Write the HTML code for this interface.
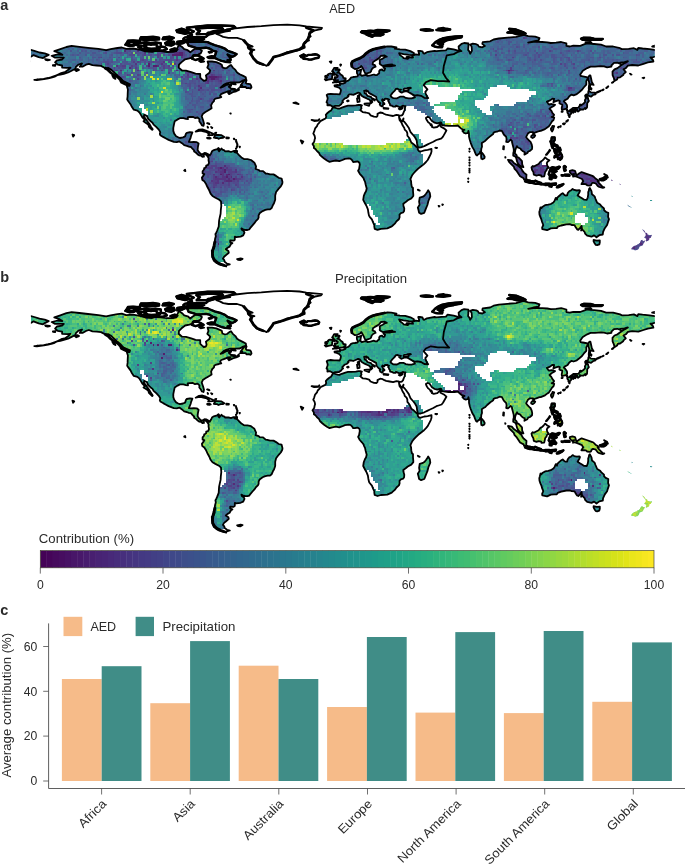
<!DOCTYPE html>
<html><head><meta charset="utf-8"><title>Figure</title>
<style>html,body{margin:0;padding:0;background:#fff}svg{display:block}text{font-family:"Liberation Sans",Arial,sans-serif;fill:#2b2b2b}</style>
</head><body>
<svg width="685" height="865" viewBox="0 0 685 865">
<rect width="685" height="865" fill="#fff"/>
<defs>
<clipPath id="land"><path clip-rule="evenodd" d="M217.2 149.1L218.5 148.0L219.4 149.1L218.4 150.4L219.2 151.3L221.5 148.5L222.4 149.6L224.4 150.4L225.0 151.3L228.4 151.1L231.0 152.0L233.6 151.0L235.4 151.0L234.5 152.2L237.1 153.0L238.8 154.8L241.4 157.4L244.0 159.1L247.5 159.1L251.0 160.0L253.2 161.7L254.4 162.6L256.1 166.4L255.6 169.0L258.7 170.0L259.6 170.9L263.1 171.2L265.7 173.5L267.4 173.7L270.0 174.4L273.5 174.4L276.1 175.9L278.7 177.8L281.6 178.5L282.5 182.0L282.3 183.5L280.8 186.3L278.7 188.6L276.1 192.0L275.2 195.5L275.2 199.8L274.0 203.3L273.0 204.9L271.7 208.0L270.0 209.4L267.8 209.4L265.3 209.9L262.6 211.1L259.6 213.3L258.6 215.4L258.6 217.7L257.9 219.1L256.1 220.8L254.4 223.2L252.5 225.3L250.3 227.9L249.2 229.5L247.5 230.0L245.4 230.0L242.6 229.1L241.4 228.4L241.8 229.8L243.7 231.0L244.5 232.6L243.2 235.4L240.6 236.6L236.2 237.1L234.8 236.7L234.8 239.7L233.6 240.7L230.2 240.4L230.2 242.3L232.4 243.2L231.0 244.0L229.6 246.6L227.6 247.7L225.8 249.2L228.4 251.0L228.8 252.7L225.8 255.3L224.1 256.7L222.9 258.7L224.3 260.1L224.6 261.7L227.0 263.6L229.8 264.3L227.6 265.0L225.0 265.7L226.2 266.5L222.4 265.5L218.9 264.3L216.3 262.7L213.7 260.5L212.3 257.0L212.0 253.6L211.8 250.6L213.7 248.9L214.6 246.6L214.2 244.0L214.6 241.9L215.1 238.8L215.8 236.2L215.4 234.0L216.1 233.1L217.0 231.0L218.7 226.7L218.9 223.2L219.1 220.6L219.8 217.2L220.6 213.7L220.8 210.2L221.3 205.9L221.0 201.4L218.9 199.5L215.4 197.7L212.5 196.0L210.6 193.6L209.2 190.3L207.3 186.8L205.9 183.7L204.3 181.3L202.3 179.9L201.9 177.6L203.6 175.4L204.3 174.0L202.6 173.5L202.6 171.2L204.0 169.5L204.2 168.1L205.0 167.8L206.2 166.9L206.2 165.5L208.1 164.8L209.0 162.9L208.5 160.0L208.7 158.2L207.8 156.8L206.9 155.5L205.0 153.9L203.5 155.3L204.0 156.7L202.4 156.8L201.0 155.6L199.0 155.3L197.7 154.4L195.8 152.5L194.1 151.5L194.1 150.3L192.4 148.7L191.0 147.0L188.9 146.6L186.8 145.8L184.2 145.2L182.0 143.2L179.4 141.4L176.8 142.1L173.8 141.9L171.2 140.9L168.6 139.9L166.0 138.5L163.1 136.9L160.3 135.2L159.8 134.0L160.3 132.1L158.8 129.6L156.2 126.9L153.6 124.6L152.5 122.7L150.4 121.0L148.2 118.9L147.0 116.1L144.2 114.6L143.9 116.5L145.9 119.2L147.7 121.7L149.7 124.4L151.1 126.9L152.7 129.3L152.2 129.8L149.1 127.0L148.2 124.4L145.2 122.4L143.5 121.3L144.9 119.8L142.3 117.3L140.6 114.4L139.5 112.5L137.4 110.6L133.8 109.7L131.5 106.2L130.5 104.2L128.3 101.2L127.2 99.5L127.6 96.7L127.7 93.2L127.9 89.4L126.7 85.6L129.6 85.8L130.0 84.2L127.0 82.8L123.1 81.1L121.0 78.5L117.5 75.6L114.9 73.1L111.4 69.9L108.0 67.9L105.4 68.3L101.0 65.9L96.7 65.5L92.4 65.2L88.9 63.8L86.0 64.7L82.9 66.6L79.7 66.7L82.0 63.4L78.5 64.5L75.9 66.9L75.4 68.8L71.6 70.7L68.1 72.5L63.8 73.8L60.3 74.7L57.2 75.1L61.2 73.0L65.5 71.8L69.0 69.3L70.4 67.6L67.3 67.9L62.1 67.6L62.1 65.5L57.7 64.7L55.1 62.4L56.9 60.3L62.1 59.5L63.8 57.7L60.3 57.7L55.1 57.7L51.7 55.8L57.7 54.3L62.4 54.8L59.5 53.0L54.3 51.1L60.3 49.1L66.4 47.0L71.6 45.9L79.4 46.8L88.0 47.8L98.4 48.9L106.2 50.1L110.6 49.1L117.5 48.0L121.8 47.5L126.2 48.9L133.1 48.5L140.9 49.9L145.2 51.3L152.2 51.8L155.6 50.8L160.8 51.1L166.9 52.0L173.0 51.8L176.4 51.1L176.8 48.9L179.0 44.9L182.5 47.3L184.2 49.2L187.7 50.1L190.3 52.3L192.4 50.6L195.5 48.5L199.8 49.1L201.9 50.8L200.7 53.4L198.1 54.6L193.8 54.8L192.9 57.2L189.4 58.4L185.1 59.3L181.6 62.1L179.0 64.7L178.7 67.6L182.0 70.5L186.0 70.7L191.2 72.1L195.5 73.7L200.2 74.0L200.3 77.7L202.1 79.4L203.8 80.8L205.9 80.3L206.6 78.5L205.9 75.4L209.4 72.8L210.2 70.4L207.3 67.6L208.5 64.7L207.6 61.5L212.0 61.5L216.3 62.1L219.8 63.6L221.8 64.7L222.4 67.3L225.0 68.3L227.0 67.8L229.3 65.9L231.0 65.0L232.8 67.6L235.4 69.9L237.1 72.5L239.7 74.2L243.2 75.9L245.8 77.3L246.1 79.4L243.2 80.4L239.7 82.3L235.4 82.5L230.2 82.5L226.7 83.4L223.6 84.9L220.6 87.7L222.7 87.0L226.7 84.8L231.0 84.4L231.2 85.6L228.8 86.7L230.5 88.0L231.4 89.4L234.5 90.1L237.1 90.1L238.8 88.2L239.0 90.0L236.2 91.3L232.8 92.2L229.1 94.1L228.1 92.9L230.5 91.0L227.6 91.3L225.8 92.2L223.2 93.1L221.0 94.1L220.1 95.7L221.3 97.1L218.9 97.8L215.4 98.6L214.2 99.7L214.0 101.2L212.3 102.8L211.1 105.4L211.6 108.2L209.7 109.5L207.6 110.8L205.4 112.1L202.8 113.9L201.7 116.3L203.1 120.3L204.0 123.6L203.5 125.8L201.9 125.3L200.7 123.1L199.3 121.3L199.5 119.2L197.6 117.5L195.0 118.0L192.9 116.8L189.4 117.0L187.7 117.3L188.0 119.1L186.0 118.9L183.4 118.2L179.9 118.2L177.6 119.4L174.7 121.3L174.0 124.4L173.3 127.9L173.3 130.9L174.2 133.6L176.1 136.2L178.2 137.3L179.9 138.0L183.0 137.3L185.1 136.4L186.0 133.6L186.8 132.8L189.9 132.1L192.4 132.4L191.2 135.4L190.6 137.8L189.8 139.7L188.9 141.9L191.0 142.1L193.8 141.9L196.7 142.1L198.6 143.5L197.9 147.0L197.6 150.1L199.0 152.2L200.7 153.9L202.8 154.1L204.5 153.0L206.2 153.2L208.7 154.6L209.7 155.6L211.1 153.4L212.0 151.3L213.2 150.4L214.6 149.9ZM425.6 209.4L424.3 212.8L421.1 213.9L419.1 212.8L418.5 210.1L417.8 207.6L419.6 204.7L419.1 201.6L419.7 197.6L423.0 196.7L424.6 195.5L426.0 193.8L427.2 192.0L428.2 190.3L429.8 192.9L430.3 196.4L430.0 197.2L428.4 201.0L427.4 205.0ZM522.7 171.2L523.9 172.6L526.5 174.7L526.3 177.3L526.2 179.6L524.1 179.7L523.6 178.2L520.1 176.3L516.8 171.2L514.4 168.6L513.8 166.6L510.9 163.8L509.2 162.2L508.0 159.8L511.8 160.5L513.8 162.9L516.6 164.8L518.7 166.4L521.3 168.6ZM348.0 105.7L351.5 105.7L355.8 105.4L358.4 105.0L360.1 104.9L361.9 105.4L361.0 106.8L361.5 108.3L360.3 110.2L361.7 111.3L362.7 112.1L365.7 112.5L369.1 113.4L370.5 115.3L374.0 116.6L376.6 116.8L377.5 115.8L377.5 113.9L380.1 112.5L382.7 113.0L384.4 114.0L386.1 114.7L389.6 115.3L393.1 116.0L394.8 115.4L396.5 114.9L398.3 115.1L398.9 115.4L399.1 117.7L399.6 120.1L400.9 121.7L401.5 122.7L402.6 125.3L404.3 127.9L404.7 129.6L406.6 131.4L407.3 133.1L407.4 135.7L409.5 138.3L411.3 142.5L413.9 144.4L416.5 147.0L417.8 147.8L417.7 149.4L419.1 151.3L420.8 151.5L424.3 150.3L427.7 149.9L431.5 148.9L431.5 151.5L430.8 153.9L429.5 156.5L427.7 160.0L426.0 162.0L423.4 164.6L421.5 166.0L418.2 168.6L415.6 171.2L413.9 173.0L412.5 174.7L411.6 176.4L410.4 179.0L411.1 181.3L411.3 184.2L411.8 186.8L413.0 188.0L413.0 191.2L413.3 194.6L413.3 196.0L411.3 198.4L407.8 200.3L405.7 202.1L403.3 203.8L403.5 205.9L404.3 208.5L404.1 211.1L403.1 212.5L400.9 213.2L399.5 214.6L399.6 217.2L398.9 219.2L396.5 221.3L394.8 223.7L392.2 226.0L391.2 226.7L387.3 228.4L384.4 228.6L380.9 228.8L377.5 229.8L374.7 228.8L374.3 226.7L374.3 225.0L373.1 222.4L371.9 219.4L369.7 216.8L369.0 215.6L368.4 212.8L367.9 209.4L366.7 206.4L365.0 203.3L363.2 199.8L363.8 195.8L365.0 192.9L366.0 191.3L366.7 188.6L365.7 184.8L365.0 181.6L364.1 179.9L363.6 178.2L363.2 177.8L361.9 176.1L359.8 173.8L358.1 170.7L359.1 168.8L359.4 166.9L359.8 164.6L359.4 162.7L358.2 161.7L357.2 161.5L354.9 161.9L353.2 162.0L352.0 160.1L350.4 158.6L348.7 158.4L347.0 158.6L344.9 158.9L342.5 160.0L339.3 161.2L335.9 160.5L332.4 161.2L329.6 161.9L326.9 160.5L324.1 158.6L322.0 156.8L319.9 154.8L319.1 153.0L316.8 150.8L315.4 149.1L313.9 148.0L313.9 146.3L312.5 144.0L314.2 141.8L314.7 139.2L315.1 138.1L314.6 135.7L313.3 133.5L314.2 131.4L315.1 128.4L317.0 126.2L317.7 124.3L319.6 122.4L320.4 121.1L323.7 119.4L325.5 118.5L326.2 116.8L325.8 114.9L326.9 113.5L329.6 111.3L331.0 110.6L332.1 108.8L332.6 107.5L333.6 107.3L337.6 108.5L339.3 108.7L341.8 107.6L345.4 106.4ZM543.8 159.1L545.2 157.4L547.3 159.3L549.4 160.3L547.3 162.0L546.8 163.4L547.3 165.7L549.0 167.8L547.3 168.1L546.4 170.5L545.2 171.8L544.7 174.4L544.2 176.4L541.4 176.6L541.2 175.4L538.6 175.0L536.5 175.6L533.8 174.7L533.4 172.1L532.0 169.7L531.5 167.4L532.7 166.0L533.9 166.6L535.7 165.5L538.6 164.0L540.4 161.7L542.1 160.8ZM481.4 158.8L481.1 157.0L481.1 155.1L481.3 152.5L481.8 152.5L483.5 154.6L484.7 156.8L484.4 158.2L482.5 159.3ZM220.6 138.0L218.5 138.8L217.2 138.0L215.4 138.0L213.9 137.6L215.4 135.0L218.0 135.0L221.5 135.2L224.3 137.1L223.2 137.8ZM531.2 137.3L531.2 136.1L532.6 134.8L534.3 134.7L535.2 135.5L534.3 136.9L532.6 138.0ZM550.9 128.8L552.0 126.9L552.5 125.8L554.2 126.2L553.5 127.9L553.2 129.6L552.1 131.5L551.1 130.0ZM327.4 99.8L327.7 98.1L326.7 95.0L328.2 94.1L330.7 93.8L334.1 94.1L336.2 94.1L339.7 94.3L340.5 92.4L340.9 90.5L340.7 89.4L339.0 87.7L336.7 86.8L334.7 86.3L334.5 85.4L337.6 84.9L340.0 85.3L339.7 83.4L340.7 83.9L343.0 83.7L345.4 82.7L345.9 81.3L348.3 80.6L349.7 79.4L350.9 77.7L353.2 77.0L354.9 76.8L357.5 76.3L358.1 75.1L357.0 73.3L356.8 70.7L359.3 70.4L361.2 69.5L360.8 71.6L360.5 73.3L359.8 74.5L361.5 75.4L361.9 75.9L364.5 75.2L366.2 75.1L367.6 75.9L370.5 75.4L374.0 74.5L375.4 75.2L377.1 75.1L377.5 74.4L379.2 73.3L379.2 71.1L380.1 69.9L382.0 69.5L383.2 70.7L384.4 70.5L385.1 68.5L383.5 67.6L383.5 66.7L385.8 66.4L389.6 66.4L391.3 66.0L395.1 65.7L393.1 65.2L392.2 64.5L389.6 64.7L386.1 65.2L382.7 65.9L380.9 64.8L379.7 63.8L379.9 62.1L379.7 60.0L382.7 58.6L385.3 56.9L386.8 56.7L384.7 55.5L380.9 55.8L379.5 57.7L378.0 58.9L374.9 60.7L373.0 62.1L372.6 64.3L374.9 65.2L375.6 66.6L373.1 67.8L371.7 69.3L371.0 71.4L370.2 72.3L367.6 73.1L367.4 73.5L365.2 73.3L364.6 72.1L363.4 69.5L362.2 67.3L361.3 65.9L360.1 67.3L357.5 68.6L354.9 69.0L352.5 67.4L351.6 64.8L351.3 62.9L351.8 61.7L353.7 61.0L355.8 60.1L358.4 59.1L361.0 57.7L363.6 56.0L365.3 54.3L367.6 52.9L369.7 51.1L372.3 49.9L375.7 48.5L379.2 47.8L382.7 47.2L387.5 46.3L391.3 46.5L396.5 47.5L394.8 48.7L400.0 49.4L405.2 49.6L410.4 51.1L413.9 53.0L413.9 54.6L412.1 55.1L408.7 54.9L403.5 54.1L399.1 53.2L400.0 55.1L403.1 57.4L403.5 58.2L407.8 58.8L408.7 58.1L406.6 56.9L408.7 56.9L411.3 57.5L413.0 57.5L412.1 55.8L415.6 54.4L419.1 54.9L419.1 53.4L418.2 50.8L419.9 50.8L422.5 51.3L423.4 53.4L424.3 53.6L426.9 52.2L429.5 51.7L434.6 50.8L436.4 51.1L441.6 50.6L445.9 50.4L447.6 48.5L453.7 49.4L458.0 50.6L461.5 51.1L458.9 49.1L458.6 46.5L461.5 43.9L464.1 43.0L468.4 43.5L468.4 46.5L468.1 49.9L469.3 51.3L470.2 53.7L471.9 50.8L471.6 46.5L470.2 44.7L472.8 43.7L476.2 44.2L478.0 45.1L478.8 46.6L482.3 47.3L484.9 45.9L482.3 43.9L482.7 42.1L490.1 41.3L493.6 39.5L498.8 38.5L507.4 37.6L516.1 36.9L523.6 34.8L528.2 36.1L535.2 36.6L539.5 38.1L538.6 40.4L533.4 41.3L528.2 42.6L533.4 41.8L538.6 41.8L542.1 42.0L547.3 42.3L550.8 43.0L556.0 42.6L561.2 42.0L566.4 43.3L566.4 45.9L569.8 46.5L573.3 45.6L580.2 45.8L584.6 44.2L587.2 43.3L594.1 44.0L601.0 44.7L606.2 46.5L613.1 46.5L620.1 48.2L621.8 49.1L628.7 48.9L633.9 48.2L637.4 49.9L638.3 48.0L642.6 48.5L649.5 49.1L654.7 49.9L658.2 50.8L663.4 52.5L668.6 53.4L672.6 54.9L668.6 56.9L666.9 58.1L662.5 57.2L657.3 55.1L655.3 56.5L652.1 57.5L650.4 57.4L653.0 60.0L653.5 61.5L647.8 62.4L643.5 63.8L638.3 65.5L632.2 65.0L627.9 65.7L625.8 68.1L623.5 69.3L625.8 72.1L623.5 74.2L623.2 75.1L620.1 77.3L617.8 77.7L617.1 79.4L614.4 81.1L614.0 78.5L612.6 75.1L612.5 71.6L614.5 69.3L617.5 68.1L620.9 65.5L623.5 63.8L626.1 62.4L627.9 61.2L624.4 62.1L620.1 62.6L620.9 64.1L617.5 62.6L614.0 62.9L611.4 65.5L611.4 66.7L607.1 67.3L604.1 66.4L601.0 66.2L595.0 66.7L590.6 66.7L587.2 68.1L582.8 70.7L582.0 71.9L580.2 74.5L580.7 75.9L582.8 76.3L585.4 76.8L587.7 77.3L587.5 79.0L586.3 81.1L586.3 84.6L583.7 87.5L582.0 89.8L579.4 92.0L576.8 94.1L573.6 95.3L571.6 94.6L569.3 96.2L567.6 98.8L564.6 100.4L563.8 101.4L565.3 102.8L566.9 105.0L567.2 107.1L566.5 108.7L563.8 109.4L561.9 109.9L561.7 108.0L562.2 105.7L562.2 104.5L560.6 104.0L559.4 103.3L559.8 101.0L558.4 100.4L555.1 101.4L553.4 102.3L553.9 99.7L554.2 98.8L552.5 98.6L550.1 100.4L546.9 101.7L548.2 103.6L549.0 104.5L551.6 104.0L555.1 104.9L554.2 105.6L551.5 107.1L549.5 108.8L551.3 110.6L552.3 112.7L554.1 114.9L553.4 116.1L551.6 117.0L554.2 117.7L553.5 120.1L552.1 121.3L550.2 124.4L548.7 126.5L547.5 127.2L545.0 129.1L540.7 130.9L539.5 131.0L536.9 131.9L534.3 132.8L533.9 134.3L533.1 134.1L533.1 132.2L531.7 132.2L530.0 132.1L527.9 133.6L526.3 136.6L526.2 137.3L527.7 139.2L529.4 140.9L530.5 141.8L531.7 144.4L532.2 147.0L532.0 149.1L530.0 150.8L528.2 151.5L527.4 153.0L524.4 154.6L524.8 152.2L523.0 151.3L521.3 149.9L520.4 148.5L517.8 147.5L517.0 146.1L516.1 147.8L515.2 150.4L514.9 153.4L516.6 155.1L517.0 157.0L518.7 157.7L520.4 159.4L522.0 161.2L522.2 164.3L523.4 167.1L522.0 166.9L519.6 165.5L518.4 164.3L517.1 161.7L516.6 159.8L516.3 158.2L515.2 156.5L513.2 155.6L513.3 153.0L513.8 151.3L513.7 148.7L512.8 145.2L512.1 142.6L511.9 140.9L510.6 139.7L509.5 140.9L508.0 142.1L506.2 141.8L506.6 139.2L506.2 136.9L503.8 134.5L501.9 130.9L499.6 130.5L497.0 131.7L495.3 131.9L493.6 132.6L493.2 134.0L491.5 135.2L489.8 136.6L487.2 138.8L485.4 140.7L483.5 141.9L481.8 143.0L482.0 146.8L481.3 148.7L481.1 151.7L480.1 151.7L479.7 153.4L478.3 154.2L477.1 155.5L476.1 154.8L474.9 152.2L474.2 150.1L472.4 147.1L470.7 142.8L469.8 140.0L469.0 136.6L469.0 134.0L468.8 132.8L468.4 131.0L467.9 132.8L465.8 133.5L464.1 132.8L462.4 130.9L464.5 129.8L462.4 129.3L461.0 128.4L458.9 126.5L458.0 125.5L454.6 125.8L450.8 125.8L448.5 125.8L445.0 125.5L442.1 125.0L441.2 122.7L440.4 122.4L437.2 123.4L434.6 122.7L432.0 121.1L430.8 119.4L429.6 117.5L427.7 116.8L426.0 117.7L426.0 118.5L426.9 120.3L428.2 122.2L429.8 123.4L430.8 125.3L431.5 124.3L432.2 126.2L431.9 127.0L433.8 127.6L437.1 127.0L438.6 125.7L440.4 123.9L440.5 126.5L444.4 128.6L446.4 130.5L444.7 133.6L443.0 136.6L441.6 138.3L438.6 139.3L436.4 140.0L433.3 141.8L429.5 143.5L427.7 144.4L424.3 146.1L420.8 147.3L418.2 147.5L417.7 146.1L417.1 143.9L416.8 141.3L416.5 140.0L414.7 136.9L413.0 134.8L410.6 132.2L409.5 129.6L408.7 127.7L407.3 125.8L406.1 124.1L404.3 121.8L403.1 121.0L403.5 118.4L402.4 121.0L402.1 121.5L400.9 120.5L399.3 117.7L398.9 115.4L400.9 115.6L402.2 115.1L403.1 113.9L403.5 112.7L404.3 110.8L404.8 109.7L404.8 108.0L405.5 106.1L404.3 106.1L402.8 105.7L401.0 106.8L399.6 107.1L396.0 105.6L395.5 106.6L393.4 106.6L391.7 105.7L390.1 105.4L389.9 103.8L389.2 103.0L388.7 101.4L388.2 101.0L388.2 100.2L389.1 99.5L388.0 99.0L387.7 98.8L385.1 98.6L384.2 99.7L384.4 100.2L383.4 99.8L382.5 99.3L382.0 100.2L382.7 101.4L383.2 102.4L384.4 103.5L384.4 104.2L383.0 103.8L383.0 104.9L382.7 106.2L381.8 106.4L380.9 105.7L380.4 105.7L379.7 104.2L380.4 103.3L379.2 102.3L378.7 102.1L377.8 101.0L376.4 99.3L376.4 97.9L376.1 96.7L374.2 95.7L371.2 94.1L369.1 93.1L367.9 91.0L366.4 91.7L366.5 90.3L364.1 90.8L364.5 91.7L364.6 93.2L366.2 93.9L367.4 95.8L370.9 96.9L372.1 98.3L374.0 99.1L374.9 100.0L374.7 100.5L372.6 99.3L371.6 100.7L372.4 101.9L371.4 103.0L370.0 103.8L370.4 102.8L370.7 101.9L369.8 100.0L368.4 99.1L367.4 98.8L366.2 98.1L363.9 97.1L362.0 96.0L361.0 95.0L360.6 94.1L359.8 93.1L358.2 92.6L357.0 93.2L355.5 93.8L353.2 94.8L352.0 94.5L350.6 94.3L349.2 94.3L348.0 95.7L348.5 96.2L346.6 97.8L344.9 98.3L344.2 99.0L342.3 101.0L343.1 102.3L341.9 103.1L341.2 104.3L339.0 105.9L335.2 105.9L333.4 106.9L331.9 106.1L330.0 105.0L327.4 105.4L327.5 103.1L326.5 102.3ZM393.1 98.1L397.0 98.3L400.0 96.7L403.8 96.7L405.7 97.9L408.7 98.4L411.6 98.4L414.9 97.4L413.9 95.0L411.6 93.9L408.3 92.0L406.2 91.2L404.1 91.5L401.7 92.6L400.7 92.2L399.1 90.8L401.0 89.6L398.3 89.3L397.7 88.7L396.0 88.9L394.3 91.2L392.5 92.9L391.2 94.6L390.5 95.8L391.3 96.9ZM406.2 90.8L407.8 90.8L408.7 90.0L408.3 89.4L409.2 88.6L410.9 88.0L410.4 87.7L408.0 87.9L406.6 88.6L404.1 88.7L403.5 89.6L404.0 90.8ZM245.8 82.8L246.6 83.7L250.1 84.1L251.0 85.4L251.5 87.2L250.6 88.6L248.9 88.0L246.6 88.2L245.8 87.0L243.2 87.0L240.0 87.0L242.3 85.4L240.6 85.3L243.2 82.0L244.4 80.4L246.6 80.1ZM328.4 79.7L325.8 80.3L324.8 79.2L326.3 78.3L327.2 77.3L325.1 77.0L325.3 75.9L328.1 75.4L327.7 74.9L328.4 74.0L330.0 73.5L332.2 73.8L333.1 74.9L332.1 75.9L332.2 77.1L331.9 79.0ZM337.3 80.4L335.9 80.1L334.0 80.1L333.6 79.6L334.7 79.2L335.7 78.5L334.7 78.0L334.8 77.1L337.4 77.0L337.8 75.7L336.6 75.1L336.6 74.4L334.3 74.9L334.0 74.4L334.7 73.5L334.1 72.8L332.7 73.7L333.3 71.8L332.1 71.2L332.7 70.7L332.7 70.2L333.4 69.2L334.1 67.9L337.6 67.9L337.4 68.3L336.0 69.2L335.5 69.9L339.3 69.5L339.7 69.9L339.3 70.5L338.3 71.9L337.3 72.5L339.3 72.8L340.4 74.2L342.6 75.7L342.6 76.6L343.1 76.8L343.3 77.8L345.7 78.3L345.6 79.4L344.2 80.3L345.2 80.9L341.1 81.5L339.3 81.8L336.6 82.5L335.5 82.2L332.9 82.7L334.1 82.2L335.0 81.1L335.7 80.8L337.6 80.8L338.1 80.1ZM29.6 61.5L29.1 61.6L29.1 60.0ZM43.0 58.1L38.7 57.2L33.5 55.1L31.4 56.5L29.1 57.3L29.1 49.6L30.9 49.9L34.3 50.8L39.5 52.5L44.7 53.4L48.7 54.9L44.7 56.9ZM227.6 60.3L230.2 62.2L225.0 61.7L221.5 60.8L218.0 59.5L214.6 57.9L209.4 58.1L207.6 57.2L211.1 56.3L214.6 56.5L215.4 54.3L216.3 51.7L212.8 50.6L209.4 48.5L205.9 47.7L200.7 48.2L196.4 48.2L193.8 47.2L188.6 45.6L187.0 41.8L195.5 41.6L200.7 41.8L203.3 41.8L207.6 42.1L210.2 43.3L214.6 45.1L220.6 46.8L225.0 48.7L227.6 50.8L232.8 52.5L236.6 54.1L234.5 55.8L231.9 56.9L227.6 54.6L230.2 57.7L230.7 59.8ZM639.7 246.4L639.1 247.7L638.6 249.0L637.1 250.1L634.6 250.3L633.1 249.6L631.5 249.6L631.3 248.4L633.1 246.6L634.5 245.8L635.7 245.6L637.8 244.4L639.1 243.5L640.2 241.8L641.0 240.6L642.1 239.7L643.1 240.9L644.9 240.7L644.7 241.9L643.8 243.0L642.6 245.4ZM595.8 244.9L594.6 243.2L593.6 241.4L593.6 240.0L596.7 240.7L599.8 240.4L599.8 242.6L599.3 244.4L597.2 245.1ZM650.4 235.2L652.1 234.8L651.3 236.6L650.9 237.4L649.5 238.0L649.2 239.7L646.6 241.6L645.7 241.1L646.2 239.3L646.1 238.6L644.0 237.6L644.5 237.1L645.6 235.7L645.7 234.3L644.7 232.6L643.0 230.5L642.1 229.1L644.2 230.5L645.2 231.9L645.7 233.3L646.9 232.8L647.8 234.7ZM600.2 204.5L601.4 206.2L604.0 208.5L604.1 210.2L606.2 212.0L608.3 212.8L608.1 217.0L609.0 219.1L607.9 222.4L607.1 225.0L604.8 228.2L603.1 231.9L602.8 234.5L599.3 235.2L596.5 237.3L594.1 235.4L591.5 236.7L587.2 235.7L585.1 233.6L584.6 231.9L582.8 230.2L582.1 228.8L581.1 230.5L581.8 227.6L581.6 225.8L580.2 227.9L578.3 229.8L577.1 229.3L575.4 226.7L574.5 225.1L571.6 225.0L569.8 224.1L566.4 224.3L561.2 225.5L557.7 226.7L556.8 228.2L554.1 228.2L550.8 228.4L547.1 230.2L542.3 229.1L542.1 227.6L543.3 225.0L542.1 222.0L541.4 219.4L540.4 217.2L539.5 214.6L539.3 212.0L539.8 210.2L540.5 207.3L541.4 208.1L542.3 206.9L545.0 205.2L548.3 204.7L550.8 204.0L553.4 202.4L554.6 200.7L555.8 197.9L557.0 199.5L557.3 197.7L559.1 196.0L561.2 194.1L562.7 193.2L564.6 195.1L565.5 195.5L567.2 195.3L567.7 193.1L569.5 191.0L570.7 190.6L572.6 188.9L574.2 189.9L576.8 190.5L579.4 190.1L580.0 190.8L579.4 192.5L578.3 194.3L577.6 195.5L579.9 197.1L582.0 198.3L584.2 199.7L586.8 199.8L587.8 197.2L588.2 194.6L588.2 192.0L588.7 191.2L589.1 188.9L589.8 188.0L591.5 191.2L592.0 194.3L594.6 196.4L595.5 198.8L597.2 202.8ZM632.2 208.1L628.7 206.4L627.0 204.5L631.3 207.3ZM651.8 201.0L650.2 200.9L650.1 200.0L652.3 200.0ZM631.5 195.5L632.9 196.4L631.9 197.1ZM619.2 183.4L620.9 184.4L620.1 184.9ZM610.9 179.0L613.0 181.1L611.9 180.9ZM579.4 173.3L581.6 172.1L586.6 173.8L591.7 175.6L593.4 176.3L595.5 178.5L597.6 179.9L598.9 181.1L597.6 181.3L599.3 183.4L601.0 185.1L602.8 187.0L604.3 187.3L602.8 187.9L599.3 187.0L597.7 186.0L595.8 183.5L593.7 182.8L592.4 182.8L591.5 183.9L591.1 185.1L589.8 185.6L587.2 185.3L585.9 184.2L583.3 183.9L581.4 184.1L582.5 182.2L583.3 181.3L582.0 179.0L578.5 177.5L575.9 176.4L574.2 176.1L573.1 176.6L572.9 175.2L574.2 174.0L571.9 174.4L571.6 174.5L569.8 172.1L569.8 170.9L572.4 170.2L575.0 170.9L575.4 171.8L575.9 173.8L576.8 175.2ZM562.2 156.8L561.5 158.6L560.1 159.8L560.5 157.7L558.0 159.1L557.7 157.0L556.5 156.5L554.4 157.5L554.7 156.0L556.8 154.6L558.9 154.8L560.3 152.5L561.7 154.8ZM557.5 145.6L557.9 147.7L556.5 146.6L555.3 145.9L553.7 145.4L551.8 145.6L551.3 143.9L550.4 141.3L551.5 140.7L551.5 139.2L551.8 137.4L554.6 137.4L554.7 140.0L553.5 141.8L553.5 143.5L555.1 144.7ZM573.3 112.8L572.4 112.0L571.6 111.8L572.8 110.8L575.0 109.9L576.2 110.2L575.4 112.0L574.2 111.4ZM587.0 107.6L585.4 109.0L585.1 107.8L583.5 109.5L582.3 109.5L580.2 109.5L579.9 108.8L580.0 110.1L578.1 111.6L576.9 110.2L577.3 109.5L575.0 109.7L572.2 110.1L569.8 110.8L571.0 112.0L571.6 112.8L570.7 114.2L569.3 115.8L568.4 115.3L568.4 113.7L567.6 113.0L567.2 111.8L568.6 111.1L569.6 110.6L570.5 109.7L571.6 109.0L573.3 107.8L575.4 107.8L578.1 107.6L578.5 107.6L579.7 105.7L579.9 104.7L580.7 104.5L580.6 105.7L583.7 103.6L585.1 101.9L584.9 100.2L585.4 99.1L585.9 98.1L587.2 97.6L588.0 97.8L588.2 99.3L588.9 100.9L587.2 103.1L587.2 105.4ZM586.1 96.0L587.2 97.2L585.6 97.6L585.1 95.7L586.1 94.5L587.7 94.5L588.2 93.2L588.4 91.2L588.7 90.6L591.0 92.4L594.6 92.7L595.5 94.3L593.0 95.0L591.0 96.7L588.2 95.7ZM591.5 88.4L591.3 89.6L589.8 88.6L588.9 90.0L588.7 88.0L589.1 84.9L589.2 82.8L588.5 79.9L588.4 77.1L589.4 75.4L590.4 75.4L591.1 78.5L591.8 82.0L593.6 84.9L590.6 84.2L589.9 87.2Z"/></clipPath>
<clipPath id="frame"><rect x="30.9" y="22.2" width="623.9" height="247.8"/></clipPath>
<g id="outline" fill="none" stroke="#000" stroke-linejoin="round" stroke-linecap="round">
<path d="M51.7 55.8L57.7 54.3L62.4 54.8L59.5 53.0L54.3 51.1L60.3 49.1L66.4 47.0L71.6 45.9L79.4 46.8L88.0 47.8L98.4 48.9L106.2 50.1L110.6 49.1L117.5 48.0L121.8 47.5L126.2 48.9L133.1 48.5L140.9 49.9L145.2 51.3L152.2 51.8L155.6 50.8L160.8 51.1L166.9 52.0L173.0 51.8L176.4 51.1L176.8 48.9L179.0 44.9L182.5 47.3L184.2 49.2L187.7 50.1L190.3 52.3L192.4 50.6L195.5 48.5L199.8 49.1L201.9 50.8L200.7 53.4L198.1 54.6L193.8 54.8L192.9 57.2L189.4 58.4L185.1 59.3L181.6 62.1L179.0 64.7L178.7 67.6L182.0 70.5L186.0 70.7L191.2 72.1L195.5 73.7L200.2 74.0L200.3 77.7L202.1 79.4L203.8 80.8L205.9 80.3L206.6 78.5L205.9 75.4L209.4 72.8L210.2 70.4L207.3 67.6L208.5 64.7L207.6 61.5L212.0 61.5L216.3 62.1L219.8 63.6L221.8 64.7L222.4 67.3L225.0 68.3L227.0 67.8L229.3 65.9L231.0 65.0L232.8 67.6L235.4 69.9L237.1 72.5L239.7 74.2L243.2 75.9L245.8 77.3L246.1 79.4L243.2 80.4L239.7 82.3L235.4 82.5L230.2 82.5L226.7 83.4L223.6 84.9L220.6 87.7L222.7 87.0L226.7 84.8L231.0 84.4L231.2 85.6L228.8 86.7L230.5 88.0L231.4 89.4L234.5 90.1L237.1 90.1L238.8 88.2L239.0 90.0L236.2 91.3L232.8 92.2L229.1 94.1L228.1 92.9L230.5 91.0L227.6 91.3L225.8 92.2L223.2 93.1L221.0 94.1L220.1 95.7L221.3 97.1L218.9 97.8L215.4 98.6L214.2 99.7L214.0 101.2L212.3 102.8L211.1 105.4L211.6 108.2L209.7 109.5L207.6 110.8L205.4 112.1L202.8 113.9L201.7 116.3L203.1 120.3L204.0 123.6L203.5 125.8L201.9 125.3L200.7 123.1L199.3 121.3L199.5 119.2L197.6 117.5L195.0 118.0L192.9 116.8L189.4 117.0L187.7 117.3L188.0 119.1L186.0 118.9L183.4 118.2L179.9 118.2L177.6 119.4L174.7 121.3L174.0 124.4L173.3 127.9L173.3 130.9L174.2 133.6L176.1 136.2L178.2 137.3L179.9 138.0L183.0 137.3L185.1 136.4L186.0 133.6L186.8 132.8L189.9 132.1L192.4 132.4L191.2 135.4L190.6 137.8L189.8 139.7L188.9 141.9L191.0 142.1L193.8 141.9L196.7 142.1L198.6 143.5L197.9 147.0L197.6 150.1L199.0 152.2L200.7 153.9L202.8 154.1L204.5 153.0L206.2 153.2L208.7 154.6L207.8 156.8L206.9 155.5L205.0 153.9L203.5 155.3L204.0 156.7L202.4 156.8L201.0 155.6L199.0 155.3L197.7 154.4L195.8 152.5L194.1 151.5L194.1 150.3L192.4 148.7L191.0 147.0L188.9 146.6L186.8 145.8L184.2 145.2L182.0 143.2L179.4 141.4L176.8 142.1L173.8 141.9L171.2 140.9L168.6 139.9L166.0 138.5L163.1 136.9L160.3 135.2L159.8 134.0L160.3 132.1L158.8 129.6L156.2 126.9L153.6 124.6L152.5 122.7L150.4 121.0L148.2 118.9L147.0 116.1L144.2 114.6L143.9 116.5L145.9 119.2L147.7 121.7L149.7 124.4L151.1 126.9L152.7 129.3L152.2 129.8L149.1 127.0L148.2 124.4L145.2 122.4L143.5 121.3L144.9 119.8L142.3 117.3L140.6 114.4L139.5 112.5L137.4 110.6L133.8 109.7L131.5 106.2L130.5 104.2L128.3 101.2L127.2 99.5L127.6 96.7L127.7 93.2L127.9 89.4L126.7 85.6L129.6 85.8L130.0 84.2L127.0 82.8L123.1 81.1L121.0 78.5L117.5 75.6L114.9 73.1L111.4 69.9L108.0 67.9L105.4 68.3L101.0 65.9L96.7 65.5L92.4 65.2L88.9 63.8L86.0 64.7L82.9 66.6L79.7 66.7L82.0 63.4L78.5 64.5L75.9 66.9L75.4 68.8L71.6 70.7L68.1 72.5L63.8 73.8L60.3 74.7L57.2 75.1L61.2 73.0L65.5 71.8L69.0 69.3L70.4 67.6L67.3 67.9L62.1 67.6L62.1 65.5L57.7 64.7L55.1 62.4L56.9 60.3L62.1 59.5L63.8 57.7L60.3 57.7L55.1 57.7ZM208.7 154.6L209.7 155.6L211.1 153.4L212.0 151.3L213.2 150.4L214.6 149.9L217.2 149.1L218.5 148.0L219.4 149.1L218.4 150.4L219.2 151.3L221.5 148.5L222.4 149.6L224.4 150.4L225.0 151.3L228.4 151.1L231.0 152.0L233.6 151.0L235.4 151.0L234.5 152.2L237.1 153.0L238.8 154.8L241.4 157.4L244.0 159.1L247.5 159.1L251.0 160.0L253.2 161.7L254.4 162.6L256.1 166.4L255.6 169.0L258.7 170.0L259.6 170.9L263.1 171.2L265.7 173.5L267.4 173.7L270.0 174.4L273.5 174.4L276.1 175.9L278.7 177.8L281.6 178.5L282.5 182.0L282.3 183.5L280.8 186.3L278.7 188.6L276.1 192.0L275.2 195.5L275.2 199.8L274.0 203.3L273.0 204.9L271.7 208.0L270.0 209.4L267.8 209.4L265.3 209.9L262.6 211.1L259.6 213.3L258.6 215.4L258.6 217.7L257.9 219.1L256.1 220.8L254.4 223.2L252.5 225.3L250.3 227.9L249.2 229.5L247.5 230.0L245.4 230.0L242.6 229.1L241.4 228.4L241.8 229.8L243.7 231.0L244.5 232.6L243.2 235.4L240.6 236.6L236.2 237.1L234.8 236.7L234.8 239.7L233.6 240.7L230.2 240.4L230.2 242.3L232.4 243.2L231.0 244.0L229.6 246.6L227.6 247.7L225.8 249.2L228.4 251.0L228.8 252.7L225.8 255.3L224.1 256.7L222.9 258.7L224.3 260.1L224.6 261.7L227.0 263.6L229.8 264.3L227.6 265.0L225.0 265.7L226.2 266.5L222.4 265.5L218.9 264.3L216.3 262.7L213.7 260.5L212.3 257.0L212.0 253.6L211.8 250.6L213.7 248.9L214.6 246.6L214.2 244.0L214.6 241.9L215.1 238.8L215.8 236.2L215.4 234.0L216.1 233.1L217.0 231.0L218.7 226.7L218.9 223.2L219.1 220.6L219.8 217.2L220.6 213.7L220.8 210.2L221.3 205.9L221.0 201.4L218.9 199.5L215.4 197.7L212.5 196.0L210.6 193.6L209.2 190.3L207.3 186.8L205.9 183.7L204.3 181.3L202.3 179.9L201.9 177.6L203.6 175.4L204.3 174.0L202.6 173.5L202.6 171.2L204.0 169.5L204.2 168.1L205.0 167.8L206.2 166.9L206.2 165.5L208.1 164.8L209.0 162.9L208.5 160.0L208.7 158.2L207.8 156.8ZM332.6 107.5L333.6 107.3L337.6 108.5L339.3 108.7L341.8 107.6L345.4 106.4L348.0 105.7L351.5 105.7L355.8 105.4L358.4 105.0L360.1 104.9L361.9 105.4L361.0 106.8L361.5 108.3L360.3 110.2L361.7 111.3L362.7 112.1L365.7 112.5L369.1 113.4L370.5 115.3L374.0 116.6L376.6 116.8L377.5 115.8L377.5 113.9L380.1 112.5L382.7 113.0L384.4 114.0L386.1 114.7L389.6 115.3L393.1 116.0L394.8 115.4L396.5 114.9L398.3 115.1L398.9 115.4L399.1 117.7L399.6 120.1L400.9 121.7L401.5 122.7L402.6 125.3L404.3 127.9L404.7 129.6L406.6 131.4L407.3 133.1L407.4 135.7L409.5 138.3L411.3 142.5L413.9 144.4L416.5 147.0L417.8 147.8L417.7 149.4L419.1 151.3L420.8 151.5L424.3 150.3L427.7 149.9L431.5 148.9L431.5 151.5L430.8 153.9L429.5 156.5L427.7 160.0L426.0 162.0L423.4 164.6L421.5 166.0L418.2 168.6L415.6 171.2L413.9 173.0L412.5 174.7L411.6 176.4L410.4 179.0L411.1 181.3L411.3 184.2L411.8 186.8L413.0 188.0L413.0 191.2L413.3 194.6L413.3 196.0L411.3 198.4L407.8 200.3L405.7 202.1L403.3 203.8L403.5 205.9L404.3 208.5L404.1 211.1L403.1 212.5L400.9 213.2L399.5 214.6L399.6 217.2L398.9 219.2L396.5 221.3L394.8 223.7L392.2 226.0L391.2 226.7L387.3 228.4L384.4 228.6L380.9 228.8L377.5 229.8L374.7 228.8L374.3 226.7L374.3 225.0L373.1 222.4L371.9 219.4L369.7 216.8L369.0 215.6L368.4 212.8L367.9 209.4L366.7 206.4L365.0 203.3L363.2 199.8L363.8 195.8L365.0 192.9L366.0 191.3L366.7 188.6L365.7 184.8L365.0 181.6L364.1 179.9L363.6 178.2L363.2 177.8L361.9 176.1L359.8 173.8L358.1 170.7L359.1 168.8L359.4 166.9L359.8 164.6L359.4 162.7L358.2 161.7L357.2 161.5L354.9 161.9L353.2 162.0L352.0 160.1L350.4 158.6L348.7 158.4L347.0 158.6L344.9 158.9L342.5 160.0L339.3 161.2L335.9 160.5L332.4 161.2L329.6 161.9L326.9 160.5L324.1 158.6L322.0 156.8L319.9 154.8L319.1 153.0L316.8 150.8L315.4 149.1L313.9 148.0L313.9 146.3L312.5 144.0L314.2 141.8L314.7 139.2L315.1 138.1L314.6 135.7L313.3 133.5L314.2 131.4L315.1 128.4L317.0 126.2L317.7 124.3L319.6 122.4L320.4 121.1L323.7 119.4L325.5 118.5L326.2 116.8L325.8 114.9L326.9 113.5L329.6 111.3L331.0 110.6L332.1 108.8ZM333.4 106.9L331.9 106.1L330.0 105.0L327.4 105.4L327.5 103.1L326.5 102.3L327.4 99.8L327.7 98.1L326.7 95.0L328.2 94.1L330.7 93.8L334.1 94.1L336.2 94.1L339.7 94.3L340.5 92.4L340.9 90.5L340.7 89.4L339.0 87.7L336.7 86.8L334.7 86.3L334.5 85.4L337.6 84.9L340.0 85.3L339.7 83.4L340.7 83.9L343.0 83.7L345.4 82.7L345.9 81.3L348.3 80.6L349.7 79.4L350.9 77.7L353.2 77.0L354.9 76.8L357.5 76.3L358.1 75.1L357.0 73.3L356.8 70.7L359.3 70.4L361.2 69.5L360.8 71.6L360.5 73.3L359.8 74.5L361.5 75.4L361.9 75.9L364.5 75.2L366.2 75.1L367.6 75.9L370.5 75.4L374.0 74.5L375.4 75.2L377.1 75.1L377.5 74.4L379.2 73.3L379.2 71.1L380.1 69.9L382.0 69.5L383.2 70.7L384.4 70.5L385.1 68.5L383.5 67.6L383.5 66.7L385.8 66.4L389.6 66.4L391.3 66.0L395.1 65.7L393.1 65.2L392.2 64.5L389.6 64.7L386.1 65.2L382.7 65.9L380.9 64.8L379.7 63.8L379.9 62.1L379.7 60.0L382.7 58.6L385.3 56.9L386.8 56.7L384.7 55.5L380.9 55.8L379.5 57.7L378.0 58.9L374.9 60.7L373.0 62.1L372.6 64.3L374.9 65.2L375.6 66.6L373.1 67.8L371.7 69.3L371.0 71.4L370.2 72.3L367.6 73.1L367.4 73.5L365.2 73.3L364.6 72.1L363.4 69.5L362.2 67.3L361.3 65.9L360.1 67.3L357.5 68.6L354.9 69.0L352.5 67.4L351.6 64.8L351.3 62.9L351.8 61.7L353.7 61.0L355.8 60.1L358.4 59.1L361.0 57.7L363.6 56.0L365.3 54.3L367.6 52.9L369.7 51.1L372.3 49.9L375.7 48.5L379.2 47.8L382.7 47.2L387.5 46.3L391.3 46.5L396.5 47.5L394.8 48.7L400.0 49.4L405.2 49.6L410.4 51.1L413.9 53.0L413.9 54.6L412.1 55.1L408.7 54.9L403.5 54.1L399.1 53.2L400.0 55.1L403.1 57.4L403.5 58.2L407.8 58.8L408.7 58.1L406.6 56.9L408.7 56.9L411.3 57.5L413.0 57.5L412.1 55.8L415.6 54.4L419.1 54.9L419.1 53.4L418.2 50.8L419.9 50.8L422.5 51.3L423.4 53.4L424.3 53.6L426.9 52.2L429.5 51.7L434.6 50.8L436.4 51.1L441.6 50.6L445.9 50.4L447.6 48.5L453.7 49.4L458.0 50.6L461.5 51.1L458.9 49.1L458.6 46.5L461.5 43.9L464.1 43.0L468.4 43.5L468.4 46.5L468.1 49.9L469.3 51.3L470.2 53.7L471.9 50.8L471.6 46.5L470.2 44.7L472.8 43.7L476.2 44.2L478.0 45.1L478.8 46.6L482.3 47.3L484.9 45.9L482.3 43.9L482.7 42.1L490.1 41.3L493.6 39.5L498.8 38.5L507.4 37.6L516.1 36.9L523.6 34.8L528.2 36.1L535.2 36.6L539.5 38.1L538.6 40.4L533.4 41.3L528.2 42.6L533.4 41.8L538.6 41.8L542.1 42.0L547.3 42.3L550.8 43.0L556.0 42.6L561.2 42.0L566.4 43.3L566.4 45.9L569.8 46.5L573.3 45.6L580.2 45.8L584.6 44.2L587.2 43.3L594.1 44.0L601.0 44.7L606.2 46.5L613.1 46.5L620.1 48.2L621.8 49.1L628.7 48.9L633.9 48.2L637.4 49.9L638.3 48.0L642.6 48.5L649.5 49.1L654.7 49.9L658.2 50.8L663.4 52.5L668.6 53.4L672.6 54.9L668.6 56.9L666.9 58.1L662.5 57.2L657.3 55.1L655.3 56.5L652.1 57.5L650.4 57.4L653.0 60.0L653.5 61.5L647.8 62.4L643.5 63.8L638.3 65.5L632.2 65.0L627.9 65.7L625.8 68.1L623.5 69.3L625.8 72.1L623.5 74.2L623.2 75.1L620.1 77.3L617.8 77.7L617.1 79.4L614.4 81.1L614.0 78.5L612.6 75.1L612.5 71.6L614.5 69.3L617.5 68.1L620.9 65.5L623.5 63.8L626.1 62.4L627.9 61.2L624.4 62.1L620.1 62.6L620.9 64.1L617.5 62.6L614.0 62.9L611.4 65.5L611.4 66.7L607.1 67.3L604.1 66.4L601.0 66.2L595.0 66.7L590.6 66.7L587.2 68.1L582.8 70.7L582.0 71.9L580.2 74.5L580.7 75.9L582.8 76.3L585.4 76.8L587.7 77.3L587.5 79.0L586.3 81.1L586.3 84.6L583.7 87.5L582.0 89.8L579.4 92.0L576.8 94.1L573.6 95.3L571.6 94.6L569.3 96.2L567.6 98.8L564.6 100.4L563.8 101.4L565.3 102.8L566.9 105.0L567.2 107.1L566.5 108.7L563.8 109.4L561.9 109.9L561.7 108.0L562.2 105.7L562.2 104.5L560.6 104.0L559.4 103.3L559.8 101.0L558.4 100.4L555.1 101.4L553.4 102.3L553.9 99.7L554.2 98.8L552.5 98.6L550.1 100.4L546.9 101.7L548.2 103.6L549.0 104.5L551.6 104.0L555.1 104.9L554.2 105.6L551.5 107.1L549.5 108.8L551.3 110.6L552.3 112.7L554.1 114.9L553.4 116.1L551.6 117.0L554.2 117.7L553.5 120.1L552.1 121.3L550.2 124.4L548.7 126.5L547.5 127.2L545.0 129.1L540.7 130.9L539.5 131.0L536.9 131.9L534.3 132.8L533.9 134.3L533.1 134.1L533.1 132.2L531.7 132.2L530.0 132.1L527.9 133.6L526.3 136.6L526.2 137.3L527.7 139.2L529.4 140.9L530.5 141.8L531.7 144.4L532.2 147.0L532.0 149.1L530.0 150.8L528.2 151.5L527.4 153.0L524.4 154.6L524.8 152.2L523.0 151.3L521.3 149.9L520.4 148.5L517.8 147.5L517.0 146.1L516.1 147.8L515.2 150.4L514.9 153.4L516.6 155.1L517.0 157.0L518.7 157.7L520.4 159.4L522.0 161.2L522.2 164.3L523.4 167.1L522.0 166.9L519.6 165.5L518.4 164.3L517.1 161.7L516.6 159.8L516.3 158.2L515.2 156.5L513.2 155.6L513.3 153.0L513.8 151.3L513.7 148.7L512.8 145.2L512.1 142.6L511.9 140.9L510.6 139.7L509.5 140.9L508.0 142.1L506.2 141.8L506.6 139.2L506.2 136.9L503.8 134.5L501.9 130.9L499.6 130.5L497.0 131.7L495.3 131.9L493.6 132.6L493.2 134.0L491.5 135.2L489.8 136.6L487.2 138.8L485.4 140.7L483.5 141.9L481.8 143.0L482.0 146.8L481.3 148.7L481.1 151.7L480.1 151.7L479.7 153.4L478.3 154.2L477.1 155.5L476.1 154.8L474.9 152.2L474.2 150.1L472.4 147.1L470.7 142.8L469.8 140.0L469.0 136.6L469.0 134.0L468.8 132.8L468.4 131.0L467.9 132.8L465.8 133.5L464.1 132.8L462.4 130.9L464.5 129.8L462.4 129.3L461.0 128.4L458.9 126.5L458.0 125.5L454.6 125.8L450.8 125.8L448.5 125.8L445.0 125.5L442.1 125.0L441.2 122.7L440.4 122.4L437.2 123.4L434.6 122.7L432.0 121.1L430.8 119.4L429.6 117.5L427.7 116.8L426.0 117.7L426.0 118.5L426.9 120.3L428.2 122.2L429.8 123.4L430.8 125.3L431.5 124.3L432.2 126.2L431.9 127.0L433.8 127.6L437.1 127.0L438.6 125.7L440.4 123.9L440.5 126.5L444.4 128.6L446.4 130.5L444.7 133.6L443.0 136.6L441.6 138.3L438.6 139.3L436.4 140.0L433.3 141.8L429.5 143.5L427.7 144.4L424.3 146.1L420.8 147.3L418.2 147.5L417.7 146.1L417.1 143.9L416.8 141.3L416.5 140.0L414.7 136.9L413.0 134.8L410.6 132.2L409.5 129.6L408.7 127.7L407.3 125.8L406.1 124.1L404.3 121.8L403.1 121.0L403.5 118.4L402.4 121.0L402.1 121.5L400.9 120.5L399.3 117.7L398.9 115.4L400.9 115.6L402.2 115.1L403.1 113.9L403.5 112.7L404.3 110.8L404.8 109.7L404.8 108.0L405.5 106.1L404.3 106.1L402.8 105.7L401.0 106.8L399.6 107.1L396.0 105.6L395.5 106.6L393.4 106.6L391.7 105.7L390.1 105.4L389.9 103.8L389.2 103.0L388.7 101.4L388.2 101.0L388.2 100.2L389.1 99.5L388.0 99.0L387.7 98.8L385.1 98.6L384.2 99.7L384.4 100.2L383.4 99.8L382.5 99.3L382.0 100.2L382.7 101.4L383.2 102.4L384.4 103.5L384.4 104.2L383.0 103.8L383.0 104.9L382.7 106.2L381.8 106.4L380.9 105.7L380.4 105.7L379.7 104.2L380.4 103.3L379.2 102.3L378.7 102.1L377.8 101.0L376.4 99.3L376.4 97.9L376.1 96.7L374.2 95.7L371.2 94.1L369.1 93.1L367.9 91.0L366.4 91.7L366.5 90.3L364.1 90.8L364.5 91.7L364.6 93.2L366.2 93.9L367.4 95.8L370.9 96.9L372.1 98.3L374.0 99.1L374.9 100.0L374.7 100.5L372.6 99.3L371.6 100.7L372.4 101.9L371.4 103.0L370.0 103.8L370.4 102.8L370.7 101.9L369.8 100.0L368.4 99.1L367.4 98.8L366.2 98.1L363.9 97.1L362.0 96.0L361.0 95.0L360.6 94.1L359.8 93.1L358.2 92.6L357.0 93.2L355.5 93.8L353.2 94.8L352.0 94.5L350.6 94.3L349.2 94.3L348.0 95.7L348.5 96.2L346.6 97.8L344.9 98.3L344.2 99.0L342.3 101.0L343.1 102.3L341.9 103.1L341.2 104.3L339.0 105.9L335.2 105.9ZM30.9 49.9L34.3 50.8L39.5 52.5L44.7 53.4L48.7 54.9L44.7 56.9L43.0 58.1L38.7 57.2L33.5 55.1L31.4 56.5L29.1 57.3L29.1 49.6ZM29.6 61.5L29.1 61.6L29.1 60.0ZM391.3 96.9L390.5 95.8L391.2 94.6L392.5 92.9L394.3 91.2L396.0 88.9L397.7 88.7L398.3 89.3L401.0 89.6L399.1 90.8L400.7 92.2L401.7 92.6L404.1 91.5L406.2 91.2L408.3 92.0L411.6 93.9L413.9 95.0L414.9 97.4L411.6 98.4L408.7 98.4L405.7 97.9L403.8 96.7L400.0 96.7L397.0 98.3L393.1 98.1ZM404.0 90.8L403.5 89.6L404.1 88.7L406.6 88.6L408.0 87.9L410.4 87.7L410.9 88.0L409.2 88.6L408.3 89.4L408.7 90.0L407.8 90.8L406.2 90.8ZM332.9 82.7L335.5 82.2L336.6 82.5L339.3 81.8L341.1 81.5L345.2 80.9L344.2 80.3L345.6 79.4L345.7 78.3L343.3 77.8L343.1 76.8L342.6 76.6L342.6 75.7L340.4 74.2L339.3 72.8L337.3 72.5L338.3 71.9L339.3 70.5L339.7 69.9L339.3 69.5L335.5 69.9L336.0 69.2L337.4 68.3L337.6 67.9L334.1 67.9L333.4 69.2L332.7 70.2L332.7 70.7L332.1 71.2L333.3 71.8L332.7 73.7L334.1 72.8L334.7 73.5L334.0 74.4L334.3 74.9L336.6 74.4L336.6 75.1L337.8 75.7L337.4 77.0L334.8 77.1L334.7 78.0L335.7 78.5L334.7 79.2L333.6 79.6L334.0 80.1L335.9 80.1L337.3 80.4L338.1 80.1L337.6 80.8L335.7 80.8L335.0 81.1L334.1 82.2ZM330.0 73.5L332.2 73.8L333.1 74.9L332.1 75.9L332.2 77.1L331.9 79.0L328.4 79.7L325.8 80.3L324.8 79.2L326.3 78.3L327.2 77.3L325.1 77.0L325.3 75.9L328.1 75.4L327.7 74.9L328.4 74.0ZM589.4 75.4L590.4 75.4L591.1 78.5L591.8 82.0L593.6 84.9L590.6 84.2L589.9 87.2L591.5 88.4L591.3 89.6L589.8 88.6L588.9 90.0L588.7 88.0L589.1 84.9L589.2 82.8L588.5 79.9L588.4 77.1ZM588.7 90.6L591.0 92.4L594.6 92.7L595.5 94.3L593.0 95.0L591.0 96.7L588.2 95.7L586.1 96.0L587.2 97.2L585.6 97.6L585.1 95.7L586.1 94.5L587.7 94.5L588.2 93.2L588.4 91.2ZM587.2 97.6L588.0 97.8L588.2 99.3L588.9 100.9L587.2 103.1L587.2 105.4L587.0 107.6L585.4 109.0L585.1 107.8L583.5 109.5L582.3 109.5L580.2 109.5L579.9 108.8L580.0 110.1L578.1 111.6L576.9 110.2L577.3 109.5L575.0 109.7L572.2 110.1L569.8 110.8L571.0 112.0L571.6 112.8L570.7 114.2L569.3 115.8L568.4 115.3L568.4 113.7L567.6 113.0L567.2 111.8L568.6 111.1L569.6 110.6L570.5 109.7L571.6 109.0L573.3 107.8L575.4 107.8L578.1 107.6L578.5 107.6L579.7 105.7L579.9 104.7L580.7 104.5L580.6 105.7L583.7 103.6L585.1 101.9L584.9 100.2L585.4 99.1L585.9 98.1ZM571.6 111.8L572.8 110.8L575.0 109.9L576.2 110.2L575.4 112.0L574.2 111.4L573.3 112.8L572.4 112.0ZM552.5 125.8L554.2 126.2L553.5 127.9L553.2 129.6L552.1 131.5L551.1 130.0L550.9 128.8L552.0 126.9ZM531.2 136.1L532.6 134.8L534.3 134.7L535.2 135.5L534.3 136.9L532.6 138.0L531.2 137.3ZM481.3 152.5L481.8 152.5L483.5 154.6L484.7 156.8L484.4 158.2L482.5 159.3L481.4 158.8L481.1 157.0L481.1 155.1ZM551.8 137.4L554.6 137.4L554.7 140.0L553.5 141.8L553.5 143.5L555.1 144.7L557.5 145.6L557.9 147.7L556.5 146.6L555.3 145.9L553.7 145.4L551.8 145.6L551.3 143.9L550.4 141.3L551.5 140.7L551.5 139.2ZM554.4 157.5L554.7 156.0L556.8 154.6L558.9 154.8L560.3 152.5L561.7 154.8L562.2 156.8L561.5 158.6L560.1 159.8L560.5 157.7L558.0 159.1L557.7 157.0L556.5 156.5ZM532.7 166.0L533.9 166.6L535.7 165.5L538.6 164.0L540.4 161.7L542.1 160.8L543.8 159.1L545.2 157.4L547.3 159.3L549.4 160.3L547.3 162.0L546.8 163.4L547.3 165.7L549.0 167.8L547.3 168.1L546.4 170.5L545.2 171.8L544.7 174.4L544.2 176.4L541.4 176.6L541.2 175.4L538.6 175.0L536.5 175.6L533.8 174.7L533.4 172.1L532.0 169.7L531.5 167.4ZM508.0 159.8L511.8 160.5L513.8 162.9L516.6 164.8L518.7 166.4L521.3 168.6L522.7 171.2L523.9 172.6L526.5 174.7L526.3 177.3L526.2 179.6L524.1 179.7L523.6 178.2L520.1 176.3L516.8 171.2L514.4 168.6L513.8 166.6L510.9 163.8L509.2 162.2ZM569.8 170.9L572.4 170.2L575.0 170.9L575.4 171.8L575.9 173.8L576.8 175.2L579.4 173.3L581.6 172.1L586.6 173.8L591.7 175.6L593.4 176.3L595.5 178.5L597.6 179.9L598.9 181.1L597.6 181.3L599.3 183.4L601.0 185.1L602.8 187.0L604.3 187.3L602.8 187.9L599.3 187.0L597.7 186.0L595.8 183.5L593.7 182.8L592.4 182.8L591.5 183.9L591.1 185.1L589.8 185.6L587.2 185.3L585.9 184.2L583.3 183.9L581.4 184.1L582.5 182.2L583.3 181.3L582.0 179.0L578.5 177.5L575.9 176.4L574.2 176.1L573.1 176.6L572.9 175.2L574.2 174.0L571.9 174.4L571.6 174.5L569.8 172.1ZM589.8 188.0L591.5 191.2L592.0 194.3L594.6 196.4L595.5 198.8L597.2 202.8L600.2 204.5L601.4 206.2L604.0 208.5L604.1 210.2L606.2 212.0L608.3 212.8L608.1 217.0L609.0 219.1L607.9 222.4L607.1 225.0L604.8 228.2L603.1 231.9L602.8 234.5L599.3 235.2L596.5 237.3L594.1 235.4L591.5 236.7L587.2 235.7L585.1 233.6L584.6 231.9L582.8 230.2L582.1 228.8L581.1 230.5L581.8 227.6L581.6 225.8L580.2 227.9L578.3 229.8L577.1 229.3L575.4 226.7L574.5 225.1L571.6 225.0L569.8 224.1L566.4 224.3L561.2 225.5L557.7 226.7L556.8 228.2L554.1 228.2L550.8 228.4L547.1 230.2L542.3 229.1L542.1 227.6L543.3 225.0L542.1 222.0L541.4 219.4L540.4 217.2L539.5 214.6L539.3 212.0L539.8 210.2L540.5 207.3L541.4 208.1L542.3 206.9L545.0 205.2L548.3 204.7L550.8 204.0L553.4 202.4L554.6 200.7L555.8 197.9L557.0 199.5L557.3 197.7L559.1 196.0L561.2 194.1L562.7 193.2L564.6 195.1L565.5 195.5L567.2 195.3L567.7 193.1L569.5 191.0L570.7 190.6L572.6 188.9L574.2 189.9L576.8 190.5L579.4 190.1L580.0 190.8L579.4 192.5L578.3 194.3L577.6 195.5L579.9 197.1L582.0 198.3L584.2 199.7L586.8 199.8L587.8 197.2L588.2 194.6L588.2 192.0L588.7 191.2L589.1 188.9ZM593.6 240.0L596.7 240.7L599.8 240.4L599.8 242.6L599.3 244.4L597.2 245.1L595.8 244.9L594.6 243.2L593.6 241.4ZM428.2 190.3L429.8 192.9L430.3 196.4L430.0 197.2L428.4 201.0L427.4 205.0L425.6 209.4L424.3 212.8L421.1 213.9L419.1 212.8L418.5 210.1L417.8 207.6L419.6 204.7L419.1 201.6L419.7 197.6L423.0 196.7L424.6 195.5L426.0 193.8L427.2 192.0ZM240.0 87.0L242.3 85.4L240.6 85.3L243.2 82.0L244.4 80.4L246.6 80.1L245.8 82.8L246.6 83.7L250.1 84.1L251.0 85.4L251.5 87.2L250.6 88.6L248.9 88.0L246.6 88.2L245.8 87.0L243.2 87.0ZM213.9 137.6L215.4 135.0L218.0 135.0L221.5 135.2L224.3 137.1L223.2 137.8L220.6 138.0L218.5 138.8L217.2 138.0L215.4 138.0ZM236.6 54.1L234.5 55.8L231.9 56.9L227.6 54.6L230.2 57.7L230.7 59.8L227.6 60.3L230.2 62.2L225.0 61.7L221.5 60.8L218.0 59.5L214.6 57.9L209.4 58.1L207.6 57.2L211.1 56.3L214.6 56.5L215.4 54.3L216.3 51.7L212.8 50.6L209.4 48.5L205.9 47.7L200.7 48.2L196.4 48.2L193.8 47.2L188.6 45.6L187.0 41.8L195.5 41.6L200.7 41.8L203.3 41.8L207.6 42.1L210.2 43.3L214.6 45.1L220.6 46.8L225.0 48.7L227.6 50.8L232.8 52.5ZM300.3 56.0L303.8 54.4L306.4 56.0L308.1 54.9L311.6 54.8L315.1 54.3L317.3 54.6L319.2 56.0L318.5 57.7L315.9 58.2L311.6 59.5L309.0 59.6L307.3 59.1L303.5 58.9L304.7 58.2L301.2 57.2L303.8 56.5ZM432.2 45.4L433.8 43.9L435.5 42.1L439.0 39.9L442.4 38.5L448.5 37.3L455.4 36.4L462.0 36.1L461.5 37.3L454.6 38.5L447.6 39.9L444.2 41.6L441.2 43.3L439.5 44.7L442.4 46.1L442.1 47.2L438.1 47.2L435.5 46.8ZM361.0 32.2L361.9 31.2L367.1 31.0L370.5 30.7L374.0 30.9L377.5 30.0L384.4 30.2L389.6 30.7L386.1 31.9L379.2 32.6L375.7 33.3L380.1 33.8L383.5 34.3L380.9 35.5L374.9 35.2L372.3 36.8L368.8 35.7L366.2 34.5L366.2 33.8L362.7 32.9ZM420.8 29.8L426.0 29.3L429.5 29.5L432.9 30.3L426.0 30.7ZM436.4 30.0L441.6 29.1L446.8 28.8L450.2 29.5L443.3 30.5ZM438.1 28.4L443.3 27.7L445.0 28.4ZM507.4 32.6L512.6 30.3L509.2 28.8L516.1 29.5L523.0 32.1L525.6 33.6L521.3 34.3L516.1 34.0L512.6 32.9ZM581.1 38.7L583.7 37.6L590.6 37.8L594.1 38.7L602.8 39.0L601.0 39.9L592.4 39.5L587.2 39.9L582.8 39.9ZM585.4 42.1L590.6 41.8L591.5 42.6L587.2 42.6ZM652.1 46.5L654.7 45.6L658.2 45.9L658.7 46.6L654.7 46.8ZM558.2 147.8L559.9 147.8L560.6 150.1L559.8 152.0L558.9 151.8L558.4 149.9ZM554.2 149.1L556.1 149.4L557.0 151.3L556.5 153.6L555.1 152.9L554.4 151.1ZM545.9 154.9L546.6 154.9L550.2 150.4L549.7 149.7L548.2 152.2ZM551.5 146.3L553.2 146.3L553.4 148.0L552.3 148.4ZM525.1 181.3L526.5 179.7L527.9 180.1L530.8 180.8L534.1 181.5L535.2 180.6L538.1 182.0L541.1 183.0L541.1 184.4L538.6 183.9L535.2 183.7L531.7 182.8L530.0 182.8L527.4 182.2ZM541.2 183.7L543.3 183.7L543.1 184.8L541.4 184.4ZM543.8 183.9L545.0 183.9L544.9 184.9L543.8 184.8ZM545.2 183.7L549.4 183.7L549.0 184.9L545.6 185.1ZM550.6 183.9L556.0 183.5L555.6 184.8L550.8 184.9ZM549.0 186.0L552.1 186.1L551.6 187.2L549.4 186.7ZM556.8 187.3L558.6 185.6L563.4 184.1L562.0 185.4L558.6 187.2ZM549.7 179.0L549.9 175.6L548.7 174.2L549.5 171.6L550.4 169.2L551.1 167.9L552.3 167.2L556.0 167.9L559.1 166.7L559.8 166.9L558.2 168.8L556.0 168.8L552.5 168.8L551.1 171.1L552.1 171.9L553.4 171.1L556.5 171.1L556.7 171.2L554.2 172.4L553.7 173.0L554.7 175.0L556.3 176.8L555.6 177.8L554.7 177.5L553.4 177.6L552.5 174.4L551.5 174.5L551.5 177.8L551.5 179.2ZM563.8 166.4L564.6 165.9L565.8 166.9L565.0 168.5L565.7 170.4L564.5 170.9L563.9 168.6ZM564.6 174.7L569.0 174.7L569.5 175.7L565.1 175.6ZM561.3 175.0L563.2 175.0L563.1 176.1L561.5 175.9ZM599.8 179.2L602.8 178.3L605.3 176.8L606.7 177.0L606.2 178.7L603.6 180.2L601.0 180.2ZM604.1 174.0L607.1 175.6L607.9 177.5L607.3 176.8L605.3 175.0ZM266.7 65.9L263.9 64.7L259.6 63.8L256.7 62.1L253.2 58.2L252.2 56.0L249.7 53.4L251.0 50.8L254.4 49.9L248.4 48.5L247.8 47.3L252.7 46.5L245.8 43.3L242.3 39.5L237.1 37.8L228.4 37.8L223.2 36.9L219.8 35.2L216.3 34.0L225.0 31.7L230.2 30.9L226.7 29.5L235.4 28.3L247.5 27.0L261.3 26.2L273.5 25.1L287.3 24.6L299.5 25.3L306.4 26.5L322.0 27.9L321.1 29.1L315.1 30.3L311.6 32.1L309.0 34.3L310.7 36.4L308.1 38.7L309.0 40.4L304.7 42.1L303.8 44.2L304.7 46.5L304.7 47.7L301.2 49.1L296.9 50.6L290.8 51.5L286.5 52.5L283.9 54.3L280.4 55.3L277.6 55.8L273.5 56.9L272.6 59.5L270.0 62.1L268.6 64.1ZM195.7 131.5L199.0 129.6L202.4 129.3L205.9 130.5L209.4 132.1L212.8 133.6L214.2 134.5L212.8 135.0L208.1 135.2L209.0 133.8L206.8 132.2L203.3 131.4L200.7 130.7L198.1 131.0ZM207.1 137.8L209.4 137.4L210.7 138.3L209.4 138.7L207.3 138.3ZM226.3 137.4L228.9 137.6L228.8 138.3L226.3 138.3ZM120.5 81.5L124.4 82.0L127.0 83.5L128.9 85.4L127.0 85.4L124.4 84.2L121.3 82.8ZM112.3 75.6L114.4 75.9L115.4 78.9L113.5 77.7ZM74.9 69.9L77.7 69.0L79.0 69.9L76.3 71.1ZM45.2 59.1L49.9 59.8L47.7 60.3L45.6 59.8ZM52.9 65.2L55.5 65.0L55.1 65.9L53.0 65.7ZM140.0 47.8L145.2 49.6L150.4 50.6L157.4 50.1L162.6 50.6L166.9 49.1L165.2 47.3L160.8 46.5L160.8 43.3L155.6 42.5L150.4 43.3L144.4 42.5L138.3 43.3L136.6 45.1L141.8 45.8L138.3 47.2ZM125.3 44.7L129.6 46.1L134.0 45.6L136.6 43.9L140.0 40.9L133.1 40.4L127.9 40.7L127.0 42.6ZM140.0 39.2L147.0 40.4L153.9 39.9L159.1 39.4L159.1 37.8L153.0 36.8L147.0 37.3L140.9 37.3ZM166.0 44.7L171.2 45.6L174.7 43.9L173.8 41.6L168.6 41.4L165.2 43.0ZM177.3 44.2L182.5 43.3L186.0 41.6L181.6 41.1L177.3 41.8ZM183.4 40.0L190.3 40.4L200.7 40.2L204.2 38.8L200.7 38.0L190.3 37.1L185.1 37.4L183.4 38.7ZM187.7 37.3L197.2 37.1L205.9 36.9L208.5 34.7L212.8 33.5L218.0 31.7L228.4 29.8L235.4 27.4L233.6 26.0L221.5 25.5L207.6 25.5L195.5 26.7L186.8 27.7L190.3 30.0L193.8 31.4L190.3 33.6L192.0 35.0L187.7 36.1ZM177.3 32.1L185.1 33.8L189.4 32.9L186.8 30.3L181.6 28.6L176.4 30.3ZM162.6 39.2L171.2 39.4L173.8 37.8L169.5 36.6L163.4 37.4ZM192.0 58.6L195.5 60.0L199.0 58.9L201.6 59.5L203.6 58.6L200.7 56.9L197.2 55.3L192.9 55.8ZM170.4 49.9L174.7 50.6L177.3 49.4L174.7 48.4ZM199.0 61.0L202.4 60.7L204.2 61.5L200.7 62.1ZM209.4 53.0L212.0 52.3L211.1 51.5L208.5 52.0ZM231.0 83.0L234.5 83.5L235.7 84.4L232.8 84.1ZM231.4 88.6L234.5 88.9L235.4 89.4L232.4 89.6ZM364.5 103.6L369.8 103.1L369.1 105.9L364.6 104.3ZM357.0 98.4L359.4 98.1L359.6 101.6L357.5 102.1ZM357.7 96.0L359.1 95.0L359.3 97.4L358.1 97.6ZM383.5 107.8L388.4 108.3L388.2 108.8L383.7 108.5ZM398.8 108.8L400.0 108.2L402.8 107.6L401.7 108.8L400.0 109.5ZM347.0 100.9L348.3 100.4L348.7 101.0L347.7 101.4ZM595.0 93.4L597.6 91.9L600.7 90.6L600.3 91.2L597.6 92.4ZM601.9 90.3L603.6 89.4L603.4 89.8L602.2 90.3ZM606.2 88.0L608.3 86.3L608.1 86.7L606.6 88.0ZM611.9 82.8L613.5 81.6L613.3 82.2L612.3 82.8ZM57.2 75.1L54.3 76.1L50.8 77.3L48.2 78.0L43.9 78.9L40.4 79.2L36.9 79.7L34.3 79.9L36.9 80.1L40.4 79.6L43.9 79.2L48.2 78.3L51.1 77.7L54.6 76.6ZM50.8 77.3L54.3 76.1L54.6 76.6L51.3 77.7ZM48.2 78.2L49.9 77.7L49.6 78.2ZM40.4 79.2L43.9 78.9L43.0 79.4ZM35.2 79.9L37.8 79.4L36.9 80.1ZM642.6 77.8L644.3 77.7L643.5 78.3ZM630.0 73.7L631.5 74.5L631.0 74.7ZM435.3 147.7L437.2 147.8L436.4 148.2ZM438.6 205.9L439.5 206.1L439.0 206.6ZM442.3 204.3L443.0 204.5L442.4 205.0ZM417.8 189.6L418.2 190.1L419.7 190.6ZM237.1 259.1L240.6 258.4L242.6 258.9L240.6 260.1L238.0 259.8ZM184.2 170.4L185.1 169.8L185.4 171.1ZM235.5 151.0L237.1 150.8L237.1 152.0L235.7 152.0ZM503.4 146.1L504.0 146.3L503.8 149.4L503.1 149.2ZM505.2 157.0L505.5 157.2L505.4 157.7ZM469.3 172.1L469.7 172.1L469.5 172.5ZM468.1 178.5L468.4 178.5L468.3 178.9ZM468.1 181.6L468.4 181.6L468.3 182.1ZM469.3 148.7L469.7 148.7L469.5 149.1ZM469.3 151.3L469.7 151.3L469.5 151.7ZM469.3 157.4L469.7 157.4L469.5 157.8ZM469.3 160.0L469.7 160.0L469.5 160.4ZM469.3 162.6L469.7 162.6L469.5 163.0ZM469.3 165.2L469.7 165.2L469.5 165.6ZM469.3 168.6L469.7 168.6L469.5 169.1ZM469.3 170.4L469.7 170.4L469.5 170.8ZM561.5 111.8L562.7 111.4L562.5 111.8ZM566.7 110.1L567.2 109.4L567.1 110.2ZM564.1 124.3L565.1 123.1L564.6 123.7ZM311.6 119.9L314.7 120.3L318.5 120.1L319.4 119.1L318.5 120.6L314.2 121.0ZM300.7 140.4L302.1 143.5L303.3 141.6ZM293.4 102.8L296.0 102.4L298.6 104.0ZM329.8 61.7L331.5 61.5L331.0 62.9ZM340.2 64.5L341.1 64.7L340.5 65.7ZM72.5 134.5L74.2 135.2L73.1 136.6ZM207.1 123.2L209.0 123.4L209.4 124.1ZM207.6 126.7L208.1 127.6L207.8 127.7ZM211.1 127.0L212.3 127.7L212.0 128.1ZM215.1 132.9L216.3 132.6L215.9 133.3ZM230.3 113.4L230.8 113.4L230.7 113.7ZM233.8 138.7L234.3 138.7L234.0 139.3ZM235.7 139.9L236.2 139.9L236.0 140.4ZM236.0 141.4L236.6 141.4L236.2 142.1ZM236.6 142.8L237.1 142.8L236.9 143.3ZM237.1 144.2L237.6 144.2L237.3 144.9ZM237.1 145.6L237.6 145.6L237.3 146.1ZM236.7 146.6L237.3 146.6L236.9 147.3ZM235.9 148.5L236.4 148.5L236.0 149.1ZM239.5 146.6L240.0 146.6L239.7 147.3ZM569.0 116.8L569.8 116.3L569.5 117.2ZM567.2 120.5L568.1 119.9L567.7 120.8ZM566.2 121.3L567.1 120.8L566.7 121.7ZM562.9 123.9L563.8 123.4L563.4 124.3ZM559.9 126.5L560.8 126.0L560.5 126.9ZM557.9 127.2L558.7 126.7L558.4 127.6ZM461.2 51.0L457.2 52.2L453.7 54.1L446.8 55.3L445.4 60.3L443.8 65.9L443.0 72.8L445.9 77.7L447.5 79.7L449.2 81.5L443.3 81.1L437.8 81.1L430.8 80.1L425.8 82.3L423.7 85.1L427.4 89.4L425.3 91.9L425.8 93.8L427.0 96.4L428.2 98.1M428.2 98.1L424.3 97.8L421.1 95.8L417.3 95.2L414.0 95.7L412.1 94.3" stroke-width="1.80"/>
<path d="M140.0 47.8L145.2 49.6L150.4 50.6L157.4 50.1L162.6 50.6L166.9 49.1L165.2 47.3L160.8 46.5L160.8 43.3L155.6 42.5L150.4 43.3L144.4 42.5L138.3 43.3L136.6 45.1L141.8 45.8L138.3 47.2ZM125.3 44.7L129.6 46.1L134.0 45.6L136.6 43.9L140.0 40.9L133.1 40.4L127.9 40.7L127.0 42.6ZM140.0 39.2L147.0 40.4L153.9 39.9L159.1 39.4L159.1 37.8L153.0 36.8L147.0 37.3L140.9 37.3ZM166.0 44.7L171.2 45.6L174.7 43.9L173.8 41.6L168.6 41.4L165.2 43.0ZM177.3 44.2L182.5 43.3L186.0 41.6L181.6 41.1L177.3 41.8ZM183.4 40.0L190.3 40.4L200.7 40.2L204.2 38.8L200.7 38.0L190.3 37.1L185.1 37.4L183.4 38.7ZM187.7 37.3L197.2 37.1L205.9 36.9L208.5 34.7L212.8 33.5L218.0 31.7L228.4 29.8L235.4 27.4L233.6 26.0L221.5 25.5L207.6 25.5L195.5 26.7L186.8 27.7L190.3 30.0L193.8 31.4L190.3 33.6L192.0 35.0L187.7 36.1ZM177.3 32.1L185.1 33.8L189.4 32.9L186.8 30.3L181.6 28.6L176.4 30.3ZM162.6 39.2L171.2 39.4L173.8 37.8L169.5 36.6L163.4 37.4ZM192.0 58.6L195.5 60.0L199.0 58.9L201.6 59.5L203.6 58.6L200.7 56.9L197.2 55.3L192.9 55.8ZM170.4 49.9L174.7 50.6L177.3 49.4L174.7 48.4ZM236.6 54.1L234.5 55.8L231.9 56.9L227.6 54.6L230.2 57.7L230.7 59.8L227.6 60.3L230.2 62.2L225.0 61.7L221.5 60.8L218.0 59.5L214.6 57.9L209.4 58.1L207.6 57.2L211.1 56.3L214.6 56.5L215.4 54.3L216.3 51.7L212.8 50.6L209.4 48.5L205.9 47.7L200.7 48.2L196.4 48.2L193.8 47.2L188.6 45.6L187.0 41.8L195.5 41.6L200.7 41.8L203.3 41.8L207.6 42.1L210.2 43.3L214.6 45.1L220.6 46.8L225.0 48.7L227.6 50.8L232.8 52.5ZM361.0 32.2L361.9 31.2L367.1 31.0L370.5 30.7L374.0 30.9L377.5 30.0L384.4 30.2L389.6 30.7L386.1 31.9L379.2 32.6L375.7 33.3L380.1 33.8L383.5 34.3L380.9 35.5L374.9 35.2L372.3 36.8L368.8 35.7L366.2 34.5L366.2 33.8L362.7 32.9ZM432.2 45.4L433.8 43.9L435.5 42.1L439.0 39.9L442.4 38.5L448.5 37.3L455.4 36.4L462.0 36.1L461.5 37.3L454.6 38.5L447.6 39.9L444.2 41.6L441.2 43.3L439.5 44.7L442.4 46.1L442.1 47.2L438.1 47.2L435.5 46.8ZM507.4 32.6L512.6 30.3L509.2 28.8L516.1 29.5L523.0 32.1L525.6 33.6L521.3 34.3L516.1 34.0L512.6 32.9ZM581.1 38.7L583.7 37.6L590.6 37.8L594.1 38.7L602.8 39.0L601.0 39.9L592.4 39.5L587.2 39.9L582.8 39.9ZM420.8 29.8L426.0 29.3L429.5 29.5L432.9 30.3L426.0 30.7ZM436.4 30.0L441.6 29.1L446.8 28.8L450.2 29.5L443.3 30.5ZM525.1 181.3L526.5 179.7L527.9 180.1L530.8 180.8L534.1 181.5L535.2 180.6L538.1 182.0L541.1 183.0L541.1 184.4L538.6 183.9L535.2 183.7L531.7 182.8L530.0 182.8L527.4 182.2ZM549.7 179.0L549.9 175.6L548.7 174.2L549.5 171.6L550.4 169.2L551.1 167.9L552.3 167.2L556.0 167.9L559.1 166.7L559.8 166.9L558.2 168.8L556.0 168.8L552.5 168.8L551.1 171.1L552.1 171.9L553.4 171.1L556.5 171.1L556.7 171.2L554.2 172.4L553.7 173.0L554.7 175.0L556.3 176.8L555.6 177.8L554.7 177.5L553.4 177.6L552.5 174.4L551.5 174.5L551.5 177.8L551.5 179.2ZM551.8 137.4L554.6 137.4L554.7 140.0L553.5 141.8L553.5 143.5L555.1 144.7L557.5 145.6L557.9 147.7L556.5 146.6L555.3 145.9L553.7 145.4L551.8 145.6L551.3 143.9L550.4 141.3L551.5 140.7L551.5 139.2ZM554.4 157.5L554.7 156.0L556.8 154.6L558.9 154.8L560.3 152.5L561.7 154.8L562.2 156.8L561.5 158.6L560.1 159.8L560.5 157.7L558.0 159.1L557.7 157.0L556.5 156.5ZM558.2 147.8L559.9 147.8L560.6 150.1L559.8 152.0L558.9 151.8L558.4 149.9ZM554.2 149.1L556.1 149.4L557.0 151.3L556.5 153.6L555.1 152.9L554.4 151.1ZM300.3 56.0L303.8 54.4L306.4 56.0L308.1 54.9L311.6 54.8L315.1 54.3L317.3 54.6L319.2 56.0L318.5 57.7L315.9 58.2L311.6 59.5L309.0 59.6L307.3 59.1L303.5 58.9L304.7 58.2L301.2 57.2L303.8 56.5ZM556.8 187.3L558.6 185.6L563.4 184.1L562.0 185.4L558.6 187.2ZM550.6 183.9L556.0 183.5L555.6 184.8L550.8 184.9ZM545.2 183.7L549.4 183.7L549.0 184.9L545.6 185.1ZM563.8 166.4L564.6 165.9L565.8 166.9L565.0 168.5L565.7 170.4L564.5 170.9L563.9 168.6ZM564.6 174.7L569.0 174.7L569.5 175.7L565.1 175.6ZM599.8 179.2L602.8 178.3L605.3 176.8L606.7 177.0L606.2 178.7L603.6 180.2L601.0 180.2ZM145.3 47.3L148.1 48.2L151.0 48.8L154.8 48.5L157.7 48.8L160.1 47.9L159.1 47.0L156.7 46.5L156.7 44.8L153.9 44.3L151.0 44.8L147.7 44.3L144.3 44.8L143.4 45.7L146.2 46.1L144.3 46.9ZM128.4 44.0L130.7 44.7L133.1 44.4L134.6 43.5L136.5 41.9L132.7 41.6L129.8 41.8L129.3 42.8ZM144.4 38.9L148.2 39.6L152.0 39.3L154.9 39.0L154.9 38.1L151.5 37.6L148.2 37.8L144.8 37.8ZM167.9 44.1L170.7 44.6L172.6 43.6L172.1 42.4L169.3 42.3L167.4 43.2ZM178.8 43.4L181.7 42.9L183.6 42.0L181.2 41.7L178.8 42.1ZM187.6 39.5L191.4 39.7L197.1 39.6L199.0 38.9L197.1 38.4L191.4 37.9L188.5 38.1L187.6 38.8ZM196.7 34.2L201.9 34.1L206.7 34.0L208.1 32.7L210.5 32.1L213.4 31.1L219.1 30.1L222.9 28.7L222.0 28.0L215.3 27.7L207.7 27.7L201.0 28.4L196.2 28.9L198.1 30.2L200.0 30.9L198.1 32.2L199.1 32.9L196.7 33.5ZM179.8 31.7L184.1 32.7L186.4 32.2L185.0 30.8L182.1 29.8L179.3 30.8ZM165.0 38.7L169.8 38.8L171.2 37.9L168.8 37.3L165.5 37.7ZM366.9 32.5L367.4 31.9L370.3 31.8L372.2 31.6L374.1 31.7L376.0 31.2L379.8 31.3L382.6 31.6L380.7 32.3L376.9 32.7L375.0 33.1L377.4 33.3L379.3 33.6L377.9 34.3L374.5 34.1L373.1 35.0L371.2 34.4L369.8 33.7L369.8 33.3L367.9 32.9ZM437.5 43.5L438.3 42.7L439.3 41.7L441.2 40.5L443.1 39.7L446.4 39.0L450.3 38.6L453.9 38.4L453.6 39.0L449.8 39.7L446.0 40.5L444.1 41.4L442.4 42.4L441.5 43.1L443.1 43.9L442.9 44.5L440.7 44.5L439.3 44.3ZM511.5 32.3L514.4 31.1L512.5 30.2L516.3 30.6L520.1 32.0L521.5 32.9L519.2 33.3L516.3 33.1L514.4 32.5Z" stroke-width="2.4"/>
<path d="M105.4 68.3L108.0 69.9L110.6 72.5L113.2 74.5L116.6 76.3L119.2 78.5L121.3 80.8L124.4 82.8M214.9 241.9L214.0 245.8L212.8 250.1L212.5 253.6L212.8 257.0L214.6 260.1L217.2 262.4L220.6 264.1L224.1 265.3M351.8 66.4L351.5 63.8L352.5 61.5L355.8 59.8L360.1 58.1L363.6 56.0L365.7 53.7L368.8 51.3L373.1 49.4L378.3 48.2L384.4 46.8M306.4 27.7L313.3 30.3L309.9 32.6L309.0 36.1L308.1 38.7L306.4 41.3L303.8 43.9L302.9 46.8L299.5 49.4L292.5 51.3L285.6 53.4L279.5 55.5L273.5 57.2L270.9 61.2L268.3 64.7M263.1 64.5L257.0 62.1L253.6 58.6L251.0 54.3L251.8 50.8L249.2 48.2L247.5 44.7L244.0 40.4" stroke-width="2.8"/>
</g></defs>
<g transform="translate(0,0.0)" clip-path="url(#frame)">
<g clip-path="url(#land)" fill="none" stroke-width="2.47" shape-rendering="crispEdges">
<path stroke="#541f6c" d="M178.2 53.2h4.6M171.7 55.3h11.1M147.8 64h2.5M147.8 66.2h2.5M152.2 66.2h4.6M507.4 70.5h2.5M208.5 77h9M119.7 79.2h2.5M210.7 79.2h4.6M555.1 144.2h2.5M219.3 168h2.5M223.7 170.1h2.5M223.7 172.3h2.5M219.3 174.5h2.5M228 174.5h2.5M544.3 174.5h2.5M225.8 176.6h2.5M232.3 178.8h2.5M206.3 187.5h2.5M217.2 243.8h2.5"/>
<path stroke="#552b77" d="M124 51h2.5M186.8 51h2.5M176 53.2h2.5M156.5 66.2h2.5M128.3 68.3h2.5M119.7 70.5h2.5M176 70.5h2.5M115.3 74.8h2.5M217.2 77h2.5M206.3 81.3h2.5M219.3 81.3h2.5M199.8 87.8h2.5M552.9 146.3h2.5M507.4 159.3h2.5M223.7 165.8h2.5M542.1 165.8h4.6M533.4 172.3h2.5M583.3 172.3h2.5M225.8 174.5h2.5M581.1 174.5h4.6M215 176.6h2.5M230.2 176.6h2.5M591.9 176.6h2.5M228 178.8h2.5M225.8 181h6.8M589.8 181h2.5M611.4 181h2.5M221.5 183.1h2.5M643.9 235.1h2.5M639.6 243.8h2.5M633.1 248.1h2.5"/>
<path stroke="#553581" d="M137 51h2.5M169.5 51h2.5M143.5 53.2h2.5M173.8 53.2h2.5M180.3 57.5h2.5M176 59.7h2.5M163 61.8h2.5M134.8 64h2.5M160.8 64h2.5M173.8 64h2.5M115.3 66.2h2.5M219.3 66.2h2.5M137 70.5h2.5M212.8 70.5h2.5M509.6 70.5h2.5M615.7 72.7h2.5M186.8 74.8h2.5M210.7 74.8h2.5M206.3 77h2.5M219.3 77h2.5M195.5 79.2h2.5M204.2 79.2h6.8M215 79.2h4.6M206.3 83.5h2.5M197.7 85.7h2.5M568.1 87.8h4.6M197.7 90h2.5M563.8 109.5h2.5M542.1 131.2h2.5M509.6 137.7h2.5M557.3 148.5h2.5M555.1 155h2.5M559.4 155h2.5M544.3 157.2h2.5M559.4 157.2h2.5M516.1 159.3h4.6M548.6 159.3h2.5M507.4 161.5h2.5M516.1 161.5h2.5M520.4 161.5h2.5M516.1 163.7h4.6M535.6 163.7h2.5M518.3 165.8h2.5M522.6 165.8h2.5M535.6 165.8h4.6M217.2 168h2.5M221.5 168h2.5M225.8 168h2.5M516.1 168h2.5M539.9 168h2.5M546.4 168h2.5M217.2 170.1h2.5M221.5 170.1h2.5M234.5 170.1h2.5M533.4 170.1h4.6M539.9 170.1h4.6M215 172.3h2.5M219.3 172.3h4.6M234.5 172.3h2.5M539.9 172.3h4.6M570.3 172.3h2.5M212.8 174.5h2.5M221.5 174.5h2.5M236.7 174.5h2.5M516.1 174.5h2.5M576.8 174.5h2.5M585.4 174.5h2.5M221.5 176.6h4.6M241 176.6h2.5M518.3 176.6h2.5M202 178.8h2.5M215 178.8h11.1M234.5 178.8h2.5M581.1 178.8h2.5M585.4 178.8h4.6M594.1 178.8h2.5M210.7 181h2.5M217.2 181h2.5M223.7 181h2.5M591.9 181h4.6M215 183.1h4.6M581.1 183.1h2.5M585.4 183.1h2.5M591.9 183.1h2.5M598.4 183.1h2.5M620.1 183.1h2.5M596.3 185.3h4.6M617.9 185.3h4.6M212.8 187.5h2.5M598.4 187.5h2.5M643.9 230.8h2.5M646.1 233h2.5M646.1 235.1h2.5M646.1 237.3h4.6M646.1 239.5h4.6M643.9 241.6h2.5"/>
<path stroke="#534087" d="M522.6 38h2.5M178.2 48.8h2.5M171.7 51h4.6M548.6 51h2.5M576.8 51h2.5M182.5 53.2h2.5M143.5 55.3h2.5M156.5 55.3h2.5M182.5 55.3h2.5M494.4 55.3h2.5M100.2 57.5h2.5M156.5 57.5h2.5M165.2 57.5h2.5M176 57.5h2.5M368.8 57.5h2.5M375.3 57.5h2.5M511.8 57.5h2.5M141.3 59.7h2.5M154.3 59.7h2.5M371 59.7h2.5M132.7 61.8h2.5M137 61.8h2.5M147.8 61.8h2.5M152.2 61.8h2.5M100.2 64h2.5M106.7 64h2.5M180.3 64h2.5M358 64h2.5M559.4 64h2.5M572.4 64h2.5M121.8 66.2h4.6M130.5 66.2h2.5M145.7 66.2h2.5M163 66.2h2.5M167.3 66.2h2.5M102.3 68.3h2.5M113.2 68.3h2.5M134.8 68.3h2.5M163 68.3h2.5M509.6 68.3h2.5M620.1 68.3h2.5M115.3 70.5h2.5M152.2 70.5h2.5M160.8 70.5h2.5M182.5 70.5h2.5M505.3 70.5h2.5M511.8 70.5h2.5M113.2 72.7h2.5M167.3 72.7h2.5M186.8 72.7h2.5M208.5 72.7h2.5M236.7 72.7h2.5M507.4 72.7h2.5M126.2 74.8h2.5M137 74.8h2.5M204.2 74.8h2.5M212.8 74.8h2.5M180.3 77h2.5M186.8 77h2.5M204.2 77h2.5M611.4 77h2.5M615.7 77h2.5M137 79.2h2.5M191.2 79.2h2.5M199.8 79.2h2.5M204.2 81.3h2.5M210.7 81.3h2.5M217.2 81.3h2.5M232.3 81.3h2.5M184.7 83.5h2.5M204.2 83.5h2.5M219.3 83.5h2.5M243.2 83.5h2.5M568.1 90h2.5M587.6 96.5h2.5M199.8 98.7h2.5M550.8 113.8h2.5M544.3 116h2.5M509.6 133.3h2.5M526.9 133.3h2.5M511.8 135.5h2.5M516.1 137.7h2.5M526.9 142h2.5M550.8 144.2h2.5M550.8 146.3h2.5M557.3 146.3h2.5M197.7 152.8h2.5M524.8 152.8h2.5M204.2 155h2.5M522.6 155h2.5M557.3 155h2.5M513.9 157.2h4.6M552.9 157.2h2.5M557.3 157.2h2.5M561.6 157.2h2.5M509.6 159.3h2.5M520.4 159.3h2.5M557.3 159.3h4.6M210.7 161.5h2.5M509.6 161.5h2.5M507.4 163.7h4.6M520.4 163.7h2.5M537.8 163.7h2.5M210.7 165.8h6.8M520.4 165.8h2.5M533.4 165.8h2.5M202 168h11.1M215 168h2.5M522.6 168h2.5M531.3 168h2.5M542.1 168h2.5M548.6 168h2.5M219.3 170.1h2.5M225.8 170.1h6.8M516.1 170.1h2.5M522.6 170.1h2.5M544.3 170.1h2.5M217.2 172.3h2.5M228 172.3h6.8M520.4 172.3h4.6M572.4 172.3h2.5M578.9 172.3h2.5M230.2 174.5h2.5M238.8 174.5h2.5M537.8 174.5h4.6M572.4 174.5h4.6M578.9 174.5h2.5M587.6 174.5h4.6M212.8 176.6h2.5M217.2 176.6h2.5M228 176.6h2.5M234.5 176.6h2.5M581.1 176.6h6.8M589.8 176.6h2.5M212.8 178.8h2.5M225.8 178.8h2.5M230.2 178.8h2.5M236.7 178.8h4.6M583.3 178.8h2.5M589.8 178.8h4.6M609.2 178.8h4.6M212.8 181h4.6M232.3 181h2.5M236.7 181h2.5M596.3 181h2.5M609.2 181h2.5M212.8 183.1h2.5M228 183.1h2.5M587.6 183.1h2.5M594.1 183.1h4.6M204.2 185.3h2.5M212.8 185.3h4.6M228 185.3h2.5M234.5 185.3h2.5M587.6 185.3h2.5M219.3 187.5h2.5M600.6 187.5h4.6M208.5 189.6h2.5M230.2 189.6h2.5M210.7 196.1h2.5M643.9 233h2.5M650.4 235.1h2.5M650.4 237.3h2.5M217.2 239.5h2.5M643.9 239.5h2.5M639.6 241.6h2.5M646.1 241.6h2.5M641.7 243.8h2.5M633.1 246h4.6M630.9 248.1h2.5"/>
<path stroke="#504b8d" d="M524.8 38h2.5M535.6 42.3h2.5M206.3 44.5h2.5M526.9 44.5h2.5M178.2 46.7h2.5M182.5 46.7h2.5M377.5 46.7h2.5M516.1 46.7h2.5M537.8 46.7h2.5M550.8 46.7h2.5M115.3 48.8h2.5M375.3 48.8h2.5M492.3 48.8h2.5M128.3 51h2.5M152.2 51h2.5M167.3 51h2.5M178.2 51h6.8M193.3 51h2.5M368.8 51h2.5M375.3 51h2.5M494.4 51h2.5M507.4 51h2.5M513.9 51h2.5M568.1 51h2.5M589.8 51h2.5M104.5 53.2h2.5M115.3 53.2h6.8M126.2 53.2h2.5M130.5 53.2h2.5M134.8 53.2h2.5M139.2 53.2h2.5M147.8 53.2h2.5M156.5 53.2h6.8M169.5 53.2h4.6M193.3 53.2h2.5M197.7 53.2h2.5M535.6 53.2h2.5M559.4 53.2h2.5M128.3 55.3h6.8M141.3 55.3h2.5M150 55.3h2.5M158.7 55.3h2.5M163 55.3h2.5M167.3 55.3h2.5M184.7 55.3h2.5M189 55.3h2.5M193.3 55.3h2.5M366.6 55.3h2.5M524.8 55.3h2.5M537.8 55.3h2.5M635.2 55.3h2.5M98 57.5h2.5M117.5 57.5h2.5M169.5 57.5h4.6M182.5 57.5h2.5M186.8 57.5h4.6M208.5 57.5h2.5M360.1 57.5h2.5M537.8 57.5h2.5M565.9 57.5h4.6M598.4 57.5h2.5M130.5 59.7h2.5M139.2 59.7h2.5M158.7 59.7h2.5M165.2 59.7h6.8M182.5 59.7h4.6M353.6 59.7h2.5M368.8 59.7h2.5M375.3 59.7h2.5M507.4 59.7h2.5M533.4 59.7h2.5M539.9 59.7h2.5M568.1 59.7h2.5M635.2 59.7h2.5M104.5 61.8h4.6M111 61.8h2.5M139.2 61.8h2.5M143.5 61.8h2.5M150 61.8h2.5M154.3 61.8h9M167.3 61.8h2.5M570.3 61.8h2.5M119.7 64h2.5M143.5 64h2.5M158.7 64h2.5M169.5 64h2.5M373.1 64h2.5M563.8 64h2.5M624.4 64h4.6M93.7 66.2h2.5M119.7 66.2h2.5M134.8 66.2h2.5M171.7 66.2h2.5M178.2 66.2h2.5M221.5 66.2h2.5M351.5 66.2h2.5M563.8 66.2h2.5M626.6 66.2h2.5M630.9 66.2h2.5M117.5 68.3h2.5M121.8 68.3h4.6M130.5 68.3h2.5M147.8 68.3h2.5M152.2 68.3h2.5M158.7 68.3h2.5M167.3 68.3h2.5M210.7 68.3h2.5M362.3 68.3h4.6M572.4 68.3h2.5M587.6 68.3h2.5M113.2 70.5h2.5M186.8 70.5h2.5M221.5 70.5h2.5M228 70.5h2.5M234.5 70.5h2.5M355.8 70.5h2.5M568.1 70.5h2.5M117.5 72.7h4.6M130.5 72.7h2.5M184.7 72.7h2.5M191.2 72.7h2.5M195.5 72.7h2.5M611.4 72.7h4.6M117.5 74.8h2.5M128.3 74.8h2.5M139.2 74.8h2.5M191.2 74.8h2.5M206.3 74.8h4.6M217.2 74.8h4.6M232.3 74.8h2.5M557.3 74.8h2.5M611.4 74.8h2.5M117.5 77h2.5M121.8 77h2.5M184.7 77h2.5M189 77h2.5M195.5 77h2.5M199.8 77h2.5M613.6 77h2.5M620.1 77h2.5M182.5 79.2h2.5M186.8 79.2h2.5M197.7 79.2h2.5M202 79.2h2.5M219.3 79.2h2.5M191.2 81.3h2.5M197.7 81.3h2.5M208.5 81.3h2.5M215 81.3h2.5M587.6 81.3h2.5M189 83.5h2.5M193.3 83.5h2.5M217.2 83.5h2.5M223.7 83.5h2.5M550.8 83.5h2.5M189 85.7h2.5M199.8 85.7h2.5M215 85.7h2.5M189 87.8h2.5M193.3 87.8h2.5M197.7 87.8h2.5M219.3 87.8h2.5M199.8 90h4.6M206.3 90h2.5M210.7 90h4.6M219.3 90h2.5M570.3 90h2.5M184.7 92.2h2.5M191.2 92.2h2.5M208.5 94.3h2.5M585.4 96.5h2.5M191.2 98.7h2.5M210.7 98.7h2.5M215 98.7h4.6M208.5 100.8h4.6M208.5 105.2h2.5M561.6 107.3h2.5M572.4 107.3h4.6M191.2 109.5h2.5M195.5 111.7h2.5M548.6 111.7h2.5M552.9 113.8h2.5M509.6 122.5h2.5M507.4 124.7h2.5M533.4 124.7h2.5M548.6 124.7h2.5M511.8 126.8h2.5M533.4 126.8h2.5M539.9 126.8h2.5M548.6 126.8h2.5M516.1 129h2.5M531.3 131.2h2.5M539.9 131.2h2.5M503.1 133.3h2.5M516.1 133.3h2.5M535.6 133.3h2.5M503.1 135.5h2.5M518.3 135.5h2.5M511.8 137.7h4.6M550.8 137.7h2.5M509.6 139.8h2.5M518.3 139.8h2.5M524.8 139.8h2.5M184.7 142h2.5M191.2 142h2.5M197.7 142h2.5M524.8 142h2.5M548.6 142h4.6M193.3 144.2h2.5M526.9 144.2h2.5M552.9 144.2h2.5M193.3 146.3h2.5M531.3 146.3h2.5M520.4 148.5h2.5M526.9 148.5h2.5M522.6 150.7h2.5M193.3 152.8h2.5M199.8 152.8h4.6M206.3 152.8h2.5M195.5 155h2.5M511.8 155h2.5M524.8 155h2.5M552.9 155h2.5M561.6 155h2.5M199.8 157.2h4.6M518.3 157.2h2.5M208.5 161.5h2.5M511.8 161.5h2.5M518.3 161.5h2.5M537.8 161.5h2.5M215 163.7h2.5M511.8 163.7h4.6M206.3 165.8h4.6M225.8 165.8h4.6M511.8 165.8h4.6M531.3 165.8h2.5M539.9 165.8h2.5M223.7 168h2.5M228 168h4.6M513.9 168h2.5M520.4 168h2.5M533.4 168h2.5M537.8 168h2.5M204.2 170.1h2.5M208.5 170.1h9M518.3 170.1h2.5M537.8 170.1h2.5M546.4 170.1h2.5M202 172.3h9M516.1 172.3h4.6M535.6 172.3h4.6M544.3 172.3h2.5M568.1 172.3h2.5M206.3 174.5h4.6M217.2 174.5h2.5M223.7 174.5h2.5M232.3 174.5h2.5M241 174.5h2.5M245.3 174.5h2.5M520.4 174.5h2.5M524.8 174.5h2.5M533.4 174.5h2.5M542.1 174.5h2.5M199.8 176.6h4.6M206.3 176.6h2.5M219.3 176.6h2.5M520.4 176.6h4.6M535.6 176.6h2.5M542.1 176.6h4.6M572.4 176.6h2.5M576.8 176.6h4.6M587.6 176.6h2.5M594.1 176.6h2.5M199.8 178.8h2.5M241 178.8h2.5M249.7 178.8h2.5M522.6 178.8h4.6M221.5 181h2.5M234.5 181h2.5M245.3 181h2.5M581.1 181h2.5M585.4 181h2.5M598.4 181h2.5M208.5 183.1h4.6M219.3 183.1h2.5M223.7 183.1h2.5M232.3 183.1h6.8M243.2 183.1h2.5M583.3 183.1h2.5M206.3 185.3h2.5M219.3 185.3h9M236.7 185.3h2.5M589.8 185.3h2.5M208.5 187.5h2.5M215 187.5h2.5M223.7 187.5h2.5M228 187.5h2.5M236.7 187.5h2.5M587.6 187.5h2.5M232.3 189.6h2.5M212.8 191.8h2.5M219.3 191.8h2.5M217.2 194h2.5M215 196.1h2.5M641.7 228.6h2.5M641.7 230.8h2.5M643.9 237.3h2.5M639.6 239.5h4.6M641.7 241.6h2.5M637.4 243.8h2.5M637.4 246h6.8M635.2 248.1h2.5M630.9 250.3h2.5M635.2 250.3h4.6"/>
<path stroke="#4c5490" d="M520.4 35.8h2.5M537.8 38h2.5M498.8 40.2h2.5M505.3 40.2h2.5M537.8 40.2h2.5M191.2 42.3h2.5M496.6 42.3h2.5M507.4 42.3h4.6M542.1 42.3h2.5M561.6 42.3h2.5M178.2 44.5h2.5M204.2 44.5h2.5M215 44.5h2.5M507.4 44.5h2.5M513.9 44.5h2.5M522.6 44.5h2.5M561.6 44.5h2.5M600.6 44.5h2.5M69.9 46.7h2.5M117.5 46.7h2.5M121.8 46.7h2.5M176 46.7h2.5M186.8 46.7h2.5M191.2 46.7h2.5M518.3 46.7h2.5M522.6 46.7h2.5M104.5 48.8h2.5M119.7 48.8h2.5M124 48.8h4.6M134.8 48.8h4.6M176 48.8h2.5M186.8 48.8h2.5M217.2 48.8h2.5M225.8 48.8h2.5M371 48.8h2.5M377.5 48.8h2.5M496.6 48.8h2.5M500.9 48.8h2.5M552.9 48.8h4.6M628.7 48.8h2.5M69.9 51h2.5M80.7 51h2.5M85 51h2.5M98 51h2.5M104.5 51h2.5M115.3 51h2.5M126.2 51h2.5M141.3 51h2.5M156.5 51h4.6M163 51h2.5M176 51h2.5M184.7 51h2.5M189 51h4.6M195.5 51h2.5M215 51h2.5M366.6 51h2.5M371 51h2.5M379.6 51h2.5M533.4 51h2.5M550.8 51h2.5M565.9 51h2.5M578.9 51h2.5M78.5 53.2h2.5M91.5 53.2h4.6M102.3 53.2h2.5M113.2 53.2h2.5M124 53.2h2.5M137 53.2h2.5M141.3 53.2h2.5M152.2 53.2h2.5M163 53.2h2.5M167.3 53.2h2.5M364.5 53.2h4.6M375.3 53.2h2.5M500.9 53.2h2.5M513.9 53.2h2.5M526.9 53.2h2.5M542.1 53.2h2.5M591.9 53.2h2.5M622.2 53.2h2.5M72 55.3h2.5M76.4 55.3h2.5M85 55.3h2.5M111 55.3h2.5M137 55.3h2.5M147.8 55.3h2.5M154.3 55.3h2.5M169.5 55.3h2.5M364.5 55.3h2.5M375.3 55.3h2.5M379.6 55.3h2.5M522.6 55.3h2.5M533.4 55.3h2.5M539.9 55.3h2.5M550.8 55.3h4.6M561.6 55.3h2.5M570.3 55.3h2.5M602.8 55.3h4.6M611.4 55.3h2.5M615.7 55.3h4.6M637.4 55.3h2.5M78.5 57.5h2.5M91.5 57.5h4.6M108.8 57.5h2.5M113.2 57.5h2.5M130.5 57.5h2.5M139.2 57.5h4.6M145.7 57.5h2.5M158.7 57.5h4.6M184.7 57.5h2.5M223.7 57.5h4.6M358 57.5h2.5M373.1 57.5h2.5M377.5 57.5h4.6M505.3 57.5h2.5M526.9 57.5h4.6M533.4 57.5h2.5M550.8 57.5h6.8M559.4 57.5h2.5M563.8 57.5h2.5M589.8 57.5h4.6M622.2 57.5h2.5M95.8 59.7h2.5M102.3 59.7h2.5M106.7 59.7h2.5M111 59.7h2.5M115.3 59.7h2.5M124 59.7h2.5M132.7 59.7h2.5M143.5 59.7h4.6M160.8 59.7h4.6M171.7 59.7h4.6M178.2 59.7h2.5M186.8 59.7h2.5M217.2 59.7h2.5M358 59.7h2.5M362.3 59.7h2.5M373.1 59.7h2.5M377.5 59.7h2.5M496.6 59.7h2.5M509.6 59.7h2.5M529.1 59.7h2.5M552.9 59.7h2.5M559.4 59.7h2.5M587.6 59.7h2.5M611.4 59.7h2.5M615.7 59.7h2.5M648.2 59.7h2.5M102.3 61.8h2.5M108.8 61.8h2.5M121.8 61.8h6.8M130.5 61.8h2.5M169.5 61.8h2.5M173.8 61.8h2.5M178.2 61.8h2.5M215 61.8h2.5M225.8 61.8h2.5M230.2 61.8h2.5M362.3 61.8h4.6M368.8 61.8h4.6M531.3 61.8h2.5M552.9 61.8h2.5M583.3 61.8h2.5M604.9 61.8h2.5M609.2 61.8h2.5M624.4 61.8h2.5M633.1 61.8h6.8M641.7 61.8h2.5M104.5 64h2.5M108.8 64h2.5M124 64h6.8M139.2 64h2.5M150 64h2.5M156.5 64h2.5M163 64h4.6M212.8 64h2.5M221.5 64h2.5M349.3 64h2.5M368.8 64h4.6M522.6 64h2.5M570.3 64h2.5M613.6 64h2.5M620.1 64h2.5M639.6 64h2.5M106.7 66.2h6.8M117.5 66.2h2.5M132.7 66.2h2.5M160.8 66.2h2.5M165.2 66.2h2.5M176 66.2h2.5M215 66.2h4.6M230.2 66.2h2.5M353.6 66.2h2.5M362.3 66.2h2.5M373.1 66.2h2.5M511.8 66.2h2.5M583.3 66.2h2.5M596.3 66.2h4.6M602.8 66.2h2.5M609.2 66.2h2.5M622.2 66.2h2.5M69.9 68.3h2.5M108.8 68.3h2.5M119.7 68.3h2.5M137 68.3h2.5M141.3 68.3h2.5M150 68.3h2.5M154.3 68.3h2.5M165.2 68.3h2.5M169.5 68.3h2.5M215 68.3h2.5M219.3 68.3h4.6M234.5 68.3h2.5M351.5 68.3h4.6M529.1 68.3h2.5M550.8 68.3h2.5M565.9 68.3h2.5M615.7 68.3h2.5M622.2 68.3h2.5M111 70.5h2.5M126.2 70.5h2.5M134.8 70.5h2.5M139.2 70.5h2.5M154.3 70.5h2.5M167.3 70.5h4.6M178.2 70.5h2.5M184.7 70.5h2.5M217.2 70.5h2.5M332 70.5h2.5M524.8 70.5h2.5M611.4 70.5h2.5M124 72.7h2.5M145.7 72.7h2.5M189 72.7h2.5M210.7 72.7h4.6M217.2 72.7h2.5M225.8 72.7h2.5M332 72.7h2.5M368.8 72.7h2.5M568.1 72.7h2.5M178.2 74.8h2.5M182.5 74.8h2.5M197.7 74.8h2.5M215 74.8h2.5M338.5 74.8h2.5M358 74.8h2.5M587.6 74.8h2.5M119.7 77h2.5M124 77h2.5M132.7 77h4.6M191.2 77h2.5M221.5 77h4.6M336.3 77h2.5M342.8 77h2.5M184.7 79.2h2.5M193.3 79.2h2.5M221.5 79.2h2.5M232.3 79.2h2.5M241 79.2h2.5M323.3 79.2h2.5M332 79.2h2.5M574.6 79.2h2.5M585.4 79.2h2.5M613.6 79.2h2.5M128.3 81.3h2.5M180.3 81.3h2.5M189 81.3h2.5M193.3 81.3h2.5M212.8 81.3h2.5M221.5 81.3h2.5M225.8 81.3h4.6M245.3 81.3h2.5M332 81.3h2.5M180.3 83.5h4.6M186.8 83.5h2.5M191.2 83.5h2.5M197.7 83.5h6.8M210.7 83.5h2.5M215 83.5h2.5M225.8 83.5h2.5M234.5 83.5h2.5M249.7 83.5h2.5M546.4 83.5h2.5M591.9 83.5h2.5M186.8 85.7h2.5M193.3 85.7h4.6M202 85.7h4.6M208.5 85.7h6.8M217.2 85.7h6.8M230.2 85.7h2.5M550.8 85.7h2.5M587.6 85.7h2.5M208.5 87.8h6.8M217.2 87.8h2.5M223.7 87.8h2.5M243.2 87.8h2.5M247.5 87.8h2.5M572.4 87.8h2.5M587.6 87.8h2.5M191.2 90h2.5M204.2 90h2.5M215 90h4.6M223.7 90h2.5M228 90h2.5M572.4 90h2.5M589.8 90h2.5M186.8 92.2h2.5M199.8 92.2h2.5M204.2 92.2h2.5M208.5 92.2h4.6M221.5 92.2h2.5M587.6 92.2h4.6M189 94.3h4.6M202 94.3h2.5M212.8 94.3h4.6M221.5 94.3h2.5M191.2 96.5h4.6M197.7 96.5h2.5M204.2 96.5h2.5M583.3 96.5h2.5M197.7 98.7h2.5M202 98.7h2.5M208.5 98.7h2.5M583.3 98.7h4.6M191.2 100.8h2.5M195.5 100.8h4.6M206.3 100.8h2.5M212.8 100.8h2.5M189 103h2.5M195.5 103h2.5M559.4 103h2.5M563.8 103h2.5M191.2 105.2h4.6M425.1 105.2h2.5M561.6 105.2h2.5M581.1 105.2h6.8M193.3 107.3h2.5M199.8 107.3h4.6M550.8 107.3h2.5M565.9 107.3h2.5M570.3 107.3h2.5M576.8 107.3h2.5M581.1 107.3h2.5M585.4 107.3h2.5M186.8 109.5h4.6M539.9 109.5h4.6M561.6 109.5h2.5M568.1 109.5h4.6M574.6 109.5h2.5M189 111.7h2.5M539.9 111.7h2.5M550.8 111.7h2.5M565.9 111.7h2.5M574.6 111.7h2.5M197.7 113.8h4.6M526.9 113.8h2.5M546.4 113.8h2.5M193.3 116h2.5M529.1 116h2.5M535.6 116h4.6M542.1 116h2.5M552.9 116h2.5M520.4 118.2h2.5M544.3 118.2h2.5M548.6 118.2h2.5M552.9 118.2h2.5M513.9 120.3h2.5M520.4 120.3h2.5M531.3 120.3h4.6M550.8 120.3h2.5M516.1 122.5h4.6M531.3 122.5h2.5M544.3 122.5h2.5M199.8 124.7h2.5M509.6 124.7h2.5M535.6 124.7h2.5M550.8 124.7h2.5M522.6 126.8h4.6M544.3 126.8h2.5M552.9 126.8h2.5M500.9 129h2.5M505.3 129h2.5M511.8 129h2.5M520.4 129h2.5M535.6 129h2.5M544.3 129h4.6M550.8 129h2.5M503.1 131.2h2.5M507.4 131.2h4.6M516.1 131.2h2.5M500.9 133.3h2.5M507.4 133.3h2.5M513.9 133.3h2.5M524.8 133.3h2.5M529.1 133.3h4.6M505.3 135.5h2.5M520.4 135.5h2.5M533.4 135.5h2.5M505.3 137.7h2.5M518.3 137.7h6.8M513.9 139.8h2.5M186.8 142h2.5M505.3 142h2.5M511.8 142h2.5M516.1 142h2.5M520.4 142h2.5M191.2 144.2h2.5M197.7 144.2h2.5M520.4 144.2h4.6M529.1 144.2h2.5M182.5 146.3h2.5M189 146.3h2.5M195.5 146.3h2.5M513.9 146.3h2.5M522.6 146.3h2.5M555.1 146.3h2.5M191.2 148.5h4.6M197.7 148.5h2.5M511.8 148.5h2.5M522.6 148.5h2.5M195.5 150.7h4.6M513.9 150.7h2.5M529.1 150.7h2.5M511.8 152.8h2.5M522.6 152.8h2.5M199.8 155h4.6M210.7 155h2.5M513.9 155h4.6M206.3 157.2h4.6M555.1 157.2h2.5M210.7 159.3h4.6M561.6 159.3h2.5M215 161.5h2.5M332 161.5h2.5M539.9 161.5h2.5M206.3 163.7h4.6M217.2 163.7h4.6M217.2 165.8h6.8M516.1 165.8h2.5M232.3 168h4.6M518.3 168h2.5M202 170.1h2.5M232.3 170.1h2.5M238.8 170.1h4.6M513.9 170.1h2.5M520.4 170.1h2.5M531.3 170.1h2.5M568.1 170.1h2.5M572.4 170.1h4.6M210.7 172.3h2.5M225.8 172.3h2.5M236.7 172.3h4.6M524.8 172.3h2.5M531.3 172.3h2.5M574.6 172.3h2.5M581.1 172.3h2.5M204.2 174.5h2.5M210.7 174.5h2.5M215 174.5h2.5M234.5 174.5h2.5M249.7 174.5h2.5M518.3 174.5h2.5M522.6 174.5h2.5M535.6 174.5h2.5M570.3 174.5h2.5M210.7 176.6h2.5M232.3 176.6h2.5M238.8 176.6h2.5M243.2 176.6h2.5M254 176.6h2.5M539.9 176.6h2.5M574.6 176.6h2.5M204.2 178.8h2.5M210.7 178.8h2.5M243.2 178.8h2.5M219.3 181h2.5M241 181h2.5M249.7 181h2.5M583.3 181h2.5M587.6 181h2.5M225.8 183.1h2.5M230.2 183.1h2.5M247.5 183.1h2.5M589.8 183.1h2.5M210.7 185.3h2.5M217.2 185.3h2.5M230.2 185.3h2.5M585.4 185.3h2.5M210.7 187.5h2.5M217.2 187.5h2.5M225.8 187.5h2.5M230.2 187.5h4.6M238.8 187.5h2.5M589.8 187.5h2.5M212.8 189.6h2.5M219.3 189.6h2.5M223.7 189.6h4.6M210.7 191.8h2.5M215 191.8h2.5M221.5 191.8h4.6M238.8 191.8h2.5M243.2 191.8h2.5M215 194h2.5M219.3 194h2.5M217.2 196.1h2.5M215 198.3h2.5M420.8 202.6h2.5M648.2 235.1h2.5M215 237.3h2.5M215 241.6h4.6M635.2 243.8h2.5M643.9 243.8h2.5M637.4 248.1h2.5M633.1 250.3h2.5"/>
<path stroke="#495e93" d="M526.9 35.8h2.5M496.6 38h2.5M500.9 38h2.5M507.4 38h6.8M516.1 38h2.5M529.1 38h2.5M496.6 40.2h2.5M507.4 40.2h2.5M511.8 40.2h2.5M520.4 40.2h2.5M529.1 40.2h2.5M533.4 40.2h2.5M186.8 42.3h4.6M199.8 42.3h4.6M206.3 42.3h2.5M494.4 42.3h2.5M500.9 42.3h2.5M516.1 42.3h2.5M531.3 42.3h2.5M546.4 42.3h2.5M559.4 42.3h2.5M186.8 44.5h9M197.7 44.5h2.5M212.8 44.5h2.5M498.8 44.5h2.5M511.8 44.5h2.5M516.1 44.5h4.6M535.6 44.5h2.5M548.6 44.5h2.5M565.9 44.5h2.5M572.4 44.5h2.5M594.1 44.5h4.6M74.2 46.7h2.5M82.9 46.7h2.5M189 46.7h2.5M193.3 46.7h4.6M199.8 46.7h4.6M219.3 46.7h4.6M381.8 46.7h2.5M392.6 46.7h2.5M496.6 46.7h2.5M500.9 46.7h4.6M509.6 46.7h4.6M531.3 46.7h4.6M542.1 46.7h4.6M557.3 46.7h4.6M563.8 46.7h2.5M570.3 46.7h4.6M598.4 46.7h2.5M604.9 46.7h2.5M67.7 48.8h2.5M72 48.8h2.5M78.5 48.8h6.8M87.2 48.8h9M128.3 48.8h2.5M132.7 48.8h2.5M180.3 48.8h6.8M195.5 48.8h2.5M199.8 48.8h2.5M206.3 48.8h2.5M490.1 48.8h2.5M498.8 48.8h2.5M507.4 48.8h2.5M513.9 48.8h2.5M518.3 48.8h2.5M524.8 48.8h2.5M529.1 48.8h2.5M537.8 48.8h2.5M544.3 48.8h4.6M557.3 48.8h4.6M570.3 48.8h2.5M615.7 48.8h4.6M624.4 48.8h2.5M641.7 48.8h2.5M76.4 51h2.5M82.9 51h2.5M89.3 51h2.5M100.2 51h2.5M106.7 51h2.5M134.8 51h2.5M165.2 51h2.5M197.7 51h4.6M217.2 51h2.5M377.5 51h2.5M487.9 51h2.5M492.3 51h2.5M511.8 51h2.5M520.4 51h2.5M524.8 51h2.5M529.1 51h2.5M542.1 51h4.6M559.4 51h2.5M563.8 51h2.5M570.3 51h6.8M587.6 51h2.5M594.1 51h2.5M602.8 51h2.5M607.1 51h2.5M620.1 51h2.5M624.4 51h9M643.9 51h4.6M652.6 51h2.5M85 53.2h4.6M111 53.2h2.5M121.8 53.2h2.5M128.3 53.2h2.5M184.7 53.2h4.6M199.8 53.2h2.5M221.5 53.2h2.5M232.3 53.2h2.5M368.8 53.2h2.5M373.1 53.2h2.5M379.6 53.2h2.5M386.1 53.2h2.5M490.1 53.2h2.5M496.6 53.2h2.5M503.1 53.2h2.5M507.4 53.2h2.5M511.8 53.2h2.5M516.1 53.2h11.1M539.9 53.2h2.5M544.3 53.2h2.5M561.6 53.2h2.5M565.9 53.2h2.5M572.4 53.2h2.5M576.8 53.2h2.5M581.1 53.2h4.6M587.6 53.2h2.5M596.3 53.2h2.5M602.8 53.2h2.5M607.1 53.2h4.6M624.4 53.2h4.6M637.4 53.2h6.8M35.2 55.3h2.5M69.9 55.3h2.5M74.2 55.3h2.5M89.3 55.3h4.6M95.8 55.3h6.8M108.8 55.3h2.5M119.7 55.3h4.6M126.2 55.3h2.5M139.2 55.3h2.5M152.2 55.3h2.5M195.5 55.3h2.5M215 55.3h2.5M221.5 55.3h2.5M230.2 55.3h2.5M362.3 55.3h2.5M371 55.3h4.6M377.5 55.3h2.5M490.1 55.3h2.5M498.8 55.3h2.5M505.3 55.3h11.1M526.9 55.3h2.5M531.3 55.3h2.5M535.6 55.3h2.5M544.3 55.3h4.6M555.1 55.3h2.5M563.8 55.3h2.5M574.6 55.3h2.5M585.4 55.3h4.6M598.4 55.3h2.5M641.7 55.3h2.5M87.2 57.5h2.5M111 57.5h2.5M126.2 57.5h2.5M150 57.5h2.5M191.2 57.5h2.5M221.5 57.5h2.5M232.3 57.5h2.5M362.3 57.5h2.5M384 57.5h4.6M494.4 57.5h4.6M503.1 57.5h2.5M513.9 57.5h2.5M535.6 57.5h2.5M544.3 57.5h4.6M557.3 57.5h2.5M561.6 57.5h2.5M572.4 57.5h9M585.4 57.5h4.6M596.3 57.5h2.5M600.6 57.5h4.6M607.1 57.5h2.5M624.4 57.5h2.5M635.2 57.5h2.5M641.7 57.5h2.5M72 59.7h4.6M78.5 59.7h4.6M87.2 59.7h2.5M91.5 59.7h2.5M98 59.7h2.5M108.8 59.7h2.5M134.8 59.7h2.5M150 59.7h2.5M180.3 59.7h2.5M225.8 59.7h2.5M360.1 59.7h2.5M364.5 59.7h2.5M498.8 59.7h4.6M505.3 59.7h2.5M511.8 59.7h2.5M518.3 59.7h2.5M526.9 59.7h2.5M531.3 59.7h2.5M535.6 59.7h2.5M542.1 59.7h2.5M555.1 59.7h2.5M561.6 59.7h2.5M565.9 59.7h2.5M570.3 59.7h2.5M574.6 59.7h2.5M581.1 59.7h6.8M591.9 59.7h2.5M596.3 59.7h4.6M602.8 59.7h9M613.6 59.7h2.5M617.9 59.7h2.5M626.6 59.7h2.5M630.9 59.7h4.6M639.6 59.7h2.5M646.1 59.7h2.5M652.6 59.7h2.5M76.4 61.8h2.5M87.2 61.8h2.5M91.5 61.8h2.5M98 61.8h4.6M113.2 61.8h6.8M134.8 61.8h2.5M141.3 61.8h2.5M145.7 61.8h2.5M176 61.8h2.5M180.3 61.8h4.6M210.7 61.8h2.5M219.3 61.8h4.6M358 61.8h4.6M366.6 61.8h2.5M381.8 61.8h2.5M516.1 61.8h2.5M526.9 61.8h2.5M533.4 61.8h2.5M537.8 61.8h4.6M544.3 61.8h6.8M555.1 61.8h4.6M561.6 61.8h2.5M565.9 61.8h4.6M578.9 61.8h4.6M589.8 61.8h4.6M596.3 61.8h2.5M602.8 61.8h2.5M607.1 61.8h2.5M611.4 61.8h2.5M620.1 61.8h2.5M626.6 61.8h2.5M74.2 64h2.5M85 64h2.5M93.7 64h2.5M98 64h2.5M121.8 64h2.5M130.5 64h4.6M176 64h4.6M208.5 64h2.5M215 64h4.6M351.5 64h4.6M360.1 64h4.6M366.6 64h2.5M511.8 64h6.8M531.3 64h9M550.8 64h6.8M561.6 64h2.5M565.9 64h2.5M583.3 64h2.5M598.4 64h2.5M622.2 64h2.5M630.9 64h2.5M646.1 64h2.5M76.4 66.2h2.5M98 66.2h4.6M128.3 66.2h2.5M141.3 66.2h2.5M206.3 66.2h2.5M364.5 66.2h2.5M375.3 66.2h2.5M531.3 66.2h2.5M537.8 66.2h4.6M565.9 66.2h2.5M572.4 66.2h2.5M576.8 66.2h2.5M587.6 66.2h6.8M607.1 66.2h2.5M611.4 66.2h2.5M617.9 66.2h2.5M624.4 66.2h2.5M628.7 66.2h2.5M633.1 66.2h4.6M67.7 68.3h2.5M104.5 68.3h4.6M111 68.3h2.5M115.3 68.3h2.5M160.8 68.3h2.5M171.7 68.3h2.5M217.2 68.3h2.5M223.7 68.3h4.6M230.2 68.3h4.6M332 68.3h2.5M358 68.3h4.6M371 68.3h4.6M542.1 68.3h4.6M548.6 68.3h2.5M552.9 68.3h2.5M559.4 68.3h2.5M574.6 68.3h2.5M583.3 68.3h2.5M607.1 68.3h2.5M613.6 68.3h2.5M108.8 70.5h2.5M163 70.5h2.5M208.5 70.5h2.5M215 70.5h2.5M219.3 70.5h2.5M225.8 70.5h2.5M336.3 70.5h2.5M503.1 70.5h2.5M513.9 70.5h4.6M526.9 70.5h2.5M531.3 70.5h2.5M552.9 70.5h2.5M557.3 70.5h2.5M563.8 70.5h2.5M613.6 70.5h4.6M620.1 70.5h6.8M132.7 72.7h6.8M171.7 72.7h2.5M178.2 72.7h2.5M193.3 72.7h2.5M206.3 72.7h2.5M215 72.7h2.5M219.3 72.7h2.5M228 72.7h2.5M232.3 72.7h2.5M238.8 72.7h2.5M327.6 72.7h2.5M334.1 72.7h2.5M338.5 72.7h2.5M355.8 72.7h2.5M360.1 72.7h2.5M509.6 72.7h2.5M524.8 72.7h2.5M533.4 72.7h2.5M546.4 72.7h4.6M559.4 72.7h2.5M620.1 72.7h2.5M624.4 72.7h2.5M61.2 74.8h2.5M119.7 74.8h2.5M124 74.8h2.5M132.7 74.8h2.5M173.8 74.8h2.5M184.7 74.8h2.5M189 74.8h2.5M193.3 74.8h4.6M199.8 74.8h2.5M228 74.8h4.6M236.7 74.8h2.5M241 74.8h4.6M332 74.8h2.5M355.8 74.8h2.5M360.1 74.8h4.6M546.4 74.8h2.5M550.8 74.8h2.5M565.9 74.8h2.5M617.9 74.8h6.8M137 77h2.5M176 77h2.5M228 77h2.5M232.3 77h2.5M238.8 77h2.5M243.2 77h2.5M578.9 77h2.5M587.6 77h2.5M124 79.2h2.5M139.2 79.2h2.5M223.7 79.2h2.5M228 79.2h2.5M327.6 79.2h4.6M334.1 79.2h4.6M340.6 79.2h2.5M578.9 79.2h2.5M124 81.3h2.5M130.5 81.3h2.5M182.5 81.3h4.6M195.5 81.3h2.5M202 81.3h2.5M223.7 81.3h2.5M234.5 81.3h2.5M591.9 81.3h2.5M615.7 81.3h2.5M126.2 83.5h2.5M195.5 83.5h2.5M208.5 83.5h2.5M212.8 83.5h2.5M228 83.5h2.5M548.6 83.5h2.5M589.8 83.5h2.5M180.3 85.7h2.5M184.7 85.7h2.5M191.2 85.7h2.5M223.7 85.7h2.5M228 85.7h2.5M245.3 85.7h2.5M249.7 85.7h2.5M546.4 85.7h2.5M565.9 85.7h2.5M585.4 85.7h2.5M589.8 85.7h4.6M128.3 87.8h2.5M182.5 87.8h4.6M202 87.8h6.8M241 87.8h2.5M565.9 87.8h2.5M583.3 87.8h2.5M128.3 90h2.5M184.7 90h2.5M189 90h2.5M193.3 90h4.6M208.5 90h2.5M221.5 90h2.5M236.7 90h2.5M565.9 90h2.5M578.9 90h4.6M193.3 92.2h4.6M202 92.2h2.5M212.8 92.2h2.5M217.2 92.2h4.6M225.8 92.2h4.6M234.5 92.2h4.6M591.9 92.2h4.6M186.8 94.3h2.5M193.3 94.3h4.6M199.8 94.3h2.5M204.2 94.3h2.5M583.3 94.3h2.5M591.9 94.3h2.5M184.7 96.5h2.5M199.8 96.5h4.6M210.7 96.5h11.1M563.8 96.5h2.5M126.2 98.7h2.5M184.7 98.7h4.6M195.5 98.7h2.5M212.8 98.7h2.5M565.9 98.7h4.6M193.3 100.8h2.5M202 100.8h4.6M191.2 103h2.5M197.7 103h6.8M206.3 103h4.6M212.8 103h2.5M423 103h2.5M561.6 103h2.5M581.1 103h2.5M585.4 103h2.5M186.8 105.2h2.5M195.5 105.2h4.6M210.7 105.2h2.5M390.5 105.2h2.5M559.4 105.2h2.5M565.9 105.2h2.5M184.7 107.3h2.5M197.7 107.3h2.5M206.3 107.3h6.8M414.3 107.3h2.5M548.6 107.3h2.5M578.9 107.3h2.5M583.3 107.3h2.5M193.3 109.5h2.5M199.8 109.5h4.6M420.8 109.5h6.8M548.6 109.5h4.6M576.8 109.5h2.5M583.3 109.5h2.5M182.5 111.7h2.5M186.8 111.7h2.5M191.2 111.7h2.5M197.7 111.7h11.1M544.3 111.7h4.6M568.1 111.7h2.5M576.8 111.7h2.5M204.2 113.8h2.5M425.1 113.8h2.5M535.6 113.8h2.5M539.9 113.8h4.6M568.1 113.8h2.5M572.4 113.8h2.5M199.8 116h4.6M516.1 116h2.5M533.4 116h2.5M548.6 116h4.6M186.8 118.2h2.5M509.6 118.2h2.5M537.8 118.2h6.8M546.4 118.2h2.5M550.8 118.2h2.5M511.8 120.3h2.5M524.8 120.3h4.6M539.9 120.3h9M199.8 122.5h2.5M505.3 122.5h2.5M511.8 122.5h2.5M524.8 122.5h2.5M539.9 122.5h2.5M546.4 122.5h2.5M550.8 122.5h2.5M492.3 124.7h2.5M500.9 124.7h2.5M511.8 124.7h2.5M516.1 124.7h2.5M522.6 124.7h2.5M539.9 124.7h6.8M505.3 126.8h2.5M526.9 126.8h4.6M537.8 126.8h2.5M542.1 126.8h2.5M503.1 129h2.5M509.6 129h2.5M531.3 129h2.5M537.8 129h2.5M542.1 129h2.5M505.3 131.2h2.5M511.8 131.2h2.5M520.4 131.2h6.8M533.4 131.2h4.6M550.8 131.2h4.6M184.7 133.3h4.6M518.3 133.3h2.5M522.6 133.3h2.5M533.4 133.3h2.5M522.6 135.5h2.5M529.1 135.5h4.6M182.5 137.7h4.6M524.8 137.7h4.6M533.4 137.7h2.5M552.9 137.7h2.5M186.8 139.8h4.6M505.3 139.8h4.6M511.8 139.8h2.5M516.1 139.8h2.5M522.6 139.8h2.5M526.9 139.8h4.6M178.2 142h2.5M522.6 142h2.5M180.3 144.2h9M511.8 144.2h4.6M518.3 144.2h2.5M524.8 144.2h2.5M184.7 146.3h4.6M191.2 146.3h2.5M197.7 146.3h2.5M516.1 146.3h2.5M524.8 146.3h4.6M195.5 148.5h2.5M516.1 148.5h2.5M524.8 148.5h2.5M193.3 150.7h2.5M520.4 150.7h2.5M531.3 150.7h2.5M513.9 152.8h2.5M559.4 152.8h2.5M197.7 155h2.5M206.3 155h4.6M210.7 157.2h2.5M323.3 157.2h2.5M206.3 159.3h4.6M217.2 159.3h2.5M325.5 159.3h2.5M329.8 159.3h4.6M219.3 161.5h4.6M325.5 161.5h4.6M412.1 161.5h2.5M210.7 163.7h4.6M221.5 163.7h13.3M539.9 163.7h2.5M204.2 165.8h2.5M230.2 165.8h4.6M236.7 165.8h2.5M256.1 165.8h2.5M212.8 168h2.5M236.7 168h4.6M249.7 168h2.5M392.6 168h2.5M535.6 168h2.5M243.2 170.1h2.5M251.8 170.1h2.5M570.3 170.1h2.5M212.8 172.3h2.5M247.5 172.3h2.5M251.8 172.3h2.5M256.1 172.3h2.5M247.5 174.5h2.5M204.2 176.6h2.5M208.5 176.6h2.5M236.7 176.6h2.5M245.3 176.6h2.5M249.7 176.6h2.5M524.8 176.6h2.5M208.5 178.8h2.5M245.3 178.8h4.6M578.9 178.8h2.5M596.3 178.8h2.5M206.3 181h4.6M238.8 181h2.5M243.2 181h2.5M247.5 181h2.5M206.3 183.1h2.5M403.5 183.1h2.5M617.9 183.1h2.5M208.5 185.3h2.5M232.3 185.3h2.5M238.8 185.3h11.1M600.6 185.3h2.5M221.5 187.5h2.5M234.5 187.5h2.5M243.2 187.5h2.5M596.3 187.5h2.5M206.3 189.6h2.5M210.7 189.6h2.5M217.2 189.6h2.5M221.5 189.6h2.5M234.5 189.6h2.5M238.8 189.6h4.6M245.3 189.6h2.5M208.5 191.8h2.5M217.2 191.8h2.5M225.8 191.8h2.5M230.2 191.8h2.5M208.5 194h4.6M230.2 194h2.5M219.3 196.1h2.5M225.8 196.1h2.5M423 196.1h2.5M429.5 198.3h2.5M427.3 200.5h2.5M251.8 209.1h2.5M251.8 215.6h2.5M217.2 235.1h2.5M217.2 237.3h2.5M215 239.5h2.5M630.9 246h2.5"/>
<path stroke="#446795" d="M513.9 35.8h2.5M518.3 35.8h2.5M524.8 35.8h2.5M531.3 35.8h6.8M494.4 38h2.5M498.8 38h2.5M505.3 38h2.5M513.9 38h2.5M526.9 38h2.5M531.3 38h4.6M487.9 40.2h2.5M500.9 40.2h4.6M509.6 40.2h2.5M513.9 40.2h6.8M526.9 40.2h2.5M193.3 42.3h6.8M204.2 42.3h2.5M208.5 42.3h2.5M490.1 42.3h2.5M498.8 42.3h2.5M505.3 42.3h2.5M518.3 42.3h6.8M526.9 42.3h4.6M537.8 42.3h4.6M544.3 42.3h2.5M550.8 42.3h2.5M557.3 42.3h2.5M565.9 42.3h2.5M585.4 42.3h2.5M487.9 44.5h2.5M492.3 44.5h6.8M500.9 44.5h6.8M524.8 44.5h2.5M529.1 44.5h2.5M533.4 44.5h2.5M537.8 44.5h2.5M546.4 44.5h2.5M550.8 44.5h11.1M587.6 44.5h2.5M598.4 44.5h2.5M602.8 44.5h2.5M119.7 46.7h2.5M197.7 46.7h2.5M204.2 46.7h9M215 46.7h4.6M379.6 46.7h2.5M384 46.7h2.5M490.1 46.7h6.8M505.3 46.7h4.6M513.9 46.7h2.5M520.4 46.7h2.5M524.8 46.7h4.6M535.6 46.7h2.5M548.6 46.7h2.5M552.9 46.7h2.5M561.6 46.7h2.5M565.9 46.7h4.6M574.6 46.7h4.6M589.8 46.7h2.5M596.3 46.7h2.5M600.6 46.7h4.6M607.1 46.7h4.6M613.6 46.7h4.6M61.2 48.8h2.5M76.4 48.8h2.5M85 48.8h2.5M100.2 48.8h2.5M108.8 48.8h4.6M117.5 48.8h2.5M121.8 48.8h2.5M130.5 48.8h2.5M139.2 48.8h2.5M193.3 48.8h2.5M208.5 48.8h4.6M379.6 48.8h2.5M384 48.8h2.5M511.8 48.8h2.5M516.1 48.8h2.5M520.4 48.8h4.6M531.3 48.8h4.6M542.1 48.8h2.5M548.6 48.8h4.6M568.1 48.8h2.5M572.4 48.8h2.5M581.1 48.8h2.5M585.4 48.8h6.8M596.3 48.8h2.5M602.8 48.8h2.5M609.2 48.8h6.8M620.1 48.8h4.6M626.6 48.8h2.5M630.9 48.8h2.5M635.2 48.8h4.6M643.9 48.8h2.5M91.5 51h6.8M108.8 51h2.5M113.2 51h2.5M117.5 51h2.5M130.5 51h4.6M139.2 51h2.5M143.5 51h2.5M154.3 51h2.5M160.8 51h2.5M212.8 51h2.5M223.7 51h4.6M230.2 51h2.5M381.8 51h2.5M425.1 51h2.5M483.6 51h2.5M496.6 51h2.5M500.9 51h2.5M505.3 51h2.5M509.6 51h2.5M516.1 51h4.6M531.3 51h2.5M537.8 51h2.5M546.4 51h2.5M555.1 51h2.5M561.6 51h2.5M581.1 51h2.5M585.4 51h2.5M600.6 51h2.5M604.9 51h2.5M609.2 51h6.8M639.6 51h4.6M650.4 51h2.5M33 53.2h2.5M41.7 53.2h2.5M63.4 53.2h2.5M72 53.2h4.6M80.7 53.2h4.6M89.3 53.2h2.5M95.8 53.2h4.6M150 53.2h2.5M189 53.2h4.6M195.5 53.2h2.5M223.7 53.2h4.6M371 53.2h2.5M388.3 53.2h4.6M444.6 53.2h2.5M494.4 53.2h2.5M529.1 53.2h6.8M537.8 53.2h2.5M546.4 53.2h6.8M557.3 53.2h2.5M563.8 53.2h2.5M568.1 53.2h4.6M594.1 53.2h2.5M598.4 53.2h4.6M615.7 53.2h4.6M630.9 53.2h2.5M650.4 53.2h4.6M52.5 55.3h2.5M65.5 55.3h2.5M78.5 55.3h6.8M93.7 55.3h2.5M104.5 55.3h2.5M115.3 55.3h2.5M145.7 55.3h2.5M165.2 55.3h2.5M186.8 55.3h2.5M191.2 55.3h2.5M197.7 55.3h2.5M219.3 55.3h2.5M225.8 55.3h2.5M232.3 55.3h2.5M368.8 55.3h2.5M381.8 55.3h2.5M397 55.3h2.5M427.3 55.3h4.6M433.8 55.3h2.5M442.4 55.3h2.5M496.6 55.3h2.5M503.1 55.3h2.5M516.1 55.3h2.5M520.4 55.3h2.5M542.1 55.3h2.5M548.6 55.3h2.5M557.3 55.3h4.6M565.9 55.3h2.5M572.4 55.3h2.5M578.9 55.3h2.5M583.3 55.3h2.5M589.8 55.3h4.6M620.1 55.3h15.5M648.2 55.3h4.6M74.2 57.5h2.5M80.7 57.5h2.5M95.8 57.5h2.5M102.3 57.5h6.8M115.3 57.5h2.5M124 57.5h2.5M132.7 57.5h4.6M152.2 57.5h2.5M212.8 57.5h2.5M219.3 57.5h2.5M230.2 57.5h2.5M364.5 57.5h4.6M371 57.5h2.5M381.8 57.5h2.5M401.3 57.5h2.5M474.9 57.5h2.5M492.3 57.5h2.5M507.4 57.5h4.6M518.3 57.5h6.8M531.3 57.5h2.5M539.9 57.5h4.6M583.3 57.5h2.5M609.2 57.5h4.6M626.6 57.5h2.5M637.4 57.5h2.5M648.2 57.5h2.5M69.9 59.7h2.5M89.3 59.7h2.5M104.5 59.7h2.5M117.5 59.7h4.6M366.6 59.7h2.5M379.6 59.7h4.6M386.1 59.7h2.5M390.5 59.7h2.5M435.9 59.7h2.5M481.4 59.7h2.5M494.4 59.7h2.5M537.8 59.7h2.5M544.3 59.7h2.5M550.8 59.7h2.5M572.4 59.7h2.5M589.8 59.7h2.5M620.1 59.7h6.8M628.7 59.7h2.5M637.4 59.7h2.5M67.7 61.8h4.6M82.9 61.8h2.5M95.8 61.8h2.5M206.3 61.8h4.6M212.8 61.8h2.5M217.2 61.8h2.5M228 61.8h2.5M353.6 61.8h2.5M373.1 61.8h2.5M379.6 61.8h2.5M386.1 61.8h2.5M390.5 61.8h2.5M433.8 61.8h2.5M492.3 61.8h2.5M500.9 61.8h4.6M507.4 61.8h2.5M511.8 61.8h4.6M518.3 61.8h4.6M529.1 61.8h2.5M542.1 61.8h2.5M574.6 61.8h4.6M587.6 61.8h2.5M594.1 61.8h2.5M613.6 61.8h6.8M622.2 61.8h2.5M630.9 61.8h2.5M643.9 61.8h2.5M652.6 61.8h2.5M72 64h2.5M87.2 64h2.5M91.5 64h2.5M95.8 64h2.5M111 64h4.6M154.3 64h2.5M206.3 64h2.5M210.7 64h2.5M230.2 64h2.5M355.8 64h2.5M364.5 64h2.5M386.1 64h4.6M416.5 64h2.5M420.8 64h2.5M496.6 64h4.6M507.4 64h2.5M520.4 64h2.5M524.8 64h6.8M539.9 64h2.5M548.6 64h2.5M578.9 64h2.5M589.8 64h4.6M604.9 64h2.5M609.2 64h4.6M617.9 64h2.5M628.7 64h2.5M633.1 64h6.8M641.7 64h4.6M63.4 66.2h2.5M72 66.2h2.5M80.7 66.2h4.6M95.8 66.2h2.5M104.5 66.2h2.5M137 66.2h2.5M150 66.2h2.5M208.5 66.2h2.5M212.8 66.2h2.5M228 66.2h2.5M232.3 66.2h2.5M355.8 66.2h4.6M368.8 66.2h4.6M386.1 66.2h2.5M392.6 66.2h2.5M503.1 66.2h4.6M518.3 66.2h2.5M522.6 66.2h2.5M526.9 66.2h2.5M533.4 66.2h2.5M542.1 66.2h2.5M550.8 66.2h2.5M557.3 66.2h6.8M568.1 66.2h4.6M578.9 66.2h2.5M585.4 66.2h2.5M594.1 66.2h2.5M600.6 66.2h2.5M604.9 66.2h2.5M620.1 66.2h2.5M143.5 68.3h4.6M206.3 68.3h4.6M212.8 68.3h2.5M228 68.3h2.5M355.8 68.3h2.5M366.6 68.3h2.5M390.5 68.3h2.5M496.6 68.3h4.6M505.3 68.3h4.6M511.8 68.3h2.5M518.3 68.3h2.5M526.9 68.3h2.5M531.3 68.3h2.5M539.9 68.3h2.5M557.3 68.3h2.5M561.6 68.3h4.6M570.3 68.3h2.5M581.1 68.3h2.5M585.4 68.3h2.5M604.9 68.3h2.5M617.9 68.3h2.5M624.4 68.3h2.5M65.5 70.5h2.5M72 70.5h2.5M117.5 70.5h2.5M121.8 70.5h2.5M130.5 70.5h2.5M156.5 70.5h4.6M173.8 70.5h2.5M180.3 70.5h2.5M210.7 70.5h2.5M230.2 70.5h2.5M358 70.5h4.6M364.5 70.5h6.8M529.1 70.5h2.5M537.8 70.5h6.8M550.8 70.5h2.5M555.1 70.5h2.5M559.4 70.5h2.5M572.4 70.5h6.8M581.1 70.5h2.5M61.2 72.7h2.5M67.7 72.7h2.5M126.2 72.7h2.5M169.5 72.7h2.5M221.5 72.7h2.5M362.3 72.7h4.6M516.1 72.7h9M526.9 72.7h2.5M531.3 72.7h2.5M537.8 72.7h2.5M542.1 72.7h4.6M550.8 72.7h6.8M561.6 72.7h2.5M570.3 72.7h2.5M574.6 72.7h2.5M617.9 72.7h2.5M622.2 72.7h2.5M56.9 74.8h2.5M143.5 74.8h2.5M176 74.8h2.5M221.5 74.8h6.8M238.8 74.8h2.5M323.3 74.8h9M334.1 74.8h4.6M340.6 74.8h2.5M366.6 74.8h2.5M522.6 74.8h2.5M529.1 74.8h2.5M544.3 74.8h2.5M559.4 74.8h2.5M568.1 74.8h2.5M572.4 74.8h2.5M576.8 74.8h2.5M589.8 74.8h2.5M613.6 74.8h4.6M139.2 77h2.5M182.5 77h2.5M197.7 77h2.5M245.3 77h2.5M325.5 77h9M338.5 77h2.5M509.6 77h4.6M550.8 77h2.5M570.3 77h2.5M583.3 77h4.6M589.8 77h2.5M617.9 77h2.5M121.8 79.2h2.5M128.3 79.2h2.5M180.3 79.2h2.5M234.5 79.2h2.5M238.8 79.2h2.5M243.2 79.2h2.5M552.9 79.2h2.5M568.1 79.2h2.5M587.6 79.2h4.6M615.7 79.2h2.5M134.8 81.3h2.5M186.8 81.3h2.5M199.8 81.3h2.5M230.2 81.3h2.5M236.7 81.3h4.6M325.5 81.3h2.5M568.1 81.3h2.5M572.4 81.3h2.5M578.9 81.3h2.5M585.4 81.3h2.5M589.8 81.3h2.5M613.6 81.3h2.5M128.3 83.5h2.5M132.7 83.5h6.8M221.5 83.5h2.5M241 83.5h2.5M247.5 83.5h2.5M332 83.5h4.6M552.9 83.5h2.5M570.3 83.5h2.5M576.8 83.5h2.5M583.3 83.5h4.6M182.5 85.7h2.5M225.8 85.7h2.5M238.8 85.7h4.6M247.5 85.7h2.5M334.1 85.7h4.6M542.1 85.7h2.5M555.1 85.7h2.5M559.4 85.7h2.5M568.1 85.7h2.5M574.6 85.7h2.5M195.5 87.8h2.5M221.5 87.8h2.5M228 87.8h2.5M236.7 87.8h2.5M245.3 87.8h2.5M574.6 87.8h6.8M589.8 87.8h2.5M126.2 90h2.5M182.5 90h2.5M230.2 90h2.5M234.5 90h2.5M364.5 90h2.5M563.8 90h2.5M587.6 90h2.5M189 92.2h2.5M197.7 92.2h2.5M206.3 92.2h2.5M230.2 92.2h2.5M574.6 92.2h2.5M128.3 94.3h2.5M184.7 94.3h2.5M206.3 94.3h2.5M219.3 94.3h2.5M353.6 94.3h2.5M368.8 94.3h2.5M561.6 94.3h2.5M572.4 94.3h4.6M585.4 94.3h4.6M594.1 94.3h2.5M186.8 96.5h4.6M195.5 96.5h2.5M206.3 96.5h4.6M340.6 96.5h2.5M414.3 96.5h2.5M570.3 96.5h2.5M589.8 96.5h4.6M189 98.7h2.5M193.3 98.7h2.5M204.2 98.7h4.6M563.8 98.7h2.5M186.8 100.8h4.6M327.6 100.8h2.5M407.8 100.8h2.5M552.9 100.8h2.5M559.4 100.8h2.5M585.4 100.8h4.6M193.3 103h2.5M204.2 103h2.5M210.7 103h2.5M397 103h2.5M401.3 103h2.5M414.3 103h4.6M565.9 103h2.5M583.3 103h2.5M587.6 103h2.5M189 105.2h2.5M199.8 105.2h6.8M407.8 105.2h2.5M416.5 105.2h2.5M427.3 105.2h2.5M496.6 105.2h2.5M531.3 105.2h2.5M542.1 105.2h2.5M546.4 105.2h2.5M552.9 105.2h4.6M578.9 105.2h2.5M186.8 107.3h6.8M204.2 107.3h2.5M403.5 107.3h2.5M418.6 107.3h6.8M563.8 107.3h2.5M184.7 109.5h2.5M197.7 109.5h2.5M204.2 109.5h4.6M210.7 109.5h2.5M418.6 109.5h2.5M544.3 109.5h4.6M572.4 109.5h2.5M578.9 109.5h4.6M585.4 109.5h2.5M193.3 111.7h2.5M423 111.7h2.5M518.3 111.7h2.5M524.8 111.7h2.5M535.6 111.7h4.6M570.3 111.7h4.6M186.8 113.8h2.5M191.2 113.8h6.8M429.5 113.8h2.5M511.8 113.8h4.6M520.4 113.8h2.5M529.1 113.8h2.5M533.4 113.8h2.5M537.8 113.8h2.5M544.3 113.8h2.5M565.9 113.8h2.5M184.7 116h2.5M189 116h4.6M195.5 116h4.6M496.6 116h2.5M503.1 116h2.5M524.8 116h4.6M531.3 116h2.5M568.1 116h2.5M182.5 118.2h4.6M193.3 118.2h2.5M511.8 118.2h2.5M522.6 118.2h2.5M526.9 118.2h2.5M531.3 118.2h6.8M197.7 120.3h4.6M505.3 120.3h4.6M518.3 120.3h2.5M522.6 120.3h2.5M529.1 120.3h2.5M537.8 120.3h2.5M552.9 120.3h2.5M202 122.5h2.5M500.9 122.5h2.5M507.4 122.5h2.5M522.6 122.5h2.5M526.9 122.5h2.5M535.6 122.5h4.6M542.1 122.5h2.5M202 124.7h2.5M505.3 124.7h2.5M518.3 124.7h4.6M524.8 124.7h2.5M531.3 124.7h2.5M546.4 124.7h2.5M202 126.8h2.5M500.9 126.8h4.6M513.9 126.8h4.6M535.6 126.8h2.5M546.4 126.8h2.5M550.8 126.8h2.5M507.4 129h2.5M518.3 129h2.5M522.6 129h4.6M533.4 129h2.5M539.9 129h2.5M552.9 129h2.5M496.6 131.2h2.5M518.3 131.2h2.5M526.9 131.2h2.5M537.8 131.2h2.5M189 133.3h2.5M505.3 133.3h2.5M520.4 133.3h2.5M215 135.5h2.5M509.6 135.5h2.5M516.1 135.5h2.5M524.8 135.5h4.6M178.2 137.7h2.5M186.8 137.7h4.6M529.1 137.7h4.6M171.7 139.8h2.5M176 139.8h2.5M182.5 139.8h4.6M520.4 139.8h2.5M550.8 139.8h4.6M169.5 142h2.5M182.5 142h2.5M507.4 142h2.5M513.9 142h2.5M518.3 142h2.5M529.1 142h2.5M552.9 142h2.5M189 144.2h2.5M195.5 144.2h2.5M516.1 144.2h2.5M531.3 144.2h2.5M511.8 146.3h2.5M518.3 146.3h4.6M529.1 146.3h2.5M217.2 148.5h2.5M477.1 148.5h2.5M531.3 148.5h2.5M511.8 150.7h2.5M524.8 150.7h2.5M204.2 152.8h2.5M210.7 152.8h2.5M481.4 152.8h2.5M526.9 152.8h2.5M215 155h2.5M410 155h2.5M215 157.2h2.5M414.3 157.2h2.5M334.1 159.3h2.5M479.3 159.3h2.5M217.2 161.5h2.5M336.3 161.5h2.5M251.8 163.7h2.5M234.5 165.8h2.5M241 168h2.5M390.5 168h2.5M544.3 168h2.5M206.3 170.1h2.5M236.7 170.1h2.5M247.5 170.1h2.5M256.1 170.1h2.5M262.6 170.1h2.5M241 172.3h2.5M249.7 172.3h2.5M260.5 172.3h2.5M202 174.5h2.5M243.2 174.5h2.5M254 174.5h2.5M206.3 178.8h2.5M368.8 178.8h2.5M202 181h4.6M204.2 183.1h2.5M238.8 183.1h2.5M245.3 183.1h2.5M249.7 183.1h2.5M245.3 187.5h2.5M249.7 187.5h2.5M254 187.5h2.5M215 189.6h2.5M228 189.6h2.5M243.2 189.6h2.5M427.3 189.6h2.5M228 191.8h2.5M234.5 191.8h2.5M260.5 191.8h2.5M429.5 191.8h2.5M212.8 194h2.5M223.7 194h4.6M234.5 194h2.5M238.8 194h6.8M247.5 194h2.5M427.3 194h2.5M221.5 196.1h4.6M262.6 196.1h2.5M425.1 196.1h2.5M212.8 198.3h2.5M245.3 198.3h2.5M264.8 198.3h2.5M423 198.3h6.8M256.1 200.5h2.5M221.5 202.6h2.5M423 202.6h2.5M251.8 204.8h2.5M256.1 204.8h2.5M403.5 204.8h2.5M427.3 204.8h2.5M626.6 207h2.5M258.3 209.1h2.5M425.1 209.1h2.5M256.1 215.6h2.5M256.1 217.8h2.5M247.5 224.3h2.5M251.8 224.3h4.6M215 235.1h2.5M212.8 239.5h2.5M217.2 246h2.5"/>
<path stroke="#407096" d="M516.1 35.8h2.5M522.6 35.8h2.5M529.1 35.8h2.5M503.1 38h2.5M518.3 38h4.6M492.3 40.2h4.6M522.6 40.2h4.6M531.3 40.2h2.5M535.6 40.2h2.5M464.1 42.3h2.5M485.8 42.3h2.5M492.3 42.3h2.5M503.1 42.3h2.5M511.8 42.3h4.6M524.8 42.3h2.5M533.4 42.3h2.5M548.6 42.3h2.5M552.9 42.3h4.6M587.6 42.3h2.5M195.5 44.5h2.5M199.8 44.5h2.5M208.5 44.5h2.5M485.8 44.5h2.5M509.6 44.5h2.5M531.3 44.5h2.5M539.9 44.5h4.6M563.8 44.5h2.5M583.3 44.5h4.6M63.4 46.7h2.5M72 46.7h2.5M78.5 46.7h4.6M180.3 46.7h2.5M212.8 46.7h2.5M390.5 46.7h2.5M474.9 46.7h2.5M481.4 46.7h2.5M498.8 46.7h2.5M529.1 46.7h2.5M546.4 46.7h2.5M555.1 46.7h2.5M581.1 46.7h2.5M585.4 46.7h4.6M591.9 46.7h2.5M617.9 46.7h2.5M30.9 48.8h2.5M59 48.8h2.5M63.4 48.8h4.6M69.9 48.8h2.5M95.8 48.8h4.6M102.3 48.8h2.5M106.7 48.8h2.5M197.7 48.8h2.5M202 48.8h4.6M212.8 48.8h4.6M219.3 48.8h4.6M373.1 48.8h2.5M381.8 48.8h2.5M397 48.8h2.5M470.6 48.8h2.5M479.3 48.8h2.5M494.4 48.8h2.5M503.1 48.8h4.6M509.6 48.8h2.5M526.9 48.8h2.5M561.6 48.8h2.5M565.9 48.8h2.5M583.3 48.8h2.5M591.9 48.8h2.5M607.1 48.8h2.5M633.1 48.8h2.5M639.6 48.8h2.5M646.1 48.8h6.8M65.5 51h2.5M72 51h4.6M87.2 51h2.5M111 51h2.5M119.7 51h2.5M219.3 51h2.5M386.1 51h2.5M401.3 51h4.6M431.6 51h2.5M477.1 51h2.5M490.1 51h2.5M503.1 51h2.5M522.6 51h2.5M526.9 51h2.5M539.9 51h2.5M552.9 51h2.5M557.3 51h2.5M583.3 51h2.5M615.7 51h2.5M622.2 51h2.5M633.1 51h6.8M648.2 51h2.5M37.4 53.2h4.6M59 53.2h4.6M69.9 53.2h2.5M76.4 53.2h2.5M106.7 53.2h4.6M215 53.2h4.6M377.5 53.2h2.5M399.1 53.2h2.5M405.6 53.2h2.5M425.1 53.2h2.5M461.9 53.2h2.5M466.3 53.2h2.5M472.8 53.2h2.5M479.3 53.2h2.5M485.8 53.2h2.5M498.8 53.2h2.5M509.6 53.2h2.5M552.9 53.2h4.6M578.9 53.2h2.5M585.4 53.2h2.5M589.8 53.2h2.5M604.9 53.2h2.5M611.4 53.2h4.6M628.7 53.2h2.5M633.1 53.2h4.6M646.1 53.2h4.6M30.9 55.3h4.6M39.5 55.3h2.5M59 55.3h2.5M102.3 55.3h2.5M106.7 55.3h2.5M117.5 55.3h2.5M212.8 55.3h2.5M223.7 55.3h2.5M228 55.3h2.5M234.5 55.3h2.5M386.1 55.3h2.5M403.5 55.3h2.5M438.1 55.3h2.5M492.3 55.3h2.5M518.3 55.3h2.5M529.1 55.3h2.5M576.8 55.3h2.5M600.6 55.3h2.5M607.1 55.3h4.6M639.6 55.3h2.5M643.9 55.3h2.5M43.9 57.5h2.5M63.4 57.5h2.5M67.7 57.5h6.8M82.9 57.5h4.6M119.7 57.5h2.5M128.3 57.5h2.5M210.7 57.5h2.5M215 57.5h4.6M228 57.5h2.5M388.3 57.5h2.5M392.6 57.5h2.5M405.6 57.5h2.5M416.5 57.5h2.5M483.6 57.5h2.5M498.8 57.5h2.5M524.8 57.5h2.5M548.6 57.5h2.5M570.3 57.5h2.5M581.1 57.5h2.5M594.1 57.5h2.5M604.9 57.5h2.5M613.6 57.5h2.5M620.1 57.5h2.5M630.9 57.5h4.6M639.6 57.5h2.5M643.9 57.5h4.6M650.4 57.5h2.5M61.2 59.7h2.5M65.5 59.7h4.6M76.4 59.7h2.5M85 59.7h2.5M93.7 59.7h2.5M100.2 59.7h2.5M121.8 59.7h2.5M156.5 59.7h2.5M215 59.7h2.5M221.5 59.7h4.6M228 59.7h4.6M355.8 59.7h2.5M388.3 59.7h2.5M403.5 59.7h6.8M487.9 59.7h2.5M492.3 59.7h2.5M503.1 59.7h2.5M513.9 59.7h2.5M520.4 59.7h6.8M546.4 59.7h4.6M557.3 59.7h2.5M563.8 59.7h2.5M576.8 59.7h4.6M594.1 59.7h2.5M643.9 59.7h2.5M74.2 61.8h2.5M85 61.8h2.5M89.3 61.8h2.5M93.7 61.8h2.5M128.3 61.8h2.5M223.7 61.8h2.5M349.3 61.8h4.6M355.8 61.8h2.5M384 61.8h2.5M388.3 61.8h2.5M397 61.8h2.5M487.9 61.8h4.6M494.4 61.8h6.8M509.6 61.8h2.5M522.6 61.8h2.5M535.6 61.8h2.5M559.4 61.8h2.5M563.8 61.8h2.5M572.4 61.8h2.5M585.4 61.8h2.5M600.6 61.8h2.5M628.7 61.8h2.5M648.2 61.8h2.5M63.4 64h6.8M76.4 64h4.6M82.9 64h2.5M89.3 64h2.5M137 64h2.5M219.3 64h2.5M379.6 64h4.6M399.1 64h2.5M407.8 64h2.5M427.3 64h4.6M490.1 64h6.8M509.6 64h2.5M518.3 64h2.5M542.1 64h2.5M557.3 64h2.5M568.1 64h2.5M574.6 64h2.5M581.1 64h2.5M585.4 64h2.5M594.1 64h4.6M600.6 64h4.6M607.1 64h2.5M59 66.2h4.6M65.5 66.2h4.6M74.2 66.2h2.5M85 66.2h2.5M91.5 66.2h2.5M210.7 66.2h2.5M225.8 66.2h2.5M360.1 66.2h2.5M366.6 66.2h2.5M379.6 66.2h6.8M507.4 66.2h4.6M516.1 66.2h2.5M520.4 66.2h2.5M524.8 66.2h2.5M529.1 66.2h2.5M535.6 66.2h2.5M544.3 66.2h6.8M552.9 66.2h2.5M574.6 66.2h2.5M639.6 66.2h2.5M61.2 68.3h2.5M65.5 68.3h2.5M74.2 68.3h2.5M132.7 68.3h2.5M176 68.3h2.5M334.1 68.3h4.6M368.8 68.3h2.5M399.1 68.3h2.5M438.1 68.3h2.5M500.9 68.3h2.5M513.9 68.3h4.6M520.4 68.3h2.5M533.4 68.3h4.6M546.4 68.3h2.5M555.1 68.3h2.5M568.1 68.3h2.5M576.8 68.3h4.6M69.9 70.5h2.5M189 70.5h2.5M223.7 70.5h2.5M338.5 70.5h2.5M362.3 70.5h2.5M371 70.5h2.5M518.3 70.5h6.8M533.4 70.5h2.5M544.3 70.5h4.6M561.6 70.5h2.5M565.9 70.5h2.5M570.3 70.5h2.5M617.9 70.5h2.5M59 72.7h2.5M69.9 72.7h2.5M139.2 72.7h2.5M143.5 72.7h2.5M173.8 72.7h2.5M230.2 72.7h2.5M358 72.7h2.5M496.6 72.7h2.5M505.3 72.7h2.5M511.8 72.7h2.5M535.6 72.7h2.5M557.3 72.7h2.5M563.8 72.7h2.5M572.4 72.7h2.5M576.8 72.7h6.8M63.4 74.8h2.5M121.8 74.8h2.5M169.5 74.8h2.5M234.5 74.8h2.5M364.5 74.8h2.5M533.4 74.8h4.6M542.1 74.8h2.5M548.6 74.8h2.5M574.6 74.8h2.5M578.9 74.8h2.5M130.5 77h2.5M141.3 77h2.5M173.8 77h2.5M178.2 77h2.5M230.2 77h2.5M234.5 77h4.6M323.3 77h2.5M334.1 77h2.5M353.6 77h2.5M358 77h2.5M362.3 77h2.5M366.6 77h2.5M371 77h4.6M544.3 77h6.8M552.9 77h4.6M561.6 77h2.5M568.1 77h2.5M572.4 77h6.8M126.2 79.2h2.5M134.8 79.2h2.5M176 79.2h2.5M245.3 79.2h2.5M325.5 79.2h2.5M342.8 79.2h2.5M561.6 79.2h4.6M570.3 79.2h2.5M126.2 81.3h2.5M132.7 81.3h2.5M137 81.3h2.5M241 81.3h2.5M338.5 81.3h2.5M345 81.3h2.5M364.5 81.3h2.5M552.9 81.3h2.5M561.6 81.3h4.6M574.6 81.3h4.6M130.5 83.5h2.5M230.2 83.5h4.6M340.6 83.5h2.5M572.4 83.5h2.5M581.1 83.5h2.5M126.2 85.7h2.5M130.5 85.7h4.6M139.2 85.7h2.5M243.2 85.7h2.5M342.8 85.7h2.5M360.1 85.7h4.6M539.9 85.7h2.5M544.3 85.7h2.5M548.6 85.7h2.5M572.4 85.7h2.5M576.8 85.7h9M126.2 87.8h2.5M134.8 87.8h2.5M186.8 87.8h2.5M191.2 87.8h2.5M225.8 87.8h2.5M238.8 87.8h2.5M249.7 87.8h2.5M552.9 87.8h2.5M581.1 87.8h2.5M130.5 90h2.5M338.5 90h2.5M576.8 90h2.5M128.3 92.2h2.5M215 92.2h2.5M223.7 92.2h2.5M232.3 92.2h2.5M342.8 92.2h2.5M368.8 92.2h2.5M416.5 92.2h2.5M568.1 92.2h4.6M576.8 92.2h4.6M197.7 94.3h2.5M210.7 94.3h2.5M228 94.3h2.5M334.1 94.3h4.6M340.6 94.3h2.5M355.8 94.3h2.5M384 94.3h2.5M565.9 94.3h6.8M576.8 94.3h2.5M126.2 96.5h2.5M182.5 96.5h2.5M327.6 96.5h2.5M360.1 96.5h2.5M379.6 96.5h2.5M550.8 96.5h2.5M561.6 96.5h2.5M565.9 96.5h2.5M219.3 98.7h2.5M407.8 98.7h2.5M412.1 98.7h2.5M555.1 98.7h2.5M561.6 98.7h2.5M128.3 100.8h2.5M184.7 100.8h2.5M199.8 100.8h2.5M329.8 100.8h2.5M371 100.8h2.5M412.1 100.8h2.5M416.5 100.8h6.8M425.1 100.8h2.5M531.3 100.8h2.5M546.4 100.8h2.5M555.1 100.8h2.5M561.6 100.8h4.6M583.3 100.8h2.5M184.7 103h4.6M327.6 103h2.5M336.3 103h2.5M384 103h2.5M399.1 103h2.5M410 103h2.5M418.6 103h4.6M425.1 103h4.6M544.3 103h2.5M557.3 103h2.5M184.7 105.2h2.5M206.3 105.2h2.5M405.6 105.2h2.5M513.9 105.2h6.8M522.6 105.2h2.5M529.1 105.2h2.5M539.9 105.2h2.5M548.6 105.2h4.6M563.8 105.2h2.5M182.5 107.3h2.5M195.5 107.3h2.5M381.8 107.3h2.5M397 107.3h4.6M416.5 107.3h2.5M516.1 107.3h2.5M520.4 107.3h4.6M542.1 107.3h6.8M552.9 107.3h2.5M195.5 109.5h2.5M208.5 109.5h2.5M403.5 109.5h2.5M427.3 109.5h2.5M492.3 109.5h2.5M518.3 109.5h2.5M526.9 109.5h6.8M184.7 111.7h2.5M401.3 111.7h2.5M420.8 111.7h2.5M505.3 111.7h6.8M522.6 111.7h2.5M531.3 111.7h2.5M578.9 111.7h2.5M184.7 113.8h2.5M189 113.8h2.5M505.3 113.8h4.6M518.3 113.8h2.5M524.8 113.8h2.5M570.3 113.8h2.5M182.5 116h2.5M186.8 116h2.5M429.5 116h2.5M507.4 116h2.5M518.3 116h2.5M539.9 116h2.5M197.7 118.2h6.8M490.1 118.2h2.5M500.9 118.2h9M513.9 118.2h2.5M518.3 118.2h2.5M524.8 118.2h2.5M202 120.3h2.5M490.1 120.3h2.5M494.4 120.3h2.5M498.8 120.3h2.5M509.6 120.3h2.5M516.1 120.3h2.5M535.6 120.3h2.5M197.7 122.5h2.5M513.9 122.5h2.5M533.4 122.5h2.5M548.6 122.5h2.5M498.8 124.7h2.5M503.1 124.7h2.5M513.9 124.7h2.5M529.1 124.7h2.5M492.3 126.8h4.6M507.4 126.8h2.5M531.3 126.8h2.5M498.8 129h2.5M526.9 129h2.5M171.7 131.2h2.5M191.2 131.2h2.5M494.4 131.2h2.5M513.9 131.2h2.5M160.8 135.5h2.5M184.7 135.5h6.8M483.6 135.5h4.6M507.4 135.5h2.5M163 137.7h2.5M171.7 137.7h2.5M180.3 137.7h2.5M178.2 139.8h4.6M171.7 142h2.5M176 142h2.5M180.3 142h2.5M189 142h2.5M195.5 142h2.5M479.3 144.2h2.5M219.3 148.5h2.5M513.9 148.5h2.5M518.3 148.5h2.5M210.7 150.7h4.6M526.9 150.7h2.5M195.5 152.8h2.5M215 152.8h4.6M412.1 152.8h2.5M212.8 155h2.5M323.3 155h2.5M405.6 155h2.5M483.6 155h2.5M212.8 157.2h2.5M217.2 157.2h2.5M321.1 157.2h2.5M325.5 157.2h2.5M329.8 157.2h6.8M410 157.2h2.5M481.4 157.2h4.6M221.5 159.3h4.6M234.5 159.3h2.5M243.2 159.3h2.5M247.5 159.3h2.5M323.3 159.3h2.5M336.3 159.3h2.5M410 159.3h6.8M483.6 159.3h2.5M212.8 161.5h2.5M247.5 161.5h2.5M251.8 161.5h4.6M338.5 161.5h2.5M371 161.5h2.5M405.6 161.5h2.5M410 161.5h2.5M247.5 163.7h2.5M238.8 165.8h4.6M247.5 165.8h2.5M254 165.8h2.5M373.1 165.8h2.5M243.2 168h2.5M254 168h2.5M366.6 168h2.5M245.3 170.1h2.5M260.5 170.1h2.5M360.1 170.1h2.5M390.5 170.1h2.5M243.2 172.3h4.6M256.1 174.5h2.5M269.1 174.5h2.5M386.1 174.5h2.5M247.5 176.6h2.5M251.8 176.6h2.5M256.1 176.6h4.6M277.8 176.6h2.5M251.8 178.8h4.6M251.8 181h2.5M256.1 181h2.5M280 181h2.5M373.1 181h2.5M241 183.1h2.5M256.1 183.1h2.5M254 185.3h2.5M258.3 185.3h2.5M273.5 185.3h2.5M241 187.5h2.5M247.5 187.5h2.5M256.1 187.5h2.5M262.6 187.5h2.5M275.6 187.5h2.5M236.7 189.6h2.5M247.5 189.6h2.5M232.3 191.8h2.5M236.7 191.8h2.5M245.3 191.8h2.5M258.3 191.8h2.5M267 191.8h2.5M401.3 191.8h2.5M425.1 191.8h2.5M221.5 194h2.5M228 194h2.5M251.8 194h2.5M264.8 194h2.5M271.3 194h2.5M423 194h2.5M429.5 194h2.5M212.8 196.1h2.5M236.7 196.1h2.5M245.3 196.1h2.5M269.1 196.1h2.5M273.5 196.1h2.5M420.8 196.1h2.5M427.3 196.1h2.5M223.7 198.3h2.5M258.3 198.3h2.5M420.8 198.3h2.5M217.2 200.5h2.5M221.5 200.5h2.5M254 200.5h2.5M262.6 200.5h2.5M420.8 200.5h2.5M425.1 200.5h2.5M267 202.6h2.5M249.7 204.8h2.5M260.5 204.8h2.5M267 204.8h4.6M626.6 204.8h2.5M251.8 207h2.5M416.5 207h2.5M256.1 209.1h2.5M260.5 209.1h2.5M264.8 209.1h2.5M249.7 211.3h2.5M258.3 211.3h2.5M423 211.3h2.5M254 213.5h2.5M418.6 213.5h2.5M245.3 220h2.5M249.7 220h2.5M254 220h2.5M251.8 222.1h2.5M251.8 226.5h2.5M249.7 228.6h2.5M217.2 233h2.5M212.8 243.8h2.5M217.2 250.3h2.5"/>
<path stroke="#3d7896" d="M535.6 38h2.5M483.6 42.3h2.5M487.9 42.3h2.5M563.8 42.3h2.5M202 44.5h2.5M459.8 44.5h2.5M468.4 44.5h2.5M474.9 44.5h2.5M481.4 44.5h2.5M490.1 44.5h2.5M520.4 44.5h2.5M544.3 44.5h2.5M578.9 44.5h4.6M591.9 44.5h2.5M67.7 46.7h2.5M76.4 46.7h2.5M85 46.7h4.6M386.1 46.7h4.6M394.8 46.7h2.5M459.8 46.7h2.5M464.1 46.7h4.6M479.3 46.7h2.5M485.8 46.7h4.6M578.9 46.7h2.5M583.3 46.7h2.5M611.4 46.7h2.5M113.2 48.8h2.5M386.1 48.8h4.6M392.6 48.8h2.5M399.1 48.8h4.6M444.6 48.8h2.5M457.6 48.8h2.5M464.1 48.8h2.5M472.8 48.8h4.6M535.6 48.8h2.5M539.9 48.8h2.5M563.8 48.8h2.5M574.6 48.8h2.5M578.9 48.8h2.5M598.4 48.8h4.6M604.9 48.8h2.5M30.9 51h2.5M37.4 51h2.5M54.7 51h2.5M61.2 51h4.6M67.7 51h2.5M102.3 51h2.5M210.7 51h2.5M221.5 51h2.5M228 51h2.5M373.1 51h2.5M384 51h2.5M388.3 51h2.5M392.6 51h2.5M399.1 51h2.5M407.8 51h2.5M416.5 51h4.6M427.3 51h2.5M433.8 51h4.6M453.3 51h6.8M468.4 51h4.6M474.9 51h2.5M479.3 51h2.5M485.8 51h2.5M498.8 51h2.5M535.6 51h2.5M596.3 51h4.6M617.9 51h2.5M30.9 53.2h2.5M35.2 53.2h2.5M65.5 53.2h2.5M100.2 53.2h2.5M219.3 53.2h2.5M228 53.2h4.6M381.8 53.2h4.6M392.6 53.2h6.8M407.8 53.2h2.5M412.1 53.2h2.5M416.5 53.2h2.5M431.6 53.2h6.8M487.9 53.2h2.5M492.3 53.2h2.5M505.3 53.2h2.5M574.6 53.2h2.5M620.1 53.2h2.5M37.4 55.3h2.5M41.7 55.3h4.6M54.7 55.3h2.5M61.2 55.3h4.6M67.7 55.3h2.5M113.2 55.3h2.5M217.2 55.3h2.5M384 55.3h2.5M388.3 55.3h4.6M394.8 55.3h2.5M401.3 55.3h2.5M412.1 55.3h2.5M420.8 55.3h2.5M440.3 55.3h2.5M444.6 55.3h2.5M466.3 55.3h2.5M470.6 55.3h2.5M479.3 55.3h2.5M500.9 55.3h2.5M568.1 55.3h2.5M581.1 55.3h2.5M596.3 55.3h2.5M613.6 55.3h2.5M646.1 55.3h2.5M41.7 57.5h2.5M52.5 57.5h2.5M59 57.5h2.5M89.3 57.5h2.5M394.8 57.5h4.6M407.8 57.5h4.6M414.3 57.5h2.5M420.8 57.5h4.6M429.5 57.5h2.5M438.1 57.5h6.8M466.3 57.5h2.5M470.6 57.5h2.5M477.1 57.5h2.5M490.1 57.5h2.5M500.9 57.5h2.5M516.1 57.5h2.5M615.7 57.5h2.5M628.7 57.5h2.5M652.6 57.5h2.5M59 59.7h2.5M63.4 59.7h2.5M82.9 59.7h2.5M219.3 59.7h2.5M384 59.7h2.5M401.3 59.7h2.5M410 59.7h2.5M420.8 59.7h4.6M433.8 59.7h2.5M438.1 59.7h4.6M490.1 59.7h2.5M516.1 59.7h2.5M600.6 59.7h2.5M641.7 59.7h2.5M650.4 59.7h2.5M56.9 61.8h2.5M61.2 61.8h2.5M78.5 61.8h2.5M403.5 61.8h2.5M414.3 61.8h4.6M425.1 61.8h6.8M440.3 61.8h2.5M485.8 61.8h2.5M524.8 61.8h2.5M550.8 61.8h2.5M598.4 61.8h2.5M639.6 61.8h2.5M646.1 61.8h2.5M650.4 61.8h2.5M59 64h4.6M80.7 64h2.5M115.3 64h2.5M384 64h2.5M392.6 64h2.5M423 64h2.5M459.8 64h2.5M485.8 64h4.6M500.9 64h6.8M544.3 64h4.6M576.8 64h2.5M587.6 64h2.5M390.5 66.2h2.5M431.6 66.2h4.6M485.8 66.2h2.5M492.3 66.2h2.5M496.6 66.2h4.6M513.9 66.2h2.5M555.1 66.2h2.5M581.1 66.2h2.5M637.4 66.2h2.5M63.4 68.3h2.5M72 68.3h2.5M388.3 68.3h2.5M405.6 68.3h2.5M416.5 68.3h2.5M492.3 68.3h2.5M503.1 68.3h2.5M522.6 68.3h4.6M150 70.5h2.5M232.3 70.5h2.5M334.1 70.5h2.5M377.5 70.5h2.5M381.8 70.5h2.5M388.3 70.5h4.6M394.8 70.5h4.6M420.8 70.5h2.5M438.1 70.5h2.5M498.8 70.5h4.6M535.6 70.5h2.5M578.9 70.5h2.5M583.3 70.5h2.5M128.3 72.7h2.5M150 72.7h2.5M234.5 72.7h2.5M329.8 72.7h2.5M366.6 72.7h2.5M377.5 72.7h2.5M405.6 72.7h4.6M494.4 72.7h2.5M513.9 72.7h2.5M539.9 72.7h2.5M565.9 72.7h2.5M59 74.8h2.5M134.8 74.8h2.5M152.2 74.8h2.5M158.7 74.8h2.5M368.8 74.8h2.5M377.5 74.8h2.5M386.1 74.8h4.6M507.4 74.8h2.5M516.1 74.8h4.6M524.8 74.8h4.6M537.8 74.8h2.5M555.1 74.8h2.5M561.6 74.8h2.5M570.3 74.8h2.5M241 77h2.5M349.3 77h2.5M355.8 77h2.5M364.5 77h2.5M368.8 77h2.5M377.5 77h2.5M507.4 77h2.5M516.1 77h2.5M531.3 77h9M542.1 77h2.5M130.5 79.2h2.5M230.2 79.2h2.5M236.7 79.2h2.5M338.5 79.2h2.5M347.1 79.2h2.5M351.5 79.2h2.5M362.3 79.2h2.5M366.6 79.2h2.5M555.1 79.2h2.5M559.4 79.2h2.5M572.4 79.2h2.5M576.8 79.2h2.5M581.1 79.2h2.5M173.8 81.3h2.5M243.2 81.3h2.5M336.3 81.3h2.5M557.3 81.3h2.5M570.3 81.3h2.5M581.1 81.3h2.5M236.7 83.5h2.5M245.3 83.5h2.5M336.3 83.5h2.5M342.8 83.5h6.8M542.1 83.5h4.6M555.1 83.5h4.6M561.6 83.5h2.5M565.9 83.5h2.5M587.6 83.5h2.5M128.3 85.7h2.5M206.3 85.7h2.5M345 85.7h2.5M349.3 85.7h2.5M353.6 85.7h2.5M364.5 85.7h2.5M381.8 85.7h2.5M552.9 85.7h2.5M563.8 85.7h2.5M570.3 85.7h2.5M180.3 87.8h2.5M340.6 87.8h6.8M351.5 87.8h4.6M364.5 87.8h4.6M403.5 87.8h2.5M548.6 87.8h2.5M557.3 87.8h2.5M563.8 87.8h2.5M132.7 90h2.5M178.2 90h2.5M225.8 90h2.5M238.8 90h2.5M340.6 90h2.5M345 90h2.5M360.1 90h2.5M375.3 90h2.5M557.3 90h2.5M561.6 90h2.5M126.2 92.2h2.5M132.7 92.2h4.6M182.5 92.2h2.5M345 92.2h4.6M351.5 92.2h2.5M403.5 92.2h2.5M414.3 92.2h2.5M563.8 92.2h2.5M572.4 92.2h2.5M143.5 94.3h2.5M180.3 94.3h4.6M217.2 94.3h2.5M230.2 94.3h2.5M375.3 94.3h2.5M559.4 94.3h2.5M589.8 94.3h2.5M134.8 96.5h2.5M180.3 96.5h2.5M332 96.5h4.6M362.3 96.5h4.6M399.1 96.5h2.5M416.5 96.5h2.5M425.1 96.5h2.5M559.4 96.5h2.5M568.1 96.5h2.5M128.3 98.7h2.5M180.3 98.7h2.5M325.5 98.7h2.5M329.8 98.7h2.5M336.3 98.7h6.8M364.5 98.7h2.5M397 98.7h2.5M401.3 98.7h2.5M416.5 98.7h2.5M423 98.7h4.6M529.1 98.7h2.5M550.8 98.7h4.6M557.3 98.7h4.6M587.6 98.7h2.5M180.3 100.8h4.6M325.5 100.8h2.5M332 100.8h6.8M397 100.8h2.5M403.5 100.8h4.6M414.3 100.8h2.5M526.9 100.8h2.5M557.3 100.8h2.5M182.5 103h2.5M368.8 103h2.5M388.3 103h2.5M405.6 103h2.5M412.1 103h2.5M516.1 103h2.5M526.9 103h2.5M548.6 103h4.6M182.5 105.2h2.5M384 105.2h2.5M388.3 105.2h2.5M394.8 105.2h2.5M401.3 105.2h2.5M412.1 105.2h4.6M418.6 105.2h4.6M520.4 105.2h2.5M345 107.3h2.5M351.5 107.3h2.5M379.6 107.3h2.5M392.6 107.3h2.5M401.3 107.3h2.5M425.1 107.3h6.8M498.8 107.3h2.5M509.6 107.3h6.8M531.3 107.3h4.6M539.9 107.3h2.5M182.5 109.5h2.5M416.5 109.5h2.5M429.5 109.5h2.5M496.6 109.5h2.5M500.9 109.5h4.6M507.4 109.5h4.6M513.9 109.5h4.6M520.4 109.5h6.8M535.6 109.5h2.5M565.9 109.5h2.5M332 111.7h2.5M379.6 111.7h2.5M425.1 111.7h4.6M492.3 111.7h2.5M513.9 111.7h4.6M526.9 111.7h4.6M542.1 111.7h2.5M182.5 113.8h2.5M202 113.8h2.5M427.3 113.8h2.5M431.6 113.8h2.5M494.4 113.8h4.6M500.9 113.8h2.5M509.6 113.8h2.5M516.1 113.8h2.5M522.6 113.8h2.5M531.3 113.8h2.5M548.6 113.8h2.5M427.3 116h2.5M431.6 116h2.5M435.9 116h2.5M492.3 116h2.5M498.8 116h2.5M505.3 116h2.5M511.8 116h4.6M522.6 116h2.5M546.4 116h2.5M180.3 118.2h2.5M195.5 118.2h2.5M487.9 118.2h2.5M492.3 118.2h2.5M498.8 118.2h2.5M529.1 118.2h2.5M169.5 120.3h2.5M431.6 120.3h4.6M492.3 120.3h2.5M496.6 120.3h2.5M500.9 120.3h2.5M548.6 120.3h2.5M494.4 122.5h2.5M498.8 122.5h2.5M503.1 122.5h2.5M520.4 122.5h2.5M529.1 122.5h2.5M481.4 124.7h2.5M490.1 124.7h2.5M494.4 124.7h2.5M537.8 124.7h2.5M496.6 126.8h4.6M520.4 126.8h2.5M487.9 129h2.5M494.4 129h2.5M529.1 129h2.5M189 131.2h2.5M485.8 131.2h2.5M490.1 131.2h4.6M498.8 131.2h4.6M529.1 131.2h2.5M191.2 133.3h2.5M485.8 133.3h2.5M494.4 133.3h2.5M176 135.5h2.5M191.2 135.5h2.5M212.8 135.5h2.5M217.2 135.5h2.5M221.5 135.5h2.5M490.1 135.5h4.6M160.8 137.7h2.5M167.3 137.7h2.5M173.8 137.7h4.6M212.8 137.7h4.6M173.8 139.8h2.5M217.2 139.8h2.5M483.6 139.8h2.5M173.8 142h2.5M193.3 142h2.5M470.6 142h2.5M477.1 142h2.5M481.4 144.2h2.5M215 148.5h2.5M414.3 148.5h2.5M474.9 148.5h2.5M479.3 148.5h2.5M217.2 150.7h2.5M479.3 150.7h2.5M212.8 152.8h2.5M221.5 152.8h2.5M407.8 152.8h4.6M474.9 152.8h4.6M219.3 155h4.6M401.3 155h4.6M407.8 155h2.5M416.5 155h4.6M474.9 155h4.6M481.4 155h2.5M221.5 157.2h2.5M238.8 157.2h2.5M327.6 157.2h2.5M342.8 157.2h2.5M403.5 157.2h4.6M412.1 157.2h2.5M416.5 157.2h2.5M479.3 157.2h2.5M215 159.3h2.5M219.3 159.3h2.5M241 159.3h2.5M327.6 159.3h2.5M340.6 159.3h2.5M407.8 159.3h2.5M416.5 159.3h2.5M225.8 161.5h6.8M234.5 161.5h2.5M238.8 161.5h4.6M245.3 161.5h2.5M249.7 161.5h2.5M329.8 161.5h2.5M334.1 161.5h2.5M388.3 161.5h2.5M392.6 161.5h2.5M407.8 161.5h2.5M234.5 163.7h2.5M243.2 163.7h2.5M249.7 163.7h2.5M254 163.7h2.5M399.1 163.7h2.5M410 163.7h2.5M414.3 163.7h2.5M243.2 165.8h4.6M364.5 165.8h2.5M397 165.8h2.5M401.3 165.8h2.5M247.5 168h2.5M251.8 168h2.5M249.7 170.1h2.5M254 170.1h2.5M364.5 170.1h2.5M392.6 170.1h2.5M258.3 172.3h2.5M262.6 172.3h4.6M251.8 174.5h2.5M260.5 174.5h9M273.5 174.5h2.5M360.1 174.5h2.5M401.3 174.5h2.5M260.5 176.6h9M360.1 176.6h6.8M271.3 178.8h2.5M399.1 178.8h2.5M254 181h2.5M258.3 181h2.5M262.6 181h2.5M269.1 181h4.6M282.1 181h2.5M254 183.1h2.5M277.8 183.1h6.8M364.5 183.1h2.5M394.8 183.1h4.6M249.7 185.3h4.6M256.1 185.3h2.5M262.6 185.3h6.8M277.8 185.3h2.5M403.5 185.3h2.5M271.3 187.5h2.5M364.5 187.5h2.5M258.3 189.6h2.5M264.8 189.6h2.5M410 189.6h2.5M578.9 189.6h2.5M587.6 189.6h2.5M241 191.8h2.5M247.5 191.8h2.5M256.1 191.8h2.5M262.6 191.8h2.5M397 191.8h2.5M412.1 191.8h2.5M427.3 191.8h2.5M232.3 194h2.5M245.3 194h2.5M249.7 194h2.5M260.5 194h2.5M273.5 194h4.6M405.6 194h2.5M425.1 194h2.5M228 196.1h2.5M243.2 196.1h2.5M254 196.1h9M429.5 196.1h2.5M217.2 198.3h2.5M221.5 198.3h2.5M238.8 198.3h6.8M247.5 198.3h2.5M262.6 198.3h2.5M267 198.3h2.5M245.3 200.5h2.5M251.8 200.5h2.5M271.3 200.5h4.6M418.6 200.5h2.5M423 200.5h2.5M249.7 202.6h9M260.5 202.6h2.5M264.8 202.6h2.5M271.3 202.6h2.5M381.8 202.6h2.5M418.6 202.6h2.5M425.1 202.6h4.6M258.3 204.8h2.5M262.6 204.8h4.6M271.3 204.8h2.5M254 207h2.5M262.6 207h2.5M267 207h2.5M271.3 207h2.5M401.3 207h2.5M420.8 207h4.6M628.7 207h2.5M418.6 209.1h2.5M423 209.1h2.5M254 211.3h2.5M260.5 211.3h2.5M394.8 211.3h2.5M401.3 211.3h2.5M418.6 211.3h2.5M537.8 211.3h2.5M249.7 213.5h2.5M256.1 213.5h4.6M401.3 213.5h2.5M539.9 213.5h2.5M247.5 215.6h4.6M254 215.6h2.5M539.9 215.6h2.5M604.9 215.6h2.5M245.3 217.8h2.5M249.7 217.8h4.6M247.5 220h2.5M251.8 220h2.5M397 220h2.5M602.8 220h2.5M249.7 222.1h2.5M544.3 222.1h2.5M243.2 224.3h2.5M607.1 224.3h2.5M245.3 226.5h4.6M600.6 226.5h2.5M212.8 241.6h2.5M215 243.8h2.5"/>
<path stroke="#398096" d="M490.1 40.2h2.5M466.3 42.3h2.5M210.7 44.5h2.5M461.9 44.5h4.6M470.6 44.5h4.6M477.1 44.5h2.5M483.6 44.5h2.5M65.5 46.7h2.5M468.4 46.7h6.8M594.1 46.7h2.5M74.2 48.8h2.5M223.7 48.8h2.5M394.8 48.8h2.5M405.6 48.8h2.5M455.4 48.8h2.5M485.8 48.8h4.6M576.8 48.8h2.5M594.1 48.8h2.5M652.6 48.8h2.5M33 51h4.6M52.5 51h2.5M56.9 51h2.5M78.5 51h2.5M390.5 51h2.5M397 51h2.5M405.6 51h2.5M438.1 51h6.8M446.8 51h2.5M451.1 51h2.5M459.8 51h2.5M466.3 51h2.5M472.8 51h2.5M591.9 51h2.5M43.9 53.2h4.6M56.9 53.2h2.5M67.7 53.2h2.5M401.3 53.2h2.5M410 53.2h2.5M429.5 53.2h2.5M440.3 53.2h4.6M448.9 53.2h4.6M455.4 53.2h2.5M464.1 53.2h2.5M468.4 53.2h2.5M477.1 53.2h2.5M481.4 53.2h2.5M643.9 53.2h2.5M48.2 55.3h2.5M87.2 55.3h2.5M210.7 55.3h2.5M392.6 55.3h2.5M399.1 55.3h2.5M405.6 55.3h6.8M414.3 55.3h4.6M423 55.3h4.6M435.9 55.3h2.5M448.9 55.3h2.5M457.6 55.3h2.5M464.1 55.3h2.5M472.8 55.3h2.5M481.4 55.3h4.6M594.1 55.3h2.5M652.6 55.3h2.5M30.9 57.5h2.5M39.5 57.5h2.5M61.2 57.5h2.5M65.5 57.5h2.5M206.3 57.5h2.5M425.1 57.5h4.6M431.6 57.5h4.6M459.8 57.5h4.6M472.8 57.5h2.5M479.3 57.5h4.6M485.8 57.5h4.6M617.9 57.5h2.5M54.7 59.7h4.6M392.6 59.7h2.5M397 59.7h2.5M412.1 59.7h2.5M425.1 59.7h9M457.6 59.7h2.5M472.8 59.7h2.5M483.6 59.7h4.6M54.7 61.8h2.5M63.4 61.8h4.6M72 61.8h2.5M80.7 61.8h2.5M392.6 61.8h2.5M405.6 61.8h2.5M423 61.8h2.5M431.6 61.8h2.5M438.1 61.8h2.5M444.6 61.8h2.5M464.1 61.8h2.5M470.6 61.8h2.5M477.1 61.8h2.5M54.7 64h2.5M69.9 64h2.5M390.5 64h2.5M397 64h2.5M405.6 64h2.5M412.1 64h2.5M431.6 64h2.5M438.1 64h2.5M468.4 64h2.5M69.9 66.2h2.5M78.5 66.2h2.5M158.7 66.2h2.5M397 66.2h2.5M401.3 66.2h6.8M427.3 66.2h4.6M440.3 66.2h2.5M487.9 66.2h2.5M494.4 66.2h2.5M500.9 66.2h2.5M381.8 68.3h6.8M394.8 68.3h2.5M403.5 68.3h2.5M412.1 68.3h2.5M418.6 68.3h6.8M427.3 68.3h2.5M435.9 68.3h2.5M485.8 68.3h2.5M490.1 68.3h2.5M494.4 68.3h2.5M537.8 68.3h2.5M67.7 70.5h2.5M386.1 70.5h2.5M401.3 70.5h6.8M410 70.5h6.8M427.3 70.5h2.5M448.9 70.5h2.5M483.6 70.5h2.5M490.1 70.5h4.6M496.6 70.5h2.5M548.6 70.5h2.5M63.4 72.7h4.6M158.7 72.7h4.6M223.7 72.7h2.5M336.3 72.7h2.5M379.6 72.7h2.5M384 72.7h2.5M388.3 72.7h4.6M412.1 72.7h2.5M498.8 72.7h6.8M529.1 72.7h2.5M154.3 74.8h2.5M165.2 74.8h2.5M373.1 74.8h4.6M390.5 74.8h2.5M397 74.8h2.5M416.5 74.8h2.5M511.8 74.8h4.6M520.4 74.8h2.5M539.9 74.8h2.5M552.9 74.8h2.5M145.7 77h4.6M340.6 77h2.5M375.3 77h2.5M379.6 77h2.5M390.5 77h4.6M494.4 77h4.6M500.9 77h2.5M513.9 77h2.5M526.9 77h4.6M557.3 77h4.6M563.8 77h4.6M581.1 77h2.5M141.3 79.2h2.5M173.8 79.2h2.5M345 79.2h2.5M355.8 79.2h2.5M360.1 79.2h2.5M364.5 79.2h2.5M368.8 79.2h2.5M375.3 79.2h2.5M399.1 79.2h2.5M403.5 79.2h2.5M407.8 79.2h2.5M507.4 79.2h2.5M544.3 79.2h4.6M583.3 79.2h2.5M139.2 81.3h4.6M334.1 81.3h2.5M340.6 81.3h4.6M353.6 81.3h4.6M371 81.3h2.5M381.8 81.3h2.5M388.3 81.3h4.6M513.9 81.3h2.5M544.3 81.3h2.5M559.4 81.3h2.5M565.9 81.3h2.5M583.3 81.3h2.5M139.2 83.5h2.5M355.8 83.5h2.5M364.5 83.5h2.5M379.6 83.5h2.5M390.5 83.5h2.5M397 83.5h2.5M403.5 83.5h2.5M533.4 83.5h2.5M559.4 83.5h2.5M563.8 83.5h2.5M568.1 83.5h2.5M574.6 83.5h2.5M578.9 83.5h2.5M141.3 85.7h2.5M178.2 85.7h2.5M338.5 85.7h4.6M347.1 85.7h2.5M355.8 85.7h4.6M373.1 85.7h4.6M384 85.7h4.6M132.7 87.8h2.5M137 87.8h4.6M336.3 87.8h4.6M358 87.8h4.6M373.1 87.8h2.5M381.8 87.8h4.6M388.3 87.8h2.5M392.6 87.8h2.5M546.4 87.8h2.5M559.4 87.8h4.6M139.2 90h2.5M232.3 90h2.5M351.5 90h2.5M366.6 90h4.6M377.5 90h2.5M381.8 90h2.5M394.8 90h2.5M574.6 90h2.5M130.5 92.2h2.5M338.5 92.2h4.6M349.3 92.2h2.5M362.3 92.2h2.5M366.6 92.2h2.5M373.1 92.2h2.5M377.5 92.2h2.5M384 92.2h2.5M410 92.2h2.5M550.8 92.2h2.5M565.9 92.2h2.5M126.2 94.3h2.5M132.7 94.3h4.6M150 94.3h2.5M325.5 94.3h9M338.5 94.3h2.5M345 94.3h2.5M351.5 94.3h2.5M358 94.3h2.5M362.3 94.3h2.5M366.6 94.3h2.5M373.1 94.3h2.5M386.1 94.3h2.5M483.6 94.3h2.5M552.9 94.3h2.5M128.3 96.5h4.6M137 96.5h4.6M325.5 96.5h2.5M342.8 96.5h2.5M373.1 96.5h4.6M403.5 96.5h2.5M412.1 96.5h2.5M418.6 96.5h4.6M548.6 96.5h2.5M555.1 96.5h4.6M141.3 98.7h2.5M182.5 98.7h2.5M327.6 98.7h2.5M345 98.7h2.5M368.8 98.7h2.5M379.6 98.7h2.5M388.3 98.7h9M405.6 98.7h2.5M410 98.7h2.5M418.6 98.7h2.5M531.3 98.7h4.6M537.8 98.7h2.5M130.5 100.8h2.5M338.5 100.8h2.5M342.8 100.8h2.5M375.3 100.8h2.5M388.3 100.8h2.5M394.8 100.8h2.5M399.1 100.8h4.6M410 100.8h2.5M548.6 100.8h4.6M130.5 103h2.5M180.3 103h2.5M329.8 103h6.8M338.5 103h4.6M377.5 103h4.6M392.6 103h4.6M407.8 103h2.5M520.4 103h4.6M542.1 103h2.5M546.4 103h2.5M552.9 103h2.5M132.7 105.2h2.5M325.5 105.2h6.8M334.1 105.2h2.5M340.6 105.2h2.5M379.6 105.2h2.5M392.6 105.2h2.5M397 105.2h2.5M403.5 105.2h2.5M410 105.2h2.5M494.4 105.2h2.5M524.8 105.2h4.6M535.6 105.2h4.6M544.3 105.2h2.5M130.5 107.3h4.6M342.8 107.3h2.5M347.1 107.3h4.6M355.8 107.3h2.5M494.4 107.3h4.6M500.9 107.3h2.5M507.4 107.3h2.5M526.9 107.3h4.6M535.6 107.3h2.5M180.3 109.5h2.5M358 109.5h2.5M494.4 109.5h2.5M498.8 109.5h2.5M505.3 109.5h2.5M511.8 109.5h2.5M537.8 109.5h2.5M338.5 111.7h2.5M349.3 111.7h4.6M429.5 111.7h4.6M496.6 111.7h9M511.8 111.7h2.5M533.4 111.7h2.5M180.3 113.8h2.5M340.6 113.8h2.5M394.8 113.8h2.5M498.8 113.8h2.5M503.1 113.8h2.5M483.6 116h4.6M500.9 116h2.5M509.6 116h2.5M520.4 116h2.5M323.3 118.2h2.5M431.6 118.2h4.6M438.1 118.2h2.5M481.4 118.2h2.5M494.4 118.2h2.5M516.1 118.2h2.5M438.1 120.3h2.5M503.1 120.3h2.5M154.3 122.5h2.5M440.3 122.5h2.5M485.8 122.5h4.6M150 124.7h4.6M173.8 124.7h2.5M487.9 124.7h2.5M496.6 124.7h2.5M490.1 126.8h2.5M518.3 126.8h2.5M481.4 129h6.8M490.1 129h2.5M158.7 131.2h2.5M167.3 131.2h2.5M474.9 131.2h2.5M160.8 133.3h4.6M167.3 133.3h4.6M479.3 133.3h2.5M492.3 133.3h2.5M158.7 135.5h2.5M167.3 135.5h2.5M219.3 135.5h2.5M477.1 135.5h2.5M487.9 135.5h2.5M169.5 137.7h2.5M217.2 137.7h2.5M474.9 137.7h2.5M483.6 137.7h2.5M165.2 139.8h4.6M477.1 139.8h2.5M468.4 142h2.5M479.3 142h6.8M420.8 144.2h2.5M470.6 144.2h2.5M470.6 146.3h2.5M477.1 146.3h2.5M481.4 146.3h2.5M529.1 148.5h2.5M215 150.7h2.5M472.8 150.7h6.8M219.3 152.8h2.5M414.3 152.8h2.5M418.6 152.8h2.5M472.8 152.8h2.5M479.3 152.8h2.5M217.2 155h2.5M236.7 155h4.6M327.6 155h2.5M332 155h2.5M336.3 155h2.5M414.3 155h2.5M420.8 155h2.5M479.3 155h2.5M219.3 157.2h2.5M223.7 157.2h2.5M228 157.2h2.5M234.5 157.2h4.6M338.5 157.2h2.5M401.3 157.2h2.5M407.8 157.2h2.5M225.8 159.3h6.8M238.8 159.3h2.5M249.7 159.3h2.5M388.3 159.3h2.5M405.6 159.3h2.5M481.4 159.3h2.5M223.7 161.5h2.5M236.7 161.5h2.5M243.2 161.5h2.5M377.5 161.5h2.5M384 161.5h2.5M394.8 161.5h4.6M403.5 161.5h2.5M238.8 163.7h4.6M245.3 163.7h2.5M358 163.7h2.5M368.8 163.7h4.6M386.1 163.7h9M397 163.7h2.5M405.6 163.7h2.5M412.1 163.7h2.5M386.1 165.8h2.5M394.8 165.8h2.5M399.1 165.8h2.5M405.6 165.8h2.5M245.3 168h2.5M358 168h2.5M371 168h2.5M381.8 168h2.5M394.8 168h2.5M258.3 170.1h2.5M358 170.1h2.5M362.3 170.1h2.5M366.6 170.1h2.5M371 170.1h2.5M394.8 170.1h2.5M407.8 170.1h2.5M358 172.3h2.5M371 172.3h2.5M375.3 172.3h2.5M390.5 172.3h9M358 174.5h2.5M368.8 174.5h2.5M377.5 174.5h4.6M388.3 174.5h2.5M392.6 174.5h6.8M384 176.6h2.5M394.8 176.6h2.5M256.1 178.8h2.5M264.8 178.8h2.5M269.1 178.8h2.5M273.5 178.8h2.5M280 178.8h2.5M364.5 178.8h2.5M384 178.8h2.5M392.6 178.8h2.5M397 178.8h2.5M267 181h2.5M273.5 181h2.5M277.8 181h2.5M375.3 181h2.5M388.3 181h4.6M403.5 181h2.5M407.8 181h2.5M251.8 183.1h2.5M258.3 183.1h6.8M267 183.1h4.6M366.6 183.1h4.6M375.3 183.1h2.5M392.6 183.1h2.5M399.1 183.1h4.6M405.6 183.1h2.5M280 185.3h2.5M364.5 185.3h2.5M394.8 185.3h2.5M399.1 185.3h4.6M251.8 187.5h2.5M258.3 187.5h4.6M269.1 187.5h2.5M366.6 187.5h2.5M390.5 187.5h4.6M397 187.5h2.5M405.6 187.5h4.6M249.7 189.6h6.8M260.5 189.6h4.6M267 189.6h4.6M364.5 189.6h4.6M379.6 189.6h2.5M390.5 189.6h2.5M394.8 189.6h2.5M405.6 189.6h2.5M412.1 189.6h2.5M589.8 189.6h2.5M249.7 191.8h4.6M264.8 191.8h2.5M403.5 191.8h2.5M407.8 191.8h2.5M236.7 194h2.5M258.3 194h2.5M262.6 194h2.5M267 194h2.5M388.3 194h4.6M407.8 194h4.6M589.8 194h2.5M232.3 196.1h2.5M238.8 196.1h2.5M247.5 196.1h2.5M267 196.1h2.5M405.6 196.1h2.5M412.1 196.1h2.5M594.1 196.1h2.5M219.3 198.3h2.5M225.8 198.3h2.5M249.7 198.3h9M269.1 198.3h2.5M273.5 198.3h2.5M392.6 198.3h2.5M401.3 198.3h4.6M412.1 198.3h2.5M418.6 198.3h2.5M587.6 198.3h2.5M219.3 200.5h2.5M223.7 200.5h4.6M243.2 200.5h2.5M264.8 200.5h4.6M392.6 200.5h2.5M405.6 200.5h2.5M219.3 202.6h2.5M247.5 202.6h2.5M258.3 202.6h2.5M269.1 202.6h2.5M390.5 202.6h2.5M394.8 202.6h4.6M403.5 202.6h2.5M399.1 204.8h2.5M418.6 204.8h4.6M628.7 204.8h2.5M256.1 207h4.6M264.8 207h2.5M269.1 207h2.5M394.8 207h2.5M602.8 207h2.5M254 209.1h2.5M267 209.1h4.6M386.1 209.1h2.5M394.8 209.1h11.1M416.5 209.1h2.5M537.8 209.1h2.5M542.1 209.1h2.5M251.8 211.3h2.5M388.3 211.3h6.8M416.5 211.3h2.5M420.8 211.3h2.5M607.1 211.3h2.5M247.5 213.5h2.5M251.8 213.5h2.5M260.5 213.5h2.5M386.1 213.5h2.5M390.5 213.5h2.5M607.1 213.5h2.5M258.3 215.6h2.5M537.8 215.6h2.5M607.1 215.6h2.5M247.5 217.8h2.5M254 217.8h2.5M388.3 217.8h4.6M397 217.8h2.5M607.1 217.8h2.5M243.2 220h2.5M256.1 220h2.5M539.9 220h2.5M544.3 220h2.5M604.9 220h4.6M243.2 222.1h6.8M254 222.1h2.5M390.5 222.1h2.5M602.8 222.1h2.5M245.3 224.3h2.5M249.7 224.3h2.5M394.8 224.3h2.5M243.2 226.5h2.5M249.7 226.5h2.5M245.3 228.6h4.6M386.1 228.6h2.5M245.3 230.8h4.6M219.3 235.1h2.5M596.3 235.1h2.5M219.3 237.3h2.5M219.3 241.6h2.5M217.2 248.1h2.5M217.2 256.8h2.5"/>
<path stroke="#368896" d="M461.9 42.3h2.5M481.4 42.3h2.5M457.6 44.5h2.5M466.3 44.5h2.5M589.8 44.5h2.5M457.6 46.7h2.5M461.9 46.7h2.5M483.6 46.7h2.5M539.9 46.7h2.5M56.9 48.8h2.5M390.5 48.8h2.5M403.5 48.8h2.5M446.8 48.8h9M459.8 48.8h4.6M466.3 48.8h2.5M481.4 48.8h4.6M59 51h2.5M394.8 51h2.5M429.5 51h2.5M444.6 51h2.5M464.1 51h2.5M481.4 51h2.5M403.5 53.2h2.5M420.8 53.2h4.6M470.6 53.2h2.5M483.6 53.2h2.5M46 55.3h2.5M474.9 55.3h4.6M485.8 55.3h2.5M35.2 57.5h4.6M54.7 57.5h4.6M76.4 57.5h2.5M137 57.5h2.5M390.5 57.5h2.5M403.5 57.5h2.5M435.9 57.5h2.5M446.8 57.5h2.5M464.1 57.5h2.5M414.3 59.7h6.8M444.6 59.7h2.5M453.3 59.7h4.6M474.9 59.7h4.6M394.8 61.8h2.5M399.1 61.8h4.6M410 61.8h2.5M418.6 61.8h4.6M448.9 61.8h2.5M457.6 61.8h4.6M505.3 61.8h2.5M394.8 64h2.5M401.3 64h2.5M410 64h2.5M414.3 64h2.5M418.6 64h2.5M425.1 64h2.5M448.9 64h2.5M461.9 64h2.5M126.2 66.2h2.5M388.3 66.2h2.5M394.8 66.2h2.5M399.1 66.2h2.5M407.8 66.2h9M418.6 66.2h4.6M425.1 66.2h2.5M438.1 66.2h2.5M474.9 66.2h2.5M490.1 66.2h2.5M401.3 68.3h2.5M414.3 68.3h2.5M433.8 68.3h2.5M440.3 68.3h4.6M446.8 68.3h2.5M461.9 68.3h2.5M470.6 68.3h2.5M483.6 68.3h2.5M487.9 68.3h2.5M145.7 70.5h2.5M379.6 70.5h2.5M384 70.5h2.5M416.5 70.5h2.5M435.9 70.5h2.5M468.4 70.5h2.5M479.3 70.5h2.5M485.8 70.5h2.5M154.3 72.7h2.5M163 72.7h2.5M386.1 72.7h2.5M394.8 72.7h2.5M414.3 72.7h6.8M433.8 72.7h2.5M147.8 74.8h2.5M167.3 74.8h2.5M171.7 74.8h2.5M371 74.8h2.5M379.6 74.8h6.8M392.6 74.8h2.5M399.1 74.8h4.6M405.6 74.8h4.6M412.1 74.8h2.5M464.1 74.8h2.5M487.9 74.8h6.8M498.8 74.8h4.6M505.3 74.8h2.5M509.6 74.8h2.5M531.3 74.8h2.5M563.8 74.8h2.5M128.3 77h2.5M169.5 77h4.6M351.5 77h2.5M360.1 77h2.5M381.8 77h4.6M399.1 77h2.5M403.5 77h2.5M479.3 77h2.5M518.3 77h4.6M539.9 77h2.5M349.3 79.2h2.5M353.6 79.2h2.5M371 79.2h2.5M377.5 79.2h4.6M386.1 79.2h2.5M392.6 79.2h2.5M500.9 79.2h4.6M511.8 79.2h2.5M518.3 79.2h2.5M535.6 79.2h2.5M539.9 79.2h4.6M548.6 79.2h4.6M557.3 79.2h2.5M565.9 79.2h2.5M143.5 81.3h2.5M347.1 81.3h2.5M351.5 81.3h2.5M360.1 81.3h4.6M366.6 81.3h4.6M375.3 81.3h2.5M379.6 81.3h2.5M384 81.3h2.5M392.6 81.3h2.5M397 81.3h2.5M403.5 81.3h2.5M500.9 81.3h2.5M518.3 81.3h4.6M542.1 81.3h2.5M546.4 81.3h6.8M141.3 83.5h2.5M173.8 83.5h2.5M338.5 83.5h2.5M349.3 83.5h2.5M353.6 83.5h2.5M358 83.5h6.8M366.6 83.5h2.5M371 83.5h2.5M375.3 83.5h4.6M392.6 83.5h2.5M399.1 83.5h2.5M539.9 83.5h2.5M351.5 85.7h2.5M368.8 85.7h4.6M377.5 85.7h4.6M390.5 85.7h4.6M397 85.7h2.5M401.3 85.7h2.5M494.4 85.7h2.5M561.6 85.7h2.5M178.2 87.8h2.5M349.3 87.8h2.5M355.8 87.8h2.5M362.3 87.8h2.5M371 87.8h2.5M375.3 87.8h2.5M379.6 87.8h2.5M394.8 87.8h2.5M407.8 87.8h2.5M550.8 87.8h2.5M555.1 87.8h2.5M141.3 90h9M349.3 90h2.5M353.6 90h2.5M358 90h2.5M362.3 90h2.5M379.6 90h2.5M390.5 90h2.5M397 90h2.5M546.4 90h4.6M559.4 90h2.5M137 92.2h11.1M180.3 92.2h2.5M355.8 92.2h2.5M360.1 92.2h2.5M364.5 92.2h2.5M371 92.2h2.5M379.6 92.2h4.6M386.1 92.2h4.6M399.1 92.2h4.6M412.1 92.2h2.5M548.6 92.2h2.5M552.9 92.2h9M130.5 94.3h2.5M139.2 94.3h2.5M342.8 94.3h2.5M347.1 94.3h4.6M364.5 94.3h2.5M371 94.3h2.5M379.6 94.3h2.5M388.3 94.3h4.6M416.5 94.3h4.6M544.3 94.3h4.6M555.1 94.3h4.6M563.8 94.3h2.5M141.3 96.5h2.5M147.8 96.5h2.5M152.2 96.5h2.5M329.8 96.5h2.5M336.3 96.5h4.6M345 96.5h4.6M366.6 96.5h6.8M381.8 96.5h11.1M397 96.5h2.5M401.3 96.5h2.5M531.3 96.5h2.5M535.6 96.5h2.5M542.1 96.5h2.5M552.9 96.5h2.5M139.2 98.7h2.5M332 98.7h4.6M342.8 98.7h2.5M371 98.7h2.5M375.3 98.7h2.5M381.8 98.7h2.5M386.1 98.7h2.5M399.1 98.7h2.5M403.5 98.7h2.5M548.6 98.7h2.5M126.2 100.8h2.5M132.7 100.8h2.5M152.2 100.8h2.5M340.6 100.8h2.5M377.5 100.8h2.5M381.8 100.8h4.6M390.5 100.8h4.6M423 100.8h2.5M533.4 100.8h2.5M128.3 103h2.5M132.7 103h2.5M141.3 103h2.5M342.8 103h2.5M381.8 103h2.5M390.5 103h2.5M403.5 103h2.5M518.3 103h2.5M529.1 103h2.5M533.4 103h2.5M130.5 105.2h2.5M134.8 105.2h2.5M145.7 105.2h2.5M180.3 105.2h2.5M332 105.2h2.5M351.5 105.2h2.5M355.8 105.2h4.6M399.1 105.2h2.5M423 105.2h2.5M336.3 107.3h4.6M353.6 107.3h2.5M358 107.3h2.5M394.8 107.3h2.5M490.1 107.3h2.5M503.1 107.3h4.6M524.8 107.3h2.5M329.8 109.5h2.5M340.6 109.5h4.6M347.1 109.5h2.5M533.4 109.5h2.5M345 111.7h2.5M494.4 111.7h2.5M520.4 111.7h2.5M325.5 113.8h2.5M492.3 113.8h2.5M141.3 116h2.5M154.3 116h4.6M178.2 116h4.6M325.5 116h2.5M332 116h6.8M433.8 116h2.5M490.1 116h2.5M329.8 118.2h2.5M435.9 118.2h2.5M496.6 118.2h2.5M176 120.3h2.5M435.9 120.3h2.5M440.3 120.3h2.5M483.6 120.3h2.5M487.9 120.3h2.5M143.5 122.5h2.5M152.2 122.5h2.5M435.9 122.5h2.5M490.1 122.5h2.5M496.6 122.5h2.5M171.7 124.7h2.5M479.3 124.7h2.5M485.8 124.7h2.5M150 126.8h2.5M163 126.8h4.6M479.3 126.8h2.5M483.6 126.8h2.5M487.9 126.8h2.5M156.5 129h4.6M167.3 129h6.8M477.1 129h2.5M492.3 129h2.5M496.6 129h2.5M163 131.2h4.6M169.5 131.2h2.5M477.1 131.2h4.6M487.9 131.2h2.5M158.7 133.3h2.5M165.2 133.3h2.5M171.7 133.3h4.6M477.1 133.3h2.5M487.9 133.3h4.6M163 135.5h2.5M173.8 135.5h2.5M474.9 135.5h2.5M481.4 135.5h2.5M165.2 137.7h2.5M470.6 137.7h2.5M481.4 137.7h2.5M487.9 137.7h2.5M169.5 139.8h2.5M468.4 139.8h2.5M485.8 139.8h2.5M472.8 144.2h2.5M477.1 144.2h2.5M472.8 146.3h4.6M412.1 148.5h2.5M416.5 148.5h2.5M470.6 148.5h4.6M481.4 148.5h2.5M219.3 150.7h4.6M232.3 150.7h2.5M412.1 150.7h6.8M401.3 152.8h2.5M405.6 152.8h2.5M230.2 155h2.5M321.1 155h2.5M325.5 155h2.5M334.1 155h2.5M394.8 155h2.5M232.3 157.2h2.5M241 157.2h2.5M336.3 157.2h2.5M345 157.2h4.6M379.6 157.2h2.5M384 157.2h2.5M388.3 157.2h2.5M397 157.2h4.6M418.6 157.2h4.6M232.3 159.3h2.5M236.7 159.3h2.5M338.5 159.3h2.5M345 159.3h2.5M351.5 159.3h2.5M362.3 159.3h9M379.6 159.3h2.5M386.1 159.3h2.5M390.5 159.3h2.5M394.8 159.3h11.1M418.6 159.3h2.5M232.3 161.5h2.5M340.6 161.5h2.5M381.8 161.5h2.5M386.1 161.5h2.5M401.3 161.5h2.5M414.3 161.5h2.5M418.6 161.5h2.5M394.8 163.7h2.5M401.3 163.7h4.6M416.5 163.7h2.5M249.7 165.8h4.6M371 165.8h2.5M377.5 165.8h4.6M388.3 165.8h6.8M412.1 165.8h2.5M418.6 165.8h2.5M373.1 168h2.5M386.1 168h2.5M397 168h2.5M403.5 168h2.5M414.3 168h6.8M377.5 170.1h6.8M397 170.1h2.5M405.6 170.1h2.5M416.5 170.1h2.5M254 172.3h2.5M364.5 172.3h2.5M373.1 172.3h2.5M377.5 172.3h4.6M405.6 172.3h2.5M271.3 174.5h2.5M364.5 174.5h4.6M405.6 174.5h2.5M269.1 176.6h2.5M273.5 176.6h4.6M368.8 176.6h4.6M375.3 176.6h2.5M381.8 176.6h2.5M386.1 176.6h2.5M390.5 176.6h4.6M399.1 176.6h4.6M405.6 176.6h2.5M258.3 178.8h6.8M277.8 178.8h2.5M362.3 178.8h2.5M373.1 178.8h4.6M388.3 178.8h2.5M407.8 178.8h2.5M260.5 181h2.5M264.8 181h2.5M275.6 181h2.5M366.6 181h4.6M384 181h2.5M392.6 181h4.6M401.3 181h2.5M405.6 181h2.5M264.8 183.1h2.5M271.3 183.1h4.6M379.6 183.1h4.6M388.3 183.1h2.5M260.5 185.3h2.5M269.1 185.3h4.6M371 185.3h2.5M405.6 185.3h6.8M264.8 187.5h4.6M273.5 187.5h2.5M277.8 187.5h4.6M368.8 187.5h2.5M384 187.5h2.5M401.3 187.5h4.6M412.1 187.5h2.5M256.1 189.6h2.5M273.5 189.6h4.6M384 189.6h2.5M392.6 189.6h2.5M399.1 189.6h2.5M407.8 189.6h2.5M269.1 191.8h2.5M273.5 191.8h4.6M364.5 191.8h2.5M375.3 191.8h2.5M379.6 191.8h2.5M384 191.8h4.6M390.5 191.8h6.8M405.6 191.8h2.5M410 191.8h2.5M587.6 191.8h4.6M256.1 194h2.5M377.5 194h2.5M392.6 194h4.6M399.1 194h2.5M403.5 194h2.5M587.6 194h2.5M241 196.1h2.5M249.7 196.1h4.6M264.8 196.1h2.5M271.3 196.1h2.5M368.8 196.1h2.5M375.3 196.1h2.5M379.6 196.1h2.5M390.5 196.1h2.5M397 196.1h2.5M401.3 196.1h2.5M410 196.1h2.5M591.9 196.1h2.5M228 198.3h4.6M260.5 198.3h2.5M271.3 198.3h2.5M364.5 198.3h2.5M368.8 198.3h4.6M386.1 198.3h6.8M394.8 198.3h2.5M399.1 198.3h2.5M405.6 198.3h2.5M410 198.3h2.5M591.9 198.3h2.5M258.3 200.5h4.6M269.1 200.5h2.5M364.5 200.5h2.5M384 200.5h9M397 200.5h4.6M225.8 202.6h2.5M262.6 202.6h2.5M273.5 202.6h2.5M379.6 202.6h2.5M392.6 202.6h2.5M399.1 202.6h2.5M598.4 202.6h2.5M247.5 204.8h2.5M254 204.8h2.5M384 204.8h2.5M388.3 204.8h9M425.1 204.8h2.5M542.1 204.8h4.6M249.7 207h2.5M260.5 207h2.5M384 207h2.5M388.3 207h2.5M397 207h2.5M418.6 207h2.5M425.1 207h2.5M542.1 207h2.5M546.4 207h2.5M598.4 207h2.5M249.7 209.1h2.5M384 209.1h2.5M390.5 209.1h2.5M420.8 209.1h2.5M539.9 209.1h2.5M245.3 211.3h4.6M256.1 211.3h2.5M262.6 211.3h2.5M381.8 211.3h2.5M386.1 211.3h2.5M397 211.3h2.5M403.5 211.3h2.5M425.1 211.3h2.5M539.9 211.3h6.8M600.6 211.3h2.5M423 213.5h2.5M537.8 213.5h2.5M596.3 213.5h4.6M602.8 213.5h2.5M245.3 215.6h2.5M381.8 215.6h2.5M386.1 215.6h15.5M544.3 215.6h2.5M386.1 217.8h2.5M392.6 217.8h4.6M600.6 217.8h4.6M384 222.1h6.8M394.8 222.1h2.5M600.6 222.1h2.5M386.1 224.3h6.8M542.1 224.3h2.5M375.3 226.5h2.5M384 226.5h2.5M392.6 226.5h2.5M604.9 226.5h2.5M598.4 230.8h2.5M602.8 230.8h2.5M215 233h2.5M243.2 233h2.5M598.4 235.1h2.5M602.8 235.1h2.5M212.8 246h4.6M212.8 248.1h4.6M217.2 252.5h2.5"/>
<path stroke="#338f96" d="M477.1 46.7h2.5M477.1 48.8h2.5M145.7 51h2.5M412.1 51h2.5M420.8 51h2.5M448.9 51h2.5M461.9 51h2.5M54.7 53.2h2.5M165.2 53.2h2.5M234.5 53.2h2.5M418.6 53.2h2.5M427.3 53.2h2.5M438.1 53.2h2.5M446.8 53.2h2.5M453.3 53.2h2.5M457.6 53.2h4.6M474.9 53.2h2.5M50.4 55.3h2.5M56.9 55.3h2.5M124 55.3h2.5M418.6 55.3h2.5M431.6 55.3h2.5M446.8 55.3h2.5M451.1 55.3h4.6M459.8 55.3h4.6M468.4 55.3h2.5M487.9 55.3h2.5M154.3 57.5h2.5M418.6 57.5h2.5M444.6 57.5h2.5M448.9 57.5h4.6M455.4 57.5h4.6M468.4 57.5h2.5M394.8 59.7h2.5M399.1 59.7h2.5M446.8 59.7h2.5M451.1 59.7h2.5M459.8 59.7h2.5M464.1 59.7h6.8M479.3 59.7h2.5M59 61.8h2.5M407.8 61.8h2.5M412.1 61.8h2.5M435.9 61.8h2.5M442.4 61.8h2.5M446.8 61.8h2.5M461.9 61.8h2.5M468.4 61.8h2.5M479.3 61.8h6.8M152.2 64h2.5M403.5 64h2.5M440.3 64h9M466.3 64h2.5M470.6 64h9M483.6 64h2.5M416.5 66.2h2.5M423 66.2h2.5M446.8 66.2h2.5M451.1 66.2h4.6M459.8 66.2h2.5M466.3 66.2h4.6M472.8 66.2h2.5M126.2 68.3h2.5M178.2 68.3h2.5M392.6 68.3h2.5M397 68.3h2.5M407.8 68.3h4.6M425.1 68.3h2.5M429.5 68.3h2.5M444.6 68.3h2.5M448.9 68.3h6.8M468.4 68.3h2.5M477.1 68.3h6.8M128.3 70.5h2.5M141.3 70.5h2.5M392.6 70.5h2.5M399.1 70.5h2.5M418.6 70.5h2.5M423 70.5h2.5M433.8 70.5h2.5M442.4 70.5h4.6M470.6 70.5h2.5M474.9 70.5h4.6M481.4 70.5h2.5M487.9 70.5h2.5M494.4 70.5h2.5M147.8 72.7h2.5M156.5 72.7h2.5M381.8 72.7h2.5M392.6 72.7h2.5M399.1 72.7h2.5M403.5 72.7h2.5M410 72.7h2.5M429.5 72.7h2.5M438.1 72.7h4.6M470.6 72.7h2.5M479.3 72.7h2.5M490.1 72.7h4.6M150 74.8h2.5M466.3 74.8h2.5M477.1 74.8h2.5M481.4 74.8h2.5M485.8 74.8h2.5M503.1 74.8h2.5M165.2 77h2.5M225.8 77h2.5M397 77h2.5M407.8 77h2.5M468.4 77h2.5M490.1 77h4.6M165.2 79.2h2.5M373.1 79.2h2.5M381.8 79.2h4.6M388.3 79.2h2.5M397 79.2h2.5M401.3 79.2h2.5M405.6 79.2h2.5M412.1 79.2h2.5M479.3 79.2h2.5M485.8 79.2h2.5M496.6 79.2h2.5M513.9 79.2h4.6M520.4 79.2h2.5M531.3 79.2h2.5M537.8 79.2h2.5M154.3 81.3h2.5M349.3 81.3h2.5M373.1 81.3h2.5M377.5 81.3h2.5M399.1 81.3h2.5M416.5 81.3h2.5M498.8 81.3h2.5M509.6 81.3h2.5M516.1 81.3h2.5M531.3 81.3h2.5M535.6 81.3h2.5M555.1 81.3h2.5M143.5 83.5h2.5M147.8 83.5h2.5M351.5 83.5h2.5M373.1 83.5h2.5M394.8 83.5h2.5M405.6 83.5h2.5M418.6 83.5h2.5M481.4 83.5h4.6M487.9 83.5h2.5M498.8 83.5h4.6M516.1 83.5h2.5M524.8 83.5h2.5M535.6 83.5h4.6M137 85.7h2.5M145.7 85.7h2.5M150 85.7h2.5M366.6 85.7h2.5M474.9 85.7h2.5M479.3 85.7h2.5M483.6 85.7h2.5M492.3 85.7h2.5M507.4 85.7h2.5M513.9 85.7h2.5M531.3 85.7h2.5M535.6 85.7h2.5M141.3 87.8h6.8M152.2 87.8h2.5M215 87.8h2.5M368.8 87.8h2.5M377.5 87.8h2.5M386.1 87.8h2.5M401.3 87.8h2.5M513.9 87.8h2.5M520.4 87.8h2.5M539.9 87.8h2.5M544.3 87.8h2.5M134.8 90h4.6M342.8 90h2.5M347.1 90h2.5M355.8 90h2.5M371 90h4.6M384 90h6.8M416.5 90h2.5M531.3 90h2.5M537.8 90h2.5M542.1 90h2.5M555.1 90h2.5M178.2 92.2h2.5M358 92.2h2.5M375.3 92.2h2.5M390.5 92.2h4.6M418.6 92.2h2.5M481.4 92.2h2.5M544.3 92.2h2.5M561.6 92.2h2.5M137 94.3h2.5M141.3 94.3h2.5M145.7 94.3h2.5M152.2 94.3h2.5M176 94.3h4.6M377.5 94.3h2.5M410 94.3h6.8M420.8 94.3h2.5M535.6 94.3h2.5M542.1 94.3h2.5M550.8 94.3h2.5M132.7 96.5h2.5M145.7 96.5h2.5M178.2 96.5h2.5M377.5 96.5h2.5M423 96.5h2.5M546.4 96.5h2.5M130.5 98.7h6.8M178.2 98.7h2.5M366.6 98.7h2.5M373.1 98.7h2.5M377.5 98.7h2.5M384 98.7h2.5M420.8 98.7h2.5M479.3 98.7h2.5M535.6 98.7h2.5M539.9 98.7h2.5M544.3 98.7h2.5M134.8 100.8h15.5M178.2 100.8h2.5M368.8 100.8h2.5M373.1 100.8h2.5M386.1 100.8h2.5M529.1 100.8h2.5M535.6 100.8h4.6M542.1 100.8h2.5M134.8 103h2.5M139.2 103h2.5M178.2 103h2.5M371 103h2.5M524.8 103h2.5M531.3 103h2.5M535.6 103h2.5M539.9 103h2.5M128.3 105.2h2.5M143.5 105.2h2.5M345 105.2h6.8M353.6 105.2h2.5M360.1 105.2h2.5M381.8 105.2h2.5M533.4 105.2h2.5M134.8 107.3h4.6M360.1 107.3h2.5M431.6 107.3h2.5M474.9 107.3h2.5M492.3 107.3h2.5M518.3 107.3h2.5M537.8 107.3h2.5M137 109.5h2.5M178.2 109.5h2.5M332 109.5h2.5M336.3 109.5h2.5M345 109.5h2.5M349.3 109.5h6.8M178.2 111.7h4.6M327.6 111.7h2.5M334.1 111.7h2.5M347.1 111.7h2.5M477.1 111.7h4.6M156.5 113.8h2.5M178.2 113.8h2.5M332 113.8h2.5M336.3 113.8h4.6M345 113.8h2.5M433.8 113.8h2.5M483.6 113.8h2.5M139.2 116h2.5M145.7 116h4.6M152.2 116h2.5M176 116h2.5M329.8 116h2.5M338.5 116h2.5M487.9 116h2.5M494.4 116h2.5M163 118.2h2.5M178.2 118.2h2.5M327.6 118.2h2.5M483.6 118.2h2.5M147.8 120.3h4.6M173.8 120.3h2.5M479.3 120.3h4.6M485.8 120.3h2.5M150 122.5h2.5M158.7 122.5h2.5M165.2 122.5h2.5M171.7 122.5h4.6M477.1 122.5h2.5M483.6 122.5h2.5M492.3 122.5h2.5M145.7 124.7h2.5M160.8 124.7h4.6M167.3 124.7h4.6M477.1 124.7h2.5M154.3 126.8h2.5M158.7 126.8h4.6M171.7 126.8h2.5M477.1 126.8h2.5M160.8 129h4.6M160.8 131.2h2.5M472.8 131.2h2.5M481.4 131.2h4.6M481.4 133.3h2.5M165.2 135.5h2.5M169.5 135.5h4.6M414.3 135.5h2.5M470.6 135.5h2.5M479.3 135.5h2.5M513.9 135.5h2.5M219.3 137.7h4.6M414.3 137.7h2.5M472.8 137.7h2.5M477.1 137.7h2.5M485.8 137.7h2.5M507.4 137.7h2.5M410 139.8h2.5M418.6 139.8h2.5M470.6 139.8h2.5M474.9 139.8h2.5M481.4 139.8h2.5M472.8 142h4.6M412.1 144.2h2.5M474.9 144.2h2.5M420.8 146.3h2.5M479.3 146.3h2.5M221.5 148.5h2.5M225.8 150.7h2.5M407.8 150.7h2.5M418.6 150.7h2.5M223.7 152.8h2.5M232.3 152.8h6.8M399.1 152.8h2.5M403.5 152.8h2.5M416.5 152.8h2.5M232.3 155h4.6M319 155h2.5M340.6 155h2.5M355.8 155h2.5M386.1 155h2.5M397 155h4.6M412.1 155h2.5M225.8 157.2h2.5M340.6 157.2h2.5M349.3 157.2h2.5M353.6 157.2h2.5M362.3 157.2h2.5M381.8 157.2h2.5M390.5 157.2h2.5M394.8 157.2h2.5M245.3 159.3h2.5M349.3 159.3h2.5M353.6 159.3h2.5M371 159.3h2.5M377.5 159.3h2.5M381.8 159.3h2.5M392.6 159.3h2.5M420.8 159.3h2.5M351.5 161.5h4.6M362.3 161.5h6.8M373.1 161.5h4.6M379.6 161.5h2.5M390.5 161.5h2.5M420.8 161.5h2.5M362.3 163.7h6.8M375.3 163.7h4.6M381.8 163.7h2.5M407.8 163.7h2.5M418.6 163.7h4.6M362.3 165.8h2.5M381.8 165.8h4.6M403.5 165.8h2.5M420.8 165.8h2.5M360.1 168h4.6M368.8 168h2.5M375.3 168h2.5M379.6 168h2.5M384 168h2.5M388.3 168h2.5M401.3 168h2.5M405.6 168h2.5M410 168h2.5M373.1 170.1h4.6M386.1 170.1h4.6M399.1 170.1h2.5M410 170.1h4.6M360.1 172.3h4.6M366.6 172.3h2.5M381.8 172.3h4.6M388.3 172.3h2.5M401.3 172.3h2.5M258.3 174.5h2.5M362.3 174.5h2.5M371 174.5h6.8M381.8 174.5h4.6M412.1 174.5h2.5M271.3 176.6h2.5M366.6 176.6h2.5M379.6 176.6h2.5M388.3 176.6h2.5M397 176.6h2.5M403.5 176.6h2.5M267 178.8h2.5M275.6 178.8h2.5M366.6 178.8h2.5M371 178.8h2.5M379.6 178.8h2.5M390.5 178.8h2.5M394.8 178.8h2.5M401.3 178.8h2.5M405.6 178.8h2.5M362.3 181h4.6M397 181h2.5M377.5 183.1h2.5M384 183.1h4.6M407.8 183.1h4.6M275.6 185.3h2.5M375.3 185.3h2.5M381.8 185.3h2.5M386.1 185.3h4.6M392.6 185.3h2.5M397 185.3h2.5M371 187.5h2.5M375.3 187.5h2.5M381.8 187.5h2.5M394.8 187.5h2.5M399.1 187.5h2.5M410 187.5h2.5M271.3 189.6h2.5M277.8 189.6h2.5M368.8 189.6h2.5M381.8 189.6h2.5M401.3 189.6h4.6M572.4 189.6h2.5M576.8 189.6h2.5M254 191.8h2.5M271.3 191.8h2.5M371 191.8h4.6M388.3 191.8h2.5M399.1 191.8h2.5M565.9 191.8h2.5M254 194h2.5M269.1 194h2.5M364.5 194h2.5M373.1 194h2.5M379.6 194h2.5M384 194h2.5M397 194h2.5M401.3 194h2.5M591.9 194h2.5M230.2 196.1h2.5M234.5 196.1h2.5M371 196.1h2.5M384 196.1h2.5M388.3 196.1h2.5M392.6 196.1h4.6M399.1 196.1h2.5M403.5 196.1h2.5M407.8 196.1h2.5M559.4 196.1h2.5M587.6 196.1h4.6M630.9 196.1h2.5M234.5 198.3h4.6M366.6 198.3h2.5M375.3 198.3h2.5M230.2 200.5h2.5M241 200.5h2.5M249.7 200.5h2.5M362.3 200.5h2.5M368.8 200.5h2.5M375.3 200.5h6.8M394.8 200.5h2.5M401.3 200.5h4.6M407.8 200.5h2.5M594.1 200.5h2.5M648.2 200.5h2.5M373.1 202.6h2.5M377.5 202.6h2.5M388.3 202.6h2.5M401.3 202.6h2.5M405.6 202.6h2.5M594.1 202.6h2.5M245.3 204.8h2.5M375.3 204.8h2.5M381.8 204.8h2.5M397 204.8h2.5M401.3 204.8h2.5M423 204.8h2.5M594.1 204.8h2.5M600.6 204.8h2.5M375.3 207h2.5M390.5 207h4.6M399.1 207h2.5M403.5 207h2.5M539.9 207h2.5M544.3 207h2.5M630.9 207h2.5M245.3 209.1h2.5M262.6 209.1h2.5M392.6 209.1h2.5M544.3 209.1h2.5M600.6 209.1h4.6M379.6 211.3h2.5M384 211.3h2.5M399.1 211.3h2.5M602.8 211.3h4.6M375.3 213.5h2.5M384 213.5h2.5M392.6 213.5h2.5M397 213.5h2.5M420.8 213.5h2.5M542.1 213.5h6.8M604.9 213.5h2.5M377.5 215.6h2.5M384 215.6h2.5M600.6 215.6h4.6M243.2 217.8h2.5M399.1 217.8h2.5M539.9 217.8h4.6M589.8 217.8h2.5M381.8 220h2.5M386.1 220h9M548.6 220h2.5M392.6 222.1h2.5M542.1 222.1h2.5M604.9 222.1h2.5M392.6 224.3h2.5M598.4 224.3h2.5M604.9 224.3h2.5M241 226.5h2.5M377.5 226.5h2.5M390.5 226.5h2.5M542.1 226.5h2.5M241 228.6h2.5M373.1 228.6h2.5M377.5 228.6h4.6M384 228.6h2.5M388.3 228.6h2.5M602.8 228.6h2.5M215 230.8h4.6M243.2 230.8h2.5M375.3 230.8h2.5M600.6 230.8h2.5M221.5 233h2.5M241 233h2.5M598.4 233h2.5M221.5 235.1h2.5M600.6 235.1h2.5M219.3 243.8h2.5M596.3 243.8h2.5M594.1 246h2.5M215 250.3h2.5M219.3 254.6h2.5M219.3 256.8h2.5"/>
<path stroke="#319994" d="M410 51h2.5M163 57.5h2.5M173.8 57.5h2.5M178.2 57.5h2.5M399.1 57.5h2.5M147.8 59.7h2.5M442.4 59.7h2.5M448.9 59.7h2.5M461.9 59.7h2.5M451.1 61.8h6.8M466.3 61.8h2.5M472.8 61.8h4.6M56.9 64h2.5M117.5 64h2.5M141.3 64h2.5M145.7 64h2.5M433.8 64h4.6M451.1 64h4.6M457.6 64h2.5M464.1 64h2.5M479.3 64h4.6M143.5 66.2h2.5M435.9 66.2h2.5M442.4 66.2h4.6M448.9 66.2h2.5M461.9 66.2h2.5M477.1 66.2h2.5M481.4 66.2h4.6M431.6 68.3h2.5M455.4 68.3h4.6M464.1 68.3h4.6M474.9 68.3h2.5M147.8 70.5h2.5M429.5 70.5h4.6M440.3 70.5h2.5M451.1 70.5h2.5M461.9 70.5h2.5M401.3 72.7h2.5M425.1 72.7h2.5M446.8 72.7h2.5M464.1 72.7h4.6M485.8 72.7h2.5M156.5 74.8h2.5M180.3 74.8h2.5M394.8 74.8h2.5M410 74.8h2.5M414.3 74.8h2.5M420.8 74.8h2.5M425.1 74.8h2.5M431.6 74.8h2.5M435.9 74.8h2.5M453.3 74.8h2.5M459.8 74.8h4.6M468.4 74.8h2.5M472.8 74.8h4.6M483.6 74.8h2.5M494.4 74.8h2.5M152.2 77h6.8M160.8 77h2.5M167.3 77h2.5M386.1 77h4.6M401.3 77h2.5M405.6 77h2.5M412.1 77h2.5M420.8 77h2.5M470.6 77h2.5M474.9 77h2.5M481.4 77h2.5M485.8 77h4.6M498.8 77h2.5M505.3 77h2.5M522.6 77h4.6M145.7 79.2h2.5M171.7 79.2h2.5M358 79.2h2.5M416.5 79.2h2.5M420.8 79.2h2.5M472.8 79.2h2.5M492.3 79.2h4.6M505.3 79.2h2.5M522.6 79.2h4.6M533.4 79.2h2.5M150 81.3h2.5M169.5 81.3h4.6M178.2 81.3h2.5M358 81.3h2.5M386.1 81.3h2.5M394.8 81.3h2.5M401.3 81.3h2.5M407.8 81.3h4.6M461.9 81.3h2.5M474.9 81.3h4.6M483.6 81.3h6.8M494.4 81.3h2.5M505.3 81.3h4.6M511.8 81.3h2.5M524.8 81.3h2.5M537.8 81.3h2.5M368.8 83.5h2.5M384 83.5h6.8M401.3 83.5h2.5M407.8 83.5h4.6M414.3 83.5h2.5M470.6 83.5h2.5M474.9 83.5h4.6M490.1 83.5h9M503.1 83.5h2.5M509.6 83.5h2.5M531.3 83.5h2.5M147.8 85.7h2.5M173.8 85.7h4.6M388.3 85.7h2.5M394.8 85.7h2.5M399.1 85.7h2.5M405.6 85.7h2.5M410 85.7h2.5M420.8 85.7h2.5M487.9 85.7h2.5M516.1 85.7h2.5M533.4 85.7h2.5M537.8 85.7h2.5M557.3 85.7h2.5M173.8 87.8h4.6M347.1 87.8h2.5M397 87.8h2.5M405.6 87.8h2.5M410 87.8h2.5M483.6 87.8h6.8M511.8 87.8h2.5M526.9 87.8h6.8M535.6 87.8h2.5M542.1 87.8h2.5M176 90h2.5M180.3 90h2.5M401.3 90h2.5M407.8 90h4.6M418.6 90h2.5M477.1 90h2.5M481.4 90h2.5M535.6 90h2.5M550.8 90h2.5M147.8 92.2h2.5M353.6 92.2h2.5M407.8 92.2h2.5M472.8 92.2h4.6M479.3 92.2h2.5M537.8 92.2h6.8M546.4 92.2h2.5M147.8 94.3h2.5M173.8 94.3h2.5M360.1 94.3h2.5M423 94.3h2.5M461.9 94.3h2.5M481.4 94.3h2.5M539.9 94.3h2.5M548.6 94.3h2.5M143.5 96.5h2.5M468.4 96.5h2.5M483.6 96.5h2.5M539.9 96.5h2.5M544.3 96.5h2.5M145.7 98.7h2.5M152.2 98.7h2.5M414.3 98.7h2.5M477.1 98.7h2.5M546.4 98.7h2.5M379.6 100.8h2.5M472.8 100.8h2.5M539.9 100.8h2.5M544.3 100.8h2.5M145.7 103h2.5M156.5 103h2.5M325.5 103h2.5M537.8 103h2.5M137 105.2h2.5M147.8 105.2h6.8M178.2 105.2h2.5M336.3 105.2h4.6M470.6 105.2h4.6M150 107.3h2.5M154.3 107.3h2.5M178.2 107.3h2.5M334.1 107.3h2.5M340.6 107.3h2.5M132.7 109.5h4.6M150 109.5h2.5M355.8 109.5h2.5M468.4 109.5h2.5M472.8 109.5h4.6M490.1 109.5h2.5M152.2 111.7h2.5M336.3 111.7h2.5M340.6 111.7h4.6M468.4 111.7h2.5M474.9 111.7h2.5M147.8 113.8h2.5M158.7 113.8h2.5M173.8 113.8h2.5M472.8 113.8h2.5M477.1 113.8h6.8M143.5 116h2.5M150 116h2.5M160.8 116h2.5M173.8 116h2.5M477.1 116h2.5M481.4 116h2.5M141.3 118.2h6.8M150 118.2h4.6M158.7 118.2h2.5M169.5 118.2h2.5M325.5 118.2h2.5M485.8 118.2h2.5M143.5 120.3h2.5M152.2 120.3h6.8M165.2 120.3h2.5M145.7 122.5h2.5M160.8 122.5h2.5M167.3 122.5h2.5M438.1 122.5h2.5M147.8 124.7h2.5M156.5 124.7h4.6M165.2 124.7h2.5M483.6 124.7h2.5M169.5 126.8h2.5M481.4 126.8h2.5M485.8 126.8h2.5M165.2 129h2.5M472.8 129h4.6M479.3 129h2.5M472.8 133.3h4.6M483.6 133.3h2.5M472.8 135.5h2.5M223.7 137.7h2.5M479.3 137.7h2.5M407.8 139.8h2.5M414.3 139.8h2.5M479.3 139.8h2.5M416.5 144.2h2.5M412.1 146.3h2.5M416.5 146.3h4.6M223.7 150.7h2.5M228 150.7h2.5M410 150.7h2.5M225.8 152.8h4.6M319 152.8h2.5M325.5 152.8h6.8M334.1 152.8h2.5M340.6 152.8h2.5M223.7 155h6.8M329.8 155h2.5M338.5 155h2.5M342.8 155h2.5M349.3 155h6.8M362.3 155h4.6M371 155h2.5M377.5 155h2.5M390.5 155h2.5M230.2 157.2h2.5M351.5 157.2h2.5M355.8 157.2h2.5M360.1 157.2h2.5M366.6 157.2h2.5M375.3 157.2h4.6M386.1 157.2h2.5M392.6 157.2h2.5M342.8 159.3h2.5M347.1 159.3h2.5M355.8 159.3h4.6M373.1 159.3h2.5M358 161.5h4.6M416.5 161.5h2.5M236.7 163.7h2.5M360.1 163.7h2.5M373.1 163.7h2.5M384 163.7h2.5M360.1 165.8h2.5M366.6 165.8h4.6M375.3 165.8h2.5M410 165.8h2.5M414.3 165.8h4.6M364.5 168h2.5M377.5 168h2.5M399.1 168h2.5M407.8 168h2.5M403.5 170.1h2.5M414.3 170.1h2.5M368.8 172.3h2.5M407.8 172.3h2.5M399.1 174.5h2.5M403.5 174.5h2.5M377.5 176.6h2.5M407.8 176.6h2.5M377.5 178.8h2.5M403.5 178.8h2.5M410 178.8h2.5M379.6 181h4.6M386.1 181h2.5M399.1 181h2.5M275.6 183.1h2.5M371 183.1h4.6M390.5 183.1h2.5M366.6 185.3h2.5M373.1 185.3h2.5M379.6 185.3h2.5M390.5 185.3h2.5M379.6 187.5h2.5M386.1 187.5h4.6M371 189.6h9M386.1 189.6h4.6M397 189.6h2.5M570.3 189.6h2.5M366.6 191.8h2.5M377.5 191.8h2.5M381.8 191.8h2.5M568.1 191.8h2.5M362.3 194h2.5M366.6 194h2.5M371 194h2.5M381.8 194h2.5M412.1 194h2.5M561.6 194h4.6M362.3 196.1h4.6M373.1 196.1h2.5M377.5 196.1h2.5M381.8 196.1h2.5M386.1 196.1h2.5M561.6 196.1h2.5M570.3 196.1h2.5M232.3 198.3h2.5M381.8 198.3h4.6M397 198.3h2.5M407.8 198.3h2.5M561.6 198.3h2.5M585.4 198.3h2.5M589.8 198.3h2.5M228 200.5h2.5M247.5 200.5h2.5M373.1 200.5h2.5M555.1 200.5h2.5M585.4 200.5h2.5M589.8 200.5h2.5M596.3 200.5h2.5M650.4 200.5h2.5M223.7 202.6h2.5M243.2 202.6h2.5M364.5 202.6h2.5M368.8 202.6h4.6M589.8 202.6h2.5M596.3 202.6h2.5M273.5 204.8h2.5M368.8 204.8h2.5M377.5 204.8h4.6M386.1 204.8h2.5M546.4 204.8h4.6M587.6 204.8h2.5M596.3 204.8h4.6M247.5 207h2.5M371 207h2.5M379.6 207h2.5M591.9 207h2.5M600.6 207h2.5M271.3 209.1h2.5M373.1 209.1h2.5M379.6 209.1h2.5M388.3 209.1h2.5M548.6 209.1h2.5M591.9 209.1h2.5M596.3 209.1h2.5M630.9 209.1h2.5M546.4 211.3h2.5M245.3 213.5h2.5M381.8 213.5h2.5M388.3 213.5h2.5M394.8 213.5h2.5M399.1 213.5h2.5M548.6 213.5h2.5M600.6 213.5h2.5M375.3 215.6h2.5M598.4 215.6h2.5M258.3 217.8h2.5M381.8 217.8h2.5M604.9 217.8h2.5M379.6 220h2.5M394.8 220h2.5M546.4 220h2.5M596.3 220h6.8M241 222.1h2.5M371 222.1h2.5M379.6 222.1h4.6M607.1 222.1h2.5M373.1 224.3h2.5M379.6 224.3h2.5M384 224.3h2.5M594.1 224.3h4.6M602.8 224.3h2.5M381.8 226.5h2.5M386.1 226.5h4.6M544.3 226.5h2.5M598.4 226.5h2.5M243.2 228.6h2.5M375.3 228.6h2.5M381.8 228.6h2.5M539.9 228.6h4.6M546.4 228.6h2.5M596.3 228.6h2.5M241 230.8h2.5M377.5 230.8h2.5M546.4 230.8h2.5M594.1 230.8h2.5M219.3 233h2.5M600.6 233h4.6M596.3 237.3h2.5M596.3 239.5h2.5M596.3 241.6h4.6M221.5 243.8h2.5M596.3 246h2.5M219.3 248.1h2.5M219.3 252.5h2.5M217.2 254.6h2.5M212.8 259h2.5M217.2 259h2.5M217.2 261.1h2.5"/>
<path stroke="#2fa092" d="M121.8 51h2.5M145.7 53.2h2.5M455.4 55.3h2.5M167.3 57.5h2.5M412.1 57.5h2.5M453.3 57.5h2.5M470.6 59.7h2.5M119.7 61.8h2.5M102.3 64h2.5M173.8 66.2h2.5M455.4 66.2h4.6M464.1 66.2h2.5M156.5 68.3h2.5M180.3 68.3h2.5M459.8 68.3h2.5M472.8 68.3h2.5M124 70.5h2.5M407.8 70.5h2.5M425.1 70.5h2.5M453.3 70.5h6.8M464.1 70.5h4.6M176 72.7h2.5M420.8 72.7h4.6M427.3 72.7h2.5M431.6 72.7h2.5M435.9 72.7h2.5M451.1 72.7h4.6M457.6 72.7h6.8M483.6 72.7h2.5M403.5 74.8h2.5M423 74.8h2.5M427.3 74.8h4.6M438.1 74.8h4.6M444.6 74.8h2.5M457.6 74.8h2.5M479.3 74.8h2.5M163 77h2.5M394.8 77h2.5M410 77h2.5M414.3 77h2.5M425.1 77h4.6M435.9 77h2.5M446.8 77h2.5M459.8 77h6.8M477.1 77h2.5M483.6 77h2.5M503.1 77h2.5M150 79.2h2.5M158.7 79.2h2.5M163 79.2h2.5M390.5 79.2h2.5M394.8 79.2h2.5M410 79.2h2.5M418.6 79.2h2.5M461.9 79.2h6.8M474.9 79.2h4.6M481.4 79.2h2.5M487.9 79.2h4.6M498.8 79.2h2.5M509.6 79.2h2.5M529.1 79.2h2.5M121.8 81.3h2.5M145.7 81.3h2.5M156.5 81.3h2.5M405.6 81.3h2.5M414.3 81.3h2.5M440.3 81.3h2.5M466.3 81.3h2.5M472.8 81.3h2.5M481.4 81.3h2.5M490.1 81.3h4.6M496.6 81.3h2.5M503.1 81.3h2.5M522.6 81.3h2.5M526.9 81.3h4.6M533.4 81.3h2.5M539.9 81.3h2.5M145.7 83.5h2.5M412.1 83.5h2.5M464.1 83.5h2.5M472.8 83.5h2.5M479.3 83.5h2.5M485.8 83.5h2.5M507.4 83.5h2.5M511.8 83.5h4.6M522.6 83.5h2.5M529.1 83.5h2.5M134.8 85.7h2.5M143.5 85.7h2.5M171.7 85.7h2.5M407.8 85.7h2.5M412.1 85.7h6.8M466.3 85.7h2.5M472.8 85.7h2.5M477.1 85.7h2.5M481.4 85.7h2.5M485.8 85.7h2.5M509.6 85.7h2.5M524.8 85.7h6.8M130.5 87.8h2.5M150 87.8h2.5M156.5 87.8h2.5M171.7 87.8h2.5M390.5 87.8h2.5M399.1 87.8h2.5M412.1 87.8h6.8M509.6 87.8h2.5M524.8 87.8h2.5M152.2 90h2.5M156.5 90h2.5M399.1 90h2.5M403.5 90h2.5M412.1 90h2.5M420.8 90h2.5M485.8 90h2.5M533.4 90h2.5M539.9 90h2.5M544.3 90h2.5M552.9 90h2.5M150 92.2h2.5M405.6 92.2h2.5M485.8 92.2h2.5M381.8 94.3h2.5M470.6 94.3h2.5M474.9 94.3h2.5M485.8 94.3h2.5M537.8 94.3h2.5M154.3 96.5h2.5M176 96.5h2.5M466.3 96.5h2.5M470.6 96.5h4.6M533.4 96.5h2.5M537.8 96.5h2.5M143.5 98.7h2.5M147.8 98.7h4.6M461.9 98.7h2.5M472.8 98.7h4.6M481.4 98.7h2.5M176 100.8h2.5M459.8 100.8h4.6M143.5 103h2.5M176 103h2.5M468.4 103h4.6M154.3 105.2h2.5M176 105.2h2.5M461.9 105.2h2.5M158.7 107.3h2.5M176 107.3h2.5M332 107.3h2.5M468.4 107.3h6.8M139.2 109.5h2.5M147.8 109.5h2.5M158.7 109.5h2.5M334.1 109.5h2.5M338.5 109.5h2.5M461.9 109.5h4.6M477.1 109.5h2.5M139.2 111.7h2.5M329.8 111.7h2.5M472.8 111.7h2.5M139.2 113.8h2.5M152.2 113.8h4.6M327.6 113.8h4.6M334.1 113.8h2.5M342.8 113.8h2.5M470.6 113.8h2.5M158.7 116h2.5M169.5 116h4.6M327.6 116h2.5M479.3 116h2.5M147.8 118.2h2.5M154.3 118.2h4.6M160.8 118.2h2.5M167.3 118.2h2.5M176 118.2h2.5M141.3 120.3h2.5M145.7 120.3h2.5M158.7 120.3h4.6M171.7 120.3h2.5M477.1 120.3h2.5M147.8 122.5h2.5M156.5 122.5h2.5M163 122.5h2.5M442.4 122.5h2.5M479.3 122.5h4.6M154.3 124.7h2.5M442.4 124.7h2.5M147.8 126.8h2.5M156.5 126.8h2.5M167.3 126.8h2.5M509.6 126.8h2.5M150 129h2.5M470.6 133.3h2.5M416.5 135.5h2.5M407.8 137.7h2.5M468.4 137.7h2.5M416.5 139.8h2.5M416.5 142h4.6M414.3 146.3h2.5M230.2 150.7h2.5M234.5 150.7h2.5M345 150.7h2.5M230.2 152.8h2.5M321.1 152.8h4.6M338.5 152.8h2.5M347.1 152.8h2.5M355.8 152.8h2.5M345 155h2.5M366.6 155h2.5M379.6 155h2.5M388.3 155h2.5M358 157.2h2.5M368.8 157.2h2.5M373.1 157.2h2.5M384 159.3h2.5M355.8 161.5h2.5M368.8 161.5h2.5M399.1 161.5h2.5M379.6 163.7h2.5M358 165.8h2.5M423 165.8h2.5M412.1 168h2.5M368.8 170.1h2.5M384 170.1h2.5M401.3 170.1h2.5M386.1 172.3h2.5M403.5 172.3h2.5M412.1 172.3h2.5M407.8 174.5h4.6M373.1 176.6h2.5M410 176.6h2.5M381.8 178.8h2.5M371 181h2.5M377.5 181h2.5M368.8 185.3h2.5M384 185.3h2.5M373.1 187.5h2.5M377.5 187.5h2.5M574.6 189.6h2.5M368.8 191.8h2.5M574.6 191.8h6.8M368.8 194h2.5M375.3 194h2.5M386.1 194h2.5M572.4 194h2.5M578.9 194h2.5M366.6 196.1h2.5M572.4 196.1h2.5M578.9 196.1h2.5M362.3 198.3h2.5M373.1 198.3h2.5M377.5 198.3h4.6M568.1 198.3h4.6M594.1 198.3h2.5M232.3 200.5h6.8M366.6 200.5h2.5M559.4 200.5h2.5M565.9 200.5h2.5M587.6 200.5h2.5M591.9 200.5h2.5M230.2 202.6h2.5M236.7 202.6h4.6M245.3 202.6h2.5M362.3 202.6h2.5M366.6 202.6h2.5M384 202.6h4.6M587.6 202.6h2.5M225.8 204.8h2.5M243.2 204.8h2.5M572.4 204.8h4.6M245.3 207h2.5M373.1 207h2.5M377.5 207h2.5M587.6 207h4.6M594.1 207h4.6M247.5 209.1h2.5M381.8 209.1h2.5M589.8 209.1h2.5M594.1 209.1h2.5M375.3 211.3h4.6M591.9 211.3h2.5M598.4 211.3h2.5M594.1 213.5h2.5M366.6 215.6h2.5M379.6 215.6h2.5M546.4 215.6h2.5M585.4 215.6h2.5M377.5 217.8h4.6M384 217.8h2.5M544.3 217.8h6.8M384 220h2.5M542.1 220h2.5M594.1 220h2.5M377.5 222.1h2.5M548.6 222.1h2.5M238.8 224.3h4.6M544.3 224.3h4.6M238.8 226.5h2.5M546.4 226.5h2.5M596.3 226.5h2.5M602.8 226.5h2.5M219.3 228.6h2.5M238.8 228.6h2.5M544.3 228.6h2.5M594.1 228.6h2.5M598.4 228.6h4.6M236.7 230.8h4.6M596.3 230.8h2.5M223.7 233h2.5M596.3 233h2.5M241 235.1h4.6M594.1 235.1h2.5M221.5 237.3h4.6M594.1 237.3h2.5M591.9 239.5h4.6M598.4 239.5h2.5M594.1 241.6h2.5M594.1 243.8h2.5M598.4 243.8h2.5M219.3 250.3h2.5M215 254.6h2.5M212.8 256.8h2.5M210.7 259h2.5M215 259h2.5M219.3 259h6.8"/>
<path stroke="#2fa88f" d="M121.8 57.5h2.5M113.2 59.7h2.5M126.2 59.7h2.5M137 59.7h2.5M455.4 64h2.5M470.6 66.2h2.5M479.3 66.2h2.5M446.8 70.5h2.5M459.8 70.5h2.5M472.8 70.5h2.5M121.8 72.7h2.5M165.2 72.7h2.5M397 72.7h2.5M442.4 72.7h4.6M448.9 72.7h2.5M455.4 72.7h2.5M468.4 72.7h2.5M472.8 72.7h6.8M481.4 72.7h2.5M433.8 74.8h2.5M446.8 74.8h4.6M470.6 74.8h2.5M126.2 77h2.5M416.5 77h2.5M423 77h2.5M429.5 77h4.6M440.3 77h2.5M444.6 77h2.5M455.4 77h2.5M466.3 77h2.5M472.8 77h2.5M147.8 79.2h2.5M189 79.2h2.5M414.3 79.2h2.5M442.4 79.2h2.5M468.4 79.2h4.6M483.6 79.2h2.5M526.9 79.2h2.5M147.8 81.3h2.5M152.2 81.3h2.5M158.7 81.3h2.5M412.1 81.3h2.5M418.6 81.3h4.6M431.6 81.3h2.5M448.9 81.3h2.5M457.6 81.3h2.5M468.4 81.3h2.5M124 83.5h2.5M150 83.5h2.5M154.3 83.5h6.8M169.5 83.5h4.6M381.8 83.5h2.5M416.5 83.5h2.5M423 83.5h2.5M448.9 83.5h2.5M457.6 83.5h2.5M468.4 83.5h2.5M505.3 83.5h2.5M518.3 83.5h2.5M169.5 85.7h2.5M403.5 85.7h2.5M459.8 85.7h2.5M468.4 85.7h4.6M490.1 85.7h2.5M520.4 85.7h4.6M147.8 87.8h2.5M169.5 87.8h2.5M230.2 87.8h2.5M418.6 87.8h2.5M470.6 87.8h9M481.4 87.8h2.5M516.1 87.8h2.5M522.6 87.8h2.5M537.8 87.8h2.5M150 90h2.5M154.3 90h2.5M171.7 90h4.6M186.8 90h2.5M405.6 90h2.5M414.3 90h2.5M474.9 90h2.5M479.3 90h2.5M483.6 90h2.5M152.2 92.2h2.5M156.5 92.2h2.5M171.7 92.2h2.5M176 92.2h2.5M420.8 92.2h2.5M466.3 92.2h2.5M470.6 92.2h2.5M477.1 92.2h2.5M483.6 92.2h2.5M535.6 92.2h2.5M466.3 94.3h2.5M156.5 96.5h2.5M173.8 96.5h2.5M464.1 96.5h2.5M474.9 96.5h9M154.3 98.7h4.6M176 98.7h2.5M457.6 98.7h2.5M468.4 98.7h2.5M542.1 98.7h2.5M150 100.8h2.5M154.3 100.8h2.5M464.1 100.8h9M137 103h2.5M154.3 103h2.5M160.8 103h2.5M173.8 103h2.5M459.8 103h9M472.8 103h2.5M173.8 105.2h2.5M457.6 105.2h2.5M466.3 105.2h4.6M143.5 107.3h6.8M152.2 107.3h2.5M173.8 107.3h2.5M180.3 107.3h2.5M464.1 107.3h2.5M152.2 109.5h2.5M169.5 109.5h2.5M466.3 109.5h2.5M470.6 109.5h2.5M137 111.7h2.5M147.8 111.7h2.5M160.8 111.7h2.5M169.5 111.7h2.5M176 111.7h2.5M470.6 111.7h2.5M141.3 113.8h2.5M160.8 113.8h2.5M165.2 113.8h2.5M176 113.8h2.5M468.4 113.8h2.5M474.9 113.8h2.5M167.3 116h2.5M474.9 116h2.5M165.2 118.2h2.5M171.7 118.2h2.5M474.9 118.2h2.5M479.3 118.2h2.5M163 120.3h2.5M167.3 120.3h2.5M169.5 122.5h2.5M472.8 124.7h2.5M152.2 129h2.5M470.6 131.2h2.5M511.8 133.3h2.5M468.4 135.5h2.5M416.5 137.7h2.5M405.6 139.8h2.5M472.8 139.8h2.5M405.6 150.7h2.5M316.8 152.8h2.5M332 152.8h2.5M345 152.8h2.5M349.3 152.8h4.6M358 152.8h2.5M392.6 152.8h6.8M347.1 155h2.5M360.1 155h2.5M373.1 155h4.6M384 155h2.5M392.6 155h2.5M364.5 157.2h2.5M371 157.2h2.5M360.1 159.3h2.5M375.3 159.3h2.5M399.1 172.3h2.5M410 172.3h2.5M386.1 178.8h2.5M377.5 185.3h2.5M572.4 191.8h2.5M559.4 194h2.5M565.9 194h4.6M557.3 196.1h2.5M563.8 196.1h6.8M574.6 196.1h2.5M559.4 198.3h2.5M576.8 198.3h2.5M583.3 198.3h2.5M371 200.5h2.5M381.8 200.5h2.5M570.3 200.5h2.5M574.6 200.5h2.5M583.3 200.5h2.5M228 202.6h2.5M557.3 202.6h2.5M565.9 202.6h2.5M583.3 202.6h4.6M591.9 202.6h2.5M223.7 204.8h2.5M364.5 204.8h2.5M371 204.8h4.6M552.9 204.8h2.5M583.3 204.8h2.5M589.8 204.8h2.5M386.1 207h2.5M550.8 207h2.5M559.4 207h4.6M585.4 207h2.5M371 209.1h2.5M375.3 209.1h4.6M546.4 209.1h2.5M550.8 209.1h2.5M578.9 209.1h2.5M243.2 211.3h2.5M373.1 211.3h2.5M548.6 211.3h2.5M585.4 211.3h2.5M596.3 211.3h2.5M366.6 213.5h2.5M373.1 213.5h2.5M377.5 213.5h2.5M589.8 213.5h2.5M243.2 215.6h2.5M596.3 215.6h2.5M368.8 217.8h2.5M594.1 217.8h4.6M241 220h2.5M377.5 220h2.5M589.8 220h2.5M217.2 222.1h2.5M591.9 222.1h4.6M381.8 224.3h2.5M548.6 224.3h4.6M591.9 224.3h2.5M373.1 226.5h2.5M379.6 226.5h2.5M594.1 226.5h2.5M221.5 228.6h4.6M228 228.6h4.6M604.9 228.6h2.5M544.3 230.8h2.5M234.5 233h2.5M238.8 233h2.5M594.1 233h2.5M236.7 235.1h2.5M589.8 235.1h4.6M238.8 237.3h4.6M587.6 237.3h2.5M591.9 237.3h2.5M219.3 239.5h4.6M221.5 241.6h6.8M232.3 243.8h2.5M219.3 246h2.5M225.8 246h2.5M210.7 250.3h2.5M210.7 252.5h2.5M215 252.5h2.5M223.7 252.5h2.5M215 261.1h2.5M219.3 261.1h2.5"/>
<path stroke="#33b08c" d="M150 51h2.5M154.3 53.2h2.5M134.8 55.3h2.5M128.3 59.7h2.5M167.3 64h2.5M169.5 66.2h2.5M143.5 70.5h2.5M165.2 70.5h2.5M180.3 72.7h2.5M487.9 72.7h2.5M418.6 74.8h2.5M442.4 74.8h2.5M451.1 74.8h2.5M455.4 74.8h2.5M496.6 74.8h2.5M158.7 77h2.5M193.3 77h2.5M418.6 77h2.5M433.8 77h2.5M442.4 77h2.5M451.1 77h2.5M457.6 77h2.5M154.3 79.2h2.5M225.8 79.2h2.5M423 79.2h2.5M435.9 79.2h6.8M446.8 79.2h2.5M451.1 79.2h2.5M457.6 79.2h4.6M160.8 81.3h2.5M165.2 81.3h4.6M442.4 81.3h4.6M451.1 81.3h2.5M459.8 81.3h2.5M479.3 81.3h2.5M152.2 83.5h2.5M433.8 83.5h2.5M455.4 83.5h2.5M461.9 83.5h2.5M466.3 83.5h2.5M526.9 83.5h2.5M152.2 85.7h4.6M158.7 85.7h2.5M163 85.7h2.5M438.1 85.7h2.5M451.1 85.7h2.5M464.1 85.7h2.5M518.3 85.7h2.5M154.3 87.8h2.5M165.2 87.8h4.6M420.8 87.8h2.5M459.8 87.8h4.6M466.3 87.8h2.5M479.3 87.8h2.5M518.3 87.8h2.5M533.4 87.8h2.5M158.7 90h2.5M392.6 90h2.5M529.1 90h2.5M154.3 92.2h2.5M158.7 92.2h2.5M173.8 92.2h2.5M461.9 92.2h4.6M468.4 92.2h2.5M154.3 94.3h4.6M163 94.3h4.6M169.5 94.3h2.5M459.8 94.3h2.5M468.4 94.3h2.5M472.8 94.3h2.5M477.1 94.3h4.6M461.9 96.5h2.5M160.8 98.7h2.5M466.3 98.7h2.5M470.6 98.7h2.5M156.5 100.8h2.5M455.4 100.8h4.6M147.8 103h4.6M158.7 103h2.5M455.4 103h4.6M455.4 105.2h2.5M459.8 105.2h2.5M464.1 105.2h2.5M171.7 107.3h2.5M457.6 107.3h4.6M466.3 107.3h2.5M154.3 109.5h4.6M176 109.5h2.5M154.3 111.7h2.5M158.7 111.7h2.5M163 111.7h2.5M171.7 111.7h4.6M457.6 111.7h2.5M461.9 111.7h2.5M167.3 113.8h2.5M171.7 113.8h2.5M466.3 113.8h2.5M163 116h2.5M470.6 116h2.5M173.8 118.2h2.5M470.6 118.2h2.5M472.8 120.3h2.5M472.8 122.5h2.5M470.6 126.8h6.8M513.9 129h2.5M468.4 131.2h2.5M418.6 144.2h2.5M351.5 148.5h2.5M323.3 150.7h2.5M336.3 150.7h2.5M342.8 150.7h2.5M349.3 150.7h2.5M336.3 152.8h2.5M342.8 152.8h2.5M353.6 152.8h2.5M373.1 152.8h2.5M358 155h2.5M381.8 155h2.5M410 181h2.5M570.3 191.8h2.5M570.3 194h2.5M574.6 194h4.6M576.8 196.1h2.5M555.1 198.3h2.5M563.8 198.3h4.6M572.4 198.3h2.5M238.8 200.5h2.5M552.9 200.5h2.5M557.3 200.5h2.5M561.6 200.5h4.6M572.4 200.5h2.5M581.1 200.5h2.5M375.3 202.6h2.5M559.4 202.6h2.5M568.1 202.6h6.8M578.9 202.6h4.6M550.8 204.8h2.5M557.3 204.8h4.6M563.8 204.8h4.6M570.3 204.8h2.5M581.1 204.8h2.5M585.4 204.8h2.5M591.9 204.8h2.5M364.5 207h2.5M381.8 207h2.5M563.8 207h4.6M581.1 207h2.5M581.1 209.1h2.5M561.6 211.3h2.5M570.3 211.3h2.5M581.1 211.3h4.6M587.6 211.3h2.5M587.6 213.5h2.5M591.9 213.5h2.5M542.1 215.6h2.5M552.9 215.6h2.5M568.1 215.6h2.5M587.6 215.6h2.5M594.1 215.6h2.5M241 217.8h2.5M570.3 217.8h2.5M550.8 220h2.5M217.2 224.3h2.5M217.2 226.5h2.5M548.6 226.5h2.5M552.9 226.5h2.5M589.8 226.5h2.5M234.5 228.6h4.6M548.6 228.6h4.6M555.1 228.6h2.5M219.3 230.8h4.6M225.8 230.8h2.5M232.3 230.8h4.6M587.6 230.8h2.5M232.3 233h2.5M236.7 233h2.5M589.8 233h4.6M234.5 235.1h2.5M238.8 235.1h2.5M230.2 237.3h4.6M236.7 237.3h2.5M589.8 237.3h2.5M591.9 241.6h2.5M223.7 243.8h2.5M228 243.8h2.5M221.5 246h4.6M228 246h2.5M212.8 250.3h2.5M212.8 252.5h2.5M212.8 254.6h2.5M221.5 254.6h2.5M225.8 254.6h2.5M210.7 256.8h2.5M215 256.8h2.5M221.5 256.8h4.6M212.8 261.1h2.5M221.5 261.1h2.5"/>
<path stroke="#3cb786" d="M165.2 61.8h2.5M102.3 66.2h2.5M113.2 66.2h2.5M139.2 66.2h2.5M115.3 72.7h2.5M182.5 72.7h2.5M438.1 77h2.5M453.3 77h2.5M425.1 79.2h4.6M433.8 79.2h2.5M444.6 79.2h2.5M448.9 79.2h2.5M453.3 79.2h2.5M423 81.3h6.8M433.8 81.3h6.8M453.3 81.3h4.6M464.1 81.3h2.5M163 83.5h2.5M420.8 83.5h2.5M425.1 83.5h2.5M431.6 83.5h2.5M438.1 83.5h4.6M446.8 83.5h2.5M451.1 83.5h4.6M459.8 83.5h2.5M520.4 83.5h2.5M160.8 85.7h2.5M165.2 85.7h4.6M418.6 85.7h2.5M440.3 85.7h4.6M448.9 85.7h2.5M464.1 87.8h2.5M468.4 87.8h2.5M160.8 90h4.6M167.3 90h2.5M160.8 94.3h2.5M171.7 94.3h2.5M167.3 96.5h2.5M459.8 96.5h2.5M158.7 98.7h2.5M163 98.7h2.5M169.5 98.7h2.5M173.8 98.7h2.5M459.8 98.7h2.5M464.1 98.7h2.5M158.7 100.8h4.6M167.3 100.8h2.5M173.8 100.8h2.5M171.7 103h2.5M440.3 103h2.5M156.5 105.2h6.8M167.3 105.2h2.5M433.8 105.2h2.5M165.2 107.3h4.6M453.3 107.3h4.6M461.9 107.3h2.5M165.2 109.5h4.6M171.7 109.5h2.5M455.4 109.5h2.5M167.3 111.7h2.5M464.1 111.7h2.5M163 113.8h2.5M457.6 113.8h2.5M464.1 113.8h2.5M165.2 116h2.5M461.9 116h2.5M472.8 116h2.5M470.6 120.3h2.5M474.9 122.5h2.5M474.9 124.7h2.5M470.6 129h2.5M466.3 131.2h2.5M468.4 133.3h2.5M347.1 148.5h2.5M355.8 148.5h2.5M384 148.5h2.5M401.3 148.5h2.5M405.6 148.5h2.5M410 148.5h2.5M316.8 150.7h2.5M325.5 150.7h2.5M334.1 150.7h2.5M340.6 150.7h2.5M347.1 150.7h2.5M351.5 150.7h6.8M397 150.7h4.6M403.5 150.7h2.5M362.3 152.8h4.6M368.8 152.8h2.5M375.3 152.8h4.6M381.8 152.8h11.1M368.8 155h2.5M414.3 172.3h2.5M557.3 198.3h2.5M581.1 198.3h2.5M568.1 200.5h2.5M576.8 200.5h2.5M232.3 202.6h2.5M550.8 202.6h2.5M555.1 202.6h2.5M561.6 202.6h2.5M574.6 202.6h2.5M228 204.8h2.5M241 204.8h2.5M561.6 204.8h2.5M568.1 204.8h2.5M578.9 204.8h2.5M225.8 207h2.5M243.2 207h2.5M548.6 207h2.5M552.9 207h2.5M557.3 207h2.5M568.1 207h2.5M578.9 207h2.5M243.2 209.1h2.5M552.9 209.1h2.5M565.9 209.1h2.5M574.6 209.1h4.6M585.4 209.1h4.6M225.8 211.3h2.5M555.1 211.3h2.5M563.8 211.3h2.5M576.8 211.3h4.6M243.2 213.5h2.5M550.8 213.5h4.6M550.8 215.6h2.5M559.4 215.6h2.5M589.8 215.6h4.6M238.8 217.8h2.5M552.9 217.8h2.5M238.8 222.1h2.5M561.6 222.1h2.5M587.6 222.1h4.6M219.3 224.3h6.8M555.1 224.3h2.5M589.8 224.3h2.5M600.6 224.3h2.5M587.6 226.5h2.5M591.9 226.5h2.5M217.2 228.6h2.5M232.3 228.6h2.5M223.7 230.8h2.5M228 230.8h4.6M589.8 230.8h2.5M225.8 233h6.8M223.7 235.1h2.5M587.6 235.1h2.5M234.5 237.3h2.5M223.7 239.5h2.5M228 239.5h2.5M234.5 239.5h2.5M228 241.6h4.6M230.2 243.8h2.5M230.2 246h2.5M221.5 248.1h2.5M221.5 250.3h2.5M225.8 250.3h4.6M221.5 252.5h2.5M228 252.5h2.5M210.7 254.6h2.5M223.7 261.1h2.5"/>
<path stroke="#48bf80" d="M160.8 55.3h2.5M143.5 57.5h2.5M171.7 61.8h2.5M139.2 68.3h2.5M173.8 68.3h2.5M171.7 70.5h2.5M448.9 77h2.5M431.6 79.2h2.5M163 81.3h2.5M176 81.3h2.5M470.6 81.3h2.5M160.8 83.5h2.5M165.2 83.5h2.5M427.3 83.5h2.5M442.4 83.5h4.6M156.5 85.7h2.5M446.8 85.7h2.5M455.4 85.7h2.5M461.9 85.7h2.5M511.8 85.7h2.5M158.7 87.8h4.6M169.5 90h2.5M163 92.2h2.5M167.3 92.2h2.5M464.1 94.3h2.5M160.8 96.5h2.5M165.2 96.5h2.5M457.6 96.5h2.5M169.5 100.8h4.6M163 103h9M442.4 103h6.8M435.9 105.2h9M451.1 105.2h2.5M160.8 107.3h2.5M446.8 107.3h6.8M160.8 109.5h4.6M173.8 109.5h2.5M451.1 109.5h4.6M457.6 109.5h4.6M156.5 111.7h2.5M165.2 111.7h2.5M455.4 111.7h2.5M150 113.8h2.5M459.8 113.8h2.5M464.1 116h2.5M468.4 118.2h2.5M470.6 122.5h2.5M526.9 124.7h2.5M468.4 126.8h2.5M466.3 129h4.6M464.1 131.2h2.5M466.3 133.3h2.5M325.5 144.2h2.5M334.1 144.2h2.5M349.3 146.3h2.5M355.8 146.3h2.5M345 148.5h2.5M349.3 148.5h2.5M399.1 148.5h2.5M407.8 148.5h2.5M319 150.7h4.6M329.8 150.7h4.6M394.8 150.7h2.5M401.3 150.7h2.5M360.1 152.8h2.5M574.6 198.3h2.5M578.9 198.3h2.5M578.9 200.5h2.5M234.5 202.6h2.5M241 202.6h2.5M552.9 202.6h2.5M576.8 202.6h2.5M230.2 204.8h2.5M234.5 204.8h4.6M555.1 204.8h2.5M232.3 207h2.5M241 207h2.5M555.1 207h2.5M570.3 207h4.6M555.1 209.1h2.5M561.6 209.1h2.5M568.1 209.1h2.5M572.4 209.1h2.5M583.3 209.1h2.5M234.5 211.3h2.5M550.8 211.3h2.5M557.3 211.3h4.6M565.9 211.3h2.5M589.8 211.3h2.5M241 213.5h2.5M379.6 213.5h2.5M555.1 213.5h2.5M572.4 213.5h2.5M585.4 213.5h2.5M565.9 215.6h2.5M570.3 215.6h4.6M557.3 217.8h2.5M561.6 217.8h2.5M587.6 217.8h2.5M591.9 217.8h2.5M217.2 220h2.5M223.7 220h2.5M552.9 220h4.6M563.8 220h2.5M221.5 222.1h2.5M225.8 222.1h2.5M234.5 222.1h2.5M546.4 222.1h2.5M225.8 224.3h2.5M232.3 224.3h2.5M236.7 224.3h2.5M570.3 224.3h2.5M219.3 226.5h2.5M225.8 226.5h2.5M230.2 226.5h2.5M236.7 226.5h2.5M550.8 226.5h2.5M555.1 226.5h2.5M225.8 228.6h2.5M574.6 228.6h2.5M587.6 228.6h2.5M591.9 228.6h2.5M591.9 230.8h2.5M583.3 233h4.6M228 235.1h6.8M585.4 235.1h2.5M228 237.3h2.5M230.2 239.5h4.6M223.7 248.1h6.8M223.7 254.6h2.5"/>
<path stroke="#57c577" d="M152.2 59.7h2.5M141.3 74.8h2.5M163 74.8h2.5M160.8 79.2h2.5M178.2 79.2h2.5M455.4 79.2h2.5M429.5 81.3h2.5M446.8 81.3h2.5M167.3 83.5h2.5M435.9 83.5h2.5M444.6 85.7h2.5M165.2 92.2h2.5M169.5 92.2h2.5M158.7 94.3h2.5M167.3 94.3h2.5M163 96.5h2.5M169.5 96.5h4.6M171.7 98.7h2.5M165.2 100.8h2.5M448.9 103h6.8M163 105.2h4.6M169.5 105.2h4.6M448.9 105.2h2.5M163 107.3h2.5M169.5 107.3h2.5M459.8 111.7h2.5M169.5 113.8h2.5M459.8 116h2.5M466.3 116h4.6M468.4 120.3h2.5M474.9 120.3h2.5M468.4 122.5h2.5M466.3 124.7h6.8M464.1 129h2.5M461.9 133.3h4.6M319 144.2h2.5M329.8 144.2h2.5M329.8 146.3h2.5M347.1 146.3h2.5M403.5 146.3h2.5M321.1 148.5h6.8M332 148.5h6.8M342.8 148.5h2.5M353.6 148.5h2.5M314.6 150.7h2.5M327.6 150.7h2.5M338.5 150.7h2.5M358 150.7h2.5M362.3 150.7h2.5M366.6 150.7h2.5M379.6 150.7h2.5M386.1 150.7h4.6M392.6 150.7h2.5M366.6 152.8h2.5M379.6 152.8h2.5M407.8 165.8h2.5M232.3 204.8h2.5M238.8 204.8h2.5M576.8 204.8h2.5M230.2 207h2.5M574.6 207h4.6M225.8 209.1h2.5M236.7 209.1h6.8M557.3 209.1h4.6M570.3 209.1h2.5M228 211.3h4.6M241 211.3h2.5M552.9 211.3h2.5M568.1 211.3h2.5M572.4 211.3h4.6M594.1 211.3h2.5M225.8 213.5h2.5M234.5 213.5h2.5M238.8 213.5h2.5M559.4 213.5h9M574.6 213.5h2.5M555.1 215.6h4.6M563.8 215.6h2.5M559.4 217.8h2.5M563.8 217.8h2.5M568.1 217.8h2.5M221.5 220h2.5M225.8 220h2.5M238.8 220h2.5M568.1 220h4.6M587.6 220h2.5M219.3 222.1h2.5M236.7 222.1h2.5M559.4 222.1h2.5M563.8 222.1h4.6M228 224.3h2.5M552.9 224.3h2.5M574.6 224.3h4.6M585.4 224.3h4.6M223.7 226.5h2.5M228 226.5h2.5M232.3 226.5h4.6M557.3 226.5h2.5M581.1 226.5h6.8M578.9 228.6h2.5M587.6 233h2.5M225.8 237.3h2.5M225.8 239.5h2.5M232.3 241.6h2.5M225.8 252.5h2.5"/>
<path stroke="#69cd6d" d="M147.8 51h2.5M147.8 57.5h2.5M141.3 72.7h2.5M160.8 74.8h2.5M132.7 79.2h2.5M429.5 79.2h2.5M178.2 83.5h2.5M429.5 83.5h2.5M453.3 85.7h2.5M457.6 85.7h2.5M165.2 90h2.5M158.7 96.5h2.5M165.2 98.7h4.6M163 100.8h2.5M446.8 105.2h2.5M453.3 105.2h2.5M444.6 107.3h2.5M466.3 111.7h2.5M455.4 113.8h2.5M466.3 118.2h2.5M472.8 118.2h2.5M477.1 118.2h2.5M466.3 122.5h2.5M461.9 126.8h2.5M399.1 144.2h4.6M312.5 146.3h2.5M323.3 146.3h2.5M334.1 146.3h2.5M351.5 146.3h2.5M314.6 148.5h2.5M319 148.5h2.5M340.6 148.5h2.5M358 148.5h2.5M364.5 148.5h2.5M360.1 150.7h2.5M364.5 150.7h2.5M371 150.7h9M381.8 150.7h4.6M371 152.8h2.5M390.5 174.5h2.5M563.8 202.6h2.5M234.5 207h4.6M228 209.1h2.5M563.8 209.1h2.5M236.7 211.3h4.6M232.3 215.6h6.8M241 215.6h2.5M548.6 215.6h2.5M223.7 217.8h2.5M228 217.8h2.5M234.5 217.8h4.6M555.1 217.8h2.5M565.9 217.8h2.5M572.4 217.8h2.5M234.5 220h2.5M557.3 220h6.8M565.9 220h2.5M572.4 220h2.5M228 222.1h2.5M557.3 222.1h2.5M568.1 222.1h6.8M596.3 222.1h4.6M230.2 224.3h2.5M557.3 224.3h2.5M563.8 224.3h2.5M568.1 224.3h2.5M221.5 226.5h2.5M539.9 226.5h2.5M583.3 228.6h4.6M589.8 228.6h2.5M578.9 230.8h2.5M585.4 230.8h2.5M225.8 235.1h2.5M225.8 243.8h2.5M223.7 250.3h2.5"/>
<path stroke="#7dd362" d="M132.7 53.2h2.5M132.7 70.5h2.5M152.2 72.7h2.5M130.5 74.8h2.5M444.6 105.2h2.5M156.5 107.3h2.5M461.9 113.8h2.5M461.9 118.2h2.5M466.3 126.8h2.5M405.6 142h2.5M310.3 144.2h2.5M321.1 144.2h2.5M390.5 144.2h2.5M403.5 144.2h2.5M410 144.2h2.5M319 146.3h2.5M327.6 146.3h2.5M345 146.3h2.5M353.6 146.3h2.5M388.3 146.3h2.5M405.6 146.3h2.5M312.5 148.5h2.5M338.5 148.5h2.5M360.1 148.5h4.6M368.8 148.5h2.5M368.8 150.7h2.5M390.5 150.7h2.5M238.8 207h2.5M230.2 209.1h2.5M234.5 209.1h2.5M232.3 211.3h2.5M228 213.5h4.6M236.7 213.5h2.5M568.1 213.5h2.5M225.8 215.6h4.6M561.6 215.6h2.5M230.2 217.8h2.5M550.8 217.8h2.5M232.3 220h2.5M230.2 222.1h4.6M539.9 222.1h2.5M555.1 222.1h2.5M559.4 224.3h4.6M565.9 224.3h2.5M578.9 224.3h2.5M559.4 226.5h2.5M576.8 228.6h2.5M581.1 228.6h2.5M576.8 230.8h2.5M581.1 230.8h4.6"/>
<path stroke="#91d855" d="M143.5 77h2.5M143.5 79.2h2.5M137 98.7h2.5M457.6 116h2.5M464.1 118.2h2.5M464.1 124.7h2.5M457.6 126.8h2.5M464.1 126.8h2.5M459.8 129h2.5M461.9 131.2h2.5M312.5 144.2h4.6M323.3 144.2h2.5M327.6 144.2h2.5M336.3 144.2h2.5M394.8 144.2h2.5M314.6 146.3h2.5M321.1 146.3h2.5M325.5 146.3h2.5M332 146.3h2.5M338.5 146.3h2.5M342.8 146.3h2.5M358 146.3h4.6M371 146.3h4.6M379.6 146.3h2.5M394.8 146.3h2.5M399.1 146.3h4.6M316.8 148.5h2.5M327.6 148.5h4.6M366.6 148.5h2.5M371 148.5h4.6M388.3 148.5h4.6M394.8 148.5h4.6M557.3 213.5h2.5M230.2 215.6h2.5M238.8 215.6h2.5M225.8 217.8h2.5M598.4 217.8h2.5M228 220h4.6M223.7 222.1h2.5M550.8 222.1h2.5M572.4 224.3h2.5M578.9 226.5h2.5"/>
<path stroke="#a7dd47" d="M145.7 74.8h2.5M150 96.5h2.5M152.2 103h2.5M150 111.7h2.5M459.8 118.2h2.5M446.8 124.7h2.5M457.6 124.7h2.5M451.1 126.8h2.5M461.9 129h2.5M407.8 142h2.5M332 144.2h2.5M340.6 144.2h2.5M386.1 144.2h4.6M405.6 144.2h2.5M316.8 146.3h2.5M336.3 146.3h2.5M364.5 146.3h2.5M375.3 146.3h2.5M381.8 146.3h2.5M392.6 146.3h2.5M375.3 148.5h4.6M381.8 148.5h2.5M386.1 148.5h2.5M392.6 148.5h2.5M403.5 148.5h2.5M232.3 209.1h2.5M598.4 209.1h2.5M232.3 213.5h2.5M234.5 224.3h2.5M574.6 226.5h4.6M552.9 228.6h2.5"/>
<path stroke="#bde038" d="M176 83.5h2.5M145.7 109.5h2.5M457.6 120.3h2.5M464.1 120.3h2.5M457.6 122.5h2.5M464.1 122.5h2.5M453.3 124.7h2.5M459.8 124.7h4.6M455.4 126.8h2.5M403.5 142h2.5M410 142h2.5M316.8 144.2h2.5M338.5 144.2h2.5M392.6 144.2h2.5M397 144.2h2.5M407.8 144.2h2.5M362.3 146.3h2.5M366.6 146.3h4.6M377.5 146.3h2.5M386.1 146.3h2.5M397 146.3h2.5M407.8 146.3h4.6M379.6 148.5h2.5M228 207h2.5M583.3 207h2.5M232.3 217.8h2.5M591.9 220h2.5"/>
<path stroke="#d3e32c" d="M171.7 64h2.5M152.2 79.2h2.5M163 87.8h2.5M444.6 124.7h2.5M448.9 124.7h2.5M455.4 124.7h2.5M448.9 126.8h2.5M340.6 146.3h2.5M384 146.3h2.5M390.5 146.3h2.5M570.3 213.5h2.5M236.7 220h2.5"/>
<path stroke="#e9e629" d="M150 77h2.5M156.5 79.2h2.5M167.3 79.2h4.6M160.8 92.2h2.5M457.6 118.2h2.5M466.3 120.3h2.5M446.8 126.8h2.5M453.3 126.8h2.5M459.8 126.8h2.5M552.9 222.1h2.5"/>
</g>
<use href="#outline"/>
</g>
<g transform="translate(0,266.2)" clip-path="url(#frame)">
<g clip-path="url(#land)" fill="none" stroke-width="2.47" shape-rendering="crispEdges">
<path stroke="#541f6c" d="M171.7 64h2.5M150 77h2.5M152.2 79.2h2.5M156.5 79.2h2.5M167.3 79.2h4.6M163 87.8h2.5M160.8 92.2h2.5M457.6 118.2h2.5M466.3 120.3h2.5M444.6 124.7h2.5M448.9 124.7h2.5M453.3 124.7h2.5M446.8 126.8h2.5M453.3 126.8h2.5M459.8 126.8h2.5M410 142h2.5M336.3 146.3h2.5M340.6 146.3h2.5M377.5 146.3h2.5M386.1 146.3h2.5M570.3 213.5h2.5M552.9 222.1h2.5"/>
<path stroke="#552b77" d="M176 83.5h2.5M145.7 109.5h2.5M457.6 122.5h2.5M464.1 122.5h2.5M446.8 124.7h2.5M455.4 124.7h2.5M461.9 124.7h2.5M448.9 126.8h2.5M455.4 126.8h2.5M340.6 144.2h2.5M386.1 144.2h4.6M392.6 144.2h2.5M397 144.2h2.5M407.8 144.2h2.5M366.6 146.3h4.6M381.8 146.3h4.6M390.5 146.3h2.5M407.8 146.3h4.6M377.5 148.5h4.6M228 207h2.5M583.3 207h2.5M232.3 209.1h2.5M232.3 217.8h2.5M591.9 220h2.5"/>
<path stroke="#553581" d="M145.7 74.8h2.5M152.2 103h2.5M459.8 118.2h2.5M457.6 120.3h2.5M464.1 120.3h2.5M457.6 124.7h4.6M451.1 126.8h2.5M457.6 126.8h2.5M461.9 129h2.5M403.5 142h2.5M407.8 142h2.5M316.8 144.2h2.5M338.5 144.2h2.5M405.6 144.2h2.5M314.6 146.3h2.5M360.1 146.3h6.8M371 146.3h2.5M392.6 146.3h2.5M397 146.3h2.5M401.3 146.3h2.5M327.6 148.5h2.5M375.3 148.5h2.5M381.8 148.5h2.5M598.4 209.1h2.5M236.7 220h2.5M574.6 226.5h2.5M552.9 228.6h2.5"/>
<path stroke="#534087" d="M143.5 77h2.5M150 96.5h2.5M137 98.7h2.5M150 111.7h2.5M457.6 116h2.5M464.1 118.2h2.5M464.1 124.7h2.5M464.1 126.8h2.5M459.8 129h2.5M461.9 131.2h2.5M312.5 144.2h2.5M323.3 144.2h2.5M332 144.2h2.5M394.8 144.2h2.5M316.8 146.3h2.5M332 146.3h2.5M338.5 146.3h2.5M342.8 146.3h4.6M358 146.3h2.5M373.1 146.3h4.6M394.8 146.3h2.5M405.6 146.3h2.5M360.1 148.5h2.5M371 148.5h4.6M386.1 148.5h9M403.5 148.5h2.5M228 213.5h2.5M232.3 213.5h2.5M236.7 213.5h2.5M238.8 215.6h2.5M225.8 217.8h2.5M550.8 217.8h2.5M598.4 217.8h2.5M228 220h4.6M223.7 222.1h2.5M232.3 222.1h2.5M550.8 222.1h2.5M234.5 224.3h2.5M572.4 224.3h2.5M576.8 226.5h4.6M581.1 228.6h2.5M583.3 230.8h2.5"/>
<path stroke="#504b8d" d="M132.7 53.2h2.5M130.5 74.8h2.5M143.5 79.2h2.5M156.5 107.3h2.5M444.6 107.3h2.5M461.9 113.8h2.5M472.8 118.2h2.5M314.6 144.2h2.5M336.3 144.2h2.5M390.5 144.2h2.5M403.5 144.2h2.5M410 144.2h2.5M319 146.3h4.6M325.5 146.3h4.6M379.6 146.3h2.5M388.3 146.3h2.5M399.1 146.3h2.5M316.8 148.5h2.5M329.8 148.5h2.5M338.5 148.5h2.5M364.5 148.5h4.6M394.8 148.5h4.6M384 150.7h2.5M238.8 207h2.5M230.2 209.1h2.5M234.5 209.1h2.5M230.2 213.5h2.5M557.3 213.5h2.5M225.8 215.6h6.8M236.7 215.6h2.5M548.6 215.6h2.5M230.2 217.8h2.5M561.6 220h2.5M230.2 222.1h2.5M555.1 222.1h2.5M559.4 224.3h2.5M565.9 224.3h2.5M559.4 226.5h2.5M576.8 228.6h2.5M585.4 228.6h2.5M576.8 230.8h2.5M581.1 230.8h2.5M225.8 235.1h2.5"/>
<path stroke="#4c5490" d="M132.7 70.5h2.5M141.3 72.7h2.5M152.2 72.7h2.5M160.8 74.8h2.5M132.7 79.2h2.5M178.2 79.2h2.5M429.5 83.5h2.5M457.6 85.7h2.5M167.3 98.7h2.5M448.9 103h2.5M444.6 105.2h4.6M453.3 105.2h2.5M455.4 113.8h2.5M461.9 118.2h2.5M466.3 118.2h2.5M477.1 118.2h2.5M468.4 122.5h2.5M461.9 126.8h2.5M466.3 126.8h2.5M461.9 133.3h2.5M405.6 142h2.5M310.3 144.2h2.5M321.1 144.2h2.5M327.6 144.2h2.5M399.1 144.2h4.6M323.3 146.3h2.5M334.1 146.3h2.5M353.6 146.3h2.5M312.5 148.5h4.6M340.6 148.5h2.5M358 148.5h2.5M362.3 148.5h2.5M368.8 148.5h2.5M360.1 150.7h2.5M364.5 150.7h2.5M368.8 150.7h2.5M373.1 150.7h6.8M381.8 150.7h2.5M390.5 150.7h2.5M390.5 174.5h2.5M234.5 207h4.6M228 209.1h2.5M563.8 209.1h2.5M570.3 209.1h2.5M230.2 211.3h4.6M238.8 211.3h2.5M568.1 213.5h2.5M234.5 215.6h2.5M241 215.6h2.5M561.6 215.6h2.5M223.7 217.8h2.5M234.5 217.8h4.6M555.1 217.8h2.5M565.9 217.8h4.6M572.4 217.8h2.5M225.8 220h2.5M232.3 220h4.6M238.8 220h2.5M557.3 220h4.6M565.9 220h2.5M228 222.1h2.5M236.7 222.1h2.5M539.9 222.1h2.5M570.3 222.1h4.6M596.3 222.1h2.5M228 224.3h2.5M561.6 224.3h2.5M568.1 224.3h2.5M574.6 224.3h6.8M221.5 226.5h2.5M581.1 226.5h2.5M583.3 228.6h2.5M589.8 228.6h2.5M585.4 230.8h2.5M587.6 233h2.5"/>
<path stroke="#495e93" d="M147.8 51h2.5M147.8 57.5h2.5M160.8 79.2h2.5M429.5 79.2h2.5M464.1 81.3h2.5M178.2 83.5h2.5M427.3 83.5h2.5M435.9 83.5h2.5M444.6 83.5h2.5M444.6 85.7h2.5M461.9 85.7h2.5M165.2 90h2.5M165.2 92.2h6.8M160.8 96.5h4.6M165.2 98.7h2.5M171.7 98.7h2.5M163 100.8h2.5M165.2 103h2.5M451.1 103h2.5M163 105.2h4.6M171.7 105.2h2.5M448.9 105.2h2.5M160.8 107.3h4.6M160.8 109.5h2.5M165.2 111.7h2.5M455.4 111.7h2.5M466.3 111.7h2.5M150 113.8h2.5M169.5 113.8h2.5M464.1 113.8h2.5M459.8 116h2.5M468.4 118.2h2.5M466.3 122.5h2.5M468.4 124.7h2.5M526.9 124.7h2.5M464.1 129h2.5M464.1 131.2h2.5M319 144.2h2.5M329.8 144.2h2.5M312.5 146.3h2.5M329.8 146.3h2.5M347.1 146.3h2.5M403.5 146.3h2.5M319 148.5h9M342.8 148.5h4.6M349.3 148.5h2.5M353.6 148.5h2.5M407.8 148.5h2.5M319 150.7h2.5M327.6 150.7h2.5M338.5 150.7h2.5M358 150.7h2.5M371 150.7h2.5M386.1 150.7h2.5M366.6 152.8h2.5M371 152.8h2.5M563.8 202.6h2.5M576.8 202.6h2.5M238.8 204.8h2.5M230.2 207h4.6M241 207h2.5M238.8 209.1h4.6M552.9 209.1h9M572.4 209.1h2.5M228 211.3h2.5M236.7 211.3h2.5M241 211.3h2.5M552.9 211.3h2.5M568.1 211.3h2.5M572.4 211.3h4.6M594.1 211.3h2.5M225.8 213.5h2.5M559.4 213.5h4.6M565.9 213.5h2.5M574.6 213.5h2.5M232.3 215.6h2.5M555.1 215.6h4.6M563.8 215.6h2.5M228 217.8h2.5M561.6 217.8h2.5M221.5 220h2.5M563.8 220h2.5M570.3 220h4.6M587.6 220h2.5M219.3 222.1h2.5M234.5 222.1h2.5M557.3 222.1h4.6M563.8 222.1h6.8M598.4 222.1h2.5M230.2 224.3h2.5M552.9 224.3h2.5M557.3 224.3h2.5M563.8 224.3h2.5M570.3 224.3h2.5M223.7 226.5h2.5M232.3 226.5h4.6M539.9 226.5h2.5M557.3 226.5h2.5M583.3 226.5h4.6M578.9 228.6h2.5M578.9 230.8h2.5M583.3 233h2.5M232.3 235.1h2.5M225.8 239.5h2.5M225.8 243.8h2.5M223.7 250.3h2.5M225.8 252.5h2.5"/>
<path stroke="#446795" d="M160.8 55.3h2.5M143.5 57.5h2.5M171.7 61.8h2.5M139.2 68.3h2.5M173.8 68.3h2.5M171.7 70.5h2.5M141.3 74.8h2.5M163 74.8h2.5M448.9 77h2.5M431.6 79.2h4.6M455.4 79.2h2.5M163 81.3h2.5M176 81.3h2.5M427.3 81.3h4.6M433.8 81.3h2.5M438.1 81.3h2.5M446.8 81.3h2.5M470.6 81.3h2.5M165.2 83.5h4.6M431.6 83.5h2.5M438.1 83.5h4.6M453.3 83.5h2.5M156.5 85.7h2.5M165.2 85.7h2.5M446.8 85.7h4.6M453.3 85.7h4.6M511.8 85.7h2.5M158.7 87.8h4.6M464.1 87.8h2.5M468.4 87.8h2.5M163 90h2.5M169.5 90h2.5M158.7 94.3h2.5M167.3 94.3h2.5M158.7 96.5h2.5M165.2 96.5h2.5M169.5 96.5h4.6M457.6 96.5h2.5M158.7 98.7h2.5M158.7 100.8h2.5M165.2 100.8h2.5M169.5 100.8h6.8M163 103h2.5M167.3 103h4.6M444.6 103h4.6M453.3 103h2.5M169.5 105.2h2.5M442.4 105.2h2.5M451.1 105.2h2.5M165.2 107.3h2.5M169.5 107.3h2.5M446.8 107.3h6.8M455.4 107.3h2.5M163 109.5h2.5M167.3 109.5h2.5M451.1 109.5h4.6M459.8 109.5h2.5M167.3 111.7h2.5M459.8 111.7h2.5M459.8 113.8h2.5M466.3 116h4.6M468.4 120.3h2.5M474.9 120.3h2.5M466.3 124.7h2.5M470.6 124.7h2.5M468.4 126.8h2.5M466.3 129h4.6M464.1 133.3h4.6M325.5 144.2h2.5M334.1 144.2h2.5M349.3 146.3h4.6M355.8 146.3h2.5M332 148.5h6.8M410 148.5h2.5M314.6 150.7h2.5M325.5 150.7h2.5M329.8 150.7h2.5M351.5 150.7h2.5M362.3 150.7h2.5M366.6 150.7h2.5M379.6 150.7h2.5M388.3 150.7h2.5M392.6 150.7h2.5M397 150.7h2.5M375.3 152.8h2.5M379.6 152.8h2.5M384 152.8h2.5M407.8 165.8h2.5M557.3 198.3h2.5M578.9 198.3h2.5M578.9 200.5h2.5M241 202.6h2.5M552.9 202.6h2.5M228 204.8h6.8M236.7 204.8h2.5M555.1 204.8h2.5M576.8 204.8h4.6M555.1 207h4.6M572.4 207h6.8M225.8 209.1h2.5M236.7 209.1h2.5M583.3 209.1h2.5M234.5 211.3h2.5M555.1 211.3h6.8M563.8 211.3h4.6M578.9 211.3h4.6M234.5 213.5h2.5M238.8 213.5h4.6M379.6 213.5h2.5M555.1 213.5h2.5M585.4 213.5h2.5M550.8 215.6h2.5M565.9 215.6h2.5M557.3 217.8h4.6M563.8 217.8h2.5M587.6 217.8h2.5M552.9 220h4.6M568.1 220h2.5M221.5 222.1h2.5M546.4 222.1h2.5M232.3 224.3h2.5M236.7 224.3h2.5M585.4 224.3h4.6M228 226.5h2.5M555.1 226.5h2.5M225.8 228.6h2.5M574.6 228.6h2.5M591.9 228.6h2.5M223.7 230.8h2.5M591.9 230.8h2.5M228 235.1h2.5M225.8 237.3h4.6M232.3 239.5h2.5M230.2 241.6h2.5M225.8 248.1h4.6"/>
<path stroke="#407096" d="M152.2 59.7h2.5M165.2 61.8h2.5M167.3 64h2.5M113.2 66.2h2.5M139.2 66.2h2.5M143.5 70.5h2.5M115.3 72.7h2.5M182.5 72.7h2.5M418.6 77h2.5M438.1 77h2.5M453.3 77h2.5M225.8 79.2h2.5M427.3 79.2h2.5M448.9 79.2h2.5M423 81.3h2.5M453.3 81.3h4.6M479.3 81.3h2.5M160.8 83.5h2.5M420.8 83.5h2.5M425.1 83.5h2.5M433.8 83.5h2.5M442.4 83.5h2.5M160.8 85.7h2.5M167.3 85.7h2.5M418.6 85.7h2.5M438.1 85.7h6.8M160.8 90h2.5M167.3 90h2.5M163 92.2h2.5M160.8 94.3h2.5M165.2 94.3h2.5M171.7 94.3h2.5M464.1 94.3h2.5M468.4 94.3h2.5M163 98.7h2.5M169.5 98.7h2.5M173.8 98.7h2.5M459.8 98.7h2.5M464.1 98.7h2.5M160.8 100.8h2.5M455.4 100.8h4.6M171.7 103h2.5M440.3 103h4.6M156.5 105.2h4.6M167.3 105.2h2.5M433.8 105.2h9M464.1 105.2h2.5M461.9 107.3h2.5M165.2 109.5h2.5M171.7 109.5h4.6M457.6 109.5h2.5M156.5 111.7h2.5M171.7 111.7h2.5M163 113.8h2.5M457.6 113.8h2.5M163 116h4.6M461.9 116h4.6M470.6 120.3h2.5M470.6 122.5h2.5M474.9 122.5h2.5M152.2 129h2.5M468.4 133.3h2.5M355.8 148.5h2.5M399.1 148.5h2.5M405.6 148.5h2.5M321.1 150.7h2.5M332 150.7h6.8M340.6 150.7h2.5M347.1 150.7h2.5M353.6 150.7h4.6M394.8 150.7h2.5M401.3 150.7h2.5M353.6 152.8h2.5M360.1 152.8h6.8M377.5 152.8h2.5M381.8 152.8h2.5M386.1 152.8h4.6M414.3 172.3h2.5M581.1 198.3h2.5M568.1 200.5h2.5M576.8 200.5h2.5M581.1 200.5h2.5M232.3 202.6h4.6M550.8 202.6h2.5M555.1 202.6h2.5M574.6 202.6h2.5M234.5 204.8h2.5M241 204.8h2.5M568.1 204.8h2.5M591.9 204.8h2.5M225.8 207h2.5M548.6 207h2.5M552.9 207h2.5M563.8 207h2.5M570.3 207h2.5M578.9 207h2.5M243.2 209.1h2.5M561.6 209.1h2.5M568.1 209.1h2.5M576.8 209.1h2.5M585.4 209.1h2.5M225.8 211.3h2.5M550.8 211.3h2.5M576.8 211.3h2.5M589.8 211.3h2.5M243.2 213.5h2.5M550.8 213.5h4.6M563.8 213.5h2.5M572.4 213.5h2.5M552.9 215.6h2.5M591.9 215.6h2.5M238.8 217.8h2.5M552.9 217.8h2.5M217.2 220h2.5M223.7 220h2.5M225.8 222.1h2.5M589.8 222.1h2.5M223.7 224.3h4.6M589.8 224.3h2.5M219.3 226.5h2.5M225.8 226.5h2.5M230.2 226.5h2.5M236.7 226.5h2.5M550.8 226.5h2.5M589.8 226.5h2.5M594.1 226.5h2.5M217.2 228.6h2.5M587.6 228.6h2.5M230.2 230.8h2.5M589.8 230.8h2.5M225.8 233h4.6M585.4 233h2.5M223.7 235.1h2.5M230.2 235.1h2.5M238.8 235.1h2.5M585.4 235.1h4.6M234.5 237.3h2.5M223.7 239.5h2.5M228 239.5h4.6M234.5 239.5h2.5M228 241.6h2.5M232.3 241.6h2.5M221.5 246h2.5M230.2 246h2.5M221.5 248.1h4.6M221.5 250.3h2.5M225.8 250.3h2.5M221.5 252.5h2.5M228 252.5h2.5M223.7 254.6h2.5M221.5 261.1h4.6"/>
<path stroke="#3d7896" d="M150 51h2.5M154.3 53.2h2.5M134.8 55.3h2.5M113.2 59.7h2.5M126.2 59.7h4.6M102.3 66.2h2.5M479.3 66.2h2.5M165.2 70.5h2.5M180.3 72.7h2.5M468.4 72.7h2.5M474.9 72.7h2.5M487.9 72.7h2.5M451.1 74.8h2.5M455.4 74.8h2.5M414.3 77h2.5M433.8 77h2.5M440.3 77h4.6M451.1 77h2.5M455.4 77h2.5M472.8 77h2.5M189 79.2h2.5M414.3 79.2h2.5M423 79.2h4.6M440.3 79.2h9M453.3 79.2h2.5M457.6 79.2h2.5M160.8 81.3h2.5M165.2 81.3h2.5M412.1 81.3h2.5M425.1 81.3h2.5M435.9 81.3h2.5M444.6 81.3h2.5M451.1 81.3h2.5M459.8 81.3h2.5M124 83.5h2.5M150 83.5h4.6M158.7 83.5h2.5M163 83.5h2.5M446.8 83.5h2.5M451.1 83.5h2.5M455.4 83.5h2.5M459.8 83.5h4.6M466.3 83.5h2.5M520.4 83.5h2.5M152.2 85.7h4.6M163 85.7h2.5M169.5 85.7h2.5M451.1 85.7h2.5M468.4 85.7h2.5M154.3 87.8h2.5M165.2 87.8h2.5M420.8 87.8h2.5M459.8 87.8h2.5M466.3 87.8h2.5M479.3 87.8h2.5M518.3 87.8h2.5M533.4 87.8h2.5M158.7 90h2.5M414.3 90h2.5M474.9 90h2.5M158.7 92.2h2.5M173.8 92.2h2.5M461.9 92.2h2.5M466.3 92.2h2.5M156.5 94.3h2.5M169.5 94.3h2.5M459.8 94.3h2.5M472.8 94.3h2.5M477.1 94.3h4.6M167.3 96.5h2.5M173.8 96.5h2.5M474.9 96.5h2.5M481.4 96.5h2.5M160.8 98.7h2.5M457.6 98.7h2.5M466.3 98.7h2.5M470.6 98.7h2.5M167.3 100.8h2.5M468.4 100.8h2.5M147.8 103h4.6M158.7 103h2.5M173.8 103h2.5M464.1 103h4.6M472.8 103h2.5M160.8 105.2h2.5M459.8 105.2h2.5M468.4 105.2h2.5M143.5 107.3h2.5M147.8 107.3h2.5M167.3 107.3h2.5M173.8 107.3h2.5M453.3 107.3h2.5M457.6 107.3h4.6M154.3 109.5h4.6M455.4 109.5h2.5M466.3 109.5h2.5M154.3 111.7h2.5M158.7 111.7h2.5M163 111.7h2.5M169.5 111.7h2.5M461.9 111.7h4.6M470.6 111.7h2.5M165.2 113.8h2.5M171.7 113.8h2.5M468.4 113.8h2.5M474.9 113.8h2.5M472.8 116h2.5M173.8 118.2h2.5M470.6 118.2h2.5M472.8 122.5h2.5M472.8 124.7h4.6M470.6 126.8h2.5M474.9 126.8h2.5M470.6 129h2.5M513.9 129h2.5M466.3 131.2h4.6M418.6 144.2h2.5M384 148.5h2.5M401.3 148.5h2.5M316.8 150.7h2.5M342.8 150.7h2.5M349.3 150.7h2.5M399.1 150.7h2.5M403.5 150.7h2.5M336.3 152.8h2.5M368.8 152.8h2.5M373.1 152.8h2.5M390.5 152.8h2.5M358 155h2.5M381.8 155h2.5M410 181h2.5M570.3 194h2.5M574.6 194h4.6M559.4 198.3h2.5M572.4 198.3h4.6M238.8 200.5h2.5M557.3 200.5h2.5M561.6 200.5h2.5M559.4 202.6h4.6M570.3 202.6h2.5M583.3 202.6h2.5M223.7 204.8h2.5M371 204.8h2.5M557.3 204.8h9M570.3 204.8h2.5M581.1 204.8h2.5M585.4 204.8h2.5M243.2 207h2.5M364.5 207h2.5M381.8 207h2.5M565.9 207h4.6M377.5 209.1h2.5M565.9 209.1h2.5M578.9 209.1h2.5M587.6 209.1h2.5M243.2 211.3h2.5M570.3 211.3h2.5M587.6 211.3h2.5M377.5 213.5h2.5M591.9 213.5h2.5M243.2 215.6h2.5M542.1 215.6h2.5M559.4 215.6h2.5M570.3 215.6h4.6M589.8 215.6h2.5M594.1 215.6h2.5M241 217.8h2.5M570.3 217.8h2.5M591.9 217.8h2.5M550.8 220h2.5M238.8 222.1h2.5M561.6 222.1h2.5M587.6 222.1h2.5M591.9 222.1h2.5M219.3 224.3h4.6M600.6 224.3h2.5M548.6 226.5h2.5M552.9 226.5h2.5M587.6 226.5h2.5M591.9 226.5h2.5M221.5 228.6h2.5M232.3 228.6h2.5M548.6 228.6h4.6M604.9 228.6h2.5M219.3 230.8h4.6M228 230.8h2.5M230.2 233h4.6M236.7 233h2.5M589.8 233h4.6M234.5 235.1h2.5M230.2 237.3h4.6M238.8 237.3h2.5M589.8 237.3h2.5M591.9 241.6h2.5M230.2 243.8h4.6M223.7 246h4.6M228 250.3h2.5M210.7 252.5h4.6M210.7 254.6h4.6M225.8 254.6h2.5M210.7 256.8h2.5M215 256.8h2.5M212.8 261.1h2.5"/>
<path stroke="#398096" d="M121.8 51h2.5M121.8 57.5h2.5M137 59.7h2.5M455.4 64h2.5M169.5 66.2h2.5M455.4 66.2h2.5M470.6 66.2h2.5M472.8 70.5h2.5M121.8 72.7h2.5M165.2 72.7h2.5M448.9 72.7h2.5M459.8 72.7h2.5M472.8 72.7h2.5M477.1 72.7h2.5M403.5 74.8h2.5M418.6 74.8h2.5M433.8 74.8h2.5M442.4 74.8h2.5M446.8 74.8h4.6M496.6 74.8h2.5M126.2 77h2.5M158.7 77h2.5M193.3 77h2.5M427.3 77h2.5M431.6 77h2.5M444.6 77h2.5M457.6 77h2.5M147.8 79.2h2.5M154.3 79.2h2.5M418.6 79.2h2.5M435.9 79.2h4.6M451.1 79.2h2.5M459.8 79.2h2.5M468.4 79.2h4.6M483.6 79.2h2.5M487.9 79.2h2.5M526.9 79.2h2.5M152.2 81.3h2.5M158.7 81.3h2.5M167.3 81.3h2.5M431.6 81.3h2.5M442.4 81.3h2.5M448.9 81.3h2.5M457.6 81.3h2.5M461.9 81.3h2.5M466.3 81.3h4.6M154.3 83.5h2.5M169.5 83.5h4.6M416.5 83.5h2.5M423 83.5h2.5M457.6 83.5h2.5M468.4 83.5h2.5M158.7 85.7h2.5M403.5 85.7h2.5M414.3 85.7h2.5M464.1 85.7h2.5M470.6 85.7h2.5M490.1 85.7h2.5M518.3 85.7h2.5M522.6 85.7h2.5M167.3 87.8h4.6M418.6 87.8h2.5M461.9 87.8h2.5M470.6 87.8h9M481.4 87.8h2.5M509.6 87.8h2.5M522.6 87.8h4.6M154.3 90h2.5M173.8 90h2.5M392.6 90h2.5M420.8 90h2.5M479.3 90h2.5M483.6 90h4.6M529.1 90h2.5M539.9 90h2.5M152.2 92.2h6.8M176 92.2h2.5M420.8 92.2h2.5M464.1 92.2h2.5M468.4 92.2h2.5M477.1 92.2h2.5M535.6 92.2h2.5M154.3 94.3h2.5M163 94.3h2.5M466.3 94.3h2.5M470.6 94.3h2.5M537.8 94.3h2.5M154.3 96.5h4.6M459.8 96.5h4.6M479.3 96.5h2.5M143.5 98.7h2.5M156.5 98.7h2.5M176 98.7h2.5M468.4 98.7h2.5M542.1 98.7h2.5M154.3 100.8h4.6M464.1 100.8h4.6M137 103h2.5M160.8 103h2.5M455.4 103h9M455.4 105.2h4.6M145.7 107.3h2.5M152.2 107.3h2.5M158.7 107.3h2.5M171.7 107.3h2.5M180.3 107.3h2.5M332 107.3h2.5M466.3 107.3h2.5M139.2 109.5h2.5M147.8 109.5h2.5M152.2 109.5h2.5M169.5 109.5h2.5M176 109.5h2.5M470.6 109.5h2.5M477.1 109.5h2.5M160.8 111.7h2.5M173.8 111.7h2.5M329.8 111.7h2.5M457.6 111.7h2.5M141.3 113.8h2.5M160.8 113.8h2.5M167.3 113.8h2.5M176 113.8h2.5M466.3 113.8h2.5M167.3 116h2.5M479.3 118.2h2.5M167.3 120.3h2.5M472.8 120.3h2.5M147.8 122.5h2.5M442.4 122.5h2.5M156.5 126.8h2.5M472.8 126.8h2.5M511.8 133.3h2.5M416.5 137.7h2.5M405.6 139.8h2.5M472.8 139.8h2.5M416.5 142h2.5M347.1 148.5h2.5M351.5 148.5h2.5M323.3 150.7h2.5M405.6 150.7h2.5M316.8 152.8h2.5M332 152.8h2.5M342.8 152.8h2.5M347.1 152.8h6.8M358 152.8h2.5M392.6 152.8h6.8M360.1 155h2.5M368.8 155h2.5M384 155h2.5M392.6 155h2.5M371 157.2h2.5M360.1 159.3h2.5M384 159.3h2.5M399.1 172.3h2.5M412.1 172.3h2.5M570.3 191.8h2.5M386.1 194h2.5M559.4 194h2.5M565.9 194h2.5M563.8 196.1h6.8M574.6 196.1h4.6M373.1 198.3h2.5M379.6 198.3h2.5M555.1 198.3h2.5M563.8 198.3h6.8M576.8 198.3h2.5M236.7 200.5h2.5M371 200.5h2.5M381.8 200.5h2.5M552.9 200.5h2.5M563.8 200.5h4.6M570.3 200.5h6.8M583.3 200.5h2.5M591.9 200.5h2.5M228 202.6h2.5M375.3 202.6h2.5M557.3 202.6h2.5M568.1 202.6h2.5M572.4 202.6h2.5M578.9 202.6h4.6M591.9 202.6h2.5M364.5 204.8h2.5M373.1 204.8h2.5M550.8 204.8h4.6M565.9 204.8h2.5M583.3 204.8h2.5M386.1 207h2.5M559.4 207h4.6M581.1 207h2.5M585.4 207h2.5M574.6 209.1h2.5M581.1 209.1h2.5M373.1 211.3h2.5M561.6 211.3h2.5M583.3 211.3h4.6M366.6 213.5h2.5M373.1 213.5h2.5M587.6 213.5h4.6M379.6 215.6h2.5M568.1 215.6h2.5M587.6 215.6h2.5M596.3 217.8h2.5M241 220h2.5M377.5 220h2.5M589.8 220h2.5M217.2 222.1h2.5M594.1 222.1h2.5M217.2 224.3h2.5M381.8 224.3h2.5M548.6 224.3h2.5M555.1 224.3h2.5M591.9 224.3h2.5M217.2 226.5h2.5M223.7 228.6h2.5M234.5 228.6h4.6M555.1 228.6h2.5M225.8 230.8h2.5M232.3 230.8h4.6M587.6 230.8h2.5M234.5 233h2.5M238.8 233h2.5M594.1 233h4.6M236.7 235.1h2.5M589.8 235.1h4.6M223.7 237.3h2.5M236.7 237.3h2.5M241 237.3h2.5M591.9 237.3h2.5M221.5 239.5h2.5M594.1 239.5h2.5M223.7 241.6h2.5M223.7 243.8h2.5M228 243.8h2.5M219.3 246h2.5M228 246h2.5M212.8 250.3h2.5M219.3 250.3h2.5M223.7 252.5h2.5M221.5 254.6h2.5M221.5 256.8h4.6M215 259h2.5M219.3 259h2.5M215 261.1h2.5M219.3 261.1h2.5"/>
<path stroke="#368896" d="M145.7 53.2h2.5M455.4 55.3h2.5M163 57.5h2.5M167.3 57.5h2.5M399.1 57.5h2.5M412.1 57.5h2.5M453.3 57.5h2.5M119.7 61.8h2.5M102.3 64h2.5M481.4 64h4.6M173.8 66.2h2.5M457.6 66.2h2.5M461.9 66.2h2.5M156.5 68.3h2.5M180.3 68.3h2.5M459.8 68.3h2.5M124 70.5h2.5M147.8 70.5h2.5M407.8 70.5h2.5M440.3 70.5h2.5M446.8 70.5h2.5M451.1 70.5h11.1M464.1 70.5h2.5M397 72.7h2.5M423 72.7h2.5M427.3 72.7h2.5M431.6 72.7h2.5M435.9 72.7h2.5M442.4 72.7h4.6M451.1 72.7h9M464.1 72.7h2.5M481.4 72.7h2.5M485.8 72.7h2.5M423 74.8h2.5M427.3 74.8h4.6M435.9 74.8h2.5M440.3 74.8h2.5M457.6 74.8h2.5M461.9 74.8h2.5M470.6 74.8h2.5M388.3 77h2.5M410 77h2.5M416.5 77h2.5M420.8 77h6.8M429.5 77h2.5M435.9 77h2.5M446.8 77h2.5M461.9 77h2.5M466.3 77h2.5M483.6 77h2.5M503.1 77h2.5M150 79.2h2.5M158.7 79.2h2.5M163 79.2h2.5M390.5 79.2h2.5M394.8 79.2h2.5M410 79.2h2.5M464.1 79.2h4.6M474.9 79.2h4.6M481.4 79.2h2.5M490.1 79.2h2.5M494.4 79.2h2.5M498.8 79.2h2.5M522.6 79.2h4.6M147.8 81.3h2.5M156.5 81.3h2.5M405.6 81.3h2.5M414.3 81.3h2.5M440.3 81.3h2.5M472.8 81.3h2.5M490.1 81.3h2.5M496.6 81.3h2.5M526.9 81.3h4.6M539.9 81.3h2.5M145.7 83.5h2.5M156.5 83.5h2.5M464.1 83.5h2.5M472.8 83.5h2.5M479.3 83.5h2.5M485.8 83.5h2.5M505.3 83.5h4.6M511.8 83.5h4.6M518.3 83.5h2.5M522.6 83.5h2.5M526.9 83.5h4.6M134.8 85.7h2.5M143.5 85.7h2.5M410 85.7h4.6M416.5 85.7h2.5M420.8 85.7h2.5M459.8 85.7h2.5M466.3 85.7h2.5M477.1 85.7h2.5M481.4 85.7h2.5M485.8 85.7h2.5M509.6 85.7h2.5M520.4 85.7h2.5M524.8 85.7h2.5M529.1 85.7h2.5M533.4 85.7h2.5M537.8 85.7h2.5M130.5 87.8h2.5M147.8 87.8h2.5M156.5 87.8h2.5M171.7 87.8h2.5M230.2 87.8h2.5M390.5 87.8h2.5M399.1 87.8h2.5M405.6 87.8h2.5M412.1 87.8h6.8M516.1 87.8h2.5M526.9 87.8h2.5M535.6 87.8h2.5M150 90h4.6M156.5 90h2.5M171.7 90h2.5M186.8 90h2.5M399.1 90h2.5M405.6 90h2.5M410 90h4.6M533.4 90h2.5M552.9 90h2.5M150 92.2h2.5M171.7 92.2h2.5M405.6 92.2h2.5M470.6 92.2h2.5M483.6 92.2h4.6M537.8 92.2h2.5M381.8 94.3h2.5M474.9 94.3h2.5M485.8 94.3h2.5M176 96.5h2.5M464.1 96.5h4.6M470.6 96.5h4.6M477.1 96.5h2.5M483.6 96.5h2.5M533.4 96.5h2.5M537.8 96.5h2.5M145.7 98.7h2.5M150 98.7h2.5M154.3 98.7h2.5M461.9 98.7h2.5M474.9 98.7h2.5M150 100.8h2.5M176 100.8h2.5M459.8 100.8h2.5M470.6 100.8h4.6M154.3 103h4.6M173.8 105.2h4.6M336.3 105.2h4.6M466.3 105.2h2.5M150 107.3h2.5M176 107.3h2.5M464.1 107.3h2.5M150 109.5h2.5M158.7 109.5h2.5M334.1 109.5h2.5M338.5 109.5h2.5M464.1 109.5h2.5M137 111.7h4.6M147.8 111.7h2.5M176 111.7h2.5M472.8 111.7h2.5M139.2 113.8h2.5M152.2 113.8h4.6M158.7 113.8h2.5M342.8 113.8h2.5M470.6 113.8h2.5M479.3 113.8h2.5M143.5 116h2.5M169.5 116h4.6M470.6 116h2.5M474.9 116h4.6M154.3 118.2h4.6M160.8 118.2h2.5M165.2 118.2h4.6M171.7 118.2h2.5M176 118.2h2.5M325.5 118.2h2.5M474.9 118.2h2.5M156.5 120.3h2.5M160.8 120.3h4.6M169.5 122.5h2.5M154.3 124.7h2.5M442.4 124.7h2.5M147.8 126.8h2.5M167.3 126.8h2.5M472.8 129h2.5M470.6 131.2h2.5M470.6 133.3h2.5M468.4 135.5h2.5M407.8 137.7h2.5M407.8 139.8h2.5M414.3 139.8h4.6M418.6 142h2.5M414.3 146.3h2.5M234.5 150.7h2.5M345 150.7h2.5M321.1 152.8h2.5M345 152.8h2.5M345 155h6.8M366.6 155h2.5M373.1 155h4.6M379.6 155h2.5M390.5 155h2.5M355.8 157.2h4.6M364.5 157.2h2.5M368.8 157.2h2.5M375.3 159.3h2.5M368.8 161.5h2.5M399.1 161.5h2.5M379.6 163.7h2.5M358 165.8h2.5M423 165.8h2.5M368.8 170.1h2.5M384 170.1h2.5M403.5 170.1h2.5M386.1 172.3h2.5M403.5 172.3h2.5M410 172.3h2.5M410 174.5h2.5M410 176.6h2.5M377.5 178.8h2.5M386.1 178.8h2.5M377.5 181h2.5M275.6 183.1h2.5M368.8 185.3h2.5M377.5 185.3h2.5M384 185.3h2.5M373.1 187.5h2.5M377.5 187.5h2.5M386.1 189.6h2.5M574.6 189.6h2.5M368.8 191.8h2.5M572.4 191.8h2.5M578.9 191.8h2.5M368.8 194h2.5M381.8 194h2.5M561.6 194h4.6M568.1 194h2.5M364.5 196.1h4.6M377.5 196.1h2.5M557.3 196.1h2.5M561.6 196.1h2.5M578.9 196.1h2.5M232.3 198.3h2.5M362.3 198.3h2.5M377.5 198.3h2.5M570.3 198.3h2.5M583.3 198.3h2.5M594.1 198.3h2.5M232.3 200.5h4.6M366.6 200.5h2.5M559.4 200.5h2.5M585.4 200.5h2.5M236.7 202.6h2.5M362.3 202.6h2.5M366.6 202.6h2.5M386.1 202.6h2.5M565.9 202.6h2.5M585.4 202.6h2.5M225.8 204.8h2.5M548.6 204.8h2.5M574.6 204.8h2.5M589.8 204.8h2.5M379.6 207h2.5M550.8 207h2.5M587.6 207h2.5M594.1 207h4.6M371 209.1h6.8M381.8 209.1h2.5M392.6 209.1h2.5M546.4 209.1h6.8M375.3 211.3h2.5M548.6 211.3h2.5M591.9 211.3h2.5M596.3 211.3h4.6M375.3 215.6h2.5M585.4 215.6h2.5M596.3 215.6h2.5M368.8 217.8h2.5M377.5 217.8h6.8M544.3 217.8h4.6M594.1 217.8h2.5M379.6 220h2.5M384 220h2.5M542.1 220h2.5M594.1 220h2.5M241 222.1h2.5M371 222.1h2.5M377.5 222.1h2.5M241 224.3h2.5M544.3 224.3h4.6M550.8 224.3h2.5M238.8 226.5h2.5M373.1 226.5h2.5M379.6 226.5h2.5M546.4 226.5h2.5M228 228.6h4.6M598.4 228.6h4.6M236.7 230.8h2.5M596.3 230.8h2.5M223.7 233h2.5M241 235.1h4.6M594.1 235.1h2.5M221.5 237.3h2.5M587.6 237.3h2.5M596.3 237.3h2.5M219.3 239.5h2.5M598.4 239.5h2.5M221.5 241.6h2.5M225.8 241.6h2.5M594.1 241.6h2.5M598.4 243.8h2.5M210.7 250.3h2.5M215 252.5h2.5M215 254.6h2.5M212.8 256.8h2.5M210.7 259h2.5M223.7 259h2.5"/>
<path stroke="#338f96" d="M477.1 48.8h2.5M234.5 53.2h2.5M418.6 53.2h2.5M474.9 53.2h2.5M468.4 55.3h2.5M487.9 55.3h2.5M173.8 57.5h2.5M178.2 57.5h2.5M457.6 57.5h2.5M147.8 59.7h2.5M442.4 59.7h2.5M448.9 59.7h2.5M461.9 59.7h2.5M466.3 59.7h2.5M470.6 59.7h2.5M435.9 61.8h2.5M451.1 61.8h2.5M455.4 61.8h2.5M466.3 61.8h2.5M472.8 61.8h4.6M117.5 64h2.5M145.7 64h2.5M435.9 64h2.5M451.1 64h4.6M457.6 64h2.5M464.1 64h4.6M474.9 64h2.5M143.5 66.2h2.5M416.5 66.2h2.5M435.9 66.2h2.5M444.6 66.2h2.5M448.9 66.2h2.5M453.3 66.2h2.5M464.1 66.2h2.5M468.4 66.2h2.5M481.4 66.2h2.5M178.2 68.3h2.5M431.6 68.3h2.5M457.6 68.3h2.5M464.1 68.3h2.5M472.8 68.3h4.6M425.1 70.5h2.5M461.9 70.5h2.5M466.3 70.5h2.5M176 72.7h2.5M401.3 72.7h2.5M420.8 72.7h2.5M425.1 72.7h2.5M446.8 72.7h2.5M461.9 72.7h2.5M483.6 72.7h2.5M490.1 72.7h2.5M156.5 74.8h2.5M414.3 74.8h2.5M420.8 74.8h2.5M425.1 74.8h2.5M431.6 74.8h2.5M438.1 74.8h2.5M444.6 74.8h2.5M453.3 74.8h2.5M459.8 74.8h2.5M468.4 74.8h2.5M472.8 74.8h9M483.6 74.8h2.5M494.4 74.8h2.5M503.1 74.8h2.5M156.5 77h2.5M160.8 77h4.6M167.3 77h2.5M394.8 77h2.5M401.3 77h2.5M459.8 77h2.5M464.1 77h2.5M477.1 77h2.5M481.4 77h2.5M487.9 77h2.5M522.6 77h4.6M145.7 79.2h2.5M171.7 79.2h2.5M358 79.2h2.5M412.1 79.2h2.5M461.9 79.2h2.5M492.3 79.2h2.5M505.3 79.2h2.5M509.6 79.2h2.5M529.1 79.2h2.5M533.4 79.2h2.5M121.8 81.3h2.5M145.7 81.3h2.5M150 81.3h2.5M154.3 81.3h2.5M169.5 81.3h4.6M373.1 81.3h2.5M386.1 81.3h2.5M399.1 81.3h2.5M410 81.3h2.5M416.5 81.3h6.8M474.9 81.3h2.5M481.4 81.3h9M492.3 81.3h4.6M503.1 81.3h6.8M511.8 81.3h2.5M522.6 81.3h4.6M533.4 81.3h2.5M537.8 81.3h2.5M555.1 81.3h2.5M368.8 83.5h2.5M381.8 83.5h4.6M388.3 83.5h2.5M401.3 83.5h2.5M407.8 83.5h9M448.9 83.5h2.5M474.9 83.5h4.6M483.6 83.5h2.5M487.9 83.5h11.1M503.1 83.5h2.5M509.6 83.5h2.5M531.3 83.5h2.5M535.6 83.5h2.5M147.8 85.7h2.5M171.7 85.7h4.6M394.8 85.7h2.5M399.1 85.7h2.5M407.8 85.7h2.5M472.8 85.7h2.5M479.3 85.7h2.5M487.9 85.7h2.5M492.3 85.7h2.5M516.1 85.7h2.5M526.9 85.7h2.5M557.3 85.7h2.5M150 87.8h2.5M173.8 87.8h4.6M347.1 87.8h2.5M397 87.8h2.5M410 87.8h2.5M483.6 87.8h2.5M487.9 87.8h2.5M511.8 87.8h2.5M529.1 87.8h4.6M537.8 87.8h2.5M542.1 87.8h4.6M137 90h2.5M347.1 90h2.5M373.1 90h2.5M403.5 90h2.5M481.4 90h2.5M537.8 90h2.5M544.3 90h2.5M550.8 90h2.5M147.8 92.2h2.5M353.6 92.2h2.5M375.3 92.2h2.5M472.8 92.2h4.6M479.3 92.2h2.5M539.9 92.2h4.6M147.8 94.3h2.5M423 94.3h2.5M481.4 94.3h2.5M542.1 94.3h2.5M548.6 94.3h2.5M143.5 96.5h2.5M468.4 96.5h2.5M544.3 96.5h2.5M147.8 98.7h2.5M152.2 98.7h2.5M414.3 98.7h2.5M472.8 98.7h2.5M481.4 98.7h2.5M546.4 98.7h2.5M134.8 100.8h2.5M143.5 100.8h4.6M379.6 100.8h2.5M386.1 100.8h2.5M461.9 100.8h2.5M544.3 100.8h2.5M143.5 103h4.6M176 103h4.6M468.4 103h4.6M535.6 103h4.6M128.3 105.2h2.5M137 105.2h2.5M147.8 105.2h9M461.9 105.2h2.5M470.6 105.2h2.5M134.8 107.3h2.5M334.1 107.3h2.5M340.6 107.3h2.5M468.4 107.3h6.8M132.7 109.5h4.6M178.2 109.5h2.5M355.8 109.5h2.5M461.9 109.5h2.5M472.8 109.5h2.5M490.1 109.5h2.5M152.2 111.7h2.5M334.1 111.7h4.6M147.8 113.8h2.5M173.8 113.8h2.5M327.6 113.8h9M472.8 113.8h2.5M477.1 113.8h2.5M483.6 113.8h2.5M150 116h2.5M158.7 116h4.6M173.8 116h2.5M327.6 116h2.5M338.5 116h2.5M479.3 116h4.6M143.5 118.2h9M141.3 120.3h6.8M154.3 120.3h2.5M158.7 120.3h2.5M171.7 120.3h2.5M477.1 120.3h2.5M145.7 122.5h2.5M156.5 122.5h2.5M160.8 122.5h4.6M477.1 122.5h6.8M147.8 124.7h2.5M163 124.7h6.8M481.4 126.8h2.5M485.8 126.8h2.5M509.6 126.8h2.5M150 129h2.5M474.9 129h2.5M479.3 129h2.5M472.8 131.2h2.5M474.9 133.3h2.5M171.7 135.5h2.5M416.5 135.5h2.5M472.8 135.5h2.5M513.9 135.5h2.5M223.7 137.7h2.5M414.3 137.7h2.5M468.4 137.7h2.5M479.3 137.7h2.5M479.3 139.8h2.5M472.8 142h2.5M416.5 144.2h2.5M416.5 146.3h6.8M221.5 148.5h2.5M223.7 150.7h9M228 152.8h4.6M319 152.8h2.5M323.3 152.8h2.5M329.8 152.8h2.5M338.5 152.8h2.5M355.8 152.8h2.5M399.1 152.8h2.5M223.7 155h6.8M329.8 155h2.5M338.5 155h2.5M342.8 155h2.5M355.8 155h2.5M364.5 155h2.5M371 155h2.5M377.5 155h2.5M388.3 155h2.5M397 155h2.5M225.8 157.2h2.5M230.2 157.2h2.5M351.5 157.2h2.5M360.1 157.2h2.5M373.1 157.2h6.8M390.5 157.2h4.6M347.1 159.3h2.5M355.8 159.3h4.6M373.1 159.3h2.5M355.8 161.5h9M373.1 161.5h2.5M416.5 161.5h2.5M364.5 163.7h4.6M373.1 163.7h4.6M384 163.7h2.5M368.8 165.8h2.5M375.3 165.8h2.5M416.5 165.8h2.5M364.5 168h2.5M377.5 168h2.5M397 168h6.8M405.6 168h4.6M412.1 168h2.5M386.1 170.1h2.5M401.3 170.1h2.5M414.3 170.1h2.5M360.1 172.3h2.5M368.8 172.3h2.5M407.8 172.3h2.5M375.3 174.5h2.5M384 174.5h2.5M399.1 174.5h2.5M407.8 174.5h2.5M377.5 176.6h2.5M397 176.6h2.5M267 178.8h2.5M275.6 178.8h2.5M381.8 178.8h2.5M403.5 178.8h2.5M371 181h2.5M379.6 181h4.6M386.1 181h2.5M399.1 181h2.5M373.1 183.1h2.5M384 183.1h2.5M390.5 183.1h2.5M366.6 185.3h2.5M373.1 185.3h2.5M390.5 185.3h2.5M397 185.3h2.5M379.6 187.5h4.6M386.1 187.5h2.5M399.1 187.5h2.5M271.3 189.6h2.5M373.1 189.6h6.8M397 189.6h2.5M570.3 189.6h2.5M366.6 191.8h2.5M377.5 191.8h2.5M568.1 191.8h2.5M574.6 191.8h2.5M371 194h2.5M375.3 194h2.5M412.1 194h2.5M572.4 194h2.5M578.9 194h2.5M362.3 196.1h2.5M373.1 196.1h2.5M381.8 196.1h2.5M386.1 196.1h2.5M570.3 196.1h4.6M630.9 196.1h2.5M381.8 198.3h2.5M397 198.3h2.5M561.6 198.3h2.5M585.4 198.3h2.5M589.8 198.3h2.5M228 200.5h2.5M247.5 200.5h2.5M368.8 200.5h2.5M407.8 200.5h2.5M555.1 200.5h2.5M587.6 200.5h2.5M650.4 200.5h2.5M230.2 202.6h2.5M238.8 202.6h2.5M245.3 202.6h2.5M368.8 202.6h4.6M384 202.6h2.5M587.6 202.6h4.6M596.3 202.6h2.5M243.2 204.8h2.5M368.8 204.8h2.5M379.6 204.8h2.5M386.1 204.8h2.5M401.3 204.8h2.5M572.4 204.8h2.5M587.6 204.8h2.5M594.1 204.8h9M245.3 207h4.6M371 207h4.6M377.5 207h2.5M589.8 207h4.6M600.6 207h2.5M247.5 209.1h2.5M379.6 209.1h2.5M544.3 209.1h2.5M589.8 209.1h2.5M594.1 209.1h4.6M377.5 211.3h2.5M602.8 211.3h2.5M375.3 213.5h2.5M388.3 213.5h2.5M394.8 213.5h2.5M399.1 213.5h2.5M420.8 213.5h2.5M548.6 213.5h2.5M594.1 213.5h2.5M600.6 213.5h2.5M366.6 215.6h2.5M384 215.6h2.5M546.4 215.6h2.5M598.4 215.6h2.5M243.2 217.8h2.5M384 217.8h2.5M399.1 217.8h2.5M548.6 217.8h2.5M386.1 220h2.5M392.6 220h2.5M598.4 220h4.6M381.8 222.1h2.5M548.6 222.1h2.5M607.1 222.1h2.5M238.8 224.3h2.5M379.6 224.3h2.5M594.1 224.3h4.6M381.8 226.5h2.5M544.3 226.5h2.5M596.3 226.5h2.5M602.8 226.5h2.5M219.3 228.6h2.5M238.8 228.6h2.5M243.2 228.6h2.5M375.3 228.6h2.5M542.1 228.6h6.8M594.1 228.6h4.6M238.8 230.8h6.8M377.5 230.8h2.5M544.3 230.8h2.5M594.1 230.8h2.5M219.3 233h2.5M600.6 235.1h2.5M594.1 237.3h2.5M591.9 239.5h2.5M596.3 239.5h2.5M596.3 241.6h4.6M221.5 243.8h2.5M594.1 243.8h2.5M217.2 259h2.5M221.5 259h2.5M217.2 261.1h2.5"/>
<path stroke="#319994" d="M461.9 42.3h2.5M477.1 46.7h2.5M145.7 51h2.5M410 51h2.5M420.8 51h2.5M54.7 53.2h2.5M165.2 53.2h2.5M427.3 53.2h2.5M438.1 53.2h2.5M453.3 53.2h2.5M459.8 53.2h2.5M483.6 53.2h2.5M50.4 55.3h2.5M56.9 55.3h2.5M124 55.3h2.5M431.6 55.3h2.5M446.8 55.3h2.5M459.8 55.3h2.5M154.3 57.5h2.5M418.6 57.5h2.5M451.1 57.5h2.5M455.4 57.5h2.5M394.8 59.7h2.5M399.1 59.7h2.5M446.8 59.7h2.5M451.1 59.7h2.5M459.8 59.7h2.5M468.4 59.7h2.5M477.1 59.7h4.6M407.8 61.8h2.5M412.1 61.8h2.5M442.4 61.8h2.5M446.8 61.8h2.5M453.3 61.8h2.5M479.3 61.8h6.8M56.9 64h2.5M141.3 64h2.5M152.2 64h2.5M403.5 64h2.5M425.1 64h2.5M433.8 64h2.5M442.4 64h2.5M446.8 64h2.5M479.3 64h2.5M420.8 66.2h2.5M442.4 66.2h2.5M446.8 66.2h2.5M451.1 66.2h2.5M459.8 66.2h2.5M477.1 66.2h2.5M483.6 66.2h2.5M126.2 68.3h2.5M392.6 68.3h2.5M397 68.3h2.5M401.3 68.3h2.5M407.8 68.3h4.6M425.1 68.3h2.5M429.5 68.3h2.5M444.6 68.3h2.5M448.9 68.3h9M461.9 68.3h2.5M466.3 68.3h4.6M487.9 68.3h2.5M128.3 70.5h2.5M141.3 70.5h2.5M392.6 70.5h2.5M423 70.5h2.5M429.5 70.5h6.8M444.6 70.5h2.5M470.6 70.5h2.5M474.9 70.5h4.6M487.9 70.5h2.5M494.4 70.5h2.5M147.8 72.7h2.5M154.3 72.7h2.5M381.8 72.7h2.5M386.1 72.7h2.5M399.1 72.7h2.5M429.5 72.7h2.5M440.3 72.7h2.5M466.3 72.7h2.5M479.3 72.7h2.5M492.3 72.7h2.5M180.3 74.8h2.5M379.6 74.8h2.5M394.8 74.8h2.5M401.3 74.8h2.5M410 74.8h2.5M466.3 74.8h2.5M481.4 74.8h2.5M485.8 74.8h4.6M152.2 77h4.6M169.5 77h2.5M381.8 77h2.5M386.1 77h2.5M405.6 77h2.5M412.1 77h2.5M468.4 77h4.6M474.9 77h2.5M479.3 77h2.5M485.8 77h2.5M490.1 77h4.6M498.8 77h2.5M539.9 77h2.5M165.2 79.2h2.5M381.8 79.2h2.5M397 79.2h2.5M401.3 79.2h2.5M405.6 79.2h2.5M416.5 79.2h2.5M420.8 79.2h2.5M472.8 79.2h2.5M485.8 79.2h2.5M496.6 79.2h2.5M503.1 79.2h2.5M513.9 79.2h4.6M520.4 79.2h2.5M531.3 79.2h2.5M537.8 79.2h2.5M178.2 81.3h2.5M349.3 81.3h2.5M358 81.3h2.5M362.3 81.3h2.5M377.5 81.3h2.5M394.8 81.3h4.6M401.3 81.3h2.5M407.8 81.3h2.5M477.1 81.3h2.5M509.6 81.3h2.5M516.1 81.3h2.5M535.6 81.3h2.5M550.8 81.3h2.5M143.5 83.5h2.5M173.8 83.5h2.5M351.5 83.5h2.5M373.1 83.5h2.5M386.1 83.5h2.5M418.6 83.5h2.5M470.6 83.5h2.5M481.4 83.5h2.5M498.8 83.5h4.6M516.1 83.5h2.5M524.8 83.5h2.5M537.8 83.5h4.6M145.7 85.7h2.5M176 85.7h2.5M366.6 85.7h2.5M371 85.7h2.5M388.3 85.7h2.5M405.6 85.7h2.5M474.9 85.7h2.5M483.6 85.7h2.5M531.3 85.7h2.5M561.6 85.7h2.5M141.3 87.8h6.8M152.2 87.8h2.5M215 87.8h2.5M349.3 87.8h2.5M362.3 87.8h2.5M377.5 87.8h2.5M386.1 87.8h2.5M401.3 87.8h2.5M485.8 87.8h2.5M513.9 87.8h2.5M134.8 90h2.5M147.8 90h2.5M176 90h2.5M180.3 90h2.5M353.6 90h2.5M358 90h2.5M371 90h2.5M401.3 90h2.5M407.8 90h2.5M418.6 90h2.5M477.1 90h2.5M535.6 90h2.5M555.1 90h2.5M392.6 92.2h2.5M401.3 92.2h2.5M407.8 92.2h2.5M544.3 92.2h2.5M548.6 92.2h2.5M145.7 94.3h2.5M173.8 94.3h6.8M360.1 94.3h2.5M412.1 94.3h4.6M461.9 94.3h2.5M539.9 94.3h2.5M546.4 94.3h2.5M550.8 94.3h2.5M555.1 94.3h2.5M132.7 96.5h2.5M141.3 96.5h2.5M145.7 96.5h4.6M377.5 96.5h2.5M386.1 96.5h2.5M423 96.5h2.5M539.9 96.5h2.5M132.7 98.7h2.5M178.2 98.7h2.5M342.8 98.7h2.5M366.6 98.7h2.5M373.1 98.7h2.5M377.5 98.7h2.5M381.8 98.7h2.5M386.1 98.7h2.5M477.1 98.7h4.6M535.6 98.7h2.5M544.3 98.7h2.5M548.6 98.7h2.5M137 100.8h2.5M141.3 100.8h2.5M147.8 100.8h2.5M373.1 100.8h2.5M529.1 100.8h2.5M537.8 100.8h6.8M134.8 103h2.5M325.5 103h2.5M371 103h2.5M524.8 103h2.5M531.3 103h2.5M539.9 103h2.5M143.5 105.2h4.6M178.2 105.2h2.5M332 105.2h2.5M345 105.2h4.6M360.1 105.2h2.5M381.8 105.2h2.5M472.8 105.2h2.5M154.3 107.3h2.5M178.2 107.3h2.5M492.3 107.3h2.5M537.8 107.3h2.5M137 109.5h2.5M332 109.5h2.5M336.3 109.5h2.5M349.3 109.5h6.8M468.4 109.5h2.5M178.2 111.7h4.6M327.6 111.7h2.5M340.6 111.7h4.6M347.1 111.7h2.5M468.4 111.7h2.5M474.9 111.7h6.8M156.5 113.8h2.5M178.2 113.8h2.5M345 113.8h2.5M433.8 113.8h2.5M492.3 113.8h2.5M139.2 116h2.5M145.7 116h2.5M152.2 116h2.5M156.5 116h2.5M176 116h2.5M487.9 116h2.5M141.3 118.2h2.5M152.2 118.2h2.5M158.7 118.2h2.5M163 118.2h2.5M169.5 118.2h2.5M178.2 118.2h2.5M327.6 118.2h2.5M485.8 118.2h2.5M147.8 120.3h6.8M165.2 120.3h2.5M479.3 120.3h2.5M483.6 120.3h4.6M150 122.5h2.5M158.7 122.5h2.5M167.3 122.5h2.5M173.8 122.5h2.5M438.1 122.5h2.5M483.6 122.5h2.5M492.3 122.5h2.5M145.7 124.7h2.5M156.5 124.7h4.6M483.6 124.7h2.5M154.3 126.8h2.5M158.7 126.8h9M169.5 126.8h2.5M160.8 129h9M171.7 129h2.5M485.8 129h2.5M481.4 131.2h2.5M472.8 133.3h2.5M481.4 133.3h4.6M169.5 135.5h2.5M470.6 135.5h2.5M479.3 135.5h2.5M219.3 137.7h2.5M472.8 137.7h2.5M477.1 137.7h2.5M485.8 137.7h2.5M507.4 137.7h2.5M410 139.8h2.5M418.6 139.8h2.5M470.6 139.8h2.5M474.9 139.8h2.5M481.4 139.8h2.5M412.1 144.2h2.5M470.6 144.2h2.5M474.9 144.2h4.6M412.1 146.3h2.5M474.9 146.3h2.5M472.8 148.5h2.5M219.3 150.7h4.6M407.8 150.7h9M223.7 152.8h4.6M232.3 152.8h4.6M325.5 152.8h4.6M334.1 152.8h2.5M340.6 152.8h2.5M403.5 152.8h2.5M416.5 152.8h2.5M234.5 155h2.5M319 155h2.5M340.6 155h2.5M351.5 155h4.6M362.3 155h2.5M386.1 155h2.5M399.1 155h2.5M412.1 155h2.5M340.6 157.2h2.5M349.3 157.2h2.5M353.6 157.2h2.5M366.6 157.2h2.5M379.6 157.2h2.5M386.1 157.2h4.6M394.8 157.2h6.8M232.3 159.3h2.5M245.3 159.3h2.5M342.8 159.3h2.5M349.3 159.3h2.5M377.5 159.3h2.5M394.8 159.3h2.5M401.3 159.3h2.5M353.6 161.5h2.5M366.6 161.5h2.5M375.3 161.5h2.5M379.6 161.5h2.5M390.5 161.5h2.5M236.7 163.7h2.5M377.5 163.7h2.5M381.8 163.7h2.5M407.8 163.7h2.5M416.5 163.7h6.8M360.1 165.8h2.5M366.6 165.8h2.5M384 165.8h2.5M403.5 165.8h2.5M414.3 165.8h2.5M420.8 165.8h2.5M373.1 168h4.6M410 168h2.5M375.3 170.1h2.5M388.3 170.1h2.5M399.1 170.1h2.5M412.1 170.1h2.5M362.3 172.3h2.5M388.3 172.3h2.5M258.3 174.5h2.5M362.3 174.5h2.5M371 174.5h4.6M381.8 174.5h2.5M403.5 174.5h4.6M412.1 174.5h2.5M271.3 176.6h2.5M371 176.6h4.6M379.6 176.6h2.5M399.1 176.6h2.5M403.5 176.6h2.5M407.8 176.6h2.5M362.3 178.8h2.5M366.6 178.8h2.5M379.6 178.8h2.5M394.8 178.8h2.5M401.3 178.8h2.5M405.6 178.8h2.5M410 178.8h2.5M362.3 181h2.5M397 181h2.5M405.6 181h2.5M371 183.1h2.5M377.5 183.1h2.5M407.8 183.1h4.6M275.6 185.3h2.5M379.6 185.3h2.5M386.1 185.3h4.6M407.8 185.3h2.5M277.8 187.5h4.6M371 187.5h2.5M388.3 187.5h2.5M410 187.5h4.6M368.8 189.6h4.6M381.8 189.6h2.5M388.3 189.6h2.5M572.4 189.6h2.5M576.8 189.6h2.5M254 191.8h2.5M373.1 191.8h2.5M379.6 191.8h4.6M388.3 191.8h2.5M399.1 191.8h2.5M576.8 191.8h2.5M254 194h2.5M269.1 194h2.5M362.3 194h2.5M366.6 194h2.5M373.1 194h2.5M379.6 194h2.5M384 194h2.5M397 194h2.5M401.3 194h4.6M230.2 196.1h2.5M371 196.1h2.5M384 196.1h2.5M392.6 196.1h2.5M399.1 196.1h2.5M407.8 196.1h2.5M587.6 196.1h4.6M234.5 198.3h2.5M273.5 198.3h2.5M364.5 198.3h4.6M375.3 198.3h2.5M384 198.3h2.5M407.8 198.3h2.5M230.2 200.5h2.5M241 200.5h2.5M249.7 200.5h2.5M362.3 200.5h2.5M373.1 200.5h2.5M377.5 200.5h2.5M384 200.5h2.5M397 200.5h2.5M589.8 200.5h2.5M594.1 200.5h4.6M648.2 200.5h2.5M223.7 202.6h2.5M243.2 202.6h2.5M364.5 202.6h2.5M373.1 202.6h2.5M377.5 202.6h2.5M388.3 202.6h2.5M405.6 202.6h2.5M273.5 204.8h2.5M375.3 204.8h4.6M381.8 204.8h4.6M392.6 204.8h2.5M397 204.8h2.5M542.1 204.8h2.5M546.4 204.8h2.5M375.3 207h2.5M384 207h2.5M390.5 207h2.5M399.1 207h2.5M403.5 207h2.5M544.3 207h2.5M630.9 207h2.5M245.3 209.1h2.5M271.3 209.1h2.5M388.3 209.1h4.6M591.9 209.1h2.5M600.6 209.1h4.6M630.9 209.1h2.5M379.6 211.3h2.5M384 211.3h2.5M546.4 211.3h2.5M600.6 211.3h2.5M604.9 211.3h2.5M245.3 213.5h2.5M381.8 213.5h4.6M392.6 213.5h2.5M397 213.5h2.5M544.3 213.5h4.6M377.5 215.6h2.5M388.3 215.6h4.6M600.6 215.6h2.5M258.3 217.8h2.5M542.1 217.8h2.5M589.8 217.8h2.5M600.6 217.8h2.5M604.9 217.8h2.5M381.8 220h2.5M394.8 220h2.5M546.4 220h4.6M596.3 220h2.5M379.6 222.1h2.5M394.8 222.1h2.5M542.1 222.1h2.5M604.9 222.1h2.5M373.1 224.3h2.5M384 224.3h2.5M602.8 224.3h2.5M241 226.5h2.5M377.5 226.5h2.5M386.1 226.5h6.8M542.1 226.5h2.5M598.4 226.5h2.5M379.6 228.6h6.8M539.9 228.6h2.5M602.8 228.6h2.5M217.2 230.8h2.5M546.4 230.8h2.5M215 233h2.5M221.5 233h2.5M241 233h4.6M598.4 233h6.8M598.4 235.1h2.5M219.3 243.8h2.5M596.3 243.8h2.5M594.1 246h4.6M212.8 248.1h2.5M219.3 248.1h2.5M215 250.3h2.5M217.2 252.5h4.6M217.2 254.6h2.5M219.3 256.8h2.5M212.8 259h2.5"/>
<path stroke="#2fa092" d="M457.6 44.5h2.5M470.6 44.5h2.5M589.8 44.5h2.5M461.9 46.7h2.5M468.4 46.7h2.5M483.6 46.7h2.5M56.9 48.8h2.5M390.5 48.8h2.5M448.9 48.8h2.5M455.4 48.8h2.5M459.8 48.8h4.6M466.3 48.8h2.5M481.4 48.8h6.8M35.2 51h2.5M59 51h2.5M394.8 51h2.5M412.1 51h2.5M438.1 51h2.5M448.9 51h4.6M459.8 51h4.6M481.4 51h2.5M46 53.2h2.5M420.8 53.2h4.6M446.8 53.2h2.5M455.4 53.2h4.6M470.6 53.2h2.5M405.6 55.3h2.5M418.6 55.3h2.5M425.1 55.3h2.5M451.1 55.3h4.6M461.9 55.3h2.5M474.9 55.3h4.6M481.4 55.3h2.5M485.8 55.3h2.5M596.3 55.3h2.5M37.4 57.5h2.5M54.7 57.5h2.5M403.5 57.5h2.5M433.8 57.5h2.5M444.6 57.5h6.8M464.1 57.5h2.5M468.4 57.5h2.5M54.7 59.7h4.6M416.5 59.7h2.5M444.6 59.7h2.5M453.3 59.7h6.8M464.1 59.7h2.5M474.9 59.7h2.5M394.8 61.8h2.5M401.3 61.8h2.5M405.6 61.8h2.5M410 61.8h2.5M418.6 61.8h4.6M438.1 61.8h2.5M448.9 61.8h2.5M457.6 61.8h2.5M461.9 61.8h2.5M468.4 61.8h2.5M505.3 61.8h2.5M394.8 64h2.5M401.3 64h2.5M410 64h2.5M414.3 64h2.5M418.6 64h2.5M440.3 64h2.5M444.6 64h2.5M470.6 64h4.6M477.1 64h2.5M126.2 66.2h2.5M394.8 66.2h2.5M399.1 66.2h2.5M407.8 66.2h9M418.6 66.2h2.5M423 66.2h2.5M438.1 66.2h2.5M466.3 66.2h2.5M472.8 66.2h2.5M490.1 66.2h2.5M414.3 68.3h2.5M427.3 68.3h2.5M433.8 68.3h2.5M442.4 68.3h2.5M446.8 68.3h2.5M470.6 68.3h2.5M477.1 68.3h9M145.7 70.5h2.5M379.6 70.5h6.8M399.1 70.5h2.5M416.5 70.5h4.6M435.9 70.5h2.5M442.4 70.5h2.5M479.3 70.5h4.6M485.8 70.5h2.5M548.6 70.5h2.5M156.5 72.7h2.5M160.8 72.7h4.6M223.7 72.7h2.5M392.6 72.7h4.6M403.5 72.7h2.5M410 72.7h2.5M416.5 72.7h4.6M433.8 72.7h2.5M438.1 72.7h2.5M470.6 72.7h2.5M150 74.8h2.5M165.2 74.8h4.6M371 74.8h2.5M381.8 74.8h2.5M392.6 74.8h2.5M399.1 74.8h2.5M405.6 74.8h2.5M412.1 74.8h2.5M490.1 74.8h4.6M498.8 74.8h4.6M505.3 74.8h2.5M509.6 74.8h2.5M563.8 74.8h2.5M165.2 77h2.5M225.8 77h2.5M360.1 77h2.5M384 77h2.5M390.5 77h2.5M397 77h2.5M407.8 77h2.5M505.3 77h2.5M518.3 77h4.6M529.1 77h2.5M557.3 77h2.5M141.3 79.2h2.5M349.3 79.2h2.5M371 79.2h4.6M377.5 79.2h2.5M386.1 79.2h4.6M479.3 79.2h2.5M500.9 79.2h2.5M535.6 79.2h2.5M542.1 79.2h4.6M548.6 79.2h4.6M565.9 79.2h2.5M143.5 81.3h2.5M347.1 81.3h2.5M351.5 81.3h2.5M368.8 81.3h2.5M379.6 81.3h2.5M384 81.3h2.5M390.5 81.3h4.6M403.5 81.3h2.5M498.8 81.3h4.6M513.9 81.3h2.5M531.3 81.3h2.5M542.1 81.3h2.5M548.6 81.3h2.5M559.4 81.3h2.5M147.8 83.5h2.5M338.5 83.5h2.5M362.3 83.5h2.5M366.6 83.5h2.5M371 83.5h2.5M377.5 83.5h2.5M390.5 83.5h6.8M399.1 83.5h2.5M405.6 83.5h2.5M574.6 83.5h2.5M137 85.7h2.5M150 85.7h2.5M368.8 85.7h2.5M377.5 85.7h4.6M390.5 85.7h4.6M401.3 85.7h2.5M494.4 85.7h2.5M507.4 85.7h2.5M535.6 85.7h2.5M178.2 87.8h2.5M355.8 87.8h2.5M368.8 87.8h4.6M375.3 87.8h2.5M381.8 87.8h2.5M392.6 87.8h4.6M407.8 87.8h2.5M520.4 87.8h2.5M539.9 87.8h2.5M555.1 87.8h2.5M139.2 90h9M342.8 90h2.5M349.3 90h2.5M355.8 90h2.5M362.3 90h2.5M379.6 90h13.3M394.8 90h4.6M416.5 90h2.5M531.3 90h2.5M542.1 90h2.5M137 92.2h4.6M143.5 92.2h4.6M178.2 92.2h4.6M355.8 92.2h6.8M364.5 92.2h2.5M379.6 92.2h4.6M388.3 92.2h4.6M399.1 92.2h2.5M418.6 92.2h2.5M481.4 92.2h2.5M546.4 92.2h2.5M552.9 92.2h6.8M561.6 92.2h2.5M130.5 94.3h4.6M137 94.3h2.5M141.3 94.3h2.5M150 94.3h4.6M347.1 94.3h2.5M371 94.3h2.5M377.5 94.3h4.6M388.3 94.3h2.5M410 94.3h2.5M416.5 94.3h2.5M420.8 94.3h2.5M535.6 94.3h2.5M544.3 94.3h2.5M152.2 96.5h2.5M178.2 96.5h2.5M336.3 96.5h4.6M345 96.5h4.6M366.6 96.5h6.8M381.8 96.5h4.6M388.3 96.5h2.5M412.1 96.5h2.5M418.6 96.5h2.5M531.3 96.5h2.5M535.6 96.5h2.5M542.1 96.5h2.5M546.4 96.5h4.6M552.9 96.5h2.5M130.5 98.7h2.5M134.8 98.7h2.5M139.2 98.7h2.5M334.1 98.7h2.5M371 98.7h2.5M375.3 98.7h2.5M384 98.7h2.5M388.3 98.7h2.5M403.5 98.7h2.5M420.8 98.7h2.5M537.8 98.7h4.6M126.2 100.8h2.5M139.2 100.8h2.5M152.2 100.8h2.5M178.2 100.8h2.5M340.6 100.8h4.6M368.8 100.8h2.5M377.5 100.8h2.5M381.8 100.8h4.6M390.5 100.8h2.5M394.8 100.8h2.5M533.4 100.8h4.6M132.7 103h2.5M139.2 103h2.5M338.5 103h2.5M342.8 103h2.5M390.5 103h2.5M518.3 103h2.5M529.1 103h2.5M349.3 105.2h11.1M379.6 105.2h2.5M423 105.2h2.5M533.4 105.2h2.5M130.5 107.3h2.5M137 107.3h2.5M336.3 107.3h4.6M353.6 107.3h4.6M360.1 107.3h2.5M431.6 107.3h2.5M474.9 107.3h2.5M490.1 107.3h2.5M503.1 107.3h2.5M518.3 107.3h2.5M524.8 107.3h6.8M329.8 109.5h2.5M342.8 109.5h6.8M474.9 109.5h2.5M533.4 109.5h2.5M537.8 109.5h2.5M345 111.7h2.5M431.6 111.7h2.5M180.3 113.8h2.5M336.3 113.8h4.6M481.4 113.8h2.5M141.3 116h2.5M147.8 116h2.5M154.3 116h2.5M325.5 116h2.5M329.8 116h9M483.6 116h4.6M329.8 118.2h2.5M435.9 118.2h4.6M481.4 118.2h4.6M173.8 120.3h4.6M435.9 120.3h2.5M481.4 120.3h2.5M487.9 120.3h2.5M143.5 122.5h2.5M152.2 122.5h2.5M165.2 122.5h2.5M171.7 122.5h2.5M435.9 122.5h2.5M490.1 122.5h2.5M160.8 124.7h2.5M169.5 124.7h4.6M477.1 124.7h2.5M485.8 124.7h2.5M150 126.8h2.5M171.7 126.8h2.5M477.1 126.8h4.6M483.6 126.8h2.5M156.5 129h4.6M169.5 129h2.5M160.8 131.2h2.5M165.2 131.2h4.6M474.9 131.2h2.5M483.6 131.2h2.5M487.9 131.2h2.5M158.7 133.3h2.5M171.7 133.3h2.5M163 135.5h4.6M173.8 135.5h2.5M474.9 135.5h2.5M481.4 135.5h2.5M221.5 137.7h2.5M470.6 137.7h2.5M481.4 137.7h2.5M169.5 139.8h2.5M485.8 139.8h2.5M474.9 142h2.5M420.8 144.2h2.5M472.8 144.2h2.5M479.3 146.3h2.5M412.1 148.5h2.5M470.6 148.5h2.5M215 150.7h2.5M232.3 150.7h2.5M416.5 150.7h4.6M236.7 152.8h2.5M479.3 152.8h2.5M230.2 155h4.6M325.5 155h2.5M394.8 155h2.5M232.3 157.2h2.5M336.3 157.2h2.5M345 157.2h2.5M362.3 157.2h2.5M381.8 157.2h4.6M338.5 159.3h2.5M351.5 159.3h4.6M362.3 159.3h2.5M366.6 159.3h6.8M379.6 159.3h4.6M386.1 159.3h2.5M390.5 159.3h4.6M397 159.3h4.6M418.6 159.3h4.6M340.6 161.5h2.5M351.5 161.5h2.5M364.5 161.5h2.5M381.8 161.5h2.5M401.3 161.5h2.5M360.1 163.7h4.6M386.1 163.7h2.5M394.8 163.7h2.5M249.7 165.8h2.5M362.3 165.8h2.5M379.6 165.8h4.6M386.1 165.8h6.8M410 165.8h2.5M358 168h6.8M368.8 168h2.5M379.6 168h2.5M384 168h6.8M394.8 168h2.5M414.3 168h6.8M358 170.1h2.5M373.1 170.1h2.5M379.6 170.1h4.6M397 170.1h2.5M405.6 170.1h2.5M410 170.1h2.5M416.5 170.1h2.5M254 172.3h2.5M366.6 172.3h2.5M379.6 172.3h6.8M401.3 172.3h2.5M271.3 174.5h2.5M364.5 174.5h4.6M379.6 174.5h2.5M269.1 176.6h2.5M275.6 176.6h2.5M366.6 176.6h2.5M381.8 176.6h2.5M386.1 176.6h9M401.3 176.6h2.5M405.6 176.6h2.5M260.5 178.8h2.5M277.8 178.8h4.6M371 178.8h6.8M388.3 178.8h4.6M260.5 181h2.5M264.8 181h4.6M275.6 181h2.5M364.5 181h6.8M384 181h2.5M388.3 181h2.5M392.6 181h4.6M258.3 183.1h2.5M262.6 183.1h4.6M271.3 183.1h4.6M381.8 183.1h2.5M386.1 183.1h4.6M399.1 183.1h2.5M260.5 185.3h2.5M269.1 185.3h2.5M375.3 185.3h2.5M381.8 185.3h2.5M269.1 187.5h2.5M375.3 187.5h2.5M390.5 187.5h2.5M394.8 187.5h2.5M401.3 187.5h2.5M256.1 189.6h2.5M260.5 189.6h2.5M269.1 189.6h2.5M277.8 189.6h2.5M384 189.6h2.5M392.6 189.6h2.5M401.3 189.6h4.6M589.8 189.6h2.5M269.1 191.8h4.6M275.6 191.8h2.5M371 191.8h2.5M375.3 191.8h2.5M384 191.8h2.5M392.6 191.8h2.5M405.6 191.8h2.5M410 191.8h2.5M565.9 191.8h2.5M589.8 191.8h2.5M256.1 194h2.5M267 194h2.5M364.5 194h2.5M377.5 194h2.5M388.3 194h2.5M392.6 194h4.6M399.1 194h2.5M407.8 194h2.5M591.9 194h2.5M232.3 196.1h4.6M247.5 196.1h6.8M271.3 196.1h2.5M375.3 196.1h2.5M379.6 196.1h2.5M388.3 196.1h4.6M397 196.1h2.5M401.3 196.1h4.6M410 196.1h2.5M559.4 196.1h2.5M228 198.3h2.5M236.7 198.3h2.5M260.5 198.3h2.5M368.8 198.3h4.6M388.3 198.3h4.6M394.8 198.3h2.5M399.1 198.3h2.5M405.6 198.3h2.5M587.6 198.3h2.5M591.9 198.3h2.5M260.5 200.5h2.5M267 200.5h4.6M364.5 200.5h2.5M375.3 200.5h2.5M388.3 200.5h9M399.1 200.5h6.8M225.8 202.6h2.5M273.5 202.6h2.5M379.6 202.6h2.5M392.6 202.6h2.5M399.1 202.6h4.6M594.1 202.6h2.5M598.4 202.6h2.5M245.3 204.8h4.6M388.3 204.8h2.5M394.8 204.8h2.5M418.6 204.8h9M260.5 207h2.5M264.8 207h2.5M388.3 207h2.5M392.6 207h2.5M397 207h2.5M425.1 207h2.5M539.9 207h4.6M546.4 207h2.5M598.4 207h2.5M602.8 207h2.5M262.6 209.1h2.5M267 209.1h2.5M403.5 209.1h2.5M539.9 209.1h2.5M247.5 211.3h2.5M256.1 211.3h2.5M262.6 211.3h2.5M381.8 211.3h2.5M392.6 211.3h2.5M399.1 211.3h2.5M425.1 211.3h2.5M542.1 211.3h2.5M386.1 213.5h2.5M537.8 213.5h2.5M542.1 213.5h2.5M596.3 213.5h4.6M602.8 213.5h4.6M386.1 215.6h2.5M392.6 215.6h4.6M399.1 215.6h2.5M537.8 215.6h2.5M544.3 215.6h2.5M254 217.8h2.5M386.1 217.8h2.5M392.6 217.8h2.5M539.9 217.8h2.5M602.8 217.8h2.5M388.3 220h4.6M539.9 220h2.5M384 222.1h2.5M388.3 222.1h2.5M392.6 222.1h2.5M600.6 222.1h2.5M249.7 224.3h2.5M386.1 224.3h9M542.1 224.3h2.5M598.4 224.3h2.5M604.9 224.3h2.5M243.2 226.5h2.5M384 226.5h2.5M392.6 226.5h2.5M604.9 226.5h2.5M241 228.6h2.5M373.1 228.6h2.5M377.5 228.6h2.5M388.3 228.6h2.5M215 230.8h2.5M375.3 230.8h2.5M598.4 230.8h6.8M221.5 235.1h2.5M602.8 235.1h2.5M219.3 254.6h2.5"/>
<path stroke="#2fa88f" d="M466.3 42.3h2.5M481.4 42.3h2.5M210.7 44.5h2.5M459.8 44.5h9M87.2 46.7h2.5M457.6 46.7h4.6M464.1 46.7h2.5M472.8 46.7h2.5M479.3 46.7h2.5M539.9 46.7h2.5M594.1 46.7h2.5M223.7 48.8h2.5M394.8 48.8h2.5M403.5 48.8h4.6M446.8 48.8h2.5M451.1 48.8h4.6M487.9 48.8h2.5M576.8 48.8h2.5M594.1 48.8h2.5M600.6 48.8h2.5M652.6 48.8h2.5M33 51h2.5M52.5 51h2.5M56.9 51h2.5M78.5 51h2.5M221.5 51h2.5M390.5 51h2.5M397 51h2.5M405.6 51h4.6M429.5 51h2.5M442.4 51h6.8M464.1 51h4.6M474.9 51h2.5M485.8 51h2.5M498.8 51h2.5M591.9 51h2.5M598.4 51h2.5M43.9 53.2h2.5M56.9 53.2h2.5M392.6 53.2h2.5M397 53.2h2.5M401.3 53.2h4.6M410 53.2h2.5M440.3 53.2h2.5M448.9 53.2h4.6M505.3 53.2h2.5M643.9 53.2h2.5M46 55.3h4.6M87.2 55.3h2.5M210.7 55.3h2.5M392.6 55.3h2.5M414.3 55.3h2.5M435.9 55.3h2.5M448.9 55.3h2.5M457.6 55.3h2.5M464.1 55.3h2.5M472.8 55.3h2.5M483.6 55.3h2.5M30.9 57.5h2.5M35.2 57.5h2.5M56.9 57.5h2.5M61.2 57.5h2.5M65.5 57.5h2.5M76.4 57.5h2.5M82.9 57.5h2.5M137 57.5h2.5M206.3 57.5h2.5M390.5 57.5h2.5M394.8 57.5h2.5M425.1 57.5h2.5M435.9 57.5h2.5M459.8 57.5h4.6M472.8 57.5h2.5M479.3 57.5h2.5M485.8 57.5h4.6M628.7 57.5h2.5M392.6 59.7h2.5M401.3 59.7h2.5M414.3 59.7h2.5M418.6 59.7h6.8M429.5 59.7h4.6M472.8 59.7h2.5M485.8 59.7h2.5M54.7 61.8h2.5M59 61.8h2.5M63.4 61.8h4.6M72 61.8h2.5M80.7 61.8h2.5M392.6 61.8h2.5M399.1 61.8h2.5M414.3 61.8h2.5M423 61.8h2.5M429.5 61.8h4.6M444.6 61.8h2.5M459.8 61.8h2.5M464.1 61.8h2.5M470.6 61.8h2.5M639.6 61.8h2.5M80.7 64h2.5M390.5 64h2.5M397 64h2.5M412.1 64h2.5M431.6 64h2.5M438.1 64h2.5M448.9 64h2.5M461.9 64h2.5M576.8 64h2.5M69.9 66.2h2.5M388.3 66.2h2.5M397 66.2h2.5M405.6 66.2h2.5M425.1 66.2h4.6M440.3 66.2h2.5M474.9 66.2h2.5M487.9 66.2h2.5M494.4 66.2h2.5M500.9 66.2h2.5M63.4 68.3h2.5M381.8 68.3h6.8M394.8 68.3h2.5M405.6 68.3h2.5M418.6 68.3h6.8M440.3 68.3h2.5M490.1 68.3h2.5M524.8 68.3h2.5M232.3 70.5h2.5M334.1 70.5h2.5M386.1 70.5h2.5M403.5 70.5h4.6M410 70.5h2.5M414.3 70.5h2.5M427.3 70.5h2.5M468.4 70.5h2.5M483.6 70.5h2.5M490.1 70.5h4.6M496.6 70.5h6.8M535.6 70.5h2.5M63.4 72.7h4.6M128.3 72.7h2.5M158.7 72.7h2.5M377.5 72.7h2.5M390.5 72.7h2.5M405.6 72.7h2.5M414.3 72.7h2.5M498.8 72.7h6.8M529.1 72.7h2.5M59 74.8h2.5M147.8 74.8h2.5M154.3 74.8h2.5M158.7 74.8h2.5M171.7 74.8h2.5M375.3 74.8h2.5M384 74.8h2.5M390.5 74.8h2.5M407.8 74.8h2.5M416.5 74.8h2.5M464.1 74.8h2.5M513.9 74.8h2.5M520.4 74.8h2.5M526.9 74.8h2.5M531.3 74.8h2.5M537.8 74.8h4.6M552.9 74.8h2.5M128.3 77h2.5M147.8 77h2.5M171.7 77h2.5M351.5 77h2.5M364.5 77h2.5M392.6 77h2.5M399.1 77h2.5M403.5 77h2.5M494.4 77h4.6M500.9 77h2.5M526.9 77h2.5M533.4 77h2.5M559.4 77h2.5M563.8 77h2.5M581.1 77h2.5M230.2 79.2h2.5M347.1 79.2h2.5M353.6 79.2h2.5M364.5 79.2h2.5M368.8 79.2h2.5M375.3 79.2h2.5M379.6 79.2h2.5M384 79.2h2.5M392.6 79.2h2.5M399.1 79.2h2.5M403.5 79.2h2.5M407.8 79.2h2.5M507.4 79.2h2.5M511.8 79.2h2.5M518.3 79.2h2.5M539.9 79.2h2.5M557.3 79.2h4.6M139.2 81.3h2.5M173.8 81.3h2.5M342.8 81.3h2.5M355.8 81.3h2.5M360.1 81.3h2.5M366.6 81.3h2.5M375.3 81.3h2.5M518.3 81.3h4.6M544.3 81.3h4.6M583.3 81.3h2.5M139.2 83.5h4.6M349.3 83.5h2.5M353.6 83.5h9M375.3 83.5h2.5M397 83.5h2.5M403.5 83.5h2.5M533.4 83.5h2.5M568.1 83.5h2.5M178.2 85.7h2.5M340.6 85.7h2.5M345 85.7h4.6M351.5 85.7h2.5M355.8 85.7h4.6M375.3 85.7h2.5M381.8 85.7h4.6M397 85.7h2.5M513.9 85.7h2.5M132.7 87.8h2.5M137 87.8h2.5M180.3 87.8h2.5M336.3 87.8h2.5M358 87.8h4.6M366.6 87.8h2.5M373.1 87.8h2.5M379.6 87.8h2.5M384 87.8h2.5M388.3 87.8h2.5M548.6 87.8h4.6M559.4 87.8h2.5M232.3 90h2.5M368.8 90h2.5M377.5 90h2.5M546.4 90h4.6M559.4 90h2.5M130.5 92.2h4.6M141.3 92.2h2.5M347.1 92.2h4.6M371 92.2h2.5M377.5 92.2h2.5M384 92.2h4.6M412.1 92.2h2.5M550.8 92.2h2.5M559.4 92.2h2.5M565.9 92.2h2.5M126.2 94.3h2.5M134.8 94.3h2.5M139.2 94.3h2.5M325.5 94.3h2.5M332 94.3h2.5M342.8 94.3h2.5M349.3 94.3h2.5M358 94.3h2.5M362.3 94.3h6.8M373.1 94.3h2.5M386.1 94.3h2.5M390.5 94.3h2.5M418.6 94.3h2.5M483.6 94.3h2.5M552.9 94.3h2.5M557.3 94.3h2.5M563.8 94.3h2.5M589.8 94.3h2.5M128.3 96.5h2.5M134.8 96.5h6.8M180.3 96.5h2.5M329.8 96.5h2.5M362.3 96.5h2.5M373.1 96.5h2.5M390.5 96.5h2.5M397 96.5h9M425.1 96.5h2.5M555.1 96.5h4.6M141.3 98.7h2.5M182.5 98.7h2.5M327.6 98.7h6.8M338.5 98.7h2.5M345 98.7h2.5M368.8 98.7h2.5M379.6 98.7h2.5M390.5 98.7h11.1M410 98.7h2.5M550.8 98.7h2.5M130.5 100.8h4.6M336.3 100.8h2.5M388.3 100.8h2.5M392.6 100.8h2.5M399.1 100.8h2.5M410 100.8h2.5M423 100.8h2.5M531.3 100.8h2.5M548.6 100.8h2.5M128.3 103h2.5M141.3 103h2.5M329.8 103h6.8M340.6 103h2.5M377.5 103h2.5M392.6 103h2.5M403.5 103h2.5M412.1 103h2.5M522.6 103h2.5M533.4 103h2.5M546.4 103h2.5M552.9 103h2.5M130.5 105.2h2.5M134.8 105.2h2.5M182.5 105.2h2.5M327.6 105.2h2.5M340.6 105.2h2.5M397 105.2h4.6M410 105.2h2.5M494.4 105.2h2.5M524.8 105.2h2.5M535.6 105.2h4.6M342.8 107.3h2.5M347.1 107.3h4.6M358 107.3h2.5M379.6 107.3h2.5M392.6 107.3h4.6M401.3 107.3h2.5M496.6 107.3h2.5M505.3 107.3h2.5M535.6 107.3h2.5M180.3 109.5h2.5M340.6 109.5h2.5M358 109.5h2.5M494.4 109.5h2.5M498.8 109.5h2.5M511.8 109.5h2.5M535.6 109.5h2.5M338.5 111.7h2.5M349.3 111.7h4.6M379.6 111.7h2.5M492.3 111.7h9M511.8 111.7h2.5M520.4 111.7h2.5M325.5 113.8h2.5M340.6 113.8h2.5M394.8 113.8h2.5M503.1 113.8h2.5M548.6 113.8h2.5M178.2 116h4.6M433.8 116h2.5M490.1 116h2.5M494.4 116h2.5M498.8 116h4.6M509.6 116h2.5M180.3 118.2h2.5M323.3 118.2h2.5M431.6 118.2h4.6M496.6 118.2h2.5M516.1 118.2h2.5M169.5 120.3h2.5M433.8 120.3h2.5M438.1 120.3h2.5M496.6 120.3h2.5M500.9 120.3h4.6M154.3 122.5h2.5M440.3 122.5h2.5M485.8 122.5h4.6M494.4 122.5h4.6M150 124.7h2.5M173.8 124.7h2.5M479.3 124.7h4.6M487.9 124.7h2.5M487.9 126.8h4.6M477.1 129h2.5M481.4 129h2.5M492.3 129h2.5M496.6 129h2.5M163 131.2h2.5M169.5 131.2h2.5M477.1 131.2h4.6M160.8 133.3h9M173.8 133.3h2.5M477.1 133.3h4.6M490.1 133.3h2.5M167.3 135.5h2.5M414.3 135.5h2.5M477.1 135.5h2.5M487.9 135.5h2.5M160.8 137.7h2.5M165.2 137.7h2.5M169.5 137.7h2.5M176 137.7h2.5M474.9 137.7h2.5M487.9 137.7h2.5M167.3 139.8h2.5M217.2 139.8h2.5M468.4 139.8h2.5M477.1 139.8h2.5M483.6 139.8h2.5M468.4 142h4.6M479.3 142h2.5M470.6 146.3h4.6M477.1 146.3h2.5M481.4 146.3h2.5M416.5 148.5h2.5M481.4 148.5h2.5M477.1 150.7h2.5M219.3 152.8h4.6M401.3 152.8h2.5M405.6 152.8h2.5M418.6 152.8h2.5M472.8 152.8h4.6M217.2 155h2.5M238.8 155h2.5M321.1 155h2.5M327.6 155h2.5M332 155h6.8M414.3 155h2.5M420.8 155h2.5M474.9 155h2.5M479.3 155h4.6M219.3 157.2h2.5M223.7 157.2h2.5M228 157.2h2.5M234.5 157.2h4.6M241 157.2h2.5M327.6 157.2h2.5M347.1 157.2h2.5M401.3 157.2h2.5M418.6 157.2h4.6M228 159.3h4.6M236.7 159.3h4.6M327.6 159.3h2.5M345 159.3h2.5M364.5 159.3h2.5M388.3 159.3h2.5M403.5 159.3h2.5M481.4 159.3h2.5M223.7 161.5h2.5M232.3 161.5h2.5M236.7 161.5h9M377.5 161.5h2.5M384 161.5h4.6M394.8 161.5h4.6M403.5 161.5h2.5M414.3 161.5h2.5M418.6 161.5h4.6M241 163.7h4.6M368.8 163.7h4.6M392.6 163.7h2.5M397 163.7h2.5M403.5 163.7h4.6M243.2 165.8h2.5M251.8 165.8h2.5M371 165.8h2.5M377.5 165.8h2.5M392.6 165.8h4.6M401.3 165.8h2.5M405.6 165.8h2.5M412.1 165.8h2.5M418.6 165.8h2.5M371 168h2.5M381.8 168h2.5M403.5 168h2.5M258.3 170.1h2.5M362.3 170.1h2.5M366.6 170.1h2.5M394.8 170.1h2.5M364.5 172.3h2.5M371 172.3h4.6M377.5 172.3h2.5M390.5 172.3h9M405.6 172.3h2.5M260.5 174.5h4.6M267 174.5h2.5M358 174.5h2.5M388.3 174.5h2.5M392.6 174.5h6.8M267 176.6h2.5M273.5 176.6h2.5M368.8 176.6h2.5M375.3 176.6h2.5M394.8 176.6h2.5M258.3 178.8h2.5M262.6 178.8h4.6M364.5 178.8h2.5M384 178.8h2.5M392.6 178.8h2.5M397 178.8h2.5M407.8 178.8h2.5M273.5 181h2.5M375.3 181h2.5M401.3 181h4.6M260.5 183.1h2.5M267 183.1h2.5M366.6 183.1h4.6M375.3 183.1h2.5M379.6 183.1h2.5M397 183.1h2.5M271.3 185.3h2.5M280 185.3h2.5M364.5 185.3h2.5M371 185.3h2.5M392.6 185.3h2.5M401.3 185.3h2.5M405.6 185.3h2.5M410 185.3h2.5M251.8 187.5h2.5M258.3 187.5h2.5M264.8 187.5h4.6M273.5 187.5h2.5M368.8 187.5h2.5M384 187.5h2.5M392.6 187.5h2.5M403.5 187.5h6.8M249.7 189.6h2.5M258.3 189.6h2.5M262.6 189.6h2.5M267 189.6h2.5M273.5 189.6h4.6M364.5 189.6h4.6M379.6 189.6h2.5M390.5 189.6h2.5M399.1 189.6h2.5M405.6 189.6h4.6M412.1 189.6h2.5M241 191.8h2.5M364.5 191.8h2.5M386.1 191.8h2.5M390.5 191.8h2.5M394.8 191.8h2.5M403.5 191.8h2.5M407.8 191.8h2.5M427.3 191.8h2.5M587.6 191.8h2.5M236.7 194h2.5M249.7 194h2.5M258.3 194h2.5M262.6 194h2.5M410 194h2.5M589.8 194h2.5M238.8 196.1h4.6M260.5 196.1h2.5M264.8 196.1h4.6M368.8 196.1h2.5M394.8 196.1h2.5M405.6 196.1h2.5M412.1 196.1h2.5M591.9 196.1h4.6M230.2 198.3h2.5M254 198.3h2.5M271.3 198.3h2.5M386.1 198.3h2.5M392.6 198.3h2.5M401.3 198.3h4.6M410 198.3h4.6M223.7 200.5h4.6M243.2 200.5h2.5M258.3 200.5h2.5M379.6 200.5h2.5M386.1 200.5h2.5M405.6 200.5h2.5M258.3 202.6h2.5M262.6 202.6h2.5M390.5 202.6h2.5M394.8 202.6h4.6M403.5 202.6h2.5M425.1 202.6h4.6M254 204.8h2.5M390.5 204.8h2.5M399.1 204.8h2.5M544.3 204.8h2.5M249.7 207h2.5M258.3 207h2.5M269.1 207h2.5M394.8 207h2.5M249.7 209.1h2.5M269.1 209.1h2.5M384 209.1h4.6M394.8 209.1h2.5M399.1 209.1h4.6M416.5 209.1h2.5M420.8 209.1h2.5M542.1 209.1h2.5M245.3 211.3h2.5M254 211.3h2.5M386.1 211.3h2.5M390.5 211.3h2.5M397 211.3h2.5M403.5 211.3h2.5M416.5 211.3h2.5M420.8 211.3h2.5M537.8 211.3h4.6M544.3 211.3h2.5M607.1 211.3h2.5M247.5 213.5h2.5M251.8 213.5h2.5M390.5 213.5h2.5M423 213.5h2.5M607.1 213.5h2.5M245.3 215.6h2.5M258.3 215.6h2.5M381.8 215.6h2.5M397 215.6h2.5M602.8 215.6h2.5M607.1 215.6h2.5M388.3 217.8h4.6M394.8 217.8h2.5M243.2 220h2.5M251.8 220h2.5M256.1 220h2.5M544.3 220h2.5M607.1 220h2.5M243.2 222.1h2.5M386.1 222.1h2.5M245.3 224.3h2.5M394.8 224.3h2.5M375.3 226.5h2.5M245.3 228.6h4.6M247.5 230.8h2.5M219.3 235.1h2.5M596.3 235.1h2.5M219.3 237.3h2.5M212.8 241.6h2.5M219.3 241.6h2.5M215 246h2.5"/>
<path stroke="#33b08c" d="M535.6 38h2.5M490.1 40.2h2.5M483.6 42.3h2.5M492.3 42.3h2.5M202 44.5h2.5M468.4 44.5h2.5M472.8 44.5h4.6M481.4 44.5h4.6M490.1 44.5h2.5M520.4 44.5h2.5M531.3 44.5h2.5M544.3 44.5h2.5M578.9 44.5h4.6M591.9 44.5h2.5M65.5 46.7h4.6M76.4 46.7h2.5M85 46.7h2.5M386.1 46.7h2.5M394.8 46.7h2.5M466.3 46.7h2.5M470.6 46.7h2.5M481.4 46.7h2.5M485.8 46.7h2.5M529.1 46.7h2.5M561.6 46.7h2.5M591.9 46.7h2.5M611.4 46.7h2.5M69.9 48.8h2.5M113.2 48.8h2.5M219.3 48.8h4.6M386.1 48.8h4.6M444.6 48.8h2.5M457.6 48.8h2.5M470.6 48.8h2.5M474.9 48.8h2.5M535.6 48.8h2.5M539.9 48.8h2.5M563.8 48.8h4.6M574.6 48.8h2.5M578.9 48.8h2.5M598.4 48.8h2.5M604.9 48.8h2.5M37.4 51h2.5M63.4 51h2.5M67.7 51h2.5M72 51h2.5M102.3 51h2.5M210.7 51h2.5M219.3 51h2.5M228 51h2.5M384 51h6.8M392.6 51h2.5M399.1 51h2.5M416.5 51h4.6M427.3 51h2.5M431.6 51h4.6M440.3 51h2.5M453.3 51h6.8M468.4 51h6.8M479.3 51h2.5M535.6 51h2.5M596.3 51h2.5M617.9 51h2.5M30.9 53.2h2.5M39.5 53.2h2.5M61.2 53.2h2.5M67.7 53.2h2.5M100.2 53.2h2.5M381.8 53.2h4.6M394.8 53.2h2.5M407.8 53.2h2.5M412.1 53.2h2.5M416.5 53.2h2.5M429.5 53.2h2.5M433.8 53.2h2.5M442.4 53.2h2.5M464.1 53.2h6.8M477.1 53.2h2.5M481.4 53.2h2.5M487.9 53.2h2.5M574.6 53.2h2.5M589.8 53.2h2.5M620.1 53.2h2.5M646.1 53.2h2.5M33 55.3h2.5M41.7 55.3h4.6M54.7 55.3h2.5M61.2 55.3h4.6M113.2 55.3h2.5M217.2 55.3h2.5M384 55.3h6.8M394.8 55.3h2.5M399.1 55.3h6.8M407.8 55.3h6.8M416.5 55.3h2.5M420.8 55.3h4.6M440.3 55.3h2.5M444.6 55.3h2.5M466.3 55.3h2.5M470.6 55.3h2.5M479.3 55.3h2.5M500.9 55.3h2.5M594.1 55.3h2.5M609.2 55.3h2.5M646.1 55.3h2.5M652.6 55.3h2.5M52.5 57.5h2.5M59 57.5h2.5M67.7 57.5h2.5M397 57.5h2.5M407.8 57.5h4.6M414.3 57.5h2.5M420.8 57.5h4.6M427.3 57.5h6.8M440.3 57.5h2.5M466.3 57.5h2.5M470.6 57.5h2.5M477.1 57.5h2.5M481.4 57.5h2.5M548.6 57.5h2.5M594.1 57.5h2.5M615.7 57.5h4.6M85 59.7h2.5M221.5 59.7h2.5M388.3 59.7h2.5M397 59.7h2.5M412.1 59.7h2.5M425.1 59.7h4.6M433.8 59.7h2.5M438.1 59.7h4.6M483.6 59.7h2.5M487.9 59.7h4.6M516.1 59.7h2.5M85 61.8h2.5M403.5 61.8h2.5M416.5 61.8h2.5M425.1 61.8h4.6M477.1 61.8h2.5M485.8 61.8h2.5M490.1 61.8h2.5M524.8 61.8h2.5M572.4 61.8h2.5M650.4 61.8h2.5M54.7 64h2.5M59 64h4.6M78.5 64h2.5M82.9 64h2.5M115.3 64h2.5M384 64h2.5M392.6 64h2.5M405.6 64h2.5M423 64h2.5M459.8 64h2.5M468.4 64h2.5M485.8 64h4.6M500.9 64h6.8M544.3 64h2.5M587.6 64h2.5M602.8 64h2.5M59 66.2h2.5M78.5 66.2h2.5M158.7 66.2h2.5M390.5 66.2h2.5M401.3 66.2h4.6M429.5 66.2h4.6M485.8 66.2h2.5M496.6 66.2h2.5M524.8 66.2h2.5M544.3 66.2h2.5M555.1 66.2h2.5M574.6 66.2h2.5M637.4 66.2h2.5M72 68.3h4.6M368.8 68.3h2.5M388.3 68.3h2.5M399.1 68.3h2.5M403.5 68.3h2.5M412.1 68.3h2.5M416.5 68.3h2.5M435.9 68.3h2.5M485.8 68.3h2.5M492.3 68.3h4.6M537.8 68.3h2.5M546.4 68.3h2.5M67.7 70.5h2.5M150 70.5h2.5M377.5 70.5h2.5M388.3 70.5h4.6M401.3 70.5h2.5M412.1 70.5h2.5M448.9 70.5h2.5M518.3 70.5h2.5M533.4 70.5h2.5M561.6 70.5h2.5M570.3 70.5h2.5M578.9 70.5h2.5M139.2 72.7h2.5M150 72.7h2.5M234.5 72.7h2.5M329.8 72.7h2.5M336.3 72.7h2.5M366.6 72.7h2.5M379.6 72.7h2.5M384 72.7h2.5M388.3 72.7h2.5M407.8 72.7h2.5M412.1 72.7h2.5M494.4 72.7h2.5M513.9 72.7h2.5M565.9 72.7h2.5M134.8 74.8h2.5M152.2 74.8h2.5M364.5 74.8h2.5M373.1 74.8h2.5M377.5 74.8h2.5M386.1 74.8h4.6M397 74.8h2.5M507.4 74.8h2.5M511.8 74.8h2.5M518.3 74.8h2.5M542.1 74.8h2.5M555.1 74.8h2.5M561.6 74.8h2.5M570.3 74.8h2.5M145.7 77h2.5M340.6 77h2.5M375.3 77h2.5M379.6 77h2.5M507.4 77h2.5M513.9 77h2.5M531.3 77h2.5M535.6 77h4.6M542.1 77h2.5M546.4 77h2.5M565.9 77h2.5M130.5 79.2h2.5M134.8 79.2h2.5M173.8 79.2h2.5M236.7 79.2h2.5M325.5 79.2h2.5M351.5 79.2h2.5M355.8 79.2h2.5M360.1 79.2h4.6M366.6 79.2h2.5M546.4 79.2h2.5M555.1 79.2h2.5M581.1 79.2h4.6M141.3 81.3h2.5M334.1 81.3h2.5M340.6 81.3h2.5M353.6 81.3h2.5M364.5 81.3h2.5M371 81.3h2.5M381.8 81.3h2.5M388.3 81.3h2.5M557.3 81.3h2.5M565.9 81.3h2.5M236.7 83.5h2.5M245.3 83.5h2.5M336.3 83.5h2.5M342.8 83.5h6.8M364.5 83.5h2.5M379.6 83.5h2.5M542.1 83.5h2.5M555.1 83.5h2.5M559.4 83.5h9M581.1 83.5h2.5M587.6 83.5h2.5M130.5 85.7h2.5M141.3 85.7h2.5M206.3 85.7h2.5M338.5 85.7h2.5M353.6 85.7h2.5M364.5 85.7h2.5M373.1 85.7h2.5M386.1 85.7h2.5M539.9 85.7h2.5M552.9 85.7h2.5M570.3 85.7h2.5M583.3 85.7h2.5M134.8 87.8h2.5M139.2 87.8h2.5M191.2 87.8h2.5M238.8 87.8h2.5M338.5 87.8h4.6M345 87.8h2.5M351.5 87.8h4.6M403.5 87.8h2.5M561.6 87.8h2.5M132.7 90h2.5M178.2 90h2.5M225.8 90h2.5M238.8 90h2.5M338.5 90h4.6M345 90h2.5M351.5 90h2.5M360.1 90h2.5M366.6 90h2.5M375.3 90h2.5M557.3 90h2.5M574.6 90h2.5M126.2 92.2h2.5M182.5 92.2h2.5M338.5 92.2h2.5M345 92.2h2.5M362.3 92.2h2.5M366.6 92.2h2.5M373.1 92.2h2.5M403.5 92.2h2.5M410 92.2h2.5M414.3 92.2h4.6M563.8 92.2h2.5M572.4 92.2h2.5M578.9 92.2h2.5M143.5 94.3h2.5M180.3 94.3h4.6M217.2 94.3h2.5M230.2 94.3h2.5M327.6 94.3h4.6M338.5 94.3h2.5M345 94.3h2.5M570.3 94.3h2.5M325.5 96.5h2.5M334.1 96.5h2.5M342.8 96.5h2.5M364.5 96.5h2.5M375.3 96.5h2.5M416.5 96.5h2.5M420.8 96.5h2.5M559.4 96.5h4.6M565.9 96.5h4.6M325.5 98.7h2.5M336.3 98.7h2.5M340.6 98.7h2.5M407.8 98.7h2.5M418.6 98.7h2.5M423 98.7h2.5M531.3 98.7h4.6M552.9 98.7h2.5M557.3 98.7h4.6M587.6 98.7h2.5M180.3 100.8h2.5M332 100.8h4.6M338.5 100.8h2.5M371 100.8h2.5M375.3 100.8h2.5M397 100.8h2.5M401.3 100.8h2.5M405.6 100.8h2.5M414.3 100.8h4.6M550.8 100.8h2.5M557.3 100.8h2.5M130.5 103h2.5M180.3 103h4.6M186.8 103h2.5M336.3 103h2.5M368.8 103h2.5M379.6 103h4.6M394.8 103h2.5M407.8 103h2.5M516.1 103h2.5M520.4 103h2.5M132.7 105.2h2.5M180.3 105.2h2.5M206.3 105.2h2.5M325.5 105.2h2.5M329.8 105.2h2.5M334.1 105.2h2.5M388.3 105.2h2.5M392.6 105.2h2.5M401.3 105.2h4.6M412.1 105.2h2.5M520.4 105.2h2.5M526.9 105.2h2.5M548.6 105.2h4.6M132.7 107.3h2.5M345 107.3h2.5M351.5 107.3h2.5M494.4 107.3h2.5M498.8 107.3h4.6M507.4 107.3h6.8M533.4 107.3h2.5M544.3 107.3h2.5M182.5 109.5h2.5M416.5 109.5h2.5M496.6 109.5h2.5M500.9 109.5h11.1M516.1 109.5h2.5M520.4 109.5h2.5M524.8 109.5h2.5M332 111.7h2.5M420.8 111.7h2.5M427.3 111.7h4.6M500.9 111.7h4.6M509.6 111.7h2.5M516.1 111.7h2.5M526.9 111.7h2.5M533.4 111.7h2.5M184.7 113.8h2.5M202 113.8h2.5M427.3 113.8h2.5M494.4 113.8h2.5M498.8 113.8h4.6M509.6 113.8h2.5M516.1 113.8h2.5M522.6 113.8h2.5M531.3 113.8h2.5M435.9 116h2.5M492.3 116h2.5M520.4 116h4.6M546.4 116h2.5M195.5 118.2h2.5M490.1 118.2h6.8M431.6 120.3h2.5M440.3 120.3h2.5M498.8 122.5h2.5M529.1 122.5h2.5M152.2 124.7h2.5M490.1 124.7h2.5M494.4 124.7h4.6M537.8 124.7h2.5M496.6 126.8h2.5M483.6 129h2.5M490.1 129h2.5M494.4 129h2.5M158.7 131.2h2.5M189 131.2h2.5M490.1 131.2h2.5M494.4 131.2h2.5M529.1 131.2h2.5M169.5 133.3h2.5M191.2 133.3h2.5M485.8 133.3h4.6M492.3 133.3h2.5M158.7 135.5h2.5M176 135.5h2.5M184.7 135.5h2.5M191.2 135.5h2.5M217.2 135.5h6.8M167.3 137.7h2.5M173.8 137.7h2.5M215 137.7h4.6M483.6 137.7h2.5M165.2 139.8h2.5M171.7 142h4.6M195.5 142h2.5M477.1 142h2.5M481.4 142h4.6M479.3 144.2h4.6M215 148.5h2.5M474.9 148.5h2.5M479.3 148.5h2.5M529.1 148.5h2.5M217.2 150.7h2.5M472.8 150.7h4.6M212.8 152.8h2.5M217.2 152.8h2.5M407.8 152.8h4.6M414.3 152.8h2.5M477.1 152.8h2.5M219.3 155h4.6M236.7 155h2.5M401.3 155h6.8M477.1 155h2.5M221.5 157.2h2.5M238.8 157.2h2.5M321.1 157.2h2.5M338.5 157.2h2.5M342.8 157.2h2.5M403.5 157.2h6.8M412.1 157.2h2.5M416.5 157.2h2.5M479.3 157.2h2.5M219.3 159.3h2.5M225.8 159.3h2.5M249.7 159.3h2.5M405.6 159.3h2.5M414.3 159.3h4.6M225.8 161.5h6.8M234.5 161.5h2.5M245.3 161.5h2.5M249.7 161.5h2.5M329.8 161.5h2.5M334.1 161.5h2.5M388.3 161.5h2.5M392.6 161.5h2.5M407.8 161.5h2.5M234.5 163.7h2.5M238.8 163.7h2.5M249.7 163.7h2.5M358 163.7h2.5M388.3 163.7h4.6M401.3 163.7h2.5M410 163.7h6.8M241 165.8h2.5M245.3 165.8h2.5M364.5 165.8h2.5M399.1 165.8h2.5M245.3 168h4.6M251.8 168h2.5M254 170.1h2.5M364.5 170.1h2.5M371 170.1h2.5M377.5 170.1h2.5M390.5 170.1h4.6M407.8 170.1h2.5M258.3 172.3h2.5M262.6 172.3h2.5M358 172.3h2.5M375.3 172.3h2.5M264.8 174.5h2.5M273.5 174.5h2.5M360.1 174.5h2.5M368.8 174.5h2.5M377.5 174.5h2.5M260.5 176.6h6.8M277.8 176.6h2.5M360.1 176.6h6.8M254 178.8h4.6M273.5 178.8h2.5M251.8 181h2.5M262.6 181h2.5M269.1 181h4.6M277.8 181h2.5M282.1 181h2.5M373.1 181h2.5M390.5 181h2.5M407.8 181h2.5M251.8 183.1h4.6M269.1 183.1h2.5M277.8 183.1h4.6M364.5 183.1h2.5M392.6 183.1h4.6M401.3 183.1h2.5M405.6 183.1h2.5M251.8 185.3h2.5M256.1 185.3h2.5M264.8 185.3h2.5M273.5 185.3h2.5M394.8 185.3h2.5M399.1 185.3h2.5M403.5 185.3h2.5M260.5 187.5h2.5M271.3 187.5h2.5M275.6 187.5h2.5M364.5 187.5h4.6M397 187.5h2.5M251.8 189.6h4.6M264.8 189.6h2.5M394.8 189.6h2.5M410 189.6h2.5M587.6 189.6h2.5M249.7 191.8h4.6M256.1 191.8h2.5M262.6 191.8h6.8M273.5 191.8h2.5M397 191.8h2.5M232.3 194h2.5M245.3 194h2.5M260.5 194h2.5M271.3 194h6.8M390.5 194h2.5M405.6 194h2.5M425.1 194h2.5M587.6 194h2.5M236.7 196.1h2.5M256.1 196.1h4.6M429.5 196.1h2.5M219.3 198.3h4.6M225.8 198.3h2.5M238.8 198.3h6.8M249.7 198.3h4.6M256.1 198.3h2.5M267 198.3h4.6M418.6 198.3h2.5M219.3 200.5h2.5M245.3 200.5h2.5M251.8 200.5h2.5M262.6 200.5h4.6M273.5 200.5h2.5M418.6 200.5h2.5M423 200.5h4.6M219.3 202.6h2.5M247.5 202.6h4.6M254 202.6h4.6M260.5 202.6h2.5M264.8 202.6h9M418.6 202.6h2.5M249.7 204.8h2.5M262.6 204.8h2.5M271.3 204.8h2.5M628.7 204.8h2.5M254 207h4.6M262.6 207h2.5M267 207h2.5M271.3 207h2.5M401.3 207h2.5M418.6 207h4.6M628.7 207h2.5M254 209.1h2.5M258.3 209.1h2.5M397 209.1h2.5M418.6 209.1h2.5M423 209.1h2.5M537.8 209.1h2.5M388.3 211.3h2.5M394.8 211.3h2.5M401.3 211.3h2.5M256.1 213.5h2.5M260.5 213.5h2.5M539.9 213.5h2.5M247.5 215.6h2.5M254 215.6h2.5M539.9 215.6h2.5M604.9 215.6h2.5M247.5 217.8h6.8M397 217.8h2.5M607.1 217.8h2.5M247.5 220h2.5M604.9 220h2.5M245.3 222.1h6.8M254 222.1h2.5M390.5 222.1h2.5M544.3 222.1h2.5M602.8 222.1h2.5M243.2 224.3h2.5M607.1 224.3h2.5M245.3 226.5h2.5M249.7 226.5h2.5M386.1 228.6h2.5M245.3 230.8h2.5M212.8 243.8h4.6M212.8 246h2.5M215 248.1h4.6M217.2 256.8h2.5"/>
<path stroke="#3cb786" d="M516.1 35.8h2.5M494.4 38h2.5M518.3 38h4.6M531.3 38h4.6M522.6 40.2h2.5M535.6 40.2h2.5M208.5 42.3h2.5M485.8 42.3h4.6M503.1 42.3h2.5M511.8 42.3h4.6M522.6 42.3h2.5M533.4 42.3h2.5M544.3 42.3h2.5M548.6 42.3h2.5M555.1 42.3h2.5M563.8 42.3h2.5M587.6 42.3h2.5M199.8 44.5h2.5M477.1 44.5h2.5M485.8 44.5h2.5M496.6 44.5h2.5M509.6 44.5h2.5M537.8 44.5h2.5M542.1 44.5h2.5M583.3 44.5h4.6M602.8 44.5h2.5M72 46.7h2.5M78.5 46.7h2.5M180.3 46.7h2.5M208.5 46.7h2.5M217.2 46.7h2.5M379.6 46.7h2.5M474.9 46.7h2.5M487.9 46.7h2.5M494.4 46.7h2.5M498.8 46.7h2.5M507.4 46.7h2.5M513.9 46.7h2.5M555.1 46.7h2.5M568.1 46.7h2.5M581.1 46.7h9M30.9 48.8h2.5M59 48.8h2.5M63.4 48.8h4.6M74.2 48.8h4.6M98 48.8h6.8M106.7 48.8h2.5M111 48.8h2.5M202 48.8h4.6M212.8 48.8h4.6M373.1 48.8h2.5M381.8 48.8h2.5M392.6 48.8h2.5M397 48.8h6.8M464.1 48.8h2.5M472.8 48.8h2.5M479.3 48.8h2.5M503.1 48.8h4.6M520.4 48.8h4.6M526.9 48.8h2.5M561.6 48.8h2.5M568.1 48.8h2.5M572.4 48.8h2.5M583.3 48.8h2.5M589.8 48.8h4.6M607.1 48.8h2.5M611.4 48.8h2.5M620.1 48.8h2.5M633.1 48.8h2.5M639.6 48.8h2.5M646.1 48.8h4.6M30.9 51h2.5M54.7 51h2.5M61.2 51h2.5M65.5 51h2.5M74.2 51h2.5M87.2 51h2.5M111 51h2.5M119.7 51h2.5M139.2 51h2.5M212.8 51h2.5M373.1 51h2.5M401.3 51h4.6M425.1 51h2.5M435.9 51h2.5M477.1 51h2.5M490.1 51h2.5M503.1 51h2.5M522.6 51h2.5M539.9 51h2.5M557.3 51h2.5M561.6 51h2.5M600.6 51h2.5M615.7 51h2.5M633.1 51h2.5M637.4 51h2.5M648.2 51h2.5M35.2 53.2h2.5M59 53.2h2.5M65.5 53.2h2.5M69.9 53.2h2.5M76.4 53.2h2.5M106.7 53.2h4.6M215 53.2h6.8M228 53.2h4.6M399.1 53.2h2.5M405.6 53.2h2.5M425.1 53.2h2.5M431.6 53.2h2.5M435.9 53.2h2.5M461.9 53.2h2.5M472.8 53.2h2.5M479.3 53.2h2.5M485.8 53.2h2.5M492.3 53.2h2.5M498.8 53.2h2.5M509.6 53.2h2.5M568.1 53.2h2.5M578.9 53.2h2.5M604.9 53.2h2.5M611.4 53.2h9M635.2 53.2h2.5M30.9 55.3h2.5M37.4 55.3h4.6M52.5 55.3h2.5M59 55.3h2.5M67.7 55.3h4.6M82.9 55.3h2.5M106.7 55.3h2.5M117.5 55.3h2.5M197.7 55.3h2.5M223.7 55.3h2.5M228 55.3h2.5M390.5 55.3h2.5M429.5 55.3h2.5M492.3 55.3h2.5M516.1 55.3h6.8M542.1 55.3h2.5M568.1 55.3h2.5M576.8 55.3h2.5M581.1 55.3h2.5M613.6 55.3h2.5M639.6 55.3h2.5M643.9 55.3h2.5M650.4 55.3h2.5M39.5 57.5h6.8M63.4 57.5h2.5M69.9 57.5h2.5M85 57.5h2.5M89.3 57.5h2.5M104.5 57.5h2.5M115.3 57.5h2.5M119.7 57.5h2.5M128.3 57.5h2.5M210.7 57.5h2.5M215 57.5h4.6M228 57.5h2.5M392.6 57.5h2.5M405.6 57.5h2.5M438.1 57.5h2.5M442.4 57.5h2.5M474.9 57.5h2.5M490.1 57.5h2.5M498.8 57.5h4.6M516.1 57.5h4.6M522.6 57.5h2.5M570.3 57.5h2.5M609.2 57.5h4.6M620.1 57.5h2.5M633.1 57.5h2.5M639.6 57.5h2.5M643.9 57.5h4.6M650.4 57.5h4.6M59 59.7h9M76.4 59.7h2.5M82.9 59.7h2.5M93.7 59.7h2.5M121.8 59.7h2.5M156.5 59.7h2.5M215 59.7h2.5M219.3 59.7h2.5M228 59.7h2.5M355.8 59.7h2.5M366.6 59.7h2.5M384 59.7h2.5M390.5 59.7h2.5M407.8 59.7h4.6M481.4 59.7h2.5M492.3 59.7h2.5M503.1 59.7h2.5M520.4 59.7h2.5M524.8 59.7h2.5M557.3 59.7h2.5M563.8 59.7h2.5M578.9 59.7h2.5M589.8 59.7h2.5M600.6 59.7h2.5M624.4 59.7h2.5M641.7 59.7h4.6M650.4 59.7h2.5M56.9 61.8h2.5M61.2 61.8h2.5M74.2 61.8h2.5M78.5 61.8h2.5M93.7 61.8h2.5M128.3 61.8h2.5M349.3 61.8h4.6M388.3 61.8h2.5M397 61.8h2.5M440.3 61.8h2.5M487.9 61.8h2.5M492.3 61.8h4.6M509.6 61.8h2.5M522.6 61.8h2.5M535.6 61.8h2.5M550.8 61.8h2.5M559.4 61.8h2.5M563.8 61.8h2.5M585.4 61.8h2.5M598.4 61.8h4.6M628.7 61.8h2.5M646.1 61.8h4.6M63.4 64h2.5M67.7 64h4.6M89.3 64h2.5M219.3 64h2.5M379.6 64h4.6M399.1 64h2.5M407.8 64h2.5M427.3 64h2.5M490.1 64h4.6M518.3 64h2.5M542.1 64h2.5M546.4 64h2.5M557.3 64h2.5M574.6 64h2.5M581.1 64h2.5M585.4 64h2.5M596.3 64h2.5M600.6 64h2.5M607.1 64h4.6M628.7 64h2.5M637.4 64h2.5M61.2 66.2h4.6M366.6 66.2h2.5M375.3 66.2h2.5M379.6 66.2h6.8M392.6 66.2h2.5M433.8 66.2h2.5M492.3 66.2h2.5M498.8 66.2h2.5M503.1 66.2h2.5M507.4 66.2h2.5M513.9 66.2h4.6M520.4 66.2h2.5M529.1 66.2h2.5M542.1 66.2h2.5M550.8 66.2h2.5M570.3 66.2h2.5M581.1 66.2h2.5M61.2 68.3h2.5M65.5 68.3h2.5M132.7 68.3h2.5M176 68.3h2.5M334.1 68.3h4.6M366.6 68.3h2.5M438.1 68.3h2.5M500.9 68.3h4.6M520.4 68.3h4.6M526.9 68.3h2.5M533.4 68.3h4.6M555.1 68.3h2.5M576.8 68.3h2.5M69.9 70.5h2.5M156.5 70.5h4.6M189 70.5h2.5M223.7 70.5h2.5M362.3 70.5h2.5M368.8 70.5h4.6M394.8 70.5h4.6M420.8 70.5h2.5M438.1 70.5h2.5M522.6 70.5h2.5M546.4 70.5h2.5M565.9 70.5h2.5M583.3 70.5h2.5M59 72.7h4.6M143.5 72.7h2.5M173.8 72.7h2.5M221.5 72.7h2.5M358 72.7h2.5M505.3 72.7h2.5M511.8 72.7h2.5M537.8 72.7h4.6M550.8 72.7h2.5M561.6 72.7h4.6M572.4 72.7h2.5M578.9 72.7h2.5M63.4 74.8h2.5M121.8 74.8h2.5M368.8 74.8h2.5M516.1 74.8h2.5M524.8 74.8h2.5M533.4 74.8h4.6M574.6 74.8h2.5M578.9 74.8h2.5M141.3 77h2.5M173.8 77h2.5M178.2 77h2.5M230.2 77h2.5M236.7 77h2.5M241 77h2.5M323.3 77h2.5M334.1 77h2.5M349.3 77h2.5M353.6 77h6.8M366.6 77h9M516.1 77h2.5M548.6 77h2.5M552.9 77h2.5M576.8 77h2.5M617.9 77h2.5M176 79.2h2.5M245.3 79.2h2.5M338.5 79.2h2.5M342.8 79.2h4.6M561.6 79.2h2.5M570.3 79.2h4.6M576.8 79.2h2.5M589.8 79.2h2.5M132.7 81.3h2.5M243.2 81.3h2.5M336.3 81.3h4.6M345 81.3h2.5M561.6 81.3h4.6M570.3 81.3h2.5M581.1 81.3h2.5M585.4 81.3h2.5M230.2 83.5h4.6M340.6 83.5h2.5M544.3 83.5h2.5M557.3 83.5h2.5M572.4 83.5h2.5M578.9 83.5h2.5M126.2 85.7h4.6M139.2 85.7h2.5M243.2 85.7h2.5M336.3 85.7h2.5M342.8 85.7h2.5M349.3 85.7h2.5M360.1 85.7h4.6M563.8 85.7h2.5M568.1 85.7h2.5M572.4 85.7h2.5M576.8 85.7h2.5M581.1 85.7h2.5M126.2 87.8h2.5M225.8 87.8h2.5M342.8 87.8h2.5M364.5 87.8h2.5M546.4 87.8h2.5M557.3 87.8h2.5M563.8 87.8h2.5M581.1 87.8h2.5M589.8 87.8h2.5M130.5 90h2.5M561.6 90h4.6M587.6 90h2.5M134.8 92.2h2.5M189 92.2h2.5M232.3 92.2h2.5M340.6 92.2h2.5M351.5 92.2h2.5M368.8 92.2h2.5M570.3 92.2h2.5M576.8 92.2h2.5M228 94.3h2.5M334.1 94.3h4.6M340.6 94.3h2.5M351.5 94.3h2.5M355.8 94.3h2.5M375.3 94.3h2.5M559.4 94.3h2.5M130.5 96.5h2.5M182.5 96.5h2.5M327.6 96.5h2.5M332 96.5h2.5M360.1 96.5h2.5M570.3 96.5h2.5M128.3 98.7h2.5M180.3 98.7h2.5M364.5 98.7h2.5M401.3 98.7h2.5M405.6 98.7h2.5M412.1 98.7h2.5M416.5 98.7h2.5M425.1 98.7h2.5M529.1 98.7h2.5M555.1 98.7h2.5M561.6 98.7h2.5M128.3 100.8h2.5M182.5 100.8h4.6M325.5 100.8h2.5M329.8 100.8h2.5M403.5 100.8h2.5M412.1 100.8h2.5M418.6 100.8h2.5M425.1 100.8h2.5M526.9 100.8h2.5M546.4 100.8h2.5M583.3 100.8h4.6M327.6 103h2.5M384 103h2.5M388.3 103h2.5M401.3 103h2.5M410 103h2.5M414.3 103h2.5M418.6 103h4.6M425.1 103h2.5M526.9 103h2.5M542.1 103h4.6M548.6 103h2.5M557.3 103h2.5M184.7 105.2h2.5M384 105.2h2.5M394.8 105.2h2.5M405.6 105.2h2.5M414.3 105.2h2.5M418.6 105.2h4.6M513.9 105.2h4.6M529.1 105.2h2.5M539.9 105.2h2.5M544.3 105.2h2.5M563.8 105.2h2.5M182.5 107.3h2.5M195.5 107.3h2.5M397 107.3h4.6M425.1 107.3h6.8M513.9 107.3h4.6M520.4 107.3h4.6M531.3 107.3h2.5M539.9 107.3h2.5M546.4 107.3h2.5M552.9 107.3h2.5M403.5 109.5h2.5M429.5 109.5h2.5M492.3 109.5h2.5M513.9 109.5h2.5M518.3 109.5h2.5M522.6 109.5h2.5M526.9 109.5h4.6M565.9 109.5h2.5M184.7 111.7h2.5M193.3 111.7h2.5M505.3 111.7h4.6M513.9 111.7h2.5M522.6 111.7h2.5M529.1 111.7h4.6M542.1 111.7h2.5M578.9 111.7h2.5M182.5 113.8h2.5M496.6 113.8h2.5M505.3 113.8h4.6M524.8 113.8h2.5M570.3 113.8h2.5M182.5 116h2.5M186.8 116h2.5M197.7 116h2.5M427.3 116h6.8M505.3 116h2.5M511.8 116h4.6M182.5 118.2h4.6M193.3 118.2h2.5M487.9 118.2h2.5M498.8 118.2h4.6M513.9 118.2h2.5M524.8 118.2h2.5M529.1 118.2h2.5M197.7 120.3h2.5M490.1 120.3h6.8M498.8 120.3h2.5M509.6 120.3h2.5M516.1 120.3h2.5M535.6 120.3h2.5M548.6 120.3h2.5M197.7 122.5h2.5M503.1 122.5h2.5M520.4 122.5h2.5M498.8 124.7h2.5M503.1 124.7h2.5M513.9 124.7h2.5M492.3 126.8h2.5M498.8 126.8h2.5M507.4 126.8h2.5M518.3 126.8h4.6M487.9 129h2.5M518.3 129h2.5M522.6 129h4.6M529.1 129h2.5M533.4 129h2.5M171.7 131.2h2.5M485.8 131.2h2.5M492.3 131.2h2.5M498.8 131.2h4.6M513.9 131.2h2.5M494.4 133.3h2.5M186.8 135.5h4.6M212.8 135.5h2.5M483.6 135.5h4.6M492.3 135.5h2.5M163 137.7h2.5M171.7 137.7h2.5M178.2 137.7h4.6M186.8 137.7h2.5M212.8 137.7h2.5M173.8 139.8h4.6M180.3 139.8h2.5M511.8 139.8h2.5M169.5 142h2.5M176 142h2.5M180.3 142h2.5M189 142h2.5M193.3 142h2.5M520.4 146.3h2.5M217.2 148.5h2.5M414.3 148.5h2.5M477.1 148.5h2.5M518.3 148.5h2.5M210.7 150.7h2.5M479.3 150.7h2.5M526.9 150.7h2.5M215 152.8h2.5M526.9 152.8h2.5M212.8 155h2.5M323.3 155h2.5M407.8 155h2.5M416.5 155h4.6M483.6 155h2.5M217.2 157.2h2.5M329.8 157.2h6.8M410 157.2h2.5M414.3 157.2h2.5M481.4 157.2h4.6M234.5 159.3h2.5M241 159.3h2.5M323.3 159.3h2.5M340.6 159.3h2.5M407.8 159.3h6.8M483.6 159.3h2.5M212.8 161.5h2.5M251.8 161.5h4.6M338.5 161.5h2.5M371 161.5h2.5M405.6 161.5h2.5M245.3 163.7h4.6M254 163.7h2.5M238.8 165.8h2.5M247.5 165.8h2.5M254 165.8h2.5M397 165.8h2.5M243.2 168h2.5M254 168h2.5M366.6 168h2.5M390.5 168h2.5M245.3 170.1h2.5M249.7 170.1h2.5M256.1 170.1h2.5M260.5 170.1h2.5M360.1 170.1h2.5M264.8 172.3h2.5M251.8 174.5h2.5M386.1 174.5h2.5M401.3 174.5h2.5M256.1 176.6h2.5M384 176.6h2.5M251.8 178.8h2.5M269.1 178.8h4.6M399.1 178.8h2.5M254 181h6.8M241 183.1h2.5M256.1 183.1h2.5M282.1 183.1h2.5M249.7 185.3h2.5M254 185.3h2.5M262.6 185.3h2.5M267 185.3h2.5M277.8 185.3h2.5M241 187.5h2.5M254 187.5h4.6M262.6 187.5h2.5M236.7 189.6h2.5M247.5 189.6h2.5M578.9 189.6h2.5M236.7 191.8h2.5M245.3 191.8h4.6M258.3 191.8h2.5M401.3 191.8h2.5M412.1 191.8h2.5M425.1 191.8h2.5M212.8 194h2.5M228 194h2.5M247.5 194h2.5M251.8 194h2.5M423 194h2.5M429.5 194h2.5M228 196.1h2.5M243.2 196.1h2.5M254 196.1h2.5M269.1 196.1h2.5M420.8 196.1h2.5M427.3 196.1h2.5M217.2 198.3h2.5M223.7 198.3h2.5M247.5 198.3h2.5M258.3 198.3h2.5M262.6 198.3h2.5M221.5 200.5h2.5M254 200.5h4.6M271.3 200.5h2.5M420.8 200.5h2.5M251.8 202.6h2.5M381.8 202.6h2.5M251.8 204.8h2.5M258.3 204.8h4.6M264.8 204.8h4.6M416.5 207h2.5M423 207h2.5M260.5 209.1h2.5M264.8 209.1h2.5M425.1 209.1h2.5M251.8 211.3h2.5M258.3 211.3h4.6M418.6 211.3h2.5M423 211.3h2.5M249.7 213.5h2.5M258.3 213.5h2.5M401.3 213.5h2.5M418.6 213.5h2.5M249.7 215.6h2.5M245.3 217.8h2.5M249.7 220h2.5M397 220h2.5M602.8 220h2.5M251.8 222.1h2.5M247.5 226.5h2.5M251.8 226.5h2.5M600.6 226.5h2.5M249.7 228.6h2.5M217.2 233h2.5M215 235.1h2.5M212.8 239.5h2.5M217.2 246h2.5M217.2 250.3h2.5"/>
<path stroke="#48bf80" d="M513.9 35.8h2.5M518.3 35.8h2.5M522.6 35.8h4.6M529.1 35.8h6.8M498.8 38h2.5M503.1 38h2.5M507.4 38h2.5M511.8 38h2.5M529.1 38h2.5M492.3 40.2h4.6M500.9 40.2h4.6M509.6 40.2h2.5M513.9 40.2h2.5M518.3 40.2h2.5M524.8 40.2h2.5M531.3 40.2h2.5M193.3 42.3h6.8M204.2 42.3h4.6M464.1 42.3h2.5M490.1 42.3h2.5M494.4 42.3h2.5M505.3 42.3h2.5M518.3 42.3h4.6M524.8 42.3h4.6M531.3 42.3h2.5M537.8 42.3h4.6M546.4 42.3h2.5M552.9 42.3h2.5M565.9 42.3h2.5M186.8 44.5h2.5M208.5 44.5h2.5M487.9 44.5h2.5M492.3 44.5h2.5M500.9 44.5h2.5M505.3 44.5h2.5M529.1 44.5h2.5M533.4 44.5h2.5M539.9 44.5h2.5M552.9 44.5h4.6M559.4 44.5h2.5M563.8 44.5h4.6M587.6 44.5h2.5M598.4 44.5h2.5M63.4 46.7h2.5M80.7 46.7h4.6M119.7 46.7h2.5M202 46.7h2.5M212.8 46.7h4.6M384 46.7h2.5M388.3 46.7h4.6M490.1 46.7h2.5M500.9 46.7h2.5M509.6 46.7h2.5M520.4 46.7h2.5M524.8 46.7h4.6M535.6 46.7h2.5M546.4 46.7h4.6M552.9 46.7h2.5M565.9 46.7h2.5M570.3 46.7h2.5M574.6 46.7h2.5M578.9 46.7h2.5M589.8 46.7h2.5M604.9 46.7h2.5M613.6 46.7h6.8M61.2 48.8h2.5M67.7 48.8h2.5M82.9 48.8h2.5M91.5 48.8h2.5M95.8 48.8h2.5M108.8 48.8h2.5M117.5 48.8h2.5M121.8 48.8h2.5M130.5 48.8h2.5M193.3 48.8h2.5M197.7 48.8h4.6M208.5 48.8h4.6M494.4 48.8h2.5M498.8 48.8h2.5M509.6 48.8h4.6M518.3 48.8h2.5M524.8 48.8h2.5M531.3 48.8h2.5M542.1 48.8h2.5M585.4 48.8h4.6M596.3 48.8h2.5M602.8 48.8h2.5M630.9 48.8h2.5M635.2 48.8h4.6M643.9 48.8h2.5M650.4 48.8h2.5M91.5 51h4.6M108.8 51h2.5M117.5 51h2.5M132.7 51h2.5M143.5 51h2.5M197.7 51h2.5M223.7 51h4.6M230.2 51h2.5M381.8 51h2.5M483.6 51h2.5M496.6 51h2.5M505.3 51h2.5M516.1 51h4.6M526.9 51h2.5M531.3 51h2.5M537.8 51h2.5M546.4 51h2.5M552.9 51h4.6M581.1 51h2.5M604.9 51h2.5M609.2 51h2.5M613.6 51h2.5M622.2 51h2.5M635.2 51h2.5M639.6 51h4.6M650.4 51h2.5M33 53.2h2.5M37.4 53.2h2.5M41.7 53.2h2.5M72 53.2h4.6M80.7 53.2h4.6M95.8 53.2h4.6M128.3 53.2h2.5M189 53.2h4.6M221.5 53.2h6.8M371 53.2h4.6M377.5 53.2h4.6M386.1 53.2h6.8M444.6 53.2h2.5M494.4 53.2h2.5M529.1 53.2h6.8M537.8 53.2h2.5M546.4 53.2h13.3M563.8 53.2h2.5M585.4 53.2h4.6M594.1 53.2h2.5M600.6 53.2h2.5M628.7 53.2h6.8M648.2 53.2h6.8M93.7 55.3h2.5M102.3 55.3h2.5M139.2 55.3h2.5M165.2 55.3h2.5M186.8 55.3h2.5M191.2 55.3h2.5M212.8 55.3h4.6M219.3 55.3h4.6M230.2 55.3h6.8M381.8 55.3h2.5M397 55.3h2.5M427.3 55.3h2.5M433.8 55.3h2.5M438.1 55.3h2.5M442.4 55.3h2.5M503.1 55.3h2.5M513.9 55.3h2.5M529.1 55.3h2.5M557.3 55.3h4.6M565.9 55.3h2.5M572.4 55.3h2.5M578.9 55.3h2.5M583.3 55.3h2.5M589.8 55.3h4.6M600.6 55.3h2.5M607.1 55.3h2.5M620.1 55.3h4.6M628.7 55.3h2.5M633.1 55.3h2.5M648.2 55.3h2.5M72 57.5h4.6M80.7 57.5h2.5M95.8 57.5h2.5M102.3 57.5h2.5M124 57.5h2.5M134.8 57.5h2.5M150 57.5h2.5M212.8 57.5h2.5M232.3 57.5h2.5M366.6 57.5h2.5M371 57.5h2.5M381.8 57.5h2.5M386.1 57.5h4.6M401.3 57.5h2.5M483.6 57.5h2.5M494.4 57.5h4.6M509.6 57.5h2.5M513.9 57.5h2.5M520.4 57.5h2.5M524.8 57.5h2.5M531.3 57.5h2.5M542.1 57.5h2.5M546.4 57.5h2.5M561.6 57.5h2.5M572.4 57.5h2.5M581.1 57.5h4.6M604.9 57.5h2.5M613.6 57.5h2.5M624.4 57.5h4.6M648.2 57.5h2.5M67.7 59.7h2.5M78.5 59.7h2.5M100.2 59.7h2.5M104.5 59.7h2.5M119.7 59.7h2.5M150 59.7h2.5M180.3 59.7h2.5M230.2 59.7h2.5M381.8 59.7h2.5M403.5 59.7h4.6M435.9 59.7h2.5M494.4 59.7h2.5M500.9 59.7h2.5M513.9 59.7h2.5M522.6 59.7h2.5M537.8 59.7h2.5M542.1 59.7h2.5M548.6 59.7h2.5M572.4 59.7h2.5M576.8 59.7h2.5M585.4 59.7h2.5M594.1 59.7h4.6M622.2 59.7h2.5M626.6 59.7h4.6M633.1 59.7h2.5M637.4 59.7h2.5M652.6 59.7h2.5M67.7 61.8h4.6M76.4 61.8h2.5M87.2 61.8h4.6M100.2 61.8h2.5M206.3 61.8h4.6M212.8 61.8h2.5M217.2 61.8h4.6M223.7 61.8h2.5M353.6 61.8h4.6M360.1 61.8h2.5M373.1 61.8h2.5M379.6 61.8h2.5M384 61.8h4.6M433.8 61.8h2.5M496.6 61.8h9M507.4 61.8h2.5M511.8 61.8h4.6M520.4 61.8h2.5M526.9 61.8h4.6M533.4 61.8h2.5M557.3 61.8h2.5M565.9 61.8h2.5M574.6 61.8h4.6M587.6 61.8h4.6M607.1 61.8h2.5M615.7 61.8h4.6M622.2 61.8h2.5M630.9 61.8h2.5M643.9 61.8h2.5M65.5 64h2.5M72 64h2.5M76.4 64h2.5M85 64h2.5M95.8 64h2.5M121.8 64h2.5M137 64h2.5M154.3 64h2.5M176 64h2.5M210.7 64h2.5M230.2 64h2.5M355.8 64h2.5M364.5 64h2.5M386.1 64h4.6M416.5 64h2.5M429.5 64h2.5M494.4 64h4.6M507.4 64h4.6M516.1 64h2.5M520.4 64h2.5M524.8 64h2.5M533.4 64h2.5M548.6 64h2.5M555.1 64h2.5M568.1 64h2.5M578.9 64h2.5M589.8 64h2.5M594.1 64h2.5M635.2 64h2.5M643.9 64h2.5M65.5 66.2h4.6M74.2 66.2h2.5M82.9 66.2h4.6M91.5 66.2h2.5M95.8 66.2h2.5M100.2 66.2h2.5M137 66.2h2.5M150 66.2h2.5M208.5 66.2h4.6M225.8 66.2h4.6M232.3 66.2h2.5M355.8 66.2h6.8M368.8 66.2h4.6M386.1 66.2h2.5M505.3 66.2h2.5M509.6 66.2h2.5M522.6 66.2h2.5M526.9 66.2h2.5M535.6 66.2h2.5M539.9 66.2h2.5M546.4 66.2h4.6M552.9 66.2h2.5M557.3 66.2h6.8M568.1 66.2h2.5M578.9 66.2h2.5M587.6 66.2h4.6M594.1 66.2h2.5M604.9 66.2h2.5M633.1 66.2h2.5M639.6 66.2h2.5M67.7 68.3h2.5M104.5 68.3h4.6M111 68.3h2.5M115.3 68.3h2.5M143.5 68.3h4.6M228 68.3h2.5M332 68.3h2.5M390.5 68.3h2.5M498.8 68.3h2.5M511.8 68.3h6.8M531.3 68.3h2.5M557.3 68.3h2.5M561.6 68.3h2.5M570.3 68.3h2.5M578.9 68.3h4.6M604.9 68.3h2.5M65.5 70.5h2.5M72 70.5h2.5M117.5 70.5h2.5M130.5 70.5h2.5M163 70.5h2.5M173.8 70.5h2.5M180.3 70.5h2.5M336.3 70.5h4.6M358 70.5h2.5M364.5 70.5h4.6M520.4 70.5h2.5M529.1 70.5h4.6M539.9 70.5h6.8M557.3 70.5h4.6M572.4 70.5h2.5M576.8 70.5h2.5M581.1 70.5h2.5M617.9 70.5h2.5M622.2 70.5h2.5M69.9 72.7h2.5M126.2 72.7h2.5M169.5 72.7h2.5M178.2 72.7h2.5M230.2 72.7h2.5M334.1 72.7h2.5M338.5 72.7h2.5M355.8 72.7h2.5M362.3 72.7h4.6M496.6 72.7h2.5M516.1 72.7h6.8M535.6 72.7h2.5M552.9 72.7h2.5M557.3 72.7h2.5M570.3 72.7h2.5M574.6 72.7h4.6M581.1 72.7h2.5M622.2 72.7h2.5M143.5 74.8h2.5M169.5 74.8h2.5M176 74.8h2.5M189 74.8h2.5M221.5 74.8h4.6M234.5 74.8h2.5M325.5 74.8h6.8M334.1 74.8h2.5M366.6 74.8h2.5M522.6 74.8h2.5M529.1 74.8h2.5M544.3 74.8h6.8M559.4 74.8h2.5M568.1 74.8h2.5M589.8 74.8h2.5M613.6 74.8h4.6M139.2 77h2.5M197.7 77h2.5M232.3 77h4.6M245.3 77h2.5M327.6 77h2.5M338.5 77h2.5M362.3 77h2.5M377.5 77h2.5M511.8 77h2.5M544.3 77h2.5M550.8 77h2.5M555.1 77h2.5M561.6 77h2.5M568.1 77h9M583.3 77h4.6M121.8 79.2h2.5M128.3 79.2h2.5M180.3 79.2h2.5M234.5 79.2h2.5M238.8 79.2h2.5M243.2 79.2h2.5M334.1 79.2h2.5M552.9 79.2h2.5M563.8 79.2h2.5M568.1 79.2h2.5M126.2 81.3h2.5M137 81.3h2.5M186.8 81.3h2.5M199.8 81.3h2.5M223.7 81.3h2.5M234.5 81.3h2.5M241 81.3h2.5M325.5 81.3h2.5M552.9 81.3h2.5M568.1 81.3h2.5M574.6 81.3h6.8M130.5 83.5h9M221.5 83.5h2.5M241 83.5h2.5M332 83.5h2.5M552.9 83.5h2.5M132.7 85.7h2.5M182.5 85.7h2.5M238.8 85.7h4.6M247.5 85.7h2.5M334.1 85.7h2.5M542.1 85.7h4.6M548.6 85.7h2.5M555.1 85.7h2.5M559.4 85.7h2.5M574.6 85.7h2.5M578.9 85.7h2.5M128.3 87.8h2.5M186.8 87.8h2.5M195.5 87.8h2.5M221.5 87.8h2.5M228 87.8h2.5M236.7 87.8h2.5M552.9 87.8h2.5M576.8 87.8h2.5M583.3 87.8h2.5M126.2 90h2.5M182.5 90h4.6M230.2 90h2.5M576.8 90h2.5M128.3 92.2h2.5M195.5 92.2h2.5M206.3 92.2h2.5M215 92.2h2.5M223.7 92.2h4.6M342.8 92.2h2.5M568.1 92.2h2.5M574.6 92.2h2.5M128.3 94.3h2.5M197.7 94.3h2.5M206.3 94.3h2.5M210.7 94.3h2.5M219.3 94.3h2.5M353.6 94.3h2.5M368.8 94.3h2.5M384 94.3h2.5M561.6 94.3h2.5M565.9 94.3h4.6M572.4 94.3h6.8M583.3 94.3h6.8M591.9 94.3h2.5M126.2 96.5h2.5M184.7 96.5h6.8M195.5 96.5h2.5M199.8 96.5h2.5M217.2 96.5h2.5M340.6 96.5h2.5M379.6 96.5h2.5M414.3 96.5h2.5M550.8 96.5h2.5M591.9 96.5h2.5M189 98.7h2.5M193.3 98.7h4.6M206.3 98.7h2.5M563.8 98.7h2.5M186.8 100.8h2.5M193.3 100.8h2.5M199.8 100.8h2.5M407.8 100.8h2.5M420.8 100.8h2.5M552.9 100.8h4.6M559.4 100.8h6.8M587.6 100.8h2.5M184.7 103h2.5M399.1 103h2.5M405.6 103h2.5M427.3 103h2.5M550.8 103h2.5M565.9 103h2.5M581.1 103h4.6M587.6 103h2.5M195.5 105.2h2.5M407.8 105.2h2.5M496.6 105.2h2.5M518.3 105.2h2.5M522.6 105.2h2.5M531.3 105.2h2.5M542.1 105.2h2.5M546.4 105.2h2.5M555.1 105.2h2.5M189 107.3h4.6M210.7 107.3h2.5M381.8 107.3h2.5M403.5 107.3h2.5M416.5 107.3h4.6M423 107.3h2.5M542.1 107.3h2.5M563.8 107.3h2.5M195.5 109.5h4.6M204.2 109.5h2.5M208.5 109.5h4.6M427.3 109.5h2.5M531.3 109.5h2.5M544.3 109.5h2.5M572.4 109.5h2.5M581.1 109.5h2.5M585.4 109.5h2.5M401.3 111.7h2.5M425.1 111.7h2.5M518.3 111.7h2.5M535.6 111.7h2.5M546.4 111.7h2.5M568.1 111.7h2.5M186.8 113.8h6.8M431.6 113.8h2.5M511.8 113.8h4.6M518.3 113.8h4.6M537.8 113.8h2.5M544.3 113.8h2.5M565.9 113.8h2.5M184.7 116h2.5M195.5 116h2.5M496.6 116h2.5M503.1 116h2.5M507.4 116h2.5M518.3 116h2.5M524.8 116h4.6M531.3 116h2.5M539.9 116h2.5M197.7 118.2h6.8M503.1 118.2h6.8M511.8 118.2h2.5M518.3 118.2h2.5M522.6 118.2h2.5M526.9 118.2h2.5M533.4 118.2h4.6M199.8 120.3h4.6M518.3 120.3h2.5M522.6 120.3h2.5M529.1 120.3h2.5M537.8 120.3h2.5M552.9 120.3h2.5M202 122.5h2.5M500.9 122.5h2.5M513.9 122.5h2.5M533.4 122.5h2.5M537.8 122.5h2.5M542.1 122.5h2.5M548.6 122.5h2.5M202 124.7h2.5M505.3 124.7h2.5M518.3 124.7h9M529.1 124.7h2.5M544.3 124.7h4.6M202 126.8h2.5M494.4 126.8h2.5M503.1 126.8h2.5M516.1 126.8h2.5M531.3 126.8h2.5M535.6 126.8h2.5M542.1 126.8h2.5M546.4 126.8h2.5M550.8 126.8h2.5M498.8 129h2.5M507.4 129h2.5M526.9 129h2.5M539.9 129h2.5M552.9 129h2.5M191.2 131.2h2.5M496.6 131.2h2.5M535.6 131.2h2.5M189 133.3h2.5M505.3 133.3h2.5M520.4 133.3h2.5M160.8 135.5h2.5M215 135.5h2.5M490.1 135.5h2.5M507.4 135.5h2.5M522.6 135.5h2.5M531.3 135.5h2.5M184.7 137.7h2.5M529.1 137.7h4.6M171.7 139.8h2.5M178.2 139.8h2.5M182.5 139.8h4.6M550.8 139.8h4.6M182.5 142h2.5M529.1 142h2.5M552.9 142h2.5M186.8 144.2h4.6M511.8 146.3h2.5M516.1 146.3h2.5M195.5 148.5h2.5M219.3 148.5h2.5M531.3 148.5h2.5M212.8 150.7h2.5M511.8 150.7h2.5M524.8 150.7h2.5M195.5 152.8h2.5M204.2 152.8h2.5M210.7 152.8h2.5M481.4 152.8h2.5M197.7 155h2.5M208.5 155h2.5M410 155h2.5M212.8 157.2h4.6M325.5 157.2h2.5M215 159.3h2.5M221.5 159.3h4.6M243.2 159.3h2.5M247.5 159.3h2.5M334.1 159.3h4.6M479.3 159.3h2.5M217.2 161.5h2.5M247.5 161.5h2.5M410 161.5h4.6M251.8 163.7h2.5M399.1 163.7h2.5M234.5 165.8h2.5M373.1 165.8h2.5M241 168h2.5M392.6 168h2.5M544.3 168h2.5M206.3 170.1h2.5M247.5 170.1h2.5M262.6 170.1h2.5M212.8 172.3h2.5M241 172.3h11.1M260.5 172.3h2.5M202 174.5h2.5M243.2 174.5h2.5M254 174.5h4.6M269.1 174.5h2.5M208.5 176.6h2.5M247.5 176.6h2.5M258.3 176.6h2.5M368.8 178.8h2.5M204.2 181h2.5M238.8 181h2.5M280 181h2.5M204.2 183.1h2.5M238.8 183.1h2.5M249.7 183.1h2.5M617.9 183.1h2.5M232.3 185.3h2.5M258.3 185.3h2.5M247.5 187.5h4.6M215 189.6h2.5M228 189.6h2.5M427.3 189.6h2.5M232.3 191.8h4.6M429.5 191.8h2.5M221.5 194h2.5M225.8 194h2.5M234.5 194h2.5M243.2 194h2.5M264.8 194h2.5M427.3 194h2.5M212.8 196.1h2.5M223.7 196.1h2.5M245.3 196.1h2.5M262.6 196.1h2.5M273.5 196.1h2.5M423 196.1h4.6M264.8 198.3h2.5M420.8 198.3h2.5M425.1 198.3h6.8M427.3 200.5h2.5M221.5 202.6h2.5M423 202.6h2.5M256.1 204.8h2.5M269.1 204.8h2.5M626.6 204.8h2.5M251.8 207h2.5M626.6 207h2.5M249.7 211.3h2.5M254 213.5h2.5M256.1 215.6h2.5M256.1 217.8h2.5M245.3 220h2.5M254 220h2.5M247.5 224.3h2.5M251.8 224.3h2.5M215 241.6h2.5"/>
<path stroke="#57c577" d="M520.4 35.8h2.5M526.9 35.8h2.5M535.6 35.8h2.5M496.6 38h2.5M500.9 38h2.5M505.3 38h2.5M509.6 38h2.5M513.9 38h4.6M487.9 40.2h2.5M496.6 40.2h2.5M511.8 40.2h2.5M516.1 40.2h2.5M526.9 40.2h4.6M199.8 42.3h2.5M498.8 42.3h4.6M516.1 42.3h2.5M529.1 42.3h2.5M550.8 42.3h2.5M557.3 42.3h2.5M585.4 42.3h2.5M191.2 44.5h6.8M212.8 44.5h4.6M494.4 44.5h2.5M498.8 44.5h2.5M503.1 44.5h2.5M511.8 44.5h9M524.8 44.5h2.5M535.6 44.5h2.5M546.4 44.5h2.5M550.8 44.5h2.5M557.3 44.5h2.5M572.4 44.5h2.5M596.3 44.5h2.5M189 46.7h2.5M193.3 46.7h6.8M204.2 46.7h4.6M219.3 46.7h4.6M492.3 46.7h2.5M496.6 46.7h2.5M505.3 46.7h2.5M518.3 46.7h2.5M531.3 46.7h4.6M544.3 46.7h2.5M557.3 46.7h4.6M563.8 46.7h2.5M572.4 46.7h2.5M576.8 46.7h2.5M596.3 46.7h2.5M600.6 46.7h4.6M607.1 46.7h4.6M78.5 48.8h4.6M85 48.8h4.6M93.7 48.8h2.5M126.2 48.8h2.5M139.2 48.8h2.5M182.5 48.8h2.5M206.3 48.8h2.5M379.6 48.8h2.5M384 48.8h2.5M490.1 48.8h2.5M507.4 48.8h2.5M513.9 48.8h4.6M529.1 48.8h2.5M537.8 48.8h2.5M544.3 48.8h11.1M557.3 48.8h2.5M570.3 48.8h2.5M581.1 48.8h2.5M609.2 48.8h2.5M613.6 48.8h6.8M622.2 48.8h4.6M641.7 48.8h2.5M80.7 51h4.6M95.8 51h2.5M100.2 51h2.5M106.7 51h2.5M113.2 51h2.5M130.5 51h2.5M134.8 51h2.5M154.3 51h2.5M160.8 51h2.5M176 51h2.5M199.8 51h2.5M217.2 51h2.5M500.9 51h2.5M509.6 51h4.6M520.4 51h2.5M524.8 51h2.5M529.1 51h2.5M544.3 51h2.5M559.4 51h2.5M563.8 51h2.5M570.3 51h4.6M583.3 51h6.8M594.1 51h2.5M602.8 51h2.5M607.1 51h2.5M611.4 51h2.5M620.1 51h2.5M624.4 51h4.6M630.9 51h2.5M643.9 51h4.6M652.6 51h2.5M63.4 53.2h2.5M85 53.2h6.8M93.7 53.2h2.5M102.3 53.2h2.5M111 53.2h2.5M121.8 53.2h2.5M150 53.2h2.5M195.5 53.2h2.5M199.8 53.2h2.5M232.3 53.2h2.5M364.5 53.2h2.5M368.8 53.2h2.5M503.1 53.2h2.5M507.4 53.2h2.5M511.8 53.2h11.1M524.8 53.2h2.5M539.9 53.2h2.5M544.3 53.2h2.5M570.3 53.2h2.5M581.1 53.2h4.6M596.3 53.2h4.6M602.8 53.2h2.5M607.1 53.2h2.5M637.4 53.2h2.5M65.5 55.3h2.5M74.2 55.3h2.5M78.5 55.3h4.6M89.3 55.3h2.5M98 55.3h4.6M104.5 55.3h2.5M108.8 55.3h2.5M115.3 55.3h2.5M119.7 55.3h2.5M126.2 55.3h2.5M145.7 55.3h2.5M152.2 55.3h2.5M195.5 55.3h2.5M225.8 55.3h2.5M364.5 55.3h2.5M368.8 55.3h6.8M377.5 55.3h4.6M496.6 55.3h4.6M509.6 55.3h4.6M531.3 55.3h2.5M535.6 55.3h2.5M544.3 55.3h2.5M548.6 55.3h2.5M555.1 55.3h2.5M574.6 55.3h2.5M587.6 55.3h2.5M598.4 55.3h2.5M602.8 55.3h2.5M617.9 55.3h2.5M624.4 55.3h4.6M630.9 55.3h2.5M637.4 55.3h2.5M87.2 57.5h2.5M106.7 57.5h2.5M111 57.5h2.5M126.2 57.5h2.5M132.7 57.5h2.5M141.3 57.5h2.5M152.2 57.5h2.5M160.8 57.5h2.5M219.3 57.5h4.6M230.2 57.5h2.5M362.3 57.5h4.6M379.6 57.5h2.5M384 57.5h2.5M416.5 57.5h2.5M492.3 57.5h2.5M503.1 57.5h2.5M507.4 57.5h2.5M526.9 57.5h2.5M535.6 57.5h2.5M539.9 57.5h2.5M550.8 57.5h2.5M557.3 57.5h2.5M585.4 57.5h2.5M596.3 57.5h2.5M602.8 57.5h2.5M607.1 57.5h2.5M630.9 57.5h2.5M635.2 57.5h4.6M641.7 57.5h2.5M69.9 59.7h6.8M80.7 59.7h2.5M87.2 59.7h4.6M95.8 59.7h4.6M108.8 59.7h4.6M117.5 59.7h2.5M163 59.7h2.5M186.8 59.7h2.5M223.7 59.7h4.6M364.5 59.7h2.5M379.6 59.7h2.5M386.1 59.7h2.5M498.8 59.7h2.5M505.3 59.7h2.5M518.3 59.7h2.5M526.9 59.7h2.5M535.6 59.7h2.5M544.3 59.7h4.6M550.8 59.7h2.5M555.1 59.7h2.5M561.6 59.7h2.5M565.9 59.7h2.5M574.6 59.7h2.5M591.9 59.7h2.5M602.8 59.7h9M613.6 59.7h2.5M620.1 59.7h2.5M630.9 59.7h2.5M639.6 59.7h2.5M82.9 61.8h2.5M91.5 61.8h2.5M95.8 61.8h2.5M113.2 61.8h6.8M121.8 61.8h2.5M134.8 61.8h2.5M141.3 61.8h2.5M176 61.8h4.6M210.7 61.8h2.5M228 61.8h2.5M358 61.8h2.5M366.6 61.8h6.8M381.8 61.8h2.5M390.5 61.8h2.5M518.3 61.8h2.5M537.8 61.8h9M555.1 61.8h2.5M568.1 61.8h2.5M578.9 61.8h4.6M594.1 61.8h4.6M602.8 61.8h4.6M611.4 61.8h4.6M620.1 61.8h2.5M626.6 61.8h2.5M652.6 61.8h2.5M87.2 64h2.5M91.5 64h4.6M98 64h2.5M111 64h4.6M130.5 64h2.5M150 64h2.5M178.2 64h2.5M206.3 64h4.6M215 64h4.6M349.3 64h2.5M353.6 64h2.5M360.1 64h4.6M366.6 64h2.5M371 64h2.5M420.8 64h2.5M498.8 64h2.5M511.8 64h2.5M522.6 64h2.5M526.9 64h6.8M535.6 64h6.8M550.8 64h4.6M561.6 64h2.5M570.3 64h2.5M591.9 64h2.5M598.4 64h2.5M604.9 64h2.5M611.4 64h4.6M617.9 64h2.5M622.2 64h2.5M630.9 64h4.6M641.7 64h2.5M646.1 64h2.5M72 66.2h2.5M76.4 66.2h2.5M80.7 66.2h2.5M104.5 66.2h2.5M141.3 66.2h2.5M212.8 66.2h4.6M364.5 66.2h2.5M511.8 66.2h2.5M518.3 66.2h2.5M531.3 66.2h4.6M565.9 66.2h2.5M572.4 66.2h2.5M576.8 66.2h2.5M583.3 66.2h4.6M591.9 66.2h2.5M600.6 66.2h2.5M607.1 66.2h2.5M628.7 66.2h2.5M635.2 66.2h2.5M160.8 68.3h2.5M171.7 68.3h2.5M206.3 68.3h4.6M212.8 68.3h2.5M217.2 68.3h11.1M230.2 68.3h4.6M355.8 68.3h2.5M371 68.3h2.5M496.6 68.3h2.5M505.3 68.3h4.6M518.3 68.3h2.5M539.9 68.3h6.8M552.9 68.3h2.5M563.8 68.3h6.8M583.3 68.3h4.6M607.1 68.3h2.5M613.6 68.3h2.5M617.9 68.3h2.5M624.4 68.3h2.5M111 70.5h2.5M121.8 70.5h2.5M134.8 70.5h2.5M208.5 70.5h4.6M225.8 70.5h2.5M230.2 70.5h2.5M360.1 70.5h2.5M503.1 70.5h2.5M513.9 70.5h4.6M524.8 70.5h4.6M537.8 70.5h2.5M550.8 70.5h2.5M555.1 70.5h2.5M563.8 70.5h2.5M574.6 70.5h2.5M611.4 70.5h2.5M615.7 70.5h2.5M620.1 70.5h2.5M624.4 70.5h2.5M67.7 72.7h2.5M132.7 72.7h2.5M137 72.7h2.5M171.7 72.7h2.5M206.3 72.7h2.5M212.8 72.7h4.6M219.3 72.7h2.5M232.3 72.7h2.5M327.6 72.7h2.5M332 72.7h2.5M522.6 72.7h2.5M526.9 72.7h2.5M531.3 72.7h4.6M542.1 72.7h9M555.1 72.7h2.5M559.4 72.7h2.5M617.9 72.7h4.6M56.9 74.8h2.5M61.2 74.8h2.5M124 74.8h2.5M132.7 74.8h2.5M173.8 74.8h2.5M193.3 74.8h9M225.8 74.8h2.5M230.2 74.8h2.5M236.7 74.8h9M323.3 74.8h2.5M332 74.8h2.5M336.3 74.8h2.5M340.6 74.8h2.5M355.8 74.8h2.5M360.1 74.8h4.6M550.8 74.8h2.5M572.4 74.8h2.5M576.8 74.8h2.5M617.9 74.8h4.6M130.5 77h4.6M137 77h2.5M176 77h2.5M182.5 77h2.5M221.5 77h4.6M228 77h2.5M238.8 77h2.5M243.2 77h2.5M325.5 77h2.5M329.8 77h4.6M336.3 77h2.5M509.6 77h2.5M578.9 77h2.5M589.8 77h2.5M124 79.2h4.6M139.2 79.2h2.5M228 79.2h2.5M241 79.2h2.5M323.3 79.2h2.5M329.8 79.2h2.5M336.3 79.2h2.5M587.6 79.2h2.5M615.7 79.2h2.5M130.5 81.3h2.5M134.8 81.3h2.5M184.7 81.3h2.5M195.5 81.3h2.5M202 81.3h2.5M228 81.3h2.5M236.7 81.3h4.6M245.3 81.3h2.5M332 81.3h2.5M572.4 81.3h2.5M589.8 81.3h4.6M613.6 81.3h4.6M126.2 83.5h4.6M195.5 83.5h4.6M208.5 83.5h2.5M228 83.5h2.5M247.5 83.5h2.5M334.1 83.5h2.5M548.6 83.5h2.5M570.3 83.5h2.5M576.8 83.5h2.5M583.3 83.5h4.6M589.8 83.5h2.5M180.3 85.7h2.5M184.7 85.7h2.5M191.2 85.7h2.5M195.5 85.7h2.5M225.8 85.7h4.6M245.3 85.7h2.5M249.7 85.7h2.5M546.4 85.7h2.5M565.9 85.7h2.5M587.6 85.7h2.5M591.9 85.7h2.5M182.5 87.8h4.6M202 87.8h4.6M245.3 87.8h6.8M565.9 87.8h2.5M574.6 87.8h2.5M578.9 87.8h2.5M189 90h2.5M193.3 90h4.6M221.5 90h2.5M234.5 90h2.5M364.5 90h2.5M565.9 90h2.5M581.1 90h2.5M589.8 90h2.5M193.3 92.2h2.5M197.7 92.2h2.5M202 92.2h2.5M217.2 92.2h2.5M228 92.2h2.5M234.5 92.2h2.5M591.9 92.2h4.6M184.7 94.3h2.5M193.3 94.3h2.5M204.2 94.3h2.5M594.1 94.3h2.5M204.2 96.5h9M215 96.5h2.5M219.3 96.5h2.5M563.8 96.5h2.5M589.8 96.5h2.5M126.2 98.7h2.5M184.7 98.7h2.5M204.2 98.7h2.5M212.8 98.7h2.5M219.3 98.7h2.5M565.9 98.7h4.6M189 100.8h2.5M197.7 100.8h2.5M204.2 100.8h2.5M327.6 100.8h2.5M191.2 103h4.6M199.8 103h2.5M204.2 103h2.5M210.7 103h4.6M397 103h2.5M416.5 103h2.5M423 103h2.5M563.8 103h2.5M585.4 103h2.5M189 105.2h2.5M193.3 105.2h2.5M197.7 105.2h6.8M210.7 105.2h2.5M390.5 105.2h2.5M416.5 105.2h2.5M427.3 105.2h2.5M552.9 105.2h2.5M559.4 105.2h2.5M565.9 105.2h2.5M578.9 105.2h2.5M184.7 107.3h4.6M197.7 107.3h2.5M202 107.3h4.6M420.8 107.3h2.5M578.9 107.3h2.5M583.3 107.3h2.5M184.7 109.5h2.5M193.3 109.5h2.5M199.8 109.5h2.5M206.3 109.5h2.5M418.6 109.5h9M539.9 109.5h2.5M546.4 109.5h4.6M561.6 109.5h2.5M576.8 109.5h4.6M182.5 111.7h2.5M186.8 111.7h2.5M191.2 111.7h2.5M199.8 111.7h2.5M204.2 111.7h2.5M423 111.7h2.5M524.8 111.7h2.5M537.8 111.7h2.5M544.3 111.7h2.5M570.3 111.7h4.6M576.8 111.7h2.5M193.3 113.8h4.6M425.1 113.8h2.5M429.5 113.8h2.5M529.1 113.8h2.5M533.4 113.8h4.6M539.9 113.8h4.6M546.4 113.8h2.5M568.1 113.8h2.5M572.4 113.8h2.5M189 116h4.6M199.8 116h4.6M533.4 116h2.5M548.6 116h4.6M568.1 116h2.5M186.8 118.2h2.5M531.3 118.2h2.5M539.9 118.2h4.6M546.4 118.2h2.5M550.8 118.2h2.5M505.3 120.3h4.6M511.8 120.3h2.5M524.8 120.3h4.6M542.1 120.3h6.8M199.8 122.5h2.5M505.3 122.5h4.6M511.8 122.5h2.5M522.6 122.5h2.5M526.9 122.5h2.5M535.6 122.5h2.5M546.4 122.5h2.5M550.8 122.5h2.5M492.3 124.7h2.5M500.9 124.7h2.5M531.3 124.7h2.5M500.9 126.8h2.5M505.3 126.8h2.5M513.9 126.8h2.5M526.9 126.8h4.6M552.9 126.8h2.5M503.1 129h2.5M509.6 129h2.5M531.3 129h2.5M535.6 129h4.6M542.1 129h2.5M505.3 131.2h4.6M511.8 131.2h2.5M518.3 131.2h9M533.4 131.2h2.5M537.8 131.2h2.5M550.8 131.2h4.6M184.7 133.3h2.5M518.3 133.3h2.5M522.6 133.3h2.5M529.1 133.3h2.5M509.6 135.5h2.5M516.1 135.5h2.5M182.5 137.7h2.5M189 137.7h2.5M526.9 137.7h2.5M552.9 137.7h2.5M186.8 139.8h2.5M507.4 139.8h2.5M516.1 139.8h2.5M520.4 139.8h4.6M529.1 139.8h2.5M178.2 142h2.5M507.4 142h2.5M513.9 142h4.6M522.6 142h2.5M180.3 144.2h6.8M191.2 144.2h2.5M195.5 144.2h2.5M511.8 144.2h2.5M516.1 144.2h4.6M531.3 144.2h2.5M186.8 146.3h6.8M197.7 146.3h2.5M518.3 146.3h2.5M522.6 146.3h4.6M197.7 148.5h2.5M513.9 148.5h4.6M524.8 148.5h2.5M193.3 150.7h2.5M520.4 150.7h2.5M531.3 150.7h2.5M199.8 152.8h2.5M412.1 152.8h2.5M559.4 152.8h2.5M206.3 155h2.5M215 155h2.5M323.3 157.2h2.5M208.5 159.3h2.5M217.2 159.3h2.5M325.5 159.3h2.5M221.5 161.5h2.5M325.5 161.5h2.5M332 161.5h2.5M336.3 161.5h2.5M223.7 163.7h6.8M232.3 163.7h2.5M539.9 163.7h2.5M219.3 165.8h2.5M232.3 165.8h2.5M256.1 165.8h2.5M236.7 168h4.6M249.7 168h2.5M518.3 168h2.5M202 170.1h2.5M570.3 170.1h2.5M251.8 172.3h2.5M256.1 172.3h2.5M531.3 172.3h2.5M247.5 174.5h2.5M251.8 176.6h2.5M524.8 176.6h2.5M206.3 178.8h2.5M245.3 178.8h4.6M596.3 178.8h2.5M202 181h2.5M208.5 181h2.5M243.2 181h2.5M247.5 181h2.5M206.3 183.1h2.5M245.3 183.1h2.5M243.2 185.3h2.5M247.5 185.3h2.5M230.2 187.5h2.5M245.3 187.5h2.5M596.3 187.5h2.5M206.3 189.6h2.5M219.3 189.6h4.6M234.5 189.6h2.5M238.8 189.6h6.8M208.5 191.8h2.5M215 191.8h4.6M225.8 191.8h4.6M210.7 194h2.5M223.7 194h2.5M230.2 194h2.5M238.8 194h4.6M217.2 196.1h6.8M212.8 198.3h2.5M245.3 198.3h2.5M217.2 200.5h2.5M403.5 204.8h2.5M427.3 204.8h2.5M256.1 209.1h2.5M251.8 215.6h2.5M254 224.3h2.5M217.2 235.1h2.5M217.2 237.3h2.5M215 239.5h2.5M630.9 246h2.5"/>
<path stroke="#69cd6d" d="M526.9 38h2.5M537.8 38h2.5M505.3 40.2h4.6M520.4 40.2h2.5M533.4 40.2h2.5M537.8 40.2h2.5M186.8 42.3h6.8M202 42.3h2.5M509.6 42.3h2.5M542.1 42.3h2.5M559.4 42.3h4.6M178.2 44.5h2.5M189 44.5h2.5M197.7 44.5h2.5M204.2 44.5h2.5M507.4 44.5h2.5M522.6 44.5h2.5M548.6 44.5h2.5M594.1 44.5h2.5M600.6 44.5h2.5M69.9 46.7h2.5M74.2 46.7h2.5M117.5 46.7h2.5M121.8 46.7h2.5M176 46.7h2.5M191.2 46.7h2.5M199.8 46.7h2.5M210.7 46.7h2.5M377.5 46.7h2.5M381.8 46.7h2.5M392.6 46.7h2.5M503.1 46.7h2.5M511.8 46.7h2.5M522.6 46.7h2.5M542.1 46.7h2.5M598.4 46.7h2.5M72 48.8h2.5M89.3 48.8h2.5M104.5 48.8h2.5M124 48.8h2.5M128.3 48.8h2.5M132.7 48.8h4.6M176 48.8h2.5M180.3 48.8h2.5M184.7 48.8h2.5M195.5 48.8h2.5M217.2 48.8h2.5M225.8 48.8h2.5M371 48.8h2.5M492.3 48.8h2.5M496.6 48.8h2.5M500.9 48.8h2.5M533.4 48.8h2.5M555.1 48.8h2.5M626.6 48.8h4.6M69.9 51h2.5M76.4 51h2.5M89.3 51h2.5M98 51h2.5M104.5 51h2.5M115.3 51h2.5M126.2 51h4.6M156.5 51h4.6M163 51h4.6M184.7 51h2.5M191.2 51h6.8M215 51h2.5M366.6 51h2.5M377.5 51h2.5M487.9 51h2.5M492.3 51h2.5M513.9 51h2.5M542.1 51h2.5M550.8 51h2.5M574.6 51h2.5M578.9 51h2.5M628.7 51h2.5M78.5 53.2h2.5M113.2 53.2h4.6M124 53.2h2.5M137 53.2h2.5M163 53.2h2.5M184.7 53.2h2.5M366.6 53.2h2.5M375.3 53.2h2.5M490.1 53.2h2.5M496.6 53.2h2.5M500.9 53.2h2.5M522.6 53.2h2.5M542.1 53.2h2.5M559.4 53.2h4.6M572.4 53.2h2.5M576.8 53.2h2.5M591.9 53.2h2.5M609.2 53.2h2.5M622.2 53.2h6.8M639.6 53.2h2.5M35.2 55.3h2.5M72 55.3h2.5M76.4 55.3h2.5M85 55.3h2.5M91.5 55.3h2.5M95.8 55.3h2.5M111 55.3h2.5M121.8 55.3h2.5M128.3 55.3h2.5M132.7 55.3h2.5M137 55.3h2.5M147.8 55.3h2.5M169.5 55.3h2.5M366.6 55.3h2.5M375.3 55.3h2.5M490.1 55.3h2.5M505.3 55.3h4.6M526.9 55.3h2.5M533.4 55.3h2.5M537.8 55.3h2.5M546.4 55.3h2.5M550.8 55.3h4.6M563.8 55.3h2.5M570.3 55.3h2.5M585.4 55.3h2.5M604.9 55.3h2.5M611.4 55.3h2.5M615.7 55.3h2.5M635.2 55.3h2.5M641.7 55.3h2.5M78.5 57.5h2.5M91.5 57.5h2.5M113.2 57.5h2.5M117.5 57.5h2.5M130.5 57.5h2.5M139.2 57.5h2.5M145.7 57.5h2.5M191.2 57.5h2.5M223.7 57.5h4.6M358 57.5h2.5M373.1 57.5h2.5M377.5 57.5h2.5M533.4 57.5h2.5M544.3 57.5h2.5M552.9 57.5h2.5M559.4 57.5h2.5M568.1 57.5h2.5M574.6 57.5h6.8M587.6 57.5h6.8M600.6 57.5h2.5M622.2 57.5h2.5M91.5 59.7h2.5M115.3 59.7h2.5M124 59.7h2.5M132.7 59.7h4.6M143.5 59.7h4.6M154.3 59.7h2.5M160.8 59.7h2.5M169.5 59.7h2.5M178.2 59.7h2.5M217.2 59.7h2.5M353.6 59.7h2.5M358 59.7h6.8M368.8 59.7h2.5M373.1 59.7h2.5M496.6 59.7h2.5M511.8 59.7h2.5M531.3 59.7h2.5M552.9 59.7h2.5M559.4 59.7h2.5M568.1 59.7h4.6M581.1 59.7h4.6M598.4 59.7h2.5M615.7 59.7h4.6M646.1 59.7h2.5M98 61.8h2.5M102.3 61.8h2.5M108.8 61.8h2.5M126.2 61.8h2.5M130.5 61.8h2.5M143.5 61.8h4.6M154.3 61.8h2.5M169.5 61.8h2.5M180.3 61.8h2.5M215 61.8h2.5M221.5 61.8h2.5M225.8 61.8h2.5M230.2 61.8h2.5M516.1 61.8h2.5M546.4 61.8h4.6M552.9 61.8h2.5M561.6 61.8h2.5M591.9 61.8h2.5M609.2 61.8h2.5M624.4 61.8h2.5M633.1 61.8h6.8M641.7 61.8h2.5M74.2 64h2.5M104.5 64h2.5M128.3 64h2.5M132.7 64h2.5M139.2 64h2.5M158.7 64h2.5M163 64h4.6M212.8 64h2.5M221.5 64h2.5M351.5 64h2.5M513.9 64h2.5M565.9 64h2.5M583.3 64h2.5M639.6 64h2.5M98 66.2h2.5M108.8 66.2h4.6M128.3 66.2h2.5M132.7 66.2h2.5M165.2 66.2h2.5M176 66.2h2.5M206.3 66.2h2.5M217.2 66.2h2.5M221.5 66.2h2.5M230.2 66.2h2.5M362.3 66.2h2.5M373.1 66.2h2.5M537.8 66.2h2.5M596.3 66.2h4.6M602.8 66.2h2.5M611.4 66.2h2.5M617.9 66.2h9M108.8 68.3h2.5M119.7 68.3h2.5M137 68.3h2.5M141.3 68.3h2.5M154.3 68.3h2.5M165.2 68.3h2.5M169.5 68.3h2.5M215 68.3h2.5M234.5 68.3h2.5M351.5 68.3h4.6M358 68.3h4.6M364.5 68.3h2.5M373.1 68.3h2.5M529.1 68.3h2.5M548.6 68.3h4.6M559.4 68.3h2.5M572.4 68.3h4.6M615.7 68.3h2.5M108.8 70.5h2.5M126.2 70.5h2.5M139.2 70.5h2.5M169.5 70.5h2.5M178.2 70.5h2.5M184.7 70.5h4.6M215 70.5h2.5M219.3 70.5h2.5M234.5 70.5h2.5M332 70.5h2.5M552.9 70.5h2.5M134.8 72.7h2.5M145.7 72.7h2.5M189 72.7h2.5M193.3 72.7h2.5M210.7 72.7h2.5M228 72.7h2.5M360.1 72.7h2.5M368.8 72.7h2.5M509.6 72.7h2.5M524.8 72.7h2.5M568.1 72.7h2.5M624.4 72.7h2.5M119.7 74.8h2.5M178.2 74.8h2.5M182.5 74.8h4.6M215 74.8h4.6M228 74.8h2.5M232.3 74.8h2.5M338.5 74.8h2.5M358 74.8h2.5M565.9 74.8h2.5M587.6 74.8h2.5M611.4 74.8h2.5M622.2 74.8h2.5M119.7 77h2.5M124 77h2.5M134.8 77h2.5M191.2 77h2.5M587.6 77h2.5M184.7 79.2h4.6M193.3 79.2h2.5M223.7 79.2h2.5M327.6 79.2h2.5M332 79.2h2.5M340.6 79.2h2.5M578.9 79.2h2.5M585.4 79.2h2.5M124 81.3h2.5M128.3 81.3h2.5M180.3 81.3h4.6M189 81.3h2.5M212.8 81.3h2.5M221.5 81.3h2.5M225.8 81.3h2.5M230.2 81.3h2.5M180.3 83.5h4.6M186.8 83.5h2.5M191.2 83.5h2.5M202 83.5h2.5M210.7 83.5h4.6M546.4 83.5h2.5M591.9 83.5h2.5M186.8 85.7h2.5M193.3 85.7h2.5M202 85.7h4.6M212.8 85.7h2.5M217.2 85.7h4.6M223.7 85.7h2.5M550.8 85.7h2.5M585.4 85.7h2.5M589.8 85.7h2.5M189 87.8h2.5M206.3 87.8h6.8M223.7 87.8h2.5M241 87.8h2.5M128.3 90h2.5M199.8 90h2.5M204.2 90h2.5M208.5 90h2.5M217.2 90h2.5M228 90h2.5M236.7 90h2.5M578.9 90h2.5M186.8 92.2h2.5M199.8 92.2h2.5M204.2 92.2h2.5M219.3 92.2h4.6M230.2 92.2h2.5M589.8 92.2h2.5M186.8 94.3h4.6M195.5 94.3h2.5M199.8 94.3h4.6M208.5 94.3h2.5M221.5 94.3h2.5M193.3 96.5h2.5M202 96.5h2.5M212.8 96.5h2.5M583.3 96.5h2.5M186.8 98.7h2.5M191.2 98.7h2.5M197.7 98.7h2.5M202 98.7h2.5M585.4 98.7h2.5M202 100.8h2.5M206.3 100.8h2.5M189 103h2.5M197.7 103h2.5M202 103h2.5M206.3 103h4.6M559.4 103h4.6M186.8 105.2h2.5M191.2 105.2h2.5M204.2 105.2h2.5M561.6 105.2h2.5M581.1 105.2h4.6M193.3 107.3h2.5M206.3 107.3h4.6M414.3 107.3h2.5M548.6 107.3h4.6M565.9 107.3h2.5M570.3 107.3h2.5M581.1 107.3h2.5M585.4 107.3h2.5M186.8 109.5h4.6M202 109.5h2.5M542.1 109.5h2.5M568.1 109.5h4.6M583.3 109.5h2.5M189 111.7h2.5M197.7 111.7h2.5M202 111.7h2.5M206.3 111.7h2.5M539.9 111.7h2.5M550.8 111.7h2.5M565.9 111.7h2.5M574.6 111.7h2.5M197.7 113.8h2.5M526.9 113.8h2.5M516.1 116h2.5M529.1 116h2.5M537.8 116h2.5M542.1 116h2.5M509.6 118.2h2.5M520.4 118.2h2.5M537.8 118.2h2.5M548.6 118.2h2.5M552.9 118.2h2.5M531.3 120.3h2.5M539.9 120.3h2.5M516.1 122.5h2.5M524.8 122.5h2.5M531.3 122.5h2.5M539.9 122.5h2.5M507.4 124.7h6.8M516.1 124.7h2.5M535.6 124.7h2.5M539.9 124.7h4.6M548.6 124.7h4.6M537.8 126.8h4.6M544.3 126.8h2.5M500.9 129h2.5M505.3 129h2.5M520.4 129h2.5M544.3 129h2.5M503.1 131.2h2.5M509.6 131.2h2.5M526.9 131.2h2.5M539.9 131.2h2.5M186.8 133.3h2.5M500.9 133.3h2.5M507.4 133.3h2.5M513.9 133.3h2.5M531.3 133.3h4.6M520.4 135.5h2.5M524.8 135.5h6.8M533.4 135.5h2.5M505.3 137.7h2.5M520.4 137.7h6.8M533.4 137.7h2.5M189 139.8h2.5M505.3 139.8h2.5M513.9 139.8h2.5M526.9 139.8h2.5M518.3 142h4.6M197.7 144.2h2.5M513.9 144.2h2.5M520.4 144.2h2.5M524.8 144.2h6.8M184.7 146.3h2.5M195.5 146.3h2.5M526.9 146.3h4.6M555.1 146.3h2.5M191.2 148.5h4.6M511.8 148.5h2.5M522.6 148.5h2.5M195.5 150.7h4.6M513.9 150.7h2.5M529.1 150.7h2.5M193.3 152.8h2.5M513.9 152.8h2.5M522.6 152.8h2.5M195.5 155h2.5M199.8 155h4.6M210.7 155h2.5M513.9 155h4.6M561.6 155h2.5M206.3 157.2h6.8M206.3 159.3h2.5M212.8 159.3h2.5M329.8 159.3h2.5M561.6 159.3h2.5M215 161.5h2.5M219.3 161.5h2.5M327.6 161.5h2.5M539.9 161.5h2.5M206.3 163.7h2.5M210.7 163.7h6.8M221.5 163.7h2.5M230.2 163.7h2.5M511.8 163.7h2.5M204.2 165.8h4.6M217.2 165.8h2.5M221.5 165.8h2.5M230.2 165.8h2.5M236.7 165.8h2.5M212.8 168h2.5M228 168h9M520.4 168h2.5M533.4 168h4.6M212.8 170.1h2.5M232.3 170.1h2.5M236.7 170.1h9M251.8 170.1h2.5M513.9 170.1h2.5M572.4 170.1h4.6M210.7 172.3h2.5M225.8 172.3h2.5M236.7 172.3h2.5M524.8 172.3h2.5M581.1 172.3h2.5M204.2 174.5h2.5M208.5 174.5h4.6M234.5 174.5h2.5M518.3 174.5h2.5M522.6 174.5h2.5M570.3 174.5h2.5M204.2 176.6h2.5M210.7 176.6h2.5M236.7 176.6h4.6M245.3 176.6h2.5M249.7 176.6h2.5M254 176.6h2.5M539.9 176.6h2.5M574.6 176.6h2.5M204.2 178.8h2.5M210.7 178.8h2.5M241 178.8h2.5M578.9 178.8h2.5M206.3 181h2.5M219.3 181h4.6M249.7 181h2.5M583.3 181h2.5M219.3 183.1h2.5M223.7 183.1h4.6M230.2 183.1h2.5M403.5 183.1h2.5M589.8 183.1h2.5M208.5 185.3h4.6M238.8 185.3h4.6M585.4 185.3h2.5M589.8 185.3h2.5M600.6 185.3h2.5M210.7 187.5h2.5M217.2 187.5h2.5M221.5 187.5h2.5M234.5 187.5h2.5M238.8 187.5h2.5M243.2 187.5h2.5M589.8 187.5h2.5M210.7 189.6h4.6M217.2 189.6h2.5M223.7 189.6h4.6M245.3 189.6h2.5M221.5 191.8h4.6M260.5 191.8h2.5M208.5 194h2.5M215 194h2.5M219.3 194h2.5M225.8 196.1h2.5M215 198.3h2.5M423 198.3h2.5M420.8 202.6h2.5M251.8 209.1h2.5M217.2 241.6h2.5M635.2 243.8h2.5M643.9 243.8h2.5M635.2 250.3h2.5"/>
<path stroke="#7dd362" d="M522.6 38h4.6M498.8 40.2h2.5M496.6 42.3h2.5M507.4 42.3h2.5M535.6 42.3h2.5M206.3 44.5h2.5M526.9 44.5h2.5M561.6 44.5h2.5M178.2 46.7h2.5M182.5 46.7h2.5M186.8 46.7h2.5M516.1 46.7h2.5M537.8 46.7h2.5M119.7 48.8h2.5M137 48.8h2.5M186.8 48.8h2.5M375.3 48.8h4.6M559.4 48.8h2.5M85 51h2.5M141.3 51h2.5M167.3 51h2.5M173.8 51h2.5M180.3 51h4.6M189 51h2.5M371 51h2.5M375.3 51h2.5M379.6 51h2.5M507.4 51h2.5M533.4 51h2.5M565.9 51h4.6M589.8 51h2.5M91.5 53.2h2.5M104.5 53.2h2.5M119.7 53.2h2.5M126.2 53.2h2.5M130.5 53.2h2.5M134.8 53.2h2.5M141.3 53.2h2.5M147.8 53.2h2.5M152.2 53.2h2.5M156.5 53.2h6.8M167.3 53.2h4.6M186.8 53.2h2.5M197.7 53.2h2.5M526.9 53.2h2.5M535.6 53.2h2.5M565.9 53.2h2.5M641.7 53.2h2.5M141.3 55.3h2.5M163 55.3h2.5M189 55.3h2.5M362.3 55.3h2.5M522.6 55.3h4.6M539.9 55.3h2.5M561.6 55.3h2.5M93.7 57.5h2.5M98 57.5h4.6M108.8 57.5h2.5M158.7 57.5h2.5M169.5 57.5h4.6M182.5 57.5h6.8M360.1 57.5h2.5M375.3 57.5h2.5M505.3 57.5h2.5M529.1 57.5h2.5M537.8 57.5h2.5M555.1 57.5h2.5M563.8 57.5h4.6M598.4 57.5h2.5M102.3 59.7h2.5M106.7 59.7h2.5M130.5 59.7h2.5M141.3 59.7h2.5M158.7 59.7h2.5M165.2 59.7h4.6M171.7 59.7h4.6M184.7 59.7h2.5M375.3 59.7h4.6M507.4 59.7h4.6M529.1 59.7h2.5M533.4 59.7h2.5M539.9 59.7h2.5M611.4 59.7h2.5M635.2 59.7h2.5M648.2 59.7h2.5M104.5 61.8h4.6M111 61.8h2.5M124 61.8h2.5M139.2 61.8h2.5M147.8 61.8h2.5M158.7 61.8h4.6M167.3 61.8h2.5M173.8 61.8h2.5M182.5 61.8h2.5M362.3 61.8h4.6M531.3 61.8h2.5M570.3 61.8h2.5M108.8 64h2.5M124 64h4.6M143.5 64h2.5M156.5 64h2.5M180.3 64h2.5M368.8 64h2.5M373.1 64h2.5M563.8 64h2.5M620.1 64h2.5M624.4 64h4.6M117.5 66.2h4.6M160.8 66.2h2.5M171.7 66.2h2.5M351.5 66.2h2.5M563.8 66.2h2.5M609.2 66.2h2.5M626.6 66.2h2.5M630.9 66.2h2.5M69.9 68.3h2.5M117.5 68.3h2.5M124 68.3h2.5M147.8 68.3h2.5M152.2 68.3h2.5M210.7 68.3h2.5M362.3 68.3h2.5M622.2 68.3h2.5M115.3 70.5h2.5M152.2 70.5h4.6M167.3 70.5h2.5M217.2 70.5h2.5M221.5 70.5h2.5M355.8 70.5h2.5M568.1 70.5h2.5M613.6 70.5h2.5M113.2 72.7h2.5M119.7 72.7h2.5M124 72.7h2.5M191.2 72.7h2.5M195.5 72.7h2.5M217.2 72.7h2.5M225.8 72.7h2.5M236.7 72.7h4.6M613.6 72.7h2.5M117.5 74.8h2.5M126.2 74.8h4.6M139.2 74.8h2.5M208.5 74.8h2.5M219.3 74.8h2.5M117.5 77h2.5M121.8 77h2.5M184.7 77h2.5M195.5 77h2.5M199.8 77h2.5M342.8 77h2.5M613.6 77h2.5M182.5 79.2h2.5M197.7 79.2h6.8M219.3 79.2h4.6M232.3 79.2h2.5M574.6 79.2h2.5M613.6 79.2h2.5M191.2 81.3h4.6M197.7 81.3h2.5M215 81.3h2.5M587.6 81.3h2.5M189 83.5h2.5M193.3 83.5h2.5M199.8 83.5h2.5M215 83.5h2.5M223.7 83.5h4.6M234.5 83.5h2.5M249.7 83.5h2.5M189 85.7h2.5M199.8 85.7h2.5M208.5 85.7h4.6M221.5 85.7h2.5M230.2 85.7h2.5M193.3 87.8h2.5M212.8 87.8h2.5M217.2 87.8h2.5M243.2 87.8h2.5M587.6 87.8h2.5M191.2 90h2.5M206.3 90h2.5M210.7 90h2.5M215 90h2.5M219.3 90h2.5M570.3 90h4.6M191.2 92.2h2.5M208.5 92.2h6.8M236.7 92.2h2.5M587.6 92.2h2.5M191.2 94.3h2.5M212.8 94.3h4.6M191.2 96.5h2.5M197.7 96.5h2.5M208.5 98.7h2.5M215 98.7h2.5M583.3 98.7h2.5M191.2 100.8h2.5M195.5 100.8h2.5M208.5 100.8h6.8M195.5 103h2.5M208.5 105.2h2.5M425.1 105.2h2.5M585.4 105.2h2.5M199.8 107.3h2.5M561.6 107.3h2.5M572.4 107.3h6.8M550.8 109.5h2.5M574.6 109.5h2.5M195.5 111.7h2.5M548.6 111.7h2.5M199.8 113.8h2.5M204.2 113.8h2.5M550.8 113.8h4.6M193.3 116h2.5M535.6 116h2.5M552.9 116h2.5M544.3 118.2h2.5M513.9 120.3h2.5M520.4 120.3h2.5M533.4 120.3h2.5M550.8 120.3h2.5M509.6 122.5h2.5M518.3 122.5h2.5M544.3 122.5h2.5M199.8 124.7h2.5M533.4 124.7h2.5M511.8 126.8h2.5M522.6 126.8h4.6M511.8 129h2.5M516.1 129h2.5M546.4 129h2.5M550.8 129h2.5M516.1 131.2h2.5M531.3 131.2h2.5M503.1 133.3h2.5M516.1 133.3h2.5M524.8 133.3h2.5M535.6 133.3h2.5M503.1 135.5h4.6M511.8 135.5h2.5M511.8 137.7h2.5M518.3 137.7h2.5M550.8 137.7h2.5M524.8 139.8h2.5M184.7 142h4.6M197.7 142h2.5M505.3 142h2.5M511.8 142h2.5M524.8 142h2.5M548.6 142h2.5M193.3 144.2h2.5M522.6 144.2h2.5M552.9 144.2h2.5M182.5 146.3h2.5M193.3 146.3h2.5M513.9 146.3h2.5M531.3 146.3h2.5M520.4 148.5h2.5M526.9 148.5h2.5M522.6 150.7h2.5M202 152.8h2.5M206.3 152.8h2.5M511.8 152.8h2.5M552.9 155h2.5M199.8 157.2h4.6M513.9 157.2h2.5M555.1 157.2h2.5M210.7 159.3h2.5M332 159.3h2.5M210.7 161.5h2.5M511.8 161.5h2.5M208.5 163.7h2.5M217.2 163.7h4.6M513.9 163.7h2.5M520.4 163.7h2.5M208.5 165.8h2.5M215 165.8h2.5M225.8 165.8h4.6M511.8 165.8h6.8M520.4 165.8h2.5M539.9 165.8h2.5M223.7 168h2.5M513.9 168h2.5M522.6 168h2.5M537.8 168h2.5M204.2 170.1h2.5M208.5 170.1h2.5M225.8 170.1h2.5M518.3 170.1h6.8M531.3 170.1h2.5M537.8 170.1h2.5M546.4 170.1h2.5M568.1 170.1h2.5M202 172.3h6.8M217.2 172.3h2.5M238.8 172.3h2.5M516.1 172.3h2.5M535.6 172.3h4.6M544.3 172.3h2.5M568.1 172.3h2.5M574.6 172.3h2.5M215 174.5h2.5M232.3 174.5h2.5M245.3 174.5h2.5M524.8 174.5h2.5M535.6 174.5h2.5M202 176.6h2.5M206.3 176.6h2.5M219.3 176.6h2.5M232.3 176.6h2.5M243.2 176.6h2.5M522.6 176.6h2.5M535.6 176.6h2.5M542.1 176.6h4.6M572.4 176.6h2.5M576.8 176.6h6.8M587.6 176.6h2.5M199.8 178.8h2.5M208.5 178.8h2.5M236.7 178.8h2.5M243.2 178.8h2.5M249.7 178.8h2.5M522.6 178.8h4.6M609.2 178.8h4.6M236.7 181h2.5M241 181h2.5M245.3 181h2.5M587.6 181h2.5M598.4 181h2.5M208.5 183.1h2.5M232.3 183.1h2.5M236.7 183.1h2.5M243.2 183.1h2.5M247.5 183.1h2.5M583.3 183.1h2.5M206.3 185.3h2.5M217.2 185.3h2.5M221.5 185.3h6.8M230.2 185.3h2.5M236.7 185.3h2.5M245.3 185.3h2.5M208.5 187.5h2.5M215 187.5h2.5M223.7 187.5h6.8M232.3 187.5h2.5M236.7 187.5h2.5M587.6 187.5h2.5M208.5 189.6h2.5M232.3 189.6h2.5M210.7 191.8h4.6M219.3 191.8h2.5M230.2 191.8h2.5M238.8 191.8h2.5M243.2 191.8h2.5M217.2 194h2.5M648.2 235.1h4.6M215 237.3h2.5M639.6 239.5h4.6M646.1 241.6h2.5M637.4 243.8h2.5M637.4 246h4.6M637.4 248.1h2.5M630.9 250.3h4.6M637.4 250.3h2.5"/>
<path stroke="#91d855" d="M550.8 46.7h2.5M115.3 48.8h2.5M178.2 48.8h2.5M152.2 51h2.5M171.7 51h2.5M178.2 51h2.5M368.8 51h2.5M548.6 51h2.5M117.5 53.2h2.5M139.2 53.2h2.5M171.7 53.2h2.5M182.5 53.2h2.5M193.3 53.2h2.5M130.5 55.3h2.5M143.5 55.3h2.5M150 55.3h2.5M154.3 55.3h6.8M167.3 55.3h2.5M182.5 55.3h4.6M193.3 55.3h2.5M494.4 55.3h2.5M156.5 57.5h2.5M189 57.5h2.5M208.5 57.5h2.5M368.8 57.5h2.5M139.2 59.7h2.5M182.5 59.7h2.5M371 59.7h2.5M587.6 59.7h2.5M132.7 61.8h2.5M137 61.8h2.5M150 61.8h2.5M156.5 61.8h2.5M583.3 61.8h2.5M100.2 64h2.5M106.7 64h2.5M119.7 64h2.5M169.5 64h2.5M358 64h2.5M572.4 64h2.5M93.7 66.2h2.5M106.7 66.2h2.5M115.3 66.2h2.5M121.8 66.2h4.6M130.5 66.2h2.5M145.7 66.2h2.5M163 66.2h2.5M167.3 66.2h2.5M178.2 66.2h2.5M353.6 66.2h2.5M102.3 68.3h2.5M113.2 68.3h2.5M121.8 68.3h2.5M130.5 68.3h2.5M134.8 68.3h2.5M150 68.3h2.5M158.7 68.3h2.5M167.3 68.3h2.5M509.6 68.3h2.5M587.6 68.3h2.5M113.2 70.5h2.5M228 70.5h2.5M505.3 70.5h2.5M511.8 70.5h2.5M117.5 72.7h2.5M130.5 72.7h2.5M184.7 72.7h4.6M208.5 72.7h2.5M507.4 72.7h2.5M611.4 72.7h2.5M191.2 74.8h2.5M204.2 74.8h4.6M212.8 74.8h2.5M557.3 74.8h2.5M180.3 77h2.5M186.8 77h4.6M204.2 77h2.5M611.4 77h2.5M620.1 77h2.5M137 79.2h2.5M191.2 79.2h2.5M217.2 79.2h2.5M208.5 81.3h4.6M217.2 81.3h2.5M184.7 83.5h2.5M204.2 83.5h2.5M217.2 83.5h4.6M243.2 83.5h2.5M550.8 83.5h2.5M215 85.7h2.5M197.7 87.8h2.5M219.3 87.8h2.5M570.3 87.8h4.6M202 90h2.5M212.8 90h2.5M223.7 90h2.5M568.1 90h2.5M184.7 92.2h2.5M585.4 96.5h4.6M199.8 98.7h2.5M210.7 98.7h2.5M217.2 98.7h2.5M191.2 109.5h2.5M544.3 116h2.5M533.4 126.8h2.5M548.6 126.8h2.5M509.6 133.3h2.5M526.9 133.3h2.5M518.3 135.5h2.5M513.9 137.7h4.6M518.3 139.8h2.5M191.2 142h2.5M526.9 142h2.5M550.8 142h2.5M550.8 144.2h2.5M557.3 146.3h2.5M197.7 152.8h2.5M524.8 152.8h2.5M511.8 155h2.5M522.6 155h4.6M555.1 155h4.6M516.1 157.2h4.6M552.9 157.2h2.5M509.6 159.3h2.5M520.4 159.3h2.5M557.3 159.3h4.6M208.5 161.5h2.5M509.6 161.5h2.5M518.3 161.5h2.5M537.8 161.5h2.5M507.4 163.7h4.6M516.1 163.7h2.5M210.7 165.8h4.6M533.4 165.8h2.5M202 168h4.6M208.5 168h4.6M531.3 168h2.5M542.1 168h2.5M210.7 170.1h2.5M215 170.1h2.5M219.3 170.1h2.5M228 170.1h2.5M516.1 170.1h2.5M539.9 170.1h2.5M544.3 170.1h2.5M208.5 172.3h2.5M219.3 172.3h2.5M230.2 172.3h4.6M518.3 172.3h6.8M539.9 172.3h2.5M578.9 172.3h2.5M206.3 174.5h2.5M212.8 174.5h2.5M223.7 174.5h2.5M230.2 174.5h2.5M238.8 174.5h4.6M249.7 174.5h2.5M520.4 174.5h2.5M539.9 174.5h4.6M572.4 174.5h4.6M578.9 174.5h2.5M199.8 176.6h2.5M212.8 176.6h2.5M217.2 176.6h2.5M234.5 176.6h2.5M518.3 176.6h2.5M589.8 176.6h2.5M594.1 176.6h2.5M219.3 178.8h2.5M223.7 178.8h4.6M230.2 178.8h2.5M585.4 178.8h4.6M210.7 181h2.5M217.2 181h2.5M232.3 181h4.6M581.1 181h2.5M585.4 181h2.5M609.2 181h2.5M210.7 183.1h4.6M228 183.1h2.5M234.5 183.1h2.5M587.6 183.1h2.5M594.1 183.1h2.5M204.2 185.3h2.5M219.3 185.3h2.5M228 185.3h2.5M234.5 185.3h2.5M596.3 185.3h2.5M617.9 185.3h2.5M230.2 189.6h2.5M215 196.1h2.5M641.7 228.6h2.5M641.7 230.8h2.5M643.9 233h2.5M643.9 237.3h4.6M643.9 239.5h2.5M639.6 241.6h4.6M641.7 243.8h2.5M633.1 246h2.5M641.7 246h2.5M630.9 248.1h2.5M635.2 248.1h2.5"/>
<path stroke="#a7dd47" d="M137 51h2.5M169.5 51h2.5M494.4 51h2.5M576.8 51h2.5M143.5 53.2h2.5M165.2 57.5h2.5M176 57.5h2.5M180.3 57.5h2.5M511.8 57.5h2.5M176 59.7h2.5M152.2 61.8h2.5M163 61.8h2.5M134.8 64h2.5M160.8 64h2.5M173.8 64h2.5M559.4 64h2.5M134.8 66.2h2.5M163 68.3h2.5M620.1 68.3h2.5M137 70.5h2.5M160.8 70.5h2.5M182.5 70.5h2.5M167.3 72.7h2.5M615.7 72.7h2.5M137 74.8h2.5M186.8 74.8h2.5M206.3 77h2.5M219.3 77h2.5M615.7 77h2.5M195.5 79.2h2.5M204.2 79.2h2.5M215 79.2h2.5M204.2 81.3h4.6M232.3 81.3h2.5M206.3 83.5h2.5M197.7 85.7h2.5M568.1 87.8h2.5M197.7 90h2.5M542.1 131.2h2.5M509.6 137.7h2.5M509.6 139.8h2.5M550.8 146.3h2.5M557.3 148.5h2.5M544.3 157.2h2.5M557.3 157.2h6.8M518.3 159.3h2.5M516.1 161.5h2.5M520.4 161.5h2.5M518.3 163.7h2.5M535.6 163.7h4.6M223.7 165.8h2.5M518.3 165.8h2.5M522.6 165.8h2.5M531.3 165.8h2.5M535.6 165.8h4.6M544.3 165.8h2.5M206.3 168h2.5M215 168h2.5M225.8 168h2.5M516.1 168h2.5M539.9 168h2.5M546.4 168h4.6M217.2 170.1h2.5M221.5 170.1h2.5M230.2 170.1h2.5M234.5 170.1h2.5M533.4 170.1h2.5M542.1 170.1h2.5M215 172.3h2.5M221.5 172.3h2.5M228 172.3h2.5M234.5 172.3h2.5M570.3 172.3h4.6M217.2 174.5h2.5M221.5 174.5h2.5M236.7 174.5h2.5M533.4 174.5h2.5M537.8 174.5h2.5M583.3 174.5h9M221.5 176.6h2.5M228 176.6h2.5M520.4 176.6h2.5M583.3 176.6h4.6M202 178.8h2.5M212.8 178.8h2.5M221.5 178.8h2.5M228 178.8h2.5M234.5 178.8h2.5M238.8 178.8h2.5M583.3 178.8h2.5M589.8 178.8h4.6M215 181h2.5M230.2 181h2.5M594.1 181h2.5M215 183.1h4.6M581.1 183.1h2.5M585.4 183.1h2.5M596.3 183.1h4.6M620.1 183.1h2.5M212.8 185.3h4.6M587.6 185.3h2.5M598.4 185.3h2.5M620.1 185.3h2.5M212.8 187.5h2.5M219.3 187.5h2.5M598.4 187.5h6.8M210.7 196.1h2.5M646.1 233h2.5M650.4 237.3h2.5M217.2 239.5h2.5M646.1 239.5h2.5M643.9 241.6h2.5M639.6 243.8h2.5M635.2 246h2.5"/>
<path stroke="#bde038" d="M124 51h2.5M186.8 51h2.5M173.8 53.2h2.5M178.2 53.2h4.6M156.5 66.2h2.5M219.3 66.2h2.5M128.3 68.3h2.5M119.7 70.5h2.5M176 70.5h2.5M212.8 70.5h2.5M509.6 70.5h2.5M210.7 74.8h2.5M217.2 77h2.5M119.7 79.2h2.5M206.3 79.2h4.6M199.8 87.8h2.5M563.8 109.5h2.5M204.2 155h2.5M559.4 155h2.5M516.1 159.3h2.5M548.6 159.3h2.5M507.4 161.5h2.5M217.2 168h2.5M221.5 168h2.5M535.6 170.1h2.5M542.1 172.3h2.5M225.8 174.5h2.5M516.1 174.5h2.5M576.8 174.5h2.5M215 176.6h2.5M223.7 176.6h2.5M230.2 176.6h2.5M241 176.6h2.5M215 178.8h4.6M581.1 178.8h2.5M594.1 178.8h2.5M212.8 181h2.5M223.7 181h4.6M589.8 181h4.6M596.3 181h2.5M611.4 181h2.5M221.5 183.1h2.5M591.9 183.1h2.5M206.3 187.5h2.5M643.9 230.8h2.5M646.1 235.1h2.5M648.2 237.3h2.5M648.2 239.5h2.5M217.2 243.8h2.5M633.1 248.1h2.5"/>
<path stroke="#d3e32c" d="M176 53.2h2.5M171.7 55.3h6.8M152.2 66.2h2.5M115.3 74.8h2.5M212.8 77h2.5M210.7 79.2h4.6M219.3 81.3h2.5M552.9 146.3h2.5M542.1 165.8h2.5M219.3 168h2.5M223.7 170.1h2.5M533.4 172.3h2.5M583.3 172.3h2.5M219.3 174.5h2.5M228 174.5h2.5M581.1 174.5h2.5M225.8 176.6h2.5M591.9 176.6h2.5M232.3 178.8h2.5M228 181h2.5M643.9 235.1h2.5"/>
<path stroke="#e9e629" d="M178.2 55.3h4.6M147.8 64h2.5M147.8 66.2h2.5M154.3 66.2h2.5M507.4 70.5h2.5M208.5 77h4.6M215 77h2.5M555.1 144.2h2.5M507.4 159.3h2.5M223.7 172.3h2.5M544.3 174.5h2.5"/>
</g>
<use href="#outline"/>
</g>
<rect x="40.30" y="550.6" width="6.54" height="17.2" fill="#440256"/>
<rect x="46.44" y="550.6" width="6.54" height="17.2" fill="#450559"/>
<rect x="52.57" y="550.6" width="6.54" height="17.2" fill="#460a5d"/>
<rect x="58.71" y="550.6" width="6.54" height="17.2" fill="#470d60"/>
<rect x="64.85" y="550.6" width="6.54" height="17.2" fill="#471164"/>
<rect x="70.98" y="550.6" width="6.54" height="17.2" fill="#481668"/>
<rect x="77.12" y="550.6" width="6.54" height="17.2" fill="#48186a"/>
<rect x="83.26" y="550.6" width="6.54" height="17.2" fill="#481c6e"/>
<rect x="89.40" y="550.6" width="6.54" height="17.2" fill="#481f70"/>
<rect x="95.53" y="550.6" width="6.54" height="17.2" fill="#482374"/>
<rect x="101.67" y="550.6" width="6.54" height="17.2" fill="#482576"/>
<rect x="107.81" y="550.6" width="6.54" height="17.2" fill="#482979"/>
<rect x="113.94" y="550.6" width="6.54" height="17.2" fill="#472d7b"/>
<rect x="120.08" y="550.6" width="6.54" height="17.2" fill="#472f7d"/>
<rect x="126.22" y="550.6" width="6.54" height="17.2" fill="#46337f"/>
<rect x="132.36" y="550.6" width="6.54" height="17.2" fill="#453581"/>
<rect x="138.49" y="550.6" width="6.54" height="17.2" fill="#443983"/>
<rect x="144.63" y="550.6" width="6.54" height="17.2" fill="#443b84"/>
<rect x="150.77" y="550.6" width="6.54" height="17.2" fill="#423f85"/>
<rect x="156.90" y="550.6" width="6.54" height="17.2" fill="#424186"/>
<rect x="163.04" y="550.6" width="6.54" height="17.2" fill="#404588"/>
<rect x="169.18" y="550.6" width="6.54" height="17.2" fill="#3f4889"/>
<rect x="175.31" y="550.6" width="6.54" height="17.2" fill="#3e4a89"/>
<rect x="181.45" y="550.6" width="6.54" height="17.2" fill="#3d4e8a"/>
<rect x="187.59" y="550.6" width="6.54" height="17.2" fill="#3c508b"/>
<rect x="193.73" y="550.6" width="6.54" height="17.2" fill="#3a538b"/>
<rect x="199.86" y="550.6" width="6.54" height="17.2" fill="#39558c"/>
<rect x="206.00" y="550.6" width="6.54" height="17.2" fill="#38598c"/>
<rect x="212.14" y="550.6" width="6.54" height="17.2" fill="#375b8d"/>
<rect x="218.27" y="550.6" width="6.54" height="17.2" fill="#355e8d"/>
<rect x="224.41" y="550.6" width="6.54" height="17.2" fill="#34618d"/>
<rect x="230.55" y="550.6" width="6.54" height="17.2" fill="#33638d"/>
<rect x="236.68" y="550.6" width="6.54" height="17.2" fill="#31668e"/>
<rect x="242.82" y="550.6" width="6.54" height="17.2" fill="#31688e"/>
<rect x="248.96" y="550.6" width="6.54" height="17.2" fill="#2f6b8e"/>
<rect x="255.10" y="550.6" width="6.54" height="17.2" fill="#2e6d8e"/>
<rect x="261.23" y="550.6" width="6.54" height="17.2" fill="#2d708e"/>
<rect x="267.37" y="550.6" width="6.54" height="17.2" fill="#2c728e"/>
<rect x="273.51" y="550.6" width="6.54" height="17.2" fill="#2b748e"/>
<rect x="279.64" y="550.6" width="6.54" height="17.2" fill="#2a778e"/>
<rect x="285.78" y="550.6" width="6.54" height="17.2" fill="#29798e"/>
<rect x="291.92" y="550.6" width="6.54" height="17.2" fill="#287c8e"/>
<rect x="298.05" y="550.6" width="6.54" height="17.2" fill="#277e8e"/>
<rect x="304.19" y="550.6" width="6.54" height="17.2" fill="#26818e"/>
<rect x="310.33" y="550.6" width="6.54" height="17.2" fill="#26828e"/>
<rect x="316.47" y="550.6" width="6.54" height="17.2" fill="#25858e"/>
<rect x="322.60" y="550.6" width="6.54" height="17.2" fill="#23888e"/>
<rect x="328.74" y="550.6" width="6.54" height="17.2" fill="#238a8d"/>
<rect x="334.88" y="550.6" width="6.54" height="17.2" fill="#228d8d"/>
<rect x="341.01" y="550.6" width="6.54" height="17.2" fill="#218f8d"/>
<rect x="347.15" y="550.6" width="6.54" height="17.2" fill="#20928c"/>
<rect x="353.29" y="550.6" width="6.54" height="17.2" fill="#20938c"/>
<rect x="359.42" y="550.6" width="6.54" height="17.2" fill="#1f968b"/>
<rect x="365.56" y="550.6" width="6.54" height="17.2" fill="#1f988b"/>
<rect x="371.70" y="550.6" width="6.54" height="17.2" fill="#1e9b8a"/>
<rect x="377.84" y="550.6" width="6.54" height="17.2" fill="#1f9e89"/>
<rect x="383.97" y="550.6" width="6.54" height="17.2" fill="#1fa088"/>
<rect x="390.11" y="550.6" width="6.54" height="17.2" fill="#1fa287"/>
<rect x="396.25" y="550.6" width="6.54" height="17.2" fill="#20a486"/>
<rect x="402.38" y="550.6" width="6.54" height="17.2" fill="#22a785"/>
<rect x="408.52" y="550.6" width="6.54" height="17.2" fill="#23a983"/>
<rect x="414.66" y="550.6" width="6.54" height="17.2" fill="#25ac82"/>
<rect x="420.79" y="550.6" width="6.54" height="17.2" fill="#28ae80"/>
<rect x="426.93" y="550.6" width="6.54" height="17.2" fill="#2ab07f"/>
<rect x="433.07" y="550.6" width="6.54" height="17.2" fill="#2eb37c"/>
<rect x="439.21" y="550.6" width="6.54" height="17.2" fill="#31b57b"/>
<rect x="445.34" y="550.6" width="6.54" height="17.2" fill="#35b779"/>
<rect x="451.48" y="550.6" width="6.54" height="17.2" fill="#38b977"/>
<rect x="457.62" y="550.6" width="6.54" height="17.2" fill="#3dbc74"/>
<rect x="463.75" y="550.6" width="6.54" height="17.2" fill="#40bd72"/>
<rect x="469.89" y="550.6" width="6.54" height="17.2" fill="#46c06f"/>
<rect x="476.03" y="550.6" width="6.54" height="17.2" fill="#4cc26c"/>
<rect x="482.16" y="550.6" width="6.54" height="17.2" fill="#50c46a"/>
<rect x="488.30" y="550.6" width="6.54" height="17.2" fill="#56c667"/>
<rect x="494.44" y="550.6" width="6.54" height="17.2" fill="#5ac864"/>
<rect x="500.58" y="550.6" width="6.54" height="17.2" fill="#60ca60"/>
<rect x="506.71" y="550.6" width="6.54" height="17.2" fill="#65cb5e"/>
<rect x="512.85" y="550.6" width="6.54" height="17.2" fill="#6ccd5a"/>
<rect x="518.99" y="550.6" width="6.54" height="17.2" fill="#70cf57"/>
<rect x="525.12" y="550.6" width="6.54" height="17.2" fill="#77d153"/>
<rect x="531.26" y="550.6" width="6.54" height="17.2" fill="#7fd34e"/>
<rect x="537.40" y="550.6" width="6.54" height="17.2" fill="#84d44b"/>
<rect x="543.53" y="550.6" width="6.54" height="17.2" fill="#8bd646"/>
<rect x="549.67" y="550.6" width="6.54" height="17.2" fill="#90d743"/>
<rect x="555.81" y="550.6" width="6.54" height="17.2" fill="#98d83e"/>
<rect x="561.94" y="550.6" width="6.54" height="17.2" fill="#9dd93b"/>
<rect x="568.08" y="550.6" width="6.54" height="17.2" fill="#a5db36"/>
<rect x="574.22" y="550.6" width="6.54" height="17.2" fill="#addc30"/>
<rect x="580.36" y="550.6" width="6.54" height="17.2" fill="#b2dd2d"/>
<rect x="586.49" y="550.6" width="6.54" height="17.2" fill="#bade28"/>
<rect x="592.63" y="550.6" width="6.54" height="17.2" fill="#c0df25"/>
<rect x="598.77" y="550.6" width="6.54" height="17.2" fill="#c8e020"/>
<rect x="604.90" y="550.6" width="6.54" height="17.2" fill="#cde11d"/>
<rect x="611.04" y="550.6" width="6.54" height="17.2" fill="#d5e21a"/>
<rect x="617.18" y="550.6" width="6.54" height="17.2" fill="#dae319"/>
<rect x="623.32" y="550.6" width="6.54" height="17.2" fill="#e2e418"/>
<rect x="629.45" y="550.6" width="6.54" height="17.2" fill="#eae51a"/>
<rect x="635.59" y="550.6" width="6.54" height="17.2" fill="#efe51c"/>
<rect x="641.73" y="550.6" width="6.54" height="17.2" fill="#f6e620"/>
<rect x="647.86" y="550.6" width="6.14" height="17.2" fill="#fbe723"/>
<rect x="40.3" y="550.6" width="613.7" height="17.2" fill="none" stroke="#4a4a3a" stroke-width="0.7"/>
<line x1="40.3" y1="567.8" x2="40.3" y2="573.6" stroke="#4d4d4d" stroke-width="0.8"/>
<text x="40.3" y="589" text-anchor="middle" font-size="12.2">0</text>
<line x1="163.0" y1="567.8" x2="163.0" y2="573.6" stroke="#4d4d4d" stroke-width="0.8"/>
<text x="163.0" y="589" text-anchor="middle" font-size="12.2">20</text>
<line x1="285.8" y1="567.8" x2="285.8" y2="573.6" stroke="#4d4d4d" stroke-width="0.8"/>
<text x="285.8" y="589" text-anchor="middle" font-size="12.2">40</text>
<line x1="408.5" y1="567.8" x2="408.5" y2="573.6" stroke="#4d4d4d" stroke-width="0.8"/>
<text x="408.5" y="589" text-anchor="middle" font-size="12.2">60</text>
<line x1="531.3" y1="567.8" x2="531.3" y2="573.6" stroke="#4d4d4d" stroke-width="0.8"/>
<text x="531.3" y="589" text-anchor="middle" font-size="12.2">80</text>
<line x1="654.0" y1="567.8" x2="654.0" y2="573.6" stroke="#4d4d4d" stroke-width="0.8"/>
<text x="654.0" y="589" text-anchor="middle" font-size="12.2">100</text>
<text x="38.8" y="543" font-size="12.4" textLength="95.3" lengthAdjust="spacingAndGlyphs">Contribution (%)</text>
<rect x="61.9" y="679.0" width="39.8" height="102.0" fill="#f6bb89"/>
<rect x="101.7" y="666.2" width="39.8" height="114.8" fill="#408d87"/>
<line x1="101.6" y1="788.5" x2="101.6" y2="794.5" stroke="#4d4d4d" stroke-width="0.8"/>
<text transform="translate(107.1,804.5) rotate(-45)" x="-33.8" font-size="12.4" textLength="33.8" lengthAdjust="spacingAndGlyphs">Africa</text>
<rect x="150.3" y="703.2" width="39.8" height="77.8" fill="#f6bb89"/>
<rect x="190.1" y="641.1" width="39.8" height="139.9" fill="#408d87"/>
<line x1="190.2" y1="788.5" x2="190.2" y2="794.5" stroke="#4d4d4d" stroke-width="0.8"/>
<text transform="translate(195.7,804.5) rotate(-45)" x="-25.6" font-size="12.4" textLength="25.6" lengthAdjust="spacingAndGlyphs">Asia</text>
<rect x="238.7" y="665.7" width="39.8" height="115.3" fill="#f6bb89"/>
<rect x="278.5" y="679.0" width="39.8" height="102.0" fill="#408d87"/>
<line x1="278.8" y1="788.5" x2="278.8" y2="794.5" stroke="#4d4d4d" stroke-width="0.8"/>
<text transform="translate(284.3,804.5) rotate(-45)" x="-51.4" font-size="12.4" textLength="51.4" lengthAdjust="spacingAndGlyphs">Australia</text>
<rect x="327.1" y="707.0" width="39.8" height="74.0" fill="#f6bb89"/>
<rect x="366.9" y="637.0" width="39.8" height="144.0" fill="#408d87"/>
<line x1="367.5" y1="788.5" x2="367.5" y2="794.5" stroke="#4d4d4d" stroke-width="0.8"/>
<text transform="translate(373.0,804.5) rotate(-45)" x="-42.6" font-size="12.4" textLength="42.6" lengthAdjust="spacingAndGlyphs">Europe</text>
<rect x="415.5" y="712.6" width="39.8" height="68.4" fill="#f6bb89"/>
<rect x="455.3" y="632.1" width="39.8" height="148.9" fill="#408d87"/>
<line x1="456.1" y1="788.5" x2="456.1" y2="794.5" stroke="#4d4d4d" stroke-width="0.8"/>
<text transform="translate(461.6,804.5) rotate(-45)" x="-83.6" font-size="12.4" textLength="83.6" lengthAdjust="spacingAndGlyphs">North America</text>
<rect x="503.9" y="713.1" width="39.8" height="67.9" fill="#f6bb89"/>
<rect x="543.7" y="631.0" width="39.8" height="150.0" fill="#408d87"/>
<line x1="544.7" y1="788.5" x2="544.7" y2="794.5" stroke="#4d4d4d" stroke-width="0.8"/>
<text transform="translate(550.2,804.5) rotate(-45)" x="-85.8" font-size="12.4" textLength="85.8" lengthAdjust="spacingAndGlyphs">South America</text>
<rect x="592.3" y="701.8" width="39.8" height="79.2" fill="#f6bb89"/>
<rect x="632.1" y="642.4" width="39.8" height="138.6" fill="#408d87"/>
<line x1="633.3" y1="788.5" x2="633.3" y2="794.5" stroke="#4d4d4d" stroke-width="0.8"/>
<text transform="translate(638.8,804.5) rotate(-45)" x="-38.2" font-size="12.4" textLength="38.2" lengthAdjust="spacingAndGlyphs">Global</text>
<path d="M48.6 623.4V788.5H685" fill="none" stroke="#4d4d4d" stroke-width="0.9"/>
<line x1="43.2" y1="781.0" x2="48.6" y2="781.0" stroke="#4d4d4d" stroke-width="0.8"/>
<text x="37.2" y="785.3" text-anchor="end" font-size="12.2">0</text>
<line x1="43.2" y1="736.1" x2="48.6" y2="736.1" stroke="#4d4d4d" stroke-width="0.8"/>
<text x="37.2" y="740.4" text-anchor="end" font-size="12.2">20</text>
<line x1="43.2" y1="691.3" x2="48.6" y2="691.3" stroke="#4d4d4d" stroke-width="0.8"/>
<text x="37.2" y="695.6" text-anchor="end" font-size="12.2">40</text>
<line x1="43.2" y1="646.5" x2="48.6" y2="646.5" stroke="#4d4d4d" stroke-width="0.8"/>
<text x="37.2" y="650.8" text-anchor="end" font-size="12.2">60</text>
<text transform="translate(10.8,777.6) rotate(-90)" font-size="12.4" textLength="144.8" lengthAdjust="spacingAndGlyphs">Average contribution (%)</text>
<rect x="63.5" y="616.8" width="18.8" height="19.3" fill="#f6bb89"/>
<text x="90.4" y="630.9" font-size="12.4" textLength="25.8" lengthAdjust="spacingAndGlyphs">AED</text>
<rect x="135.6" y="616.8" width="18.4" height="19.3" fill="#408d87"/>
<text x="162.4" y="630.9" font-size="12.4" textLength="73" lengthAdjust="spacingAndGlyphs">Precipitation</text>
<text x="0.3" y="10.2" font-size="14.5" font-weight="bold" fill="#111">a</text>
<text x="0.3" y="282.2" font-size="14.5" font-weight="bold" fill="#111">b</text>
<text x="0.3" y="614.6" font-size="14.5" font-weight="bold" fill="#111">c</text>
<text x="329.2" y="12.9" font-size="12.4" textLength="26" lengthAdjust="spacingAndGlyphs">AED</text>
<text x="334.9" y="282.5" font-size="12.4" textLength="72.2" lengthAdjust="spacingAndGlyphs">Precipitation</text>
</svg>
</body></html>
